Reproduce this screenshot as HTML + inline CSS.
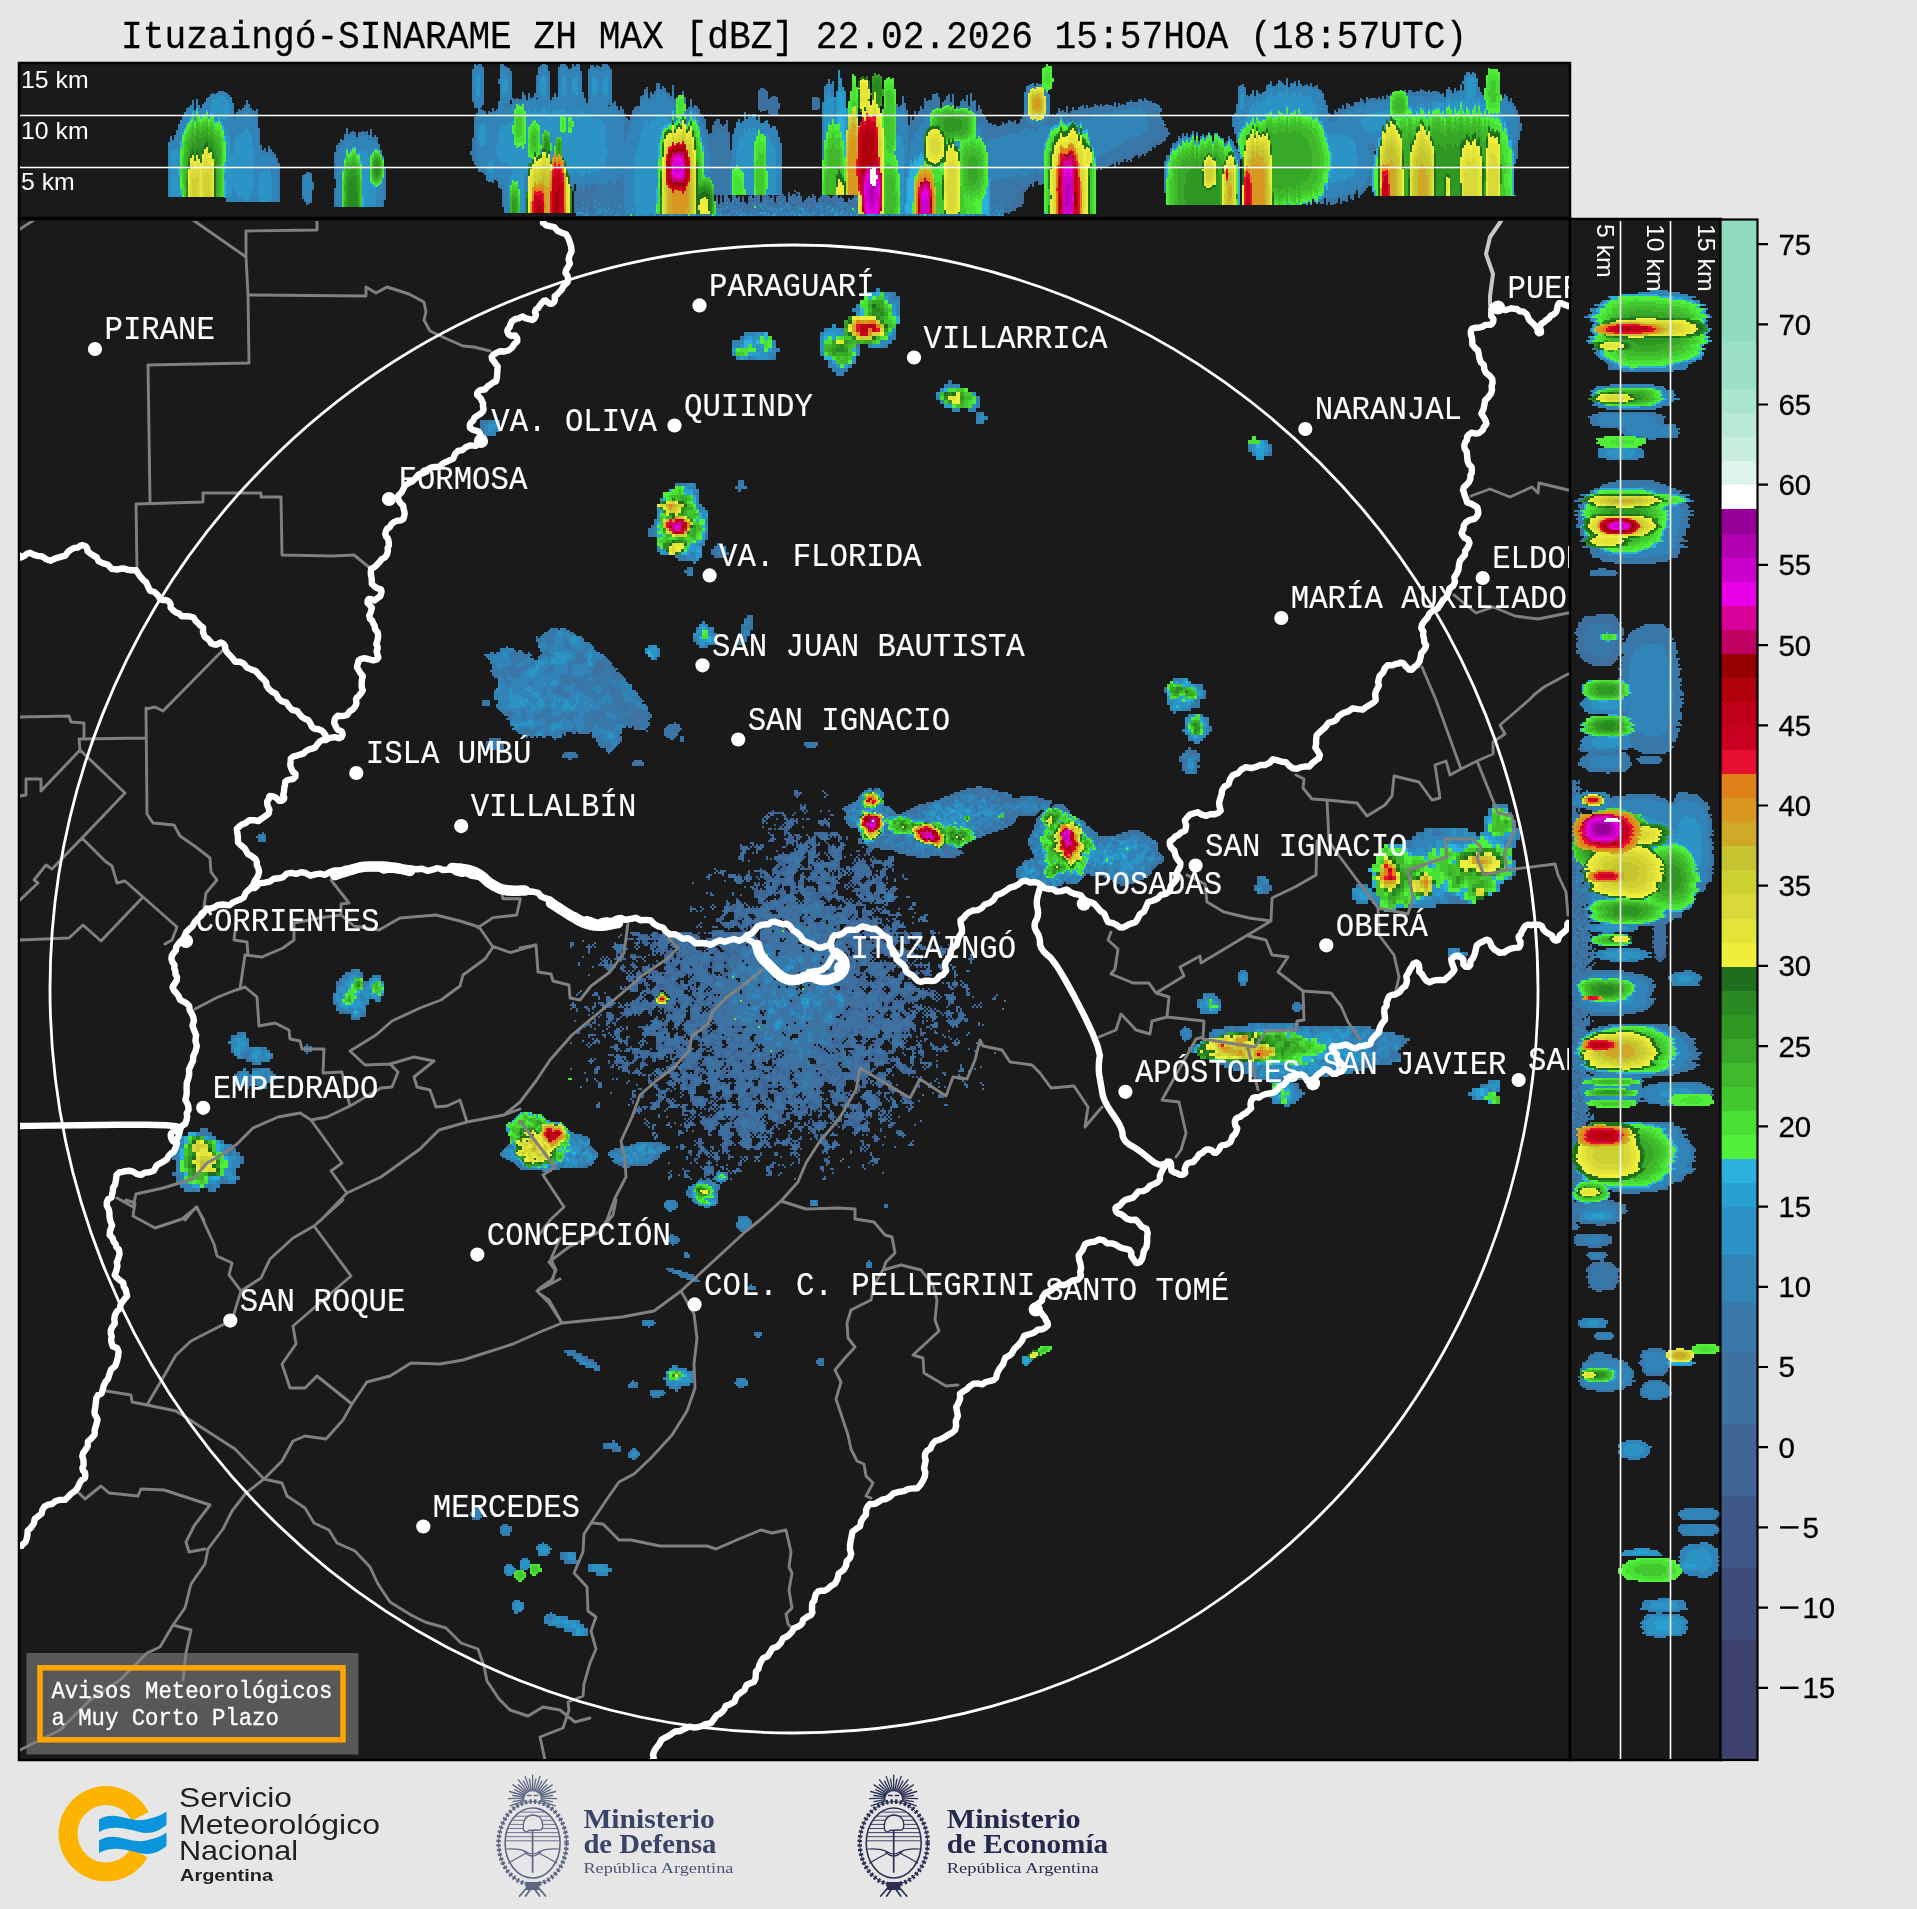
<!DOCTYPE html>
<html><head><meta charset="utf-8"><title>Ituzaingo SINARAME ZH MAX</title>
<style>
html,body{margin:0;padding:0;background:#e6e6e6;}
body{width:1917px;height:1909px;overflow:hidden;position:relative;font-family:"Liberation Sans",sans-serif;}
svg{position:absolute;left:0;top:0;display:block}
.m{font-family:"Liberation Mono",monospace;}
.s{font-family:"Liberation Sans",sans-serif;}
.f{font-family:"Liberation Serif",serif;}
</style></head><body>
<svg width="1917" height="1909" viewBox="0 0 1917 1909">
<defs>
<filter id="idf" x="-2%" y="-20%" width="104%" height="140%"><feOffset dx="0" dy="0"/></filter>
<filter id="nf" x="-2%" y="-20%" width="104%" height="140%" color-interpolation-filters="sRGB"><feColorMatrix type="saturate" values="0"/></filter>
<clipPath id="cm"><rect x="20" y="221" width="1549" height="1538"/></clipPath>
<clipPath id="ct"><rect x="20" y="64" width="1549" height="152"/></clipPath>
<clipPath id="cr"><rect x="1572" y="221" width="148" height="1538"/></clipPath>
</defs>
<rect width="1917" height="1909" fill="#e6e6e6"/>

<text filter="url(#nf)" class="m" x="121" y="47.8" font-size="36.2" fill="#000" stroke="#000" stroke-width="0.25" transform="translate(0,47.8) scale(1,1.07) translate(0,-47.8)" xml:space="preserve">Ituzaingó-SINARAME ZH MAX [dBZ] 22.02.2026 15:57HOA (18:57UTC)</text>
<rect x="19" y="63" width="1551" height="155" fill="#1a1a1a" stroke="#000" stroke-width="2.5"/>
<rect x="19" y="219" width="1551" height="1541" fill="#1a1a1a" stroke="#000" stroke-width="2.5"/>
<rect x="1570" y="219" width="151" height="1541" fill="#1a1a1a" stroke="#000" stroke-width="2.5"/>
<g clip-path="url(#ct)"><g fill="none" stroke-width="2.15" shape-rendering="crispEdges">
<path stroke="#3e6496" d="M577 200v16M579 196v20M581 196v20M583 196v20M585 198v18M587 196v20M589 194v22M591 202v14M593 198v18M595 198v18M597 200v16M599 204v12M601 194v22M603 194v22M605 190v26M607 198v18M609 196v20M611 190v26M613 202v14M615 204v12M617 198v2M617 202v14M619 204v12M621 192v2M621 196v20M623 190v26M625 200v16M627 196v20M629 198v18M631 196v20M633 186v30M635 194v22M637 196v20M639 196v2M639 200v16M641 198v18M643 200v16M645 200v16M647 198v18M649 194v22M651 190v2M651 194v22M653 196v20M655 194v2M655 198v18M657 194v22M659 194v22M661 198v18M663 196v20M665 202v14M667 192v2M667 196v20M669 192v24M671 192v24M673 204v12M675 198v18M677 192v24M679 198v18M681 190v2M681 194v22M683 194v22M685 196v20M687 198v18M689 192v24M691 198v2M691 202v14M693 196v20M695 194v22M697 196v2M697 200v16M699 200v16M701 204v12M703 188v2M703 194v22M705 198v18M707 196v20M709 198v2M709 202v14M711 200v16M713 198v18M715 204v12M717 194v22M719 204v12M721 194v22M723 202v14M725 186v30M727 192v24M729 198v18M731 202v14M733 192v24M735 194v22M737 198v18M739 196v20M741 202v14M743 196v20M745 202v14M747 204v12M749 196v20M751 192v24M753 198v18M755 194v22M757 190v2M757 194v22M759 188v28M761 202v14M763 192v24M765 194v22M767 194v22M769 196v20M771 198v18M773 188v28M775 202v14M777 196v20M779 194v22M781 190v26M783 194v22M785 196v20M787 202v14M789 192v24M791 196v20M793 194v22M795 190v2M795 194v22M797 192v2M797 196v20M799 192v24M801 196v20M803 202v14M805 200v16M807 198v18M809 196v20M811 198v18M813 194v22M815 196v20M817 202v14M819 198v18M821 196v20M823 188v2M823 192v24M825 184v32M827 194v22M829 196v20M831 198v18M833 196v20M835 194v22M837 184v32M839 198v18M841 196v20M843 198v18M845 202v14M847 202v14M849 198v18M851 200v16M853 198v18M855 194v22M857 194v22M859 192v24M861 194v22M863 196v20M865 196v20M867 196v20M869 190v26M871 188v2M871 192v24M873 194v22M875 200v16M877 202v14M879 192v24M881 192v24M883 198v18M885 196v20M887 196v20M889 200v16M891 190v26M893 194v22M895 196v20M897 196v2M897 200v16M899 198v18M901 200v16M903 198v18M905 200v16M907 196v2M907 200v16M909 204v12M911 202v14M913 200v16M915 194v2M915 198v18M917 188v2M917 192v24M919 206v10M921 196v20M923 192v24M925 200v16M927 204v12M929 196v2M929 200v16M931 198v18M933 198v18M935 202v14M937 200v16M939 202v14M941 192v24M943 204v12M945 196v20M947 200v16M949 200v16M951 204v12M953 200v16M955 196v20M957 204v12M959 202v14M961 202v14M963 200v16M965 202v14M967 204v12M969 204v12M971 202v14M973 198v18M975 202v14M977 198v18M979 196v20M981 200v2M981 204v12M983 200v16M985 200v16M987 196v20M989 200v16M991 198v18M993 206v10M995 194v22M997 208v8M999 200v16M1001 202v14M1003 200v16"/>
<path stroke="#3e70a0" d="M577 200v2M577 204v12M579 198v18M581 196v4M581 202v14M583 196v20M585 200v16M587 196v20M589 198v18M591 202v2M591 206v10M593 198v2M593 204v12M595 198v18M597 200v16M599 204v12M601 198v2M601 202v14M603 196v20M605 192v8M605 202v2M605 206v10M607 198v18M609 198v18M611 190v10M611 202v14M613 202v2M613 206v10M615 204v4M615 210v6M617 202v14M619 204v12M621 196v20M623 192v6M623 200v16M625 200v16M627 196v6M627 206v10M629 198v2M629 202v14M631 196v20M633 192v6M633 202v14M635 194v22M637 196v20M639 196v2M639 200v16M641 198v2M641 202v4M641 208v8M643 200v16M645 200v16M647 202v14M649 194v4M649 200v16M651 194v4M651 200v16M653 196v4M653 202v14M655 198v2M655 202v14M657 194v22M659 194v4M659 200v16M661 198v2M661 202v14M663 198v4M663 204v12M665 202v14M667 196v20M669 194v14M669 210v6M671 196v20M673 204v12M675 198v18M677 192v2M677 196v20M679 200v16M681 194v4M681 200v16M683 196v2M683 200v16M685 196v2M685 200v16M687 198v8M687 208v8M689 194v2M689 198v18M691 202v14M693 198v18M695 194v22M697 202v14M699 202v14M701 204v12M703 194v22M705 198v18M707 196v2M707 200v16M709 202v14M711 200v8M711 210v6M713 198v12M713 212v4M715 204v12M717 198v18M719 204v2M719 208v8M721 198v18M723 204v12M725 188v2M725 194v22M727 192v2M727 196v4M727 202v8M727 212v4M729 198v4M729 204v6M729 212v4M731 202v14M733 192v6M733 200v16M735 196v6M735 204v12M737 198v18M739 198v18M741 202v14M743 198v18M745 202v14M747 204v12M749 198v2M749 202v14M751 196v20M753 198v2M753 202v14M755 194v22M757 194v2M757 198v18M759 190v2M759 196v20M761 202v14M763 194v2M763 198v18M765 194v2M765 198v18M767 194v22M769 196v2M769 200v16M771 198v18M773 188v6M773 198v18M775 204v12M777 198v4M777 204v12M779 196v20M781 192v2M781 196v2M781 200v16M783 198v18M785 196v20M787 202v14M789 194v22M791 196v6M791 204v12M793 194v10M793 206v10M795 194v10M795 206v10M797 196v20M799 192v24M801 198v18M803 202v14M805 200v2M805 204v12M807 198v18M809 196v20M811 198v4M811 204v12M813 198v18M815 196v2M815 200v16M817 202v14M819 198v18M821 200v16M823 192v8M823 202v14M825 188v2M825 192v24M827 196v6M827 204v12M829 196v20M831 198v2M831 202v14M833 198v6M833 206v10M835 194v22M837 190v2M837 194v22M839 198v18M841 198v18M843 198v18M845 202v6M845 210v6M847 202v14M849 198v4M849 204v12M851 200v16M853 198v18M855 194v22M857 196v20M859 192v2M859 196v2M859 200v16M861 194v22M863 196v20M865 196v20M867 196v2M867 200v16M869 192v16M869 210v6M871 192v4M871 198v18M873 196v2M873 200v16M875 200v8M875 210v6M877 202v14M879 194v8M879 204v12M881 192v4M881 200v16M883 198v18M885 196v10M885 208v8M887 196v4M887 202v6M887 210v6M889 200v16M891 192v6M891 200v16M893 194v22M895 196v6M895 204v12M897 200v16M899 198v18M901 200v16M903 198v18M905 200v16M907 200v16M909 204v12M911 204v6M911 212v4M913 200v16M915 198v18M917 194v6M917 202v14M919 206v10M921 196v20M923 196v20M925 200v16M927 204v12M929 200v16M931 198v18M933 200v16M935 202v14M937 200v2M937 204v12M939 204v12M941 196v20M943 204v12M945 196v20M947 200v16M949 200v16M951 204v12M953 200v2M953 206v10M955 196v20M957 204v12M959 204v12M961 204v12M963 200v16M965 202v14M967 204v12M969 204v12M971 202v14M973 200v2M973 204v12M975 202v14M977 198v18M979 196v20M981 204v12M983 200v16M985 200v16M987 196v10M987 208v8M989 202v14M991 200v2M991 204v12M993 206v10M995 196v16M995 214v2M997 208v8M999 200v16M1001 202v2M1001 206v10M1003 200v16M471 151v4M473 69v33M473 138v23M475 64v44M475 117v48M477 65v43M477 113v54M479 64v108M481 64v44M481 109v63M483 67v38M483 110v63M485 111v64M487 114v67M489 111v71M491 112v70M493 108v75M495 111v69M497 109v72M499 79v5M499 101v87M501 64v125M503 64v143M505 66v147M507 67v146M509 68v145M511 71v29M511 104v109M513 98v115M515 99v114M517 98v115M519 99v114M521 99v114M523 92v121M525 95v118M527 100v113M529 93v120M531 98v115M533 97v116M535 93v120M537 75v23M537 99v114M539 67v146M541 65v148M543 64v149M545 64v149M547 65v148M549 71v142M551 100v113M553 97v116M555 93v120M557 97v116M559 67v146M561 64v149M563 64v149M565 64v149M567 66v147M569 69v144M571 68v119M571 188v25M573 64v127M575 66v118M575 191v22M577 64v149M579 64v149M581 71v142M583 92v121M585 98v115M587 103v110M589 69v144M591 65v148M593 65v148M595 67v146M597 65v148M599 66v147M601 67v146M603 64v149M605 64v149M607 64v149M609 66v39M609 106v107M611 69v144M613 103v110M615 101v112M617 106v107M619 110v103M621 106v107M623 109v104M625 114v99M627 118v95M629 137v76M631 149v5M631 171v42M633 171v42M635 172v41M637 178v35M639 182v31M709 147v39M711 133v62M713 125v70M715 121v74M717 119v76M719 119v76M721 124v71M723 126v69M725 124v71M727 120v75M729 132v63M731 150v45M733 134v61M735 128v67M737 122v73M739 119v76M741 123v72M743 121v74M745 112v83M747 119v76M749 114v81M751 117v78M753 114v81M755 114v81M757 120v75M759 90v20M759 115v80M761 88v24M761 123v72M763 88v23M763 123v72M765 89v22M765 121v74M767 91v19M767 120v75M769 99v15M769 124v71M771 97v18M771 128v67M773 96v19M773 126v69M775 96v20M775 126v69M777 97v18M777 130v65M779 103v6M779 137v58M781 143v52M813 97v13M815 97v13M817 97v13M819 98v11M823 102v93M825 86v109M827 84v111M829 79v116M831 84v111M833 81v114M835 97v98M837 91v104M839 70v125M841 78v117M843 87v108M845 91v104M847 108v87M849 101v94M851 91v104M853 74v121M855 76v119M857 87v108M859 126v69M917 177v7M919 173v14M921 170v20M923 158v35M925 153v42M927 150v46M929 150v45M931 147v50M933 144v55M935 144v55M937 147v48M939 147v48M941 142v56M943 140v59M945 142v55M947 139v60M949 140v58M951 139v59M953 138v60M955 137v60M957 138v58M959 133v76M961 134v76M963 136v74M965 135v76M967 136v75M969 132v82M971 135v77M973 133v81M975 130v84M977 130v84M979 129v85M981 132v81M983 127v87M985 129v85M987 125v89M989 128v85M991 123v91M993 125v89M995 124v90M997 126v87M999 126v87M1001 125v88M1003 122v92M1005 124v89M1007 123v90M1009 120v94M1011 121v91M1013 122v89M1015 120v91M1017 124v84M1019 123v84M1021 119v88M1023 116v88M1025 115v77M1027 115v75M1029 117v70M1031 119v65M1033 115v72M1035 120v62M1037 120v61M1039 115v70M1041 114v71M1043 114v70M1045 112v74M1047 113v71M1049 114v68M1051 116v63M1053 114v66M1055 115v63M1057 113v66M1059 108v75M1061 111v68M1063 110v69M1065 112v64M1067 106v75M1069 113v60M1071 111v64M1073 107v71M1075 110v64M1077 110v64M1079 107v69M1081 106v70M1083 105v70M1085 108v64M1087 105v69M1089 108v62M1091 107v63M1093 107v63M1095 104v68M1097 105v65M1099 106v62M1101 104v66M1103 106v61M1105 105v63M1107 104v63M1109 105v61M1111 105v60M1113 106v58M1115 102v66M1117 107v55M1119 103v62M1121 105v57M1123 104v58M1125 105v54M1127 102v60M1129 102v58M1131 100v62M1133 102v56M1135 102v54M1137 102v53M1139 99v59M1141 99v57M1143 101v53M1145 98v58M1147 100v53M1149 101v50M1151 101v50M1153 103v44M1155 103v45M1157 104v41M1159 105v40M1161 108v4M1161 117v27M1163 120v22M1165 124v2M1165 127v14M1167 128v9M1169 132v3"/>
<path stroke="#3878a8" d="M577 204v2M577 208v2M577 212v4M579 198v4M579 208v8M581 202v2M581 206v10M583 202v8M583 212v4M585 204v2M585 210v2M585 214v2M587 196v2M587 200v4M587 208v8M589 204v2M589 208v4M589 214v2M591 210v2M593 204v2M593 208v8M595 200v2M595 204v4M595 210v6M597 204v12M599 204v6M599 212v2M601 208v8M603 200v16M605 198v2M605 206v6M605 214v2M607 210v2M607 214v2M609 202v2M609 208v8M611 194v4M611 204v12M613 208v6M615 204v2M615 210v6M617 202v14M619 206v2M619 210v6M621 206v4M621 212v4M623 210v6M625 202v4M625 208v8M627 200v2M627 206v10M629 198v2M629 206v4M629 212v4M631 200v2M631 204v8M631 214v2M633 192v2M633 196v2M633 204v10M635 196v6M635 204v4M635 212v4M637 200v2M637 206v4M637 212v4M639 202v4M639 208v4M639 214v2M641 210v2M641 214v2M643 204v6M643 214v2M645 200v2M645 206v2M645 210v6M647 206v2M647 210v2M647 214v2M649 200v6M649 208v2M649 214v2M651 208v2M651 212v4M653 196v2M653 204v2M653 208v8M655 202v2M655 208v8M657 196v4M657 202v2M657 206v2M657 210v2M659 206v2M659 210v6M661 202v2M661 206v2M661 210v6M663 206v10M665 202v14M667 196v2M667 200v6M667 208v8M669 198v4M669 206v2M669 210v6M671 202v10M671 214v2M673 204v2M673 208v8M675 200v8M675 212v4M677 198v2M677 202v2M677 206v6M677 214v2M679 202v2M679 206v2M679 210v6M681 196v2M681 202v6M681 210v6M683 204v2M683 210v4M685 200v2M685 204v12M687 202v4M687 208v2M687 212v4M689 194v2M689 202v2M689 210v6M691 204v12M693 202v14M695 204v6M695 212v4M697 204v6M697 212v4M699 206v2M699 210v6M701 208v2M701 212v4M703 206v4M703 214v2M705 198v18M707 200v4M707 208v8M709 202v14M711 210v6M713 200v2M713 204v6M713 212v4M715 204v2M715 210v6M717 200v4M717 208v8M719 208v8M721 208v2M721 212v4M723 204v2M723 208v4M723 214v2M725 198v2M725 202v2M725 208v4M725 214v2M727 196v2M727 202v2M727 206v4M727 212v4M729 200v2M729 206v4M729 212v4M731 202v2M731 206v8M733 200v8M733 210v2M733 214v2M735 196v4M735 206v2M735 210v6M737 200v4M737 206v2M737 210v4M739 202v2M739 210v6M741 208v8M743 202v6M743 210v6M745 208v8M747 208v4M747 214v2M749 202v2M749 208v2M749 212v4M751 196v4M751 204v2M751 208v2M751 212v4M753 202v4M753 208v4M753 214v2M755 198v2M755 202v10M755 214v2M757 204v12M759 196v2M759 200v2M759 204v2M759 208v8M761 204v4M761 210v4M763 202v8M763 212v4M765 198v4M765 204v2M765 210v6M767 198v6M767 206v10M769 200v2M769 204v12M771 198v6M771 206v6M771 214v2M773 206v10M775 206v10M777 208v8M779 198v2M779 202v6M779 210v6M781 196v2M781 200v4M781 206v10M783 198v2M783 204v12M785 202v2M785 206v2M785 210v4M787 204v6M787 212v4M789 194v2M789 198v2M789 204v8M789 214v2M791 198v2M791 206v2M791 210v6M793 206v10M795 202v2M795 210v6M797 200v2M797 206v10M799 194v4M799 202v8M799 212v4M801 202v2M801 206v4M801 212v4M803 202v2M803 206v10M805 200v2M805 204v2M805 208v2M805 212v4M807 208v8M809 200v8M809 210v6M811 198v2M811 208v4M811 214v2M813 204v2M813 208v8M815 200v2M815 204v2M815 208v2M815 212v4M817 206v6M817 214v2M819 200v4M819 206v2M819 210v2M819 214v2M821 200v2M821 204v12M823 202v14M825 192v2M825 200v6M825 210v6M827 200v2M827 204v10M829 206v10M831 204v4M831 210v6M833 198v4M833 206v6M833 214v2M835 194v2M835 198v4M835 204v2M835 208v8M837 206v4M837 212v4M839 202v6M839 212v4M841 198v2M841 202v2M841 206v10M843 200v2M843 204v12M845 202v6M845 210v6M847 202v4M847 208v8M849 200v2M849 208v4M851 204v2M851 208v2M851 212v4M853 198v2M853 206v6M855 198v2M855 202v2M855 206v10M857 196v6M857 208v8M859 200v2M859 204v4M859 212v4M861 198v2M861 202v8M863 202v12M865 200v2M865 206v10M867 202v14M869 196v4M869 202v2M869 206v2M869 210v6M871 194v2M871 198v2M871 202v10M871 214v2M873 200v2M873 210v6M875 204v2M875 210v2M875 214v2M877 204v4M877 210v2M877 214v2M879 200v2M879 204v12M881 202v6M881 212v4M883 200v2M883 206v2M883 210v6M885 200v2M885 204v2M885 208v8M887 206v2M887 210v6M889 202v8M891 194v4M891 200v16M893 200v8M893 212v4M895 200v2M895 208v6M897 200v2M897 204v2M897 208v2M897 212v4M899 200v2M899 206v2M899 210v6M901 202v2M901 206v10M903 200v6M903 210v4M905 200v6M905 210v6M907 200v4M907 206v10M909 206v4M909 212v4M911 214v2M913 200v6M913 208v8M915 202v2M915 206v4M915 212v4M917 206v6M917 214v2M919 206v10M921 196v2M921 202v2M921 206v2M921 210v2M921 214v2M923 200v4M923 206v10M925 206v10M927 206v2M927 210v6M929 206v6M929 214v2M931 202v14M933 200v2M933 204v12M935 202v2M935 206v10M937 204v8M937 214v2M939 204v12M941 200v4M941 206v2M941 210v2M941 214v2M943 206v2M943 210v2M943 214v2M945 200v2M945 208v8M947 202v10M947 214v2M949 206v6M949 214v2M951 206v10M953 206v6M953 214v2M955 204v2M955 208v8M957 204v12M959 204v2M959 208v8M961 206v10M963 202v14M965 206v10M967 206v10M969 206v4M969 214v2M971 204v2M971 208v8M973 204v4M973 210v6M975 204v12M977 204v4M977 210v2M977 214v2M979 196v6M979 204v12M981 206v2M981 212v4M983 200v4M983 206v6M983 214v2M985 200v2M985 206v6M987 200v4M987 212v4M989 208v8M991 200v2M991 208v8M993 206v2M993 210v4M995 198v4M995 204v4M995 210v2M995 214v2M997 208v8M999 204v4M999 210v6M1001 206v10M1003 202v2M1003 208v8M225 174v24M227 129v73M229 120v82M231 115v87M233 111v91M235 114v88M237 112v90M239 109v93M241 110v92M243 108v94M245 105v97M247 100v102M249 104v98M251 108v94M253 110v92M255 111v91M257 109v93M259 128v74M261 145v57M263 150v52M265 148v54M267 152v50M269 146v56M271 149v53M273 152v50M275 154v48M277 158v44M279 163v39M303 175v24M305 174v28M307 172v33M309 172v32M311 173v30M313 182v8M335 152v27M335 188v19M337 145v62M339 143v64M341 139v68M343 140v67M345 134v73M347 128v79M349 134v73M351 132v75M353 131v76M355 132v75M357 137v70M359 132v75M361 132v75M363 131v76M365 132v75M367 131v76M369 135v72M371 129v78M373 137v70M375 135v72M377 137v70M379 144v63M381 150v57M383 156v51M385 167v33M471 151v4M473 69v33M473 138v23M475 64v44M475 117v48M477 65v43M477 113v54M479 64v108M481 64v44M481 109v63M483 67v38M483 110v63M485 111v64M487 114v67M489 111v71M491 112v70M493 108v75M495 111v69M497 109v72M499 79v5M499 101v87M501 64v125M503 64v143M505 66v147M507 67v146M509 68v145M511 71v29M511 104v109M513 98v115M515 99v114M517 98v115M519 99v114M521 99v114M523 92v121M525 95v118M527 100v113M529 93v120M531 98v115M533 97v116M535 93v120M537 75v23M537 99v114M539 67v146M541 65v148M543 64v149M545 64v149M547 65v148M549 71v142M551 100v113M553 97v116M555 93v120M557 97v116M559 67v146M561 64v149M563 64v149M565 64v149M567 66v147M569 69v144M571 68v119M571 188v25M573 64v127M575 66v118M577 64v122M579 64v128M581 71v118M583 92v101M585 98v90M587 103v80M589 69v121M591 65v123M593 65v122M593 197v11M595 67v117M595 191v22M597 65v122M597 188v25M599 66v147M601 67v146M603 64v149M605 64v149M607 64v149M609 66v39M609 106v77M609 184v29M611 69v144M613 103v110M615 101v112M617 106v77M617 186v27M619 110v70M619 189v24M621 106v78M621 191v22M623 109v72M625 114v63M627 118v55M629 137v37M631 149v5M621 146v43M621 192v22M623 136v78M625 128v86M627 122v92M629 120v94M631 116v98M633 110v104M635 107v107M637 106v108M639 106v108M641 96v118M643 95v119M645 89v125M647 87v127M649 98v116M651 92v122M653 94v120M655 91v123M657 83v131M659 83v131M661 89v125M663 86v128M665 88v126M667 92v122M669 93v121M671 96v118M673 85v129M675 99v115M677 97v117M679 95v119M681 95v119M683 91v123M685 97v117M687 109v105M689 107v107M691 99v115M693 107v107M695 105v109M697 106v108M699 109v105M701 114v100M703 115v99M705 119v95M707 129v85M709 134v80M711 146v68M713 184v30M715 201v13M711 145v49M713 135v60M715 130v65M717 127v68M719 126v69M721 131v64M723 132v63M725 132v63M727 131v64M729 145v48M731 161v34M733 134v61M735 128v67M737 122v73M739 119v76M741 123v72M743 121v74M745 112v83M747 119v76M749 114v81M751 117v78M753 114v81M755 114v81M757 120v75M759 115v80M761 123v72M763 123v72M765 121v74M767 120v75M769 124v71M771 128v67M773 126v69M775 126v69M777 130v65M779 137v58M781 143v52M823 102v93M825 86v109M827 84v111M829 79v116M831 84v111M833 81v114M835 97v98M837 91v104M839 70v125M841 78v117M843 87v108M845 91v104M847 108v87M849 101v94M851 91v104M853 74v121M855 76v119M857 87v108M859 126v69M857 159v17M859 81v27M859 127v87M861 77v35M861 122v92M863 76v138M865 78v32M865 111v103M867 76v138M869 81v133M871 93v2M871 105v109M873 76v138M875 73v141M877 75v139M879 74v140M881 76v30M881 113v101M883 89v7M883 109v105M885 80v134M887 78v136M889 77v137M891 79v135M893 78v136M895 89v125M897 104v110M899 107v107M901 105v109M903 96v118M905 103v111M907 110v104M909 134v80M899 161v33M901 150v54M903 134v80M905 123v91M907 127v87M909 125v89M911 115v99M913 120v94M915 111v103M917 115v99M919 111v103M921 106v108M923 109v105M925 98v116M927 101v113M929 100v114M931 100v114M933 94v120M935 94v120M937 93v121M939 97v117M941 108v106M943 102v112M945 100v114M947 96v118M949 94v120M951 102v112M953 94v120M955 109v105M957 106v108M959 106v108M961 101v113M963 99v115M965 101v113M967 95v119M969 106v108M971 93v121M973 101v113M975 100v114M977 111v103M979 105v109M981 109v105M983 114v100M985 115v99M987 120v94M989 123v91M991 127v87M993 133v39M993 193v21M927 173v11M929 170v16M931 165v24M933 152v40M935 150v43M937 152v39M939 151v40M941 147v47M943 144v51M945 145v49M947 143v52M949 143v51M951 142v52M953 141v53M955 141v53M957 141v52M959 136v60M961 137v58M963 139v53M965 138v64M967 139v65M969 135v72M971 138v68M973 135v73M975 133v77M977 133v77M979 132v78M981 135v73M983 130v80M985 131v78M987 128v82M989 131v78M991 126v84M993 128v81M995 127v82M997 129v79M999 128v80M1001 128v80M1003 124v85M1005 127v81M1007 126v81M1009 123v85M1011 123v83M1013 125v79M1015 123v79M1017 126v57M1017 188v5M1019 126v56M1021 122v64M1023 119v69M1025 118v69M1027 118v69M1029 120v64M1031 121v61M1033 118v67M1035 122v58M1037 123v55M1039 118v64M1041 117v66M1043 117v65M1045 115v68M1047 116v65M1049 116v64M1051 118v59M1053 116v62M1055 118v57M1057 116v61M1059 111v69M1061 114v63M1063 113v64M1065 114v60M1067 109v69M1069 116v55M1071 114v58M1073 110v65M1075 112v60M1077 112v59M1079 109v64M1081 108v65M1083 108v65M1085 111v58M1087 107v65M1089 111v57M1091 110v58M1093 110v57M1095 107v62M1097 108v59M1099 109v57M1101 107v60M1103 109v56M1105 108v57M1107 107v58M1109 107v57M1111 107v55M1113 107v54M1115 104v61M1117 107v52M1119 104v58M1121 105v54M1123 104v55M1125 105v51M1127 102v56M1129 102v54M1131 100v58M1133 102v52M1135 102v51M1137 102v49M1139 99v55M1141 99v53M1143 101v48M1145 98v53M1147 100v48M1149 101v45M1151 101v44M1153 103v39M1155 103v38M1157 104v34M1159 105v32M1161 108v4M1161 117v16M1163 120v10M1165 124v2M1165 161v32M1167 155v50M1169 155v50M1171 148v57M1173 143v62M1175 143v62M1177 141v64M1179 136v69M1181 138v67M1183 133v72M1185 136v69M1187 133v72M1189 137v68M1191 135v70M1193 131v74M1195 140v65M1197 132v73M1199 141v64M1201 136v69M1203 134v71M1205 137v68M1207 135v70M1209 132v73M1211 135v70M1213 141v64M1215 133v72M1217 133v72M1219 136v69M1221 138v67M1223 138v67M1225 143v62M1227 141v64M1229 136v69M1231 139v66M1233 116v11M1233 141v64M1235 113v21M1235 146v59M1237 104v39M1237 149v56M1239 86v66M1239 153v52M1241 85v74M1243 84v121M1245 87v118M1247 95v110M1249 96v109M1251 94v111M1253 90v115M1255 96v109M1257 90v115M1259 93v112M1261 94v111M1263 92v113M1265 91v114M1267 85v120M1269 84v121M1271 81v124M1273 86v119M1275 86v119M1277 84v121M1279 80v125M1281 81v124M1283 83v122M1285 85v120M1287 78v127M1289 87v118M1291 83v122M1293 83v122M1295 81v124M1297 86v119M1299 80v125M1301 84v121M1303 86v118M1305 85v119M1307 84v121M1309 86v116M1311 83v122M1313 87v112M1315 86v116M1317 85v119M1319 89v113M1321 90v114M1323 93v111M1325 100v98M1327 105v100M1329 113v89M1331 116v89M1333 115v90M1335 116v88M1337 117v86M1339 120v78M1341 114v90M1343 116v85M1345 114v87M1347 113v89M1349 118v77M1351 114v85M1353 113v87M1355 118v76M1357 121v69M1359 115v83M1361 119v76M1363 120v73M1365 123v68M1367 125v63M1369 128v58M1371 131v55M1373 144v38M1375 154v22M1325 120v9M1327 116v19M1329 118v20M1331 114v27M1333 115v27M1335 110v34M1337 112v33M1339 108v40M1341 109v39M1343 105v46M1345 109v39M1347 103v49M1349 104v47M1351 106v43M1353 106v42M1355 102v49M1357 102v48M1359 102v47M1361 98v54M1363 100v50M1365 103v44M1367 97v54M1369 99v50M1371 98v51M1373 98v50M1373 166v26M1375 98v53M1375 155v41M1377 99v97M1379 97v99M1381 99v97M1383 96v100M1385 99v97M1387 95v101M1389 96v100M1391 94v102M1393 92v104M1395 91v105M1397 91v105M1399 91v105M1401 90v106M1403 91v105M1405 90v106M1407 93v103M1409 90v106M1411 90v106M1413 92v104M1415 92v104M1417 91v105M1419 91v105M1421 89v107M1423 90v106M1425 91v105M1427 92v104M1429 90v106M1431 92v104M1433 91v105M1435 91v105M1437 91v105M1439 92v104M1441 94v102M1443 93v103M1445 97v99M1447 89v107M1449 87v109M1451 90v106M1453 93v103M1455 88v108M1457 91v105M1459 90v106M1461 84v112M1463 81v3M1463 90v106M1465 75v121M1467 72v124M1469 72v124M1471 74v122M1473 72v124M1475 73v123M1477 78v118M1479 87v109M1481 92v104M1483 95v101M1485 88v108M1487 75v121M1489 68v128M1491 69v127M1493 69v127M1495 69v127M1497 69v127M1499 72v124M1501 94v102M1503 98v98M1505 94v102M1507 96v100M1509 101v95M1511 98v98M1513 103v93M1515 106v58M1515 195v1M1517 110v49M1519 115v25M1521 123v8"/>
<path stroke="#3084b8" d="M577 208v2M577 212v4M579 212v2M581 210v4M583 202v2M583 206v4M583 212v2M585 214v2M587 202v2M587 208v2M587 212v4M589 214v2M595 200v2M595 206v2M595 214v2M597 210v4M599 204v2M599 208v2M599 212v2M601 208v6M603 208v2M603 212v2M605 208v4M605 214v2M607 210v2M607 214v2M609 202v2M609 208v2M609 212v2M611 194v2M611 210v6M613 210v2M615 204v2M615 210v2M615 214v2M617 210v6M619 206v2M619 212v4M621 208v2M621 212v2M625 202v4M625 214v2M627 210v6M629 212v2M631 210v2M631 214v2M633 208v4M635 212v4M637 212v4M639 208v4M639 214v2M641 210v2M641 214v2M643 204v2M643 214v2M645 210v2M645 214v2M647 206v2M647 210v2M647 214v2M649 202v2M649 208v2M649 214v2M651 208v2M653 204v2M653 212v4M655 214v2M657 206v2M657 210v2M659 206v2M659 212v2M661 202v2M661 214v2M663 214v2M665 206v4M665 214v2M667 202v2M667 208v2M667 212v4M669 206v2M669 212v2M671 202v2M671 206v2M671 210v2M671 214v2M673 208v2M673 214v2M675 206v2M675 214v2M677 206v6M679 206v2M679 210v6M681 202v2M681 206v2M681 210v2M681 214v2M683 204v2M683 210v4M685 204v6M685 212v2M687 208v2M689 214v2M691 210v6M693 202v4M693 208v8M695 204v2M695 212v4M697 212v2M699 210v2M703 206v2M705 204v2M705 208v6M709 212v2M711 212v4M713 208v2M713 214v2M715 214v2M717 208v2M717 212v4M719 210v2M719 214v2M721 208v2M721 212v4M723 208v2M725 198v2M725 208v2M725 214v2M727 202v2M727 206v2M727 214v2M729 214v2M731 210v2M733 200v2M733 206v2M733 210v2M735 198v2M735 206v2M735 210v2M735 214v2M737 202v2M737 210v4M739 214v2M741 208v4M741 214v2M743 206v2M743 212v4M745 212v4M749 202v2M749 214v2M751 212v4M753 214v2M755 202v6M755 210v2M755 214v2M759 204v2M759 212v4M761 204v4M761 212v2M763 208v2M763 212v2M765 200v2M765 204v2M765 212v4M767 206v2M767 214v2M769 208v2M769 212v4M771 200v2M771 208v2M773 208v4M773 214v2M775 208v2M775 212v4M777 208v4M777 214v2M779 202v2M779 210v2M781 202v2M781 208v2M781 212v2M783 208v2M783 214v2M785 206v2M785 212v2M787 204v2M787 212v4M789 198v2M789 206v6M789 214v2M791 206v2M791 212v4M793 210v4M795 202v2M795 210v6M797 206v2M797 212v2M799 208v2M799 212v4M801 208v2M801 214v2M803 208v8M805 204v2M805 212v2M807 208v2M807 212v4M809 212v4M811 214v2M813 208v2M813 212v4M815 200v2M815 212v2M817 206v2M817 210v2M819 206v2M821 204v6M821 214v2M823 208v2M823 214v2M827 204v10M829 206v2M831 210v4M833 206v6M835 210v6M837 208v2M837 212v4M839 202v2M839 214v2M841 206v2M841 212v4M843 204v2M843 210v2M843 214v2M845 212v4M847 204v2M847 208v2M847 212v4M849 200v2M849 210v2M851 212v4M853 208v4M855 210v4M857 198v2M857 214v2M861 204v4M863 210v2M865 206v4M865 212v2M867 202v6M867 210v6M869 206v2M869 210v6M871 210v2M871 214v2M873 200v2M873 210v2M873 214v2M875 214v2M877 206v2M877 210v2M879 206v6M879 214v2M881 202v4M881 214v2M883 206v2M883 210v2M885 204v2M885 212v4M887 210v6M889 204v2M889 208v2M891 200v2M891 204v2M891 210v2M893 202v2M893 212v4M895 208v2M895 212v2M897 212v4M899 200v2M899 212v4M901 202v2M901 206v4M901 212v2M903 212v2M905 204v2M905 210v4M907 202v2M907 210v6M909 206v4M913 202v2M913 212v4M915 208v2M915 212v4M917 210v2M919 208v2M921 202v2M921 206v2M921 210v2M921 214v2M923 200v2M923 210v2M923 214v2M925 208v8M927 206v2M929 206v2M929 214v2M931 206v2M931 210v6M933 204v6M933 212v4M935 210v6M937 214v2M939 208v8M941 202v2M943 214v2M945 210v4M947 206v4M947 214v2M949 208v4M949 214v2M951 208v8M953 208v2M953 214v2M955 210v6M957 206v2M957 210v6M959 208v6M961 206v2M961 212v4M963 204v2M963 210v2M963 214v2M965 210v6M967 206v2M967 210v4M969 206v4M969 214v2M971 212v2M973 204v2M973 212v4M975 208v6M977 204v2M977 210v2M979 200v2M979 204v8M979 214v2M981 212v4M983 206v4M985 206v6M987 202v2M987 214v2M989 208v8M991 208v2M991 214v2M993 212v2M995 204v4M995 210v2M995 214v2M997 208v4M997 214v2M999 206v2M999 210v6M1001 206v2M1001 210v2M1001 214v2M1003 202v2M1003 208v8M169 142v55M171 136v61M173 140v57M175 135v62M177 130v67M179 124v73M181 120v77M183 115v82M185 112v85M187 108v89M189 107v90M191 105v92M193 100v97M195 110v87M197 99v98M199 105v92M201 108v89M203 104v93M205 102v95M207 98v99M209 97v100M211 94v103M213 93v104M215 94v103M217 93v104M219 91v106M221 91v106M223 91v106M225 92v105M227 93v104M229 95v102M231 97v100M233 103v12M233 121v76M235 123v74M237 128v69M239 151v46M227 146v52M229 130v72M231 122v80M233 117v85M235 119v83M237 117v85M239 114v88M241 115v87M243 113v89M245 111v91M247 106v96M249 110v92M251 113v89M253 116v86M255 118v84M257 119v83M259 145v57M261 154v48M263 154v48M265 152v50M267 156v46M269 150v52M271 153v49M273 157v45M275 158v44M277 164v38M303 180v15M305 176v24M307 174v28M309 175v27M311 175v25M337 154v53M339 149v58M341 145v62M343 145v62M345 139v68M347 133v74M349 138v69M351 136v71M353 135v72M355 136v71M357 140v67M359 136v71M361 136v71M363 135v72M365 136v71M367 135v72M369 140v67M371 134v73M373 142v65M375 140v67M377 143v64M379 149v58M381 154v53M383 158v41M473 73v25M475 67v38M475 123v11M477 67v39M477 116v42M479 65v43M479 111v53M481 66v39M481 112v54M483 70v31M483 113v54M485 113v56M487 116v63M489 116v65M491 117v63M493 113v68M495 115v64M497 113v64M499 106v78M501 68v117M503 65v120M505 68v36M505 109v104M507 69v34M507 108v105M509 70v32M509 107v106M511 76v20M511 107v106M513 101v112M515 103v110M517 101v112M519 102v111M521 102v111M523 95v118M525 98v115M527 102v111M529 96v117M531 101v112M533 100v113M535 96v117M537 84v6M537 101v112M539 70v143M541 67v146M543 64v149M545 64v149M547 68v145M549 95v118M551 103v110M553 100v113M555 96v117M557 100v113M559 71v142M561 66v147M563 65v148M565 66v147M567 69v144M569 73v140M571 71v114M571 188v25M573 66v122M575 68v35M575 104v78M577 67v117M579 67v122M581 75v22M581 99v88M583 96v94M585 101v84M587 106v75M589 73v22M589 99v88M591 68v117M593 67v117M595 69v36M595 106v75M597 67v117M599 69v117M601 71v31M601 103v82M603 67v117M605 66v119M607 66v117M609 69v34M609 109v71M611 76v24M611 107v75M613 107v75M615 106v78M617 111v68M619 114v61M621 113v65M623 118v56M625 141v26M623 154v19M625 141v73M627 134v80M629 130v84M631 124v90M633 118v96M635 114v100M637 112v102M639 112v102M641 102v112M643 100v114M645 95v119M647 93v121M649 103v111M651 97v117M653 99v115M655 97v117M657 89v125M659 89v125M661 94v120M663 91v123M665 93v121M667 97v117M669 98v116M671 101v113M673 91v123M675 104v110M677 98v116M679 95v119M681 95v119M683 95v119M685 103v111M687 114v100M689 112v102M691 105v109M693 112v102M695 111v103M697 112v102M699 115v99M701 122v92M703 124v90M705 130v84M707 142v72M709 152v62M711 180v34M713 184v30M715 201v13M731 161v34M733 134v61M735 128v67M737 122v73M739 119v76M741 123v72M743 121v74M745 112v83M747 119v76M749 114v81M751 117v78M753 114v81M755 114v81M757 120v75M759 115v80M761 123v72M763 123v72M765 121v74M767 120v75M769 124v71M771 128v67M773 126v69M775 126v69M777 130v65M779 137v58M781 143v52M823 102v93M825 86v109M827 84v111M829 79v116M831 84v111M833 81v114M835 97v98M837 91v104M839 70v125M841 78v117M843 87v108M845 91v104M847 108v87M849 101v94M851 91v104M853 74v121M855 76v119M857 87v108M859 126v69M857 159v17M859 81v27M859 127v87M861 77v35M861 122v92M863 76v138M865 78v32M865 111v103M867 76v138M869 81v133M871 93v2M871 105v109M873 76v138M875 73v141M877 75v139M879 74v140M881 76v30M881 113v101M883 89v7M883 109v105M885 80v134M887 78v136M889 77v137M891 79v135M893 78v136M895 89v125M897 110v104M899 113v101M901 111v103M903 104v110M905 112v102M907 123v91M905 204v8M907 166v48M909 156v58M911 141v73M913 139v75M915 130v84M917 131v83M919 126v88M921 122v92M923 124v90M925 115v99M927 117v97M929 116v98M931 113v101M933 110v104M935 109v105M937 108v106M939 108v106M941 109v105M943 107v107M945 106v108M947 105v109M949 105v109M951 107v107M953 105v109M955 109v105M957 108v106M959 109v105M961 108v106M963 108v106M965 108v106M967 108v106M969 111v103M971 110v104M973 112v102M975 114v100M977 127v87M979 125v89M981 130v84M983 136v78M985 142v72M987 152v62M989 178v36M961 165v11M963 161v16M965 152v27M967 151v28M969 148v33M971 149v30M973 147v34M975 145v37M977 144v38M979 143v39M981 145v35M983 142v40M985 142v38M987 139v43M989 141v39M991 138v44M993 139v41M995 138v42M997 138v41M999 138v40M1001 137v41M1003 135v44M1005 136v41M1007 135v42M1009 133v46M1011 133v45M1013 134v42M1015 133v44M1017 134v40M1019 134v40M1021 131v45M1023 129v48M1025 128v49M1027 128v49M1029 129v46M1031 130v43M1033 128v47M1035 130v41M1037 131v39M1039 127v46M1041 126v47M1043 126v46M1045 125v48M1047 125v46M1049 125v45M1051 127v41M1053 125v44M1055 126v41M1057 125v43M1059 121v49M1061 123v44M1063 122v45M1065 123v42M1067 120v48M1069 124v39M1071 122v42M1073 120v46M1075 122v41M1077 121v42M1079 119v45M1081 119v45M1083 119v44M1085 120v40M1087 117v45M1089 119v40M1091 118v41M1093 117v41M1095 115v44M1097 115v42M1099 115v41M1101 114v42M1103 115v39M1105 114v40M1107 113v40M1109 113v38M1111 113v37M1113 113v35M1115 110v39M1117 113v33M1119 110v36M1121 111v33M1123 110v32M1125 111v28M1127 109v31M1129 109v30M1131 107v33M1133 109v29M1135 109v28M1137 110v26M1139 108v29M1141 109v27M1143 111v22M1145 112v21M1147 122v8M1025 92v24M1027 86v34M1029 85v37M1031 84v41M1033 83v42M1035 86v37M1037 83v43M1039 84v41M1041 84v41M1043 68v56M1045 67v52M1047 64v57M1049 66v24M1049 94v21M1051 66v23M1053 78v4M1167 160v45M1169 158v47M1171 152v53M1173 147v58M1175 147v58M1177 144v61M1179 139v66M1181 141v64M1183 135v70M1185 138v67M1187 136v69M1189 139v66M1191 137v68M1193 134v71M1195 142v63M1197 134v71M1199 143v62M1201 138v67M1203 136v69M1205 139v66M1207 136v69M1209 133v72M1211 136v69M1213 142v63M1215 133v72M1217 133v72M1219 136v69M1221 138v67M1223 139v66M1225 145v60M1227 143v62M1229 139v66M1231 142v63M1233 144v61M1235 119v7M1235 149v56M1237 113v20M1237 154v51M1239 88v64M1239 168v37M1241 87v72M1243 86v119M1245 89v116M1247 98v107M1249 99v106M1251 96v109M1253 92v113M1255 98v107M1257 92v113M1259 94v111M1261 95v110M1263 93v112M1265 93v112M1267 87v118M1269 86v119M1271 84v121M1273 88v117M1275 87v118M1277 86v119M1279 82v123M1281 83v122M1283 85v120M1285 87v118M1287 80v125M1289 88v117M1291 85v120M1293 85v120M1295 83v122M1297 88v117M1299 82v123M1301 86v119M1303 88v116M1305 87v117M1307 86v119M1309 88v114M1311 86v119M1313 89v110M1315 88v114M1317 88v116M1319 92v107M1321 94v105M1323 99v99M1325 106v87M1327 114v85M1329 123v74M1331 121v78M1333 121v78M1335 122v76M1337 122v75M1339 124v69M1341 120v78M1343 121v74M1345 120v75M1347 119v76M1349 123v66M1351 120v73M1353 120v73M1355 124v65M1357 127v58M1359 123v69M1361 126v62M1363 128v59M1365 132v52M1367 137v43M1369 151v25M1371 159v11M1335 121v3M1337 120v10M1339 116v19M1341 116v21M1343 112v27M1345 115v24M1347 110v33M1349 110v33M1351 111v32M1353 111v32M1355 107v38M1357 107v38M1359 107v37M1361 103v44M1363 105v40M1365 107v35M1367 102v44M1369 103v41M1371 103v41M1373 102v42M1373 166v26M1375 102v43M1375 155v41M1377 103v93M1379 101v95M1381 103v93M1383 101v95M1385 102v94M1387 100v96M1389 100v96M1391 96v100M1393 92v104M1395 91v105M1397 91v105M1399 91v105M1401 90v106M1403 91v105M1405 92v104M1407 96v100M1409 95v101M1411 95v101M1413 97v99M1415 97v99M1417 96v100M1419 96v100M1421 95v101M1423 96v100M1425 97v99M1427 98v98M1429 97v99M1431 100v96M1433 96v100M1435 95v101M1437 94v102M1439 94v102M1441 96v100M1443 95v101M1445 99v97M1447 91v105M1449 89v107M1451 92v104M1453 95v101M1455 90v106M1457 93v103M1459 92v104M1461 86v110M1463 81v3M1463 92v104M1465 75v121M1467 72v124M1469 72v124M1471 74v122M1473 72v124M1475 73v123M1477 78v118M1479 89v107M1481 94v102M1483 97v99M1485 88v108M1487 75v121M1489 68v128M1491 69v127M1493 69v127M1495 69v127M1497 69v127M1499 72v124M1501 95v101M1503 100v96M1505 97v99M1507 99v97M1509 105v91M1511 104v92M1513 109v87M1515 113v32M1515 195v1M1517 118v19"/>
<path stroke="#2c94c4" d="M579 212v2M581 212v2M585 214v2M587 212v4M595 200v2M597 212v2M599 208v2M599 212v2M601 210v2M605 210v2M607 210v2M609 208v2M619 206v2M625 204v2M627 210v2M631 214v2M633 208v4M637 214v2M639 214v2M645 210v2M647 214v2M655 214v2M659 206v2M659 212v2M669 206v2M671 202v2M671 214v2M679 212v4M681 202v2M681 210v2M689 214v2M691 212v2M693 214v2M695 214v2M705 208v2M705 212v2M713 214v2M715 214v2M717 208v2M719 214v2M721 214v2M727 202v2M727 206v2M729 214v2M733 200v2M737 212v2M741 214v2M745 214v2M751 214v2M755 206v2M761 206v2M761 212v2M763 212v2M765 204v2M765 212v2M769 214v2M773 214v2M775 212v4M781 208v2M787 204v2M791 212v2M793 212v2M795 214v2M799 208v2M799 214v2M801 208v2M801 214v2M803 208v4M803 214v2M805 212v2M807 212v2M809 214v2M813 212v2M817 206v2M821 214v2M823 214v2M827 212v2M829 206v2M831 210v2M833 208v4M835 214v2M837 208v2M837 212v4M841 212v2M843 210v2M851 212v4M853 208v2M855 210v2M857 214v2M861 206v2M865 212v2M867 202v2M867 210v4M869 214v2M871 214v2M873 214v2M879 210v2M881 214v2M885 212v2M887 212v4M891 200v2M891 210v2M895 212v2M897 212v2M899 212v4M901 208v2M901 212v2M903 212v2M905 210v2M907 214v2M909 206v2M913 212v2M921 214v2M923 210v2M925 212v4M929 214v2M931 210v6M933 208v2M933 214v2M937 214v2M939 210v6M941 202v2M945 212v2M947 208v2M957 206v2M957 212v2M959 210v2M961 214v2M963 214v2M965 212v2M967 210v2M969 206v2M969 214v2M971 212v2M973 214v2M975 208v2M975 212v2M981 212v2M983 206v2M985 210v2M987 202v2M987 214v2M989 214v2M995 214v2M997 210v2M999 214v2M1001 210v2M171 150v47M173 150v47M175 150v47M177 150v47M179 151v46M181 141v54M183 132v65M185 128v69M187 123v74M189 121v76M191 117v80M193 111v86M195 120v77M197 108v89M199 114v83M201 117v80M203 114v83M205 114v83M207 110v87M209 118v79M211 107v3M211 113v84M213 99v98M215 99v19M215 121v76M217 98v21M217 121v76M219 96v101M221 96v24M221 122v75M223 96v25M223 124v73M225 97v23M225 127v70M227 100v18M227 130v67M229 104v10M229 136v61M231 154v42M233 154v32M235 141v50M237 136v59M239 134v64M241 134v63M243 133v65M245 131v69M247 128v74M249 132v68M251 136v59M253 148v41M259 178v18M261 172v30M263 171v31M265 170v32M267 172v30M269 170v32M271 175v25M343 169v38M345 158v49M347 148v59M349 153v54M351 150v57M353 147v60M355 147v60M357 153v54M359 151v56M361 151v56M363 150v57M365 151v56M367 152v55M369 156v51M371 154v53M373 152v55M375 149v56M377 149v38M379 151v35M381 154v30M383 158v21M475 86v2M477 76v20M479 75v22M479 127v14M481 124v23M483 124v22M485 125v20M489 161v11M491 160v13M493 159v15M497 143v11M499 131v28M501 127v35M503 78v16M503 125v39M505 77v18M505 126v36M507 78v16M507 125v39M509 123v43M509 183v23M511 122v45M511 176v37M513 118v95M515 109v104M517 104v109M519 105v108M521 106v107M523 104v109M525 111v64M527 114v59M527 192v21M529 109v104M531 113v100M533 112v101M535 108v105M537 113v100M539 111v102M541 78v16M541 112v101M543 75v22M543 108v105M545 76v20M545 107v106M547 111v102M549 107v106M551 114v99M553 111v102M555 108v105M557 111v102M559 110v103M561 110v103M563 75v21M563 109v104M565 76v19M565 110v103M567 87v2M567 114v99M569 112v101M571 113v60M571 188v25M573 79v15M573 110v66M575 77v18M575 115v56M577 77v18M577 114v59M579 110v66M581 112v63M583 110v67M585 114v60M587 117v53M589 113v62M591 115v58M593 77v18M593 117v55M595 77v18M595 119v51M597 79v13M597 118v53M599 118v53M601 120v49M603 81v11M603 122v45M605 76v20M605 126v39M607 76v19M607 147v7M635 156v49M637 148v66M639 142v72M641 132v82M643 127v87M645 121v93M647 119v95M649 125v89M651 120v94M653 121v93M655 119v95M657 113v101M659 113v101M661 116v98M663 114v100M665 115v99M667 118v96M669 119v95M671 121v93M673 111v103M675 122v92M677 98v20M677 119v95M679 95v119M681 95v24M681 121v93M683 95v119M685 104v7M685 114v100M687 124v90M689 120v94M691 111v103M693 118v96M695 117v97M697 120v94M699 126v88M701 137v77M703 146v68M705 175v39M707 178v36M709 177v37M711 180v34M713 184v30M715 201v13M733 169v26M735 167v28M737 150v45M739 138v57M741 137v58M743 135v60M745 128v67M747 132v63M749 128v67M751 130v65M753 127v68M755 127v68M757 132v63M759 128v67M761 134v61M763 134v61M765 133v62M767 133v62M769 137v58M771 142v53M773 143v52M775 148v47M777 193v2M823 160v35M825 102v93M827 97v98M829 92v103M831 97v98M833 96v99M835 124v71M837 91v104M839 70v125M841 78v117M843 87v108M845 91v104M847 108v87M849 101v94M851 91v104M853 74v121M855 76v119M857 87v108M859 126v69M857 159v17M859 81v27M859 127v87M861 77v35M861 122v92M863 76v138M865 78v32M865 111v103M867 76v138M869 81v133M871 93v2M871 105v109M873 76v138M875 73v141M877 75v139M879 74v140M881 76v30M881 113v101M883 89v7M883 109v105M885 80v134M887 78v136M889 77v137M891 79v135M893 78v136M895 89v125M897 134v80M899 136v78M901 136v75M903 146v60M905 204v8M907 177v37M909 170v44M911 160v54M913 163v51M915 156v58M917 159v55M919 155v59M921 152v62M923 154v60M925 134v80M927 129v85M929 127v87M931 113v101M933 110v104M935 109v105M937 108v106M939 108v106M941 109v105M943 107v107M945 106v108M947 105v109M949 105v109M951 107v107M953 105v109M955 109v32M955 143v71M957 108v106M959 109v105M961 108v106M963 108v106M965 108v106M967 108v106M969 111v103M971 110v104M973 112v102M975 114v100M977 139v75M979 136v78M981 138v76M983 142v72M985 145v69M987 152v62M989 178v36M1029 93v23M1031 89v30M1033 88v32M1035 89v30M1037 87v34M1039 87v33M1041 87v33M1043 68v51M1045 67v22M1045 96v18M1047 64v28M1049 66v24M1051 66v23M1053 78v4M1167 162v43M1169 159v46M1171 152v53M1173 148v57M1175 149v56M1177 147v58M1179 143v62M1181 145v60M1183 139v66M1185 142v63M1187 138v67M1189 142v63M1191 138v67M1193 134v71M1195 143v62M1197 134v71M1199 144v61M1201 139v66M1203 136v69M1205 140v65M1207 136v69M1209 133v72M1211 136v69M1213 142v63M1215 133v72M1217 133v72M1219 136v69M1221 138v67M1223 139v66M1225 146v59M1227 144v61M1229 140v65M1231 145v60M1233 150v55M1235 156v49M1237 160v45M1239 132v20M1239 168v37M1241 95v15M1241 129v30M1243 95v15M1243 126v79M1245 120v85M1247 114v91M1249 112v93M1251 108v97M1253 104v101M1255 107v98M1257 101v104M1259 103v102M1261 103v102M1263 101v104M1265 100v105M1267 96v109M1269 95v110M1271 93v112M1273 96v109M1275 96v109M1277 95v110M1279 91v114M1281 92v113M1283 93v112M1285 94v111M1287 89v116M1289 96v109M1291 93v112M1293 93v112M1295 92v113M1297 96v109M1299 91v114M1301 94v111M1303 96v108M1305 96v108M1307 96v109M1309 97v105M1311 97v108M1313 102v97M1315 105v97M1317 111v93M1319 120v79M1321 121v78M1323 125v71M1325 132v54M1327 134v56M1329 136v46M1331 135v49M1333 135v49M1335 135v48M1337 135v48M1339 137v43M1341 134v48M1343 135v45M1345 135v45M1347 135v44M1349 138v38M1351 137v41M1353 139v38M1355 144v28M1357 156v10M1361 119v6M1363 118v10M1365 117v13M1367 114v18M1369 114v18M1371 113v20M1373 113v20M1373 166v26M1375 112v20M1375 155v41M1377 112v20M1377 148v48M1379 111v21M1379 138v58M1381 112v18M1381 137v59M1383 111v85M1385 111v85M1387 110v86M1389 110v86M1391 96v100M1393 92v104M1395 91v105M1397 91v105M1399 91v105M1401 90v106M1403 91v105M1405 92v104M1407 96v100M1409 105v91M1411 106v90M1413 109v87M1415 109v87M1417 106v90M1419 107v89M1421 104v92M1423 104v92M1425 106v90M1427 109v87M1429 104v92M1431 107v89M1433 103v93M1435 102v94M1437 102v94M1439 101v95M1441 103v93M1443 102v94M1445 105v91M1447 99v97M1449 97v99M1451 99v97M1453 102v94M1455 98v98M1457 100v96M1459 99v97M1461 95v101M1463 99v97M1465 101v95M1467 78v118M1469 77v119M1471 78v21M1471 102v94M1473 77v119M1475 80v16M1475 98v98M1477 101v95M1479 98v98M1481 102v94M1483 104v92M1485 88v12M1485 101v95M1487 75v121M1489 68v128M1491 69v127M1493 69v127M1495 69v127M1497 69v127M1499 72v124M1501 95v6M1501 111v85M1503 116v80M1505 119v77M1507 127v69M1509 140v56M1511 140v56M1513 151v45M1515 195v1"/>
<path stroke="#28a0d4" d="M631 214v2M669 206v2M681 210v2M689 214v2M691 212v2M693 214v2M713 214v2M715 214v2M721 214v2M741 214v2M755 206v2M761 212v2M765 212v2M773 214v2M781 208v2M799 214v2M803 208v2M835 214v2M851 214v2M853 208v2M865 212v2M869 214v2M901 208v2M913 212v2M925 214v2M931 214v2M939 214v2M957 206v2M963 214v2M989 214v2M999 214v2M179 168v7M181 141v54M183 132v65M185 128v69M187 123v74M189 121v76M191 117v80M193 111v86M195 120v77M197 108v89M199 114v83M201 117v80M203 114v83M205 114v83M207 110v87M209 118v79M211 113v84M213 114v83M215 121v76M217 121v76M219 118v79M221 122v75M223 126v71M225 136v37M225 180v17M343 169v38M345 158v49M347 148v59M349 153v54M351 150v57M353 147v60M355 147v60M357 153v54M359 153v54M361 161v46M363 196v11M371 154v30M373 152v33M375 149v38M377 149v38M379 151v35M381 154v30M383 158v21M511 185v28M513 125v9M513 180v33M515 109v36M515 182v31M517 104v44M517 181v32M519 105v42M519 189v24M521 106v40M523 104v45M525 111v33M527 192v21M529 127v30M529 163v50M531 124v34M531 163v50M533 121v92M535 120v93M537 123v90M539 125v88M541 145v4M541 154v59M543 134v79M545 130v83M547 131v82M549 132v81M551 143v8M551 161v52M553 157v56M555 146v67M557 138v75M559 137v76M561 116v16M561 137v76M563 115v18M563 157v56M565 117v15M565 161v52M567 170v43M569 117v16M569 174v39M571 117v16M571 188v25M573 121v6M657 188v26M659 143v71M661 135v79M663 127v87M665 125v89M667 125v89M669 123v91M671 123v91M673 111v103M675 122v92M677 98v20M677 119v95M679 95v119M681 95v24M681 121v93M683 95v119M685 104v7M685 114v100M687 124v90M689 120v94M691 111v103M693 118v96M695 117v97M697 120v94M699 126v88M701 137v77M703 146v68M705 175v39M707 178v36M709 177v37M711 180v34M713 184v30M715 201v13M733 169v26M735 167v28M737 165v30M739 167v28M741 170v25M743 172v23M745 189v6M755 141v54M757 136v59M759 130v65M761 134v61M763 134v61M765 136v59M767 171v18M823 160v35M825 140v55M827 132v63M829 124v71M831 125v70M833 119v76M835 124v71M837 112v83M839 87v108M841 92v103M843 99v96M845 106v89M847 130v65M849 101v94M851 91v104M853 74v121M855 76v119M857 87v108M859 126v69M857 159v17M859 81v27M859 127v87M861 77v35M861 122v92M863 76v138M865 78v32M865 111v103M867 76v138M869 81v133M871 93v2M871 105v109M873 76v138M875 73v141M877 75v139M879 74v140M881 76v30M881 113v101M883 89v7M883 109v105M885 80v134M887 78v136M889 77v137M891 79v135M893 78v136M895 89v62M895 155v59M897 160v54M899 174v40M905 204v8M907 177v37M909 170v44M911 160v54M913 163v51M915 156v58M917 159v55M919 155v59M921 152v62M923 154v60M925 134v80M927 129v85M929 127v87M931 113v101M933 110v104M935 109v105M937 108v106M939 108v106M941 109v105M943 107v107M945 106v108M947 105v109M949 105v109M951 107v107M953 105v109M955 109v32M955 146v68M957 108v33M957 146v68M959 109v32M959 149v65M961 108v106M963 108v106M965 108v106M967 108v106M969 111v103M971 110v104M973 112v102M975 114v100M977 139v75M979 136v78M981 138v76M983 142v72M985 145v69M987 152v62M989 178v36M1029 93v23M1031 89v30M1033 88v32M1035 89v30M1037 87v34M1039 87v33M1041 87v33M1043 68v51M1045 67v22M1045 96v18M1047 64v28M1049 66v24M1051 66v23M1053 78v4M1167 162v43M1169 159v46M1171 152v53M1173 148v57M1175 149v56M1177 147v58M1179 143v62M1181 145v60M1183 139v66M1185 142v63M1187 138v67M1189 142v63M1191 138v67M1193 134v71M1195 143v62M1197 134v71M1199 144v61M1201 139v66M1203 136v69M1205 140v65M1207 136v69M1209 133v72M1211 136v69M1213 142v63M1215 133v72M1217 133v72M1219 136v69M1221 138v67M1223 139v66M1225 146v59M1227 144v61M1229 140v65M1231 145v60M1233 150v55M1235 156v49M1237 160v45M1239 132v20M1239 168v37M1241 129v30M1243 126v79M1245 126v79M1247 121v84M1249 123v82M1251 120v85M1253 116v89M1255 122v83M1257 115v90M1259 119v86M1261 121v84M1263 119v86M1265 119v86M1267 113v92M1269 113v92M1271 110v95M1273 116v89M1275 116v89M1277 115v90M1279 110v95M1281 112v93M1283 113v92M1285 115v90M1287 106v99M1289 116v89M1291 112v93M1293 111v94M1295 109v96M1297 115v90M1299 108v97M1301 112v93M1303 115v89M1305 115v89M1307 114v91M1309 116v86M1311 113v92M1313 118v81M1315 117v85M1317 116v88M1319 120v79M1321 121v78M1323 125v71M1325 132v54M1327 137v53M1329 145v33M1331 152v19M1373 166v26M1375 155v41M1377 148v48M1379 138v58M1381 137v59M1383 125v71M1385 129v67M1387 119v77M1389 122v74M1391 96v19M1391 116v80M1393 92v26M1393 119v77M1395 91v105M1397 91v105M1399 91v105M1401 90v106M1403 91v105M1405 92v104M1407 96v19M1407 116v80M1409 107v89M1411 108v88M1413 114v82M1415 115v81M1417 111v85M1419 113v83M1421 107v89M1423 108v88M1425 112v84M1427 117v79M1429 109v87M1431 115v81M1433 109v87M1435 108v88M1437 107v89M1439 107v89M1441 112v84M1443 110v86M1445 116v80M1447 106v90M1449 104v92M1451 108v88M1453 113v83M1455 106v90M1457 111v85M1459 109v87M1461 101v95M1463 108v88M1465 112v84M1467 106v90M1469 109v87M1471 114v82M1473 108v88M1475 104v92M1477 111v85M1479 103v93M1481 111v85M1483 116v80M1485 88v12M1485 109v87M1487 75v35M1487 115v81M1489 68v128M1491 69v44M1491 115v81M1493 69v127M1495 69v44M1495 116v80M1497 69v45M1497 115v81M1499 72v41M1499 115v81M1501 95v6M1501 119v77M1503 127v69M1505 122v74M1507 128v68M1509 140v56M1511 140v56M1513 151v45M1515 195v1"/>
<path stroke="#2cb0e0" d="M179 168v7M181 141v54M183 132v65M185 128v69M187 123v74M189 121v76M191 117v80M193 111v86M195 120v77M197 108v89M199 114v83M201 117v80M203 114v83M205 114v83M207 110v87M209 118v79M211 113v84M213 114v83M215 121v76M217 121v76M219 118v79M221 122v75M223 126v71M225 136v37M225 180v17M343 169v38M345 158v49M347 148v59M349 153v54M351 150v57M353 147v60M355 147v60M357 153v54M359 153v54M361 161v46M363 196v11M371 154v30M373 152v33M375 149v38M377 149v38M379 151v35M381 154v30M383 158v21M511 185v28M513 125v9M513 180v33M515 109v36M515 182v31M517 104v44M517 181v32M519 105v42M519 189v24M521 106v40M523 104v45M525 111v33M527 192v21M529 127v30M529 163v50M531 124v34M531 163v50M533 121v92M535 120v93M537 123v90M539 125v88M541 145v4M541 154v59M543 134v79M545 130v83M547 131v82M549 132v81M551 143v8M551 161v52M553 157v56M555 146v67M557 138v75M559 137v76M561 116v16M561 137v76M563 115v18M563 157v56M565 117v15M565 161v52M567 170v43M569 117v16M569 174v39M571 117v16M571 188v25M573 121v6M657 188v26M659 143v71M661 135v79M663 127v87M665 125v89M667 125v89M669 123v91M671 123v91M673 111v103M675 122v92M677 98v20M677 119v95M679 95v119M681 95v24M681 121v93M683 95v119M685 104v7M685 114v100M687 124v90M689 120v94M691 111v103M693 118v96M695 117v97M697 120v94M699 126v88M701 137v77M703 146v68M705 175v39M707 178v36M709 177v37M711 180v34M713 184v30M715 201v13M733 169v26M735 167v28M737 165v30M739 167v28M741 170v25M743 172v23M745 189v6M755 141v54M757 136v59M759 130v65M761 134v61M763 134v61M765 136v59M767 171v18M823 160v35M825 140v55M827 132v63M829 124v71M831 125v70M833 119v76M835 124v71M837 124v71M839 117v78M841 113v82M843 119v76M845 135v60M847 130v65M849 101v94M851 91v104M853 74v121M855 76v119M857 87v108M859 126v69M857 159v17M859 81v27M859 127v87M861 77v35M861 122v92M863 76v138M865 78v32M865 111v103M867 76v138M869 81v133M871 93v2M871 105v109M873 76v138M875 73v141M877 75v139M879 74v140M881 76v30M881 113v101M883 89v7M883 109v105M885 80v134M887 78v136M889 77v137M891 79v135M893 78v136M895 89v62M895 155v59M897 160v54M899 174v40M907 202v11M909 177v37M911 165v49M913 167v47M915 160v54M917 162v52M919 158v56M921 155v59M923 157v57M925 134v80M927 129v85M929 127v87M931 113v101M933 110v104M935 109v105M937 108v106M939 108v106M941 109v105M943 107v107M945 106v108M947 105v109M949 105v109M951 107v107M953 105v109M955 109v32M955 146v68M957 108v33M957 146v68M959 109v32M959 149v65M961 108v106M963 108v106M965 108v106M967 108v106M969 111v103M971 110v104M973 112v102M975 114v100M977 139v75M979 136v78M981 138v76M983 142v72M985 145v69M987 152v62M1029 93v23M1031 89v30M1033 88v32M1035 89v30M1037 87v34M1039 87v33M1041 87v33M1043 68v51M1045 67v22M1045 96v18M1047 64v28M1049 66v24M1051 66v23M1053 78v4M1045 143v71M1047 138v76M1049 134v80M1051 128v86M1053 127v87M1055 125v89M1057 125v89M1059 123v91M1061 117v97M1063 121v93M1065 123v91M1067 124v90M1069 122v92M1071 122v92M1073 121v93M1075 123v91M1077 125v89M1079 131v83M1081 122v92M1083 131v83M1085 130v84M1087 129v85M1089 137v77M1091 146v68M1093 147v67M1095 157v57M1167 162v43M1169 159v46M1171 152v53M1173 148v57M1175 149v56M1177 147v58M1179 143v62M1181 145v60M1183 139v66M1185 142v63M1187 138v67M1189 142v63M1191 138v67M1193 134v71M1195 143v62M1197 134v71M1199 144v61M1201 139v66M1203 136v69M1205 140v65M1207 136v69M1209 133v72M1211 136v69M1213 142v63M1215 133v72M1217 133v72M1219 136v69M1221 138v67M1223 139v66M1225 146v59M1227 144v61M1229 140v65M1231 145v60M1233 150v55M1235 156v49M1237 160v45M1239 132v20M1239 168v37M1241 129v30M1243 126v79M1245 126v79M1247 121v84M1249 123v82M1251 120v85M1253 116v89M1255 122v83M1257 115v90M1259 119v86M1261 121v84M1263 119v86M1265 119v86M1267 113v92M1269 113v92M1271 110v95M1273 116v89M1275 116v89M1277 115v90M1279 110v95M1281 112v93M1283 113v92M1285 115v90M1287 106v99M1289 116v89M1291 112v93M1293 111v94M1295 109v96M1297 115v90M1299 108v97M1301 112v93M1303 115v89M1305 115v89M1307 114v91M1309 116v86M1311 113v92M1313 118v81M1315 117v85M1317 116v88M1319 120v79M1321 121v78M1323 125v71M1325 132v54M1327 137v53M1329 145v33M1331 152v19M1373 166v26M1375 155v41M1377 148v48M1379 138v58M1381 137v59M1383 125v71M1385 129v67M1387 119v77M1389 122v74M1391 96v19M1391 116v80M1393 92v26M1393 119v77M1395 91v105M1397 91v105M1399 91v105M1401 90v106M1403 91v105M1405 92v104M1407 96v19M1407 116v80M1409 107v89M1411 108v88M1413 114v82M1415 115v81M1417 111v85M1419 113v83M1421 107v89M1423 108v88M1425 112v84M1427 117v79M1429 109v87M1431 115v81M1433 109v87M1435 108v88M1437 107v89M1439 107v89M1441 112v84M1443 110v86M1445 116v80M1447 106v90M1449 104v92M1451 108v88M1453 113v83M1455 106v90M1457 111v85M1459 109v87M1461 101v95M1463 108v88M1465 112v84M1467 106v90M1469 109v87M1471 114v82M1473 108v88M1475 104v92M1477 111v85M1479 103v93M1481 111v85M1483 116v80M1485 88v12M1485 109v87M1487 75v35M1487 115v81M1489 68v128M1491 69v44M1491 115v81M1493 69v127M1495 69v44M1495 116v80M1497 69v45M1497 115v81M1499 72v41M1499 115v81M1501 95v6M1501 119v77M1503 127v69M1505 122v74M1507 128v68M1509 140v56M1511 140v56M1513 151v45M1515 195v1"/>
<path stroke="#50f038" d="M631 214v2M669 206v2M689 214v2M713 214v2M755 206v2M853 208v2M913 212v2M925 214v2M957 206v2M181 148v41M183 135v62M185 130v67M187 126v71M189 123v74M191 120v77M193 114v83M195 122v75M197 111v86M199 115v82M201 119v78M203 116v81M205 115v82M207 112v85M209 119v78M211 115v82M213 116v81M215 123v74M217 123v74M219 121v76M221 125v72M223 130v67M225 141v21M343 172v35M345 160v47M347 150v57M349 154v53M351 152v55M353 149v58M355 148v59M357 155v52M359 155v52M361 164v43M371 156v26M373 153v31M375 150v36M377 150v37M379 151v34M381 155v28M383 160v17M511 185v28M513 125v9M513 180v33M515 109v36M515 182v31M517 104v44M517 181v32M519 105v42M519 189v24M521 106v40M523 104v45M525 111v33M527 192v21M529 127v30M529 163v50M531 124v34M531 163v50M533 121v92M535 120v93M537 123v90M539 125v88M541 145v4M541 154v59M543 134v79M545 130v83M547 131v82M549 132v81M551 143v8M551 161v52M553 157v56M555 146v67M557 138v75M559 137v76M561 116v16M561 137v76M563 115v18M563 157v56M565 117v15M565 161v52M567 170v43M569 117v16M569 174v39M571 117v16M571 188v25M573 121v6M657 204v9M659 159v55M661 140v74M663 131v83M665 128v86M667 128v86M669 125v89M671 125v89M673 114v100M675 124v90M677 98v20M677 121v93M679 95v119M681 95v24M681 123v91M683 95v119M685 104v7M685 116v98M687 126v88M689 122v92M691 114v100M693 121v93M695 120v94M697 124v90M699 130v84M701 142v72M703 152v62M705 177v37M707 178v36M709 177v37M711 180v34M713 184v30M715 201v13M733 169v26M735 167v28M737 165v30M739 167v28M741 170v25M743 172v23M745 189v6M755 141v54M757 136v59M759 130v65M761 134v61M763 134v61M765 136v59M767 171v18M823 160v35M825 140v55M827 132v63M829 124v71M831 125v70M833 119v76M835 124v71M837 124v71M839 123v72M841 132v63M843 141v54M845 157v38M847 130v65M849 101v94M851 91v104M853 74v121M855 76v119M857 87v108M859 126v69M857 159v17M859 81v27M859 127v87M861 77v35M861 122v92M863 76v138M865 78v32M865 111v103M867 76v138M869 81v133M871 93v2M871 105v109M873 76v138M875 73v141M877 75v139M879 74v140M881 76v30M881 113v101M883 89v7M883 109v105M885 80v134M887 78v136M889 77v137M891 79v135M893 78v136M895 89v62M895 155v59M897 160v54M899 174v40M913 202v10M915 176v38M917 173v41M919 169v45M921 165v49M923 166v48M925 134v80M927 129v85M929 127v87M931 113v101M933 110v104M935 109v105M937 108v106M939 108v106M941 109v54M941 165v49M943 107v107M945 106v108M947 105v109M949 105v109M951 107v107M953 105v109M955 109v32M955 146v68M957 108v33M957 146v68M959 109v32M959 149v65M961 108v106M963 108v106M965 108v106M967 108v106M969 111v103M971 110v104M973 112v102M975 114v100M977 139v75M979 136v78M981 138v76M983 142v57M985 145v50M987 152v35M1029 93v23M1031 89v30M1033 88v32M1035 89v30M1037 87v34M1039 87v33M1041 87v33M1043 68v51M1045 67v22M1045 96v18M1047 64v28M1049 66v24M1051 66v23M1053 78v4M1045 150v62M1047 142v72M1049 138v76M1051 131v83M1053 130v84M1055 128v86M1057 128v86M1059 126v88M1061 120v94M1063 124v90M1065 125v89M1067 126v88M1069 125v89M1071 124v90M1073 122v92M1075 124v90M1077 127v87M1079 133v81M1081 125v89M1083 134v80M1085 134v80M1087 133v81M1089 141v73M1091 147v67M1093 151v63M1095 163v51M1167 178v27M1169 162v43M1171 155v50M1173 150v55M1175 151v54M1177 149v56M1179 145v60M1181 147v58M1183 141v64M1185 143v62M1187 140v65M1189 143v62M1191 140v65M1193 136v69M1195 145v60M1197 136v69M1199 146v59M1201 140v65M1203 138v67M1205 141v64M1207 138v67M1209 134v71M1211 137v68M1213 144v61M1215 135v70M1217 135v70M1219 138v67M1221 140v65M1223 141v64M1225 147v58M1227 146v59M1229 143v62M1231 148v57M1233 152v53M1235 159v46M1237 164v41M1239 138v7M1241 133v21M1243 129v76M1245 128v77M1247 123v82M1249 125v80M1251 122v83M1253 118v87M1255 124v81M1257 117v88M1259 121v84M1261 122v83M1263 120v85M1265 120v85M1267 114v91M1269 114v91M1271 112v93M1273 118v87M1275 117v88M1277 117v88M1279 111v94M1281 113v92M1283 114v91M1285 116v89M1287 108v97M1289 117v86M1291 113v92M1293 113v92M1295 111v94M1297 116v87M1299 109v96M1301 114v91M1303 116v86M1305 116v86M1307 115v88M1309 117v83M1311 115v88M1313 120v77M1315 119v81M1317 118v84M1319 123v73M1321 125v71M1323 129v64M1325 137v46M1327 143v40M1329 151v20M1375 167v23M1377 157v39M1379 147v49M1381 139v57M1383 125v71M1385 129v67M1387 119v77M1389 122v74M1391 96v19M1391 116v80M1393 92v26M1393 119v77M1395 91v105M1397 91v29M1397 121v75M1399 91v105M1401 90v106M1403 91v105M1405 92v104M1407 96v19M1407 118v78M1409 109v87M1411 111v85M1413 116v80M1415 117v79M1417 113v83M1419 115v81M1421 109v87M1423 111v85M1425 114v82M1427 119v77M1429 111v85M1431 117v79M1433 111v85M1435 110v86M1437 109v87M1439 109v87M1441 114v82M1443 112v84M1445 118v78M1447 108v88M1449 106v90M1451 110v86M1453 115v81M1455 109v87M1457 113v83M1459 111v85M1461 103v93M1463 111v85M1465 114v82M1467 108v88M1469 111v85M1471 116v80M1473 110v86M1475 106v90M1477 113v83M1479 106v90M1481 113v83M1483 118v78M1485 88v12M1485 111v85M1487 75v35M1487 117v79M1489 68v128M1491 69v44M1491 118v78M1493 69v45M1493 116v80M1495 69v44M1495 119v77M1497 69v45M1497 118v78M1499 72v41M1499 119v77M1501 95v6M1501 123v73M1503 131v65M1505 128v68M1507 135v61M1509 147v49M1511 149v47M1513 195v1"/>
<path stroke="#48e034" d="M181 168v8M183 142v53M185 135v62M187 129v68M189 127v70M191 123v74M193 117v80M195 125v72M197 114v83M199 119v78M201 122v75M203 119v78M205 119v78M207 115v82M209 122v75M211 118v79M213 119v78M215 126v71M217 127v70M219 125v72M221 130v67M223 137v60M343 179v28M345 164v43M347 153v54M349 157v50M351 155v52M353 152v55M355 151v56M357 157v50M359 159v48M361 169v38M371 170v6M373 155v28M375 152v33M377 152v33M379 153v31M381 156v25M383 163v11M511 188v25M513 183v30M515 116v22M515 184v29M517 110v33M517 184v29M519 110v33M519 195v18M521 110v32M523 110v33M527 192v21M529 139v4M529 163v50M531 128v27M531 163v50M533 125v32M533 159v54M535 123v90M537 126v30M537 157v56M539 130v23M539 155v58M541 154v59M543 134v79M545 130v83M547 131v82M549 132v81M551 143v8M551 161v52M553 157v56M555 146v67M557 138v75M559 137v76M561 137v76M563 120v9M563 157v56M565 161v52M567 170v43M569 121v7M569 174v39M571 121v7M571 188v25M659 189v25M661 149v65M663 137v77M665 132v82M667 130v84M669 129v85M671 130v84M673 119v95M675 128v86M677 125v89M679 99v17M679 123v91M681 99v17M681 125v89M683 100v114M685 119v95M687 129v85M689 126v88M691 118v96M693 125v89M695 125v89M697 130v84M699 137v77M701 150v64M703 172v42M705 177v37M707 178v36M709 177v37M711 180v34M713 184v30M715 201v13M735 177v18M737 175v20M739 176v19M741 179v16M743 194v1M755 163v24M757 144v51M759 139v56M761 141v54M763 142v53M765 147v48M823 181v14M825 150v45M827 139v56M829 130v65M831 131v64M833 125v70M835 130v65M837 130v65M839 130v65M841 138v57M843 149v46M845 181v14M847 130v65M849 114v81M851 100v95M853 84v111M855 86v109M857 98v97M859 126v69M857 159v17M859 81v27M859 127v87M861 77v35M861 122v92M863 76v138M865 78v32M865 111v103M867 76v138M869 81v133M871 93v2M871 105v109M873 76v138M875 73v141M877 75v139M879 74v140M881 76v30M881 113v101M883 89v7M883 128v86M885 87v66M885 155v59M887 83v131M889 82v132M891 84v130M893 84v130M895 104v37M895 162v52M897 170v44M899 197v9M915 181v33M917 176v38M919 171v43M921 167v47M923 169v45M925 134v27M925 164v50M927 129v35M927 167v47M929 127v38M929 167v47M931 121v44M931 169v45M933 113v54M933 168v46M935 111v103M937 109v105M939 109v57M939 168v46M941 111v52M941 173v41M943 109v54M943 171v43M945 108v106M947 107v36M947 144v70M949 106v108M951 108v106M953 107v107M955 110v30M955 146v68M957 110v30M957 146v68M959 110v30M959 151v63M961 109v32M961 148v66M963 109v32M963 142v72M965 110v104M967 110v104M969 113v25M969 141v73M971 112v102M973 115v20M973 138v76M975 138v64M975 207v7M977 143v55M979 140v60M981 143v55M983 147v46M985 152v36M1029 93v23M1031 89v30M1033 88v32M1035 89v30M1037 87v34M1039 87v33M1041 87v33M1043 88v31M1045 74v8M1045 96v18M1047 71v14M1049 72v12M1047 151v63M1049 144v70M1051 136v78M1053 135v79M1055 133v81M1057 133v81M1059 131v83M1061 125v89M1063 128v86M1065 130v84M1067 130v84M1069 126v88M1071 124v90M1073 122v92M1075 124v90M1077 127v87M1079 134v80M1081 128v86M1083 137v77M1085 139v75M1087 139v75M1089 145v69M1091 147v67M1093 160v54M1169 173v32M1171 160v45M1173 154v51M1175 155v50M1177 152v53M1179 148v57M1181 150v55M1183 144v61M1185 146v59M1187 143v62M1189 146v59M1191 143v62M1193 139v66M1195 147v58M1197 139v66M1199 148v57M1201 143v62M1203 140v65M1205 144v61M1207 141v64M1209 137v68M1211 140v65M1213 146v59M1215 138v67M1217 138v67M1219 141v64M1221 143v62M1223 144v61M1225 151v54M1227 150v55M1229 148v57M1231 151v54M1233 152v53M1235 159v46M1237 194v5M1243 136v17M1243 157v48M1245 133v72M1247 128v77M1249 129v76M1251 126v79M1253 121v84M1255 127v78M1257 120v85M1259 123v82M1261 125v80M1263 123v82M1265 122v83M1267 117v88M1269 117v88M1271 115v90M1273 120v85M1275 120v84M1277 119v85M1279 114v91M1281 116v89M1283 117v88M1285 119v84M1287 111v94M1289 120v81M1291 116v88M1293 116v88M1295 114v91M1297 119v81M1299 113v92M1301 117v85M1303 119v80M1305 119v80M1307 119v81M1309 121v76M1311 119v81M1313 124v70M1315 123v73M1317 123v75M1319 128v64M1321 131v60M1323 138v49M1325 147v26M1327 154v16M1379 147v49M1381 139v57M1383 125v71M1385 129v67M1387 119v77M1389 122v74M1391 116v80M1393 95v21M1393 119v77M1395 93v25M1395 120v76M1397 93v25M1397 125v71M1399 93v25M1399 121v75M1401 92v104M1403 93v103M1405 94v102M1407 105v4M1407 121v75M1409 113v83M1411 114v82M1413 120v76M1415 120v76M1417 117v79M1419 118v78M1421 113v83M1423 114v82M1425 117v79M1427 122v74M1429 115v81M1431 120v76M1433 114v82M1435 113v83M1437 113v83M1439 113v83M1441 117v79M1443 116v80M1445 121v75M1447 111v85M1449 110v86M1451 113v83M1453 118v78M1455 112v84M1457 116v80M1459 114v82M1461 107v89M1463 114v82M1465 117v79M1467 112v84M1469 114v82M1471 119v77M1473 114v82M1475 110v86M1477 117v79M1479 110v86M1481 116v80M1483 121v75M1485 115v81M1487 84v16M1487 121v75M1489 75v34M1489 115v81M1491 74v34M1491 122v74M1493 73v36M1493 121v75M1495 74v34M1495 124v72M1497 75v34M1497 124v72M1499 81v22M1499 126v70M1501 131v65M1503 140v56M1505 140v56M1507 149v47M1509 163v12M1509 186v10"/>
<path stroke="#44c830" d="M183 157v27M185 141v56M187 134v63M189 131v66M191 127v70M193 122v75M195 128v69M197 118v79M199 122v75M201 125v72M203 122v75M205 122v75M207 119v78M209 126v71M211 122v75M213 123v74M215 130v67M217 131v66M219 131v66M221 137v60M345 168v39M347 157v50M349 159v48M351 157v50M353 155v52M355 154v53M357 160v47M359 163v44M361 180v27M373 157v24M375 153v30M377 153v31M379 154v28M381 158v22M511 191v22M513 186v27M515 187v26M517 118v18M517 187v26M519 116v21M519 203v10M521 117v19M527 192v21M529 163v50M531 133v17M531 163v50M533 129v24M533 159v54M535 128v85M537 131v21M537 157v56M539 155v58M541 154v59M543 136v77M545 131v82M547 132v81M549 134v79M551 161v52M553 157v56M555 151v62M557 139v74M559 138v75M561 138v75M563 157v56M565 161v52M567 170v43M569 174v39M571 188v25M661 171v43M663 142v72M665 132v82M667 130v84M669 129v85M671 130v84M673 120v94M675 129v85M677 125v89M679 123v91M681 125v89M683 115v99M685 119v95M687 129v85M689 126v88M691 121v93M693 130v84M695 131v83M697 137v77M699 146v68M701 162v52M703 179v35M705 178v36M707 179v35M709 178v36M711 182v32M713 186v28M757 160v35M759 151v44M761 153v42M763 154v41M825 171v24M827 148v47M829 138v57M831 138v57M833 133v62M835 137v58M837 138v57M839 137v58M841 147v48M843 168v27M845 181v14M847 130v65M849 114v81M851 114v81M853 101v94M855 102v93M857 118v77M859 126v69M857 159v17M859 81v27M859 127v87M861 77v35M861 122v92M863 76v138M865 78v32M865 111v103M867 76v138M869 81v133M871 93v2M871 105v109M873 76v138M875 73v141M877 75v139M879 74v140M881 76v30M881 113v101M883 89v7M883 128v86M885 109v28M885 166v48M887 91v59M887 163v51M889 90v64M889 163v51M891 91v62M891 164v50M893 94v52M893 166v48M895 172v42M897 191v22M915 181v33M917 176v38M919 171v43M921 167v47M923 169v45M925 134v27M925 164v50M927 129v35M927 167v47M929 127v38M929 167v47M931 126v39M931 169v45M933 119v48M933 173v41M935 113v54M935 183v31M937 111v56M937 182v32M939 111v55M939 182v32M941 112v51M941 185v29M943 110v53M943 175v39M945 109v105M947 108v34M947 144v70M949 108v106M951 110v30M951 142v72M953 108v106M955 111v28M955 146v68M957 111v28M957 146v68M959 111v28M959 151v63M961 110v30M961 186v28M963 110v30M963 150v64M965 111v28M965 146v48M965 207v6M967 112v27M967 143v55M969 114v22M969 145v50M971 114v21M971 140v60M973 119v2M973 143v54M975 143v54M977 147v47M979 145v50M981 149v43M983 154v31M1029 93v23M1031 89v30M1033 88v32M1035 89v30M1037 87v34M1039 87v33M1041 87v33M1043 88v31M1045 96v18M1049 152v62M1051 143v71M1053 141v73M1055 136v78M1057 134v80M1059 132v82M1061 127v87M1063 131v83M1065 131v83M1067 130v84M1069 126v88M1071 124v90M1073 122v92M1075 124v90M1077 127v87M1079 134v80M1081 128v86M1083 137v77M1085 139v75M1087 143v71M1089 145v69M1091 147v67M1171 179v26M1173 160v45M1175 159v46M1177 156v49M1179 152v53M1181 153v52M1183 148v57M1185 150v55M1187 147v58M1189 149v56M1191 146v59M1193 142v63M1195 150v55M1197 142v63M1199 151v54M1201 146v59M1203 144v61M1205 147v58M1207 144v61M1209 141v64M1211 143v62M1213 149v56M1215 142v63M1217 141v64M1219 145v60M1221 147v58M1223 148v57M1225 155v50M1227 155v50M1229 152v53M1231 151v54M1233 152v53M1235 159v46M1237 194v5M1243 157v48M1245 145v60M1247 135v70M1249 134v71M1251 130v75M1253 125v80M1255 131v74M1257 124v81M1259 127v78M1261 128v77M1263 126v79M1265 126v79M1267 120v85M1269 120v85M1271 118v87M1273 123v82M1275 123v77M1277 122v79M1279 118v87M1281 120v83M1283 120v81M1285 122v77M1287 115v90M1289 123v74M1291 119v82M1293 119v82M1295 117v86M1297 122v75M1299 117v86M1301 120v79M1303 123v73M1305 123v72M1307 123v73M1309 125v68M1311 123v73M1313 128v62M1315 128v64M1317 130v63M1319 136v50M1321 143v39M1323 151v21M1379 147v49M1381 139v57M1383 125v71M1385 129v67M1387 119v77M1389 122v74M1391 116v80M1393 100v11M1393 119v77M1395 96v19M1395 120v76M1397 95v20M1397 125v71M1399 95v21M1399 127v69M1401 94v22M1401 120v76M1403 96v19M1403 121v75M1405 99v13M1405 119v77M1407 126v70M1409 118v78M1411 119v77M1413 124v72M1415 124v72M1417 121v75M1419 122v74M1421 117v79M1423 119v77M1425 122v74M1427 126v70M1429 119v77M1431 124v72M1433 118v78M1435 118v78M1437 117v79M1439 117v79M1441 121v75M1443 120v76M1445 125v71M1447 116v80M1449 114v82M1451 118v78M1453 122v74M1455 116v80M1457 120v76M1459 118v78M1461 111v85M1463 118v78M1465 121v75M1467 116v80M1469 119v77M1471 123v73M1473 118v78M1475 115v81M1477 121v75M1479 114v82M1481 121v75M1483 126v70M1485 120v76M1487 126v70M1489 90v6M1489 121v75M1491 81v21M1491 128v68M1493 80v23M1493 128v68M1495 81v21M1495 132v64M1497 93v3M1497 130v66M1499 132v64M1501 144v52M1503 154v42M1505 162v12M1505 188v8"/>
<path stroke="#40b82c" d="M185 152v35M187 140v57M189 136v61M191 132v65M193 127v70M195 132v65M197 123v74M199 126v71M201 129v68M203 126v71M205 126v71M207 123v74M209 129v68M211 126v71M213 127v70M215 134v63M217 136v61M219 137v60M221 147v17M345 173v34M347 162v45M349 163v44M351 161v46M353 158v49M355 158v49M357 164v43M359 168v39M373 159v20M375 155v27M377 155v27M379 156v24M381 160v17M511 197v16M513 190v23M515 191v22M517 191v22M527 192v21M529 163v50M531 163v50M533 136v10M533 159v54M535 135v12M535 152v61M537 157v56M539 155v58M541 154v59M543 139v74M545 133v80M547 134v79M549 136v77M551 161v52M553 157v56M555 151v62M557 140v16M557 157v56M559 139v74M561 140v73M563 157v56M565 161v52M567 170v43M569 174v39M571 188v25M661 171v43M663 142v72M665 132v82M667 130v84M669 129v85M671 130v84M673 120v94M675 129v85M677 125v89M679 123v91M681 125v89M683 115v99M685 119v95M687 129v85M689 126v88M691 121v93M693 130v84M695 137v77M697 146v68M699 158v56M701 183v31M703 181v33M705 180v34M707 181v33M709 181v33M711 184v30M713 189v25M827 172v23M829 151v44M831 149v46M833 144v51M835 148v47M837 149v46M839 150v45M841 168v27M843 177v18M845 181v14M847 130v65M849 114v81M851 114v81M853 107v88M855 106v89M857 118v77M859 126v69M857 159v17M859 81v27M859 127v87M861 77v35M861 122v92M863 76v138M865 78v32M865 111v103M867 76v138M869 81v133M871 93v2M871 105v109M873 76v138M875 73v141M877 75v139M879 74v140M881 76v30M881 113v101M883 89v7M883 128v86M885 208v5M887 175v39M889 174v40M891 175v39M893 178v36M895 194v14M915 181v33M917 176v38M919 171v43M921 167v47M923 169v45M925 134v27M925 164v50M927 129v35M927 167v47M929 127v38M929 167v47M931 126v39M931 169v45M933 125v42M933 173v41M935 121v46M935 187v27M937 114v53M939 113v53M941 114v49M943 112v51M943 175v25M945 111v103M947 110v30M947 144v70M949 110v104M951 111v28M951 142v72M953 110v104M955 113v24M955 146v68M957 113v24M957 146v68M959 113v24M959 151v63M961 112v26M963 112v26M965 114v23M965 155v31M967 114v22M967 150v41M969 117v15M969 151v38M971 147v46M973 148v43M975 149v42M977 152v37M979 152v36M981 157v25M1029 93v23M1031 89v30M1033 88v32M1035 89v30M1037 87v34M1039 87v33M1041 87v33M1043 88v31M1045 96v18M1049 170v19M1049 205v9M1051 151v63M1053 142v72M1055 136v78M1057 134v80M1059 132v82M1061 127v87M1063 131v83M1065 131v83M1067 130v84M1069 126v88M1071 124v90M1073 122v92M1075 124v90M1077 127v87M1079 134v80M1081 128v86M1083 137v77M1085 139v75M1087 143v71M1089 145v69M1091 147v20M1175 167v38M1177 162v43M1179 157v48M1181 158v47M1183 153v52M1185 154v51M1187 152v53M1189 154v51M1191 151v54M1193 147v58M1195 154v51M1197 146v59M1199 154v51M1201 150v55M1203 148v57M1205 150v55M1207 148v57M1209 145v60M1211 147v58M1213 153v52M1215 146v59M1217 146v59M1219 150v55M1221 152v53M1223 154v51M1225 160v45M1227 156v49M1229 152v53M1231 151v54M1233 152v53M1235 159v46M1237 194v5M1243 157v48M1245 145v60M1247 135v70M1249 134v71M1251 130v75M1253 125v80M1255 135v70M1257 127v78M1259 132v73M1261 133v72M1263 131v74M1265 130v75M1267 125v80M1269 125v80M1271 123v82M1273 127v78M1275 127v69M1277 127v69M1279 123v77M1281 124v74M1283 125v72M1285 126v69M1287 120v81M1289 127v66M1291 124v72M1293 124v72M1295 122v76M1297 126v67M1299 122v76M1301 125v69M1303 128v63M1305 128v62M1307 128v62M1309 130v58M1311 130v60M1313 135v49M1315 138v46M1317 145v36M1319 153v16M1379 147v49M1381 139v57M1383 125v71M1385 129v67M1387 119v77M1389 122v74M1391 116v80M1393 119v77M1395 101v9M1395 120v76M1397 98v14M1397 125v71M1399 98v15M1399 128v68M1401 98v15M1401 128v68M1403 100v11M1403 128v68M1405 125v71M1407 131v65M1409 124v72M1411 125v71M1413 129v67M1415 129v67M1417 126v70M1419 126v70M1421 120v76M1423 122v74M1425 126v70M1427 131v65M1429 124v72M1431 129v67M1433 124v72M1435 123v73M1437 122v74M1439 122v74M1441 126v70M1443 125v71M1445 130v66M1447 121v75M1449 120v76M1451 123v73M1453 127v69M1455 122v74M1457 125v71M1459 123v73M1461 117v79M1463 123v73M1465 126v70M1467 121v75M1469 124v72M1471 127v69M1473 123v73M1475 120v76M1477 126v70M1479 121v75M1481 127v69M1483 131v65M1485 127v69M1487 133v63M1489 126v70M1491 131v65M1493 129v67M1495 132v64M1497 130v66M1499 132v64M1501 164v20"/>
<path stroke="#38a828" d="M187 152v45M189 143v54M191 138v59M193 133v64M195 137v60M197 128v69M199 131v66M201 134v63M203 131v66M205 131v66M207 128v69M209 134v63M211 131v66M213 133v64M215 140v57M217 143v54M219 148v20M345 185v6M345 201v6M347 167v40M349 167v40M351 165v42M353 162v45M355 162v45M357 169v38M359 175v32M373 162v13M375 157v23M377 157v23M379 158v21M381 164v9M513 194v19M515 195v18M517 198v15M527 192v21M529 163v50M531 163v50M533 159v54M535 152v61M537 157v56M539 155v58M541 154v59M543 148v65M545 136v77M547 136v77M549 138v75M551 161v52M553 157v56M555 151v62M557 143v11M557 157v56M559 141v72M561 142v13M561 156v57M563 157v56M565 161v52M567 170v43M569 174v39M571 188v25M661 171v43M663 142v72M665 132v82M667 130v84M669 129v85M671 130v84M673 120v94M675 129v85M677 125v89M679 123v91M681 125v89M683 115v99M685 119v95M687 129v85M689 126v88M691 121v93M693 130v84M695 137v77M697 160v54M699 184v30M701 185v29M703 183v31M705 182v32M707 183v31M709 183v31M711 187v27M713 194v20M837 174v21M839 169v26M841 173v22M843 177v18M845 181v14M847 130v65M849 114v81M851 114v81M853 107v88M855 106v89M857 118v77M859 126v69M857 159v17M859 81v27M859 127v87M861 77v35M861 122v92M863 76v138M865 78v32M865 111v103M867 76v138M869 81v133M871 93v2M871 105v109M873 76v138M875 73v141M877 75v139M879 74v140M881 76v30M881 113v101M883 89v7M883 128v86M915 181v33M917 176v38M919 171v43M921 167v47M923 169v45M925 134v27M925 164v50M927 129v35M927 167v47M929 127v38M929 167v47M931 126v39M931 169v45M933 125v42M933 173v41M935 126v41M935 187v27M937 125v42M939 117v49M941 117v46M943 115v48M943 175v25M945 114v100M947 113v24M947 144v70M949 112v102M951 114v22M951 142v72M953 113v24M953 138v76M955 115v20M955 146v68M957 115v20M957 146v68M959 115v20M959 151v63M961 115v21M963 115v20M965 117v16M967 118v12M969 159v22M971 156v29M973 156v27M975 157v27M977 160v20M1029 93v23M1031 89v30M1033 88v32M1035 89v30M1037 87v34M1039 87v33M1041 87v33M1043 88v31M1045 96v18M1049 170v19M1049 205v9M1051 151v63M1053 142v72M1055 136v78M1057 134v80M1059 132v82M1061 127v87M1063 131v83M1065 131v83M1067 130v84M1069 126v88M1071 124v90M1073 122v92M1075 124v90M1077 127v87M1079 134v80M1081 128v86M1083 137v77M1085 139v75M1087 143v71M1089 145v69M1091 147v20M1179 167v38M1181 165v40M1183 160v45M1185 161v44M1187 158v47M1189 160v45M1191 157v48M1193 153v52M1195 159v46M1197 152v53M1199 159v46M1201 155v50M1203 153v52M1205 156v49M1207 153v52M1209 151v54M1211 153v52M1213 158v47M1215 153v52M1217 153v52M1219 157v48M1221 160v45M1223 163v42M1225 161v44M1227 156v49M1229 152v53M1231 151v54M1233 152v53M1235 159v46M1237 194v5M1243 157v48M1245 145v60M1247 135v70M1249 134v71M1251 130v75M1253 125v80M1255 135v70M1257 127v78M1259 132v73M1261 133v72M1263 131v74M1265 132v73M1267 128v77M1269 132v73M1271 131v74M1273 134v54M1273 192v13M1275 134v54M1277 134v55M1279 131v61M1281 132v58M1283 132v57M1285 133v55M1287 128v64M1289 134v52M1291 131v58M1293 131v57M1295 130v59M1297 134v51M1299 131v58M1301 134v51M1303 136v46M1305 137v45M1307 139v42M1309 143v34M1311 150v23M1379 147v49M1381 139v57M1383 125v71M1385 129v67M1387 119v77M1389 122v74M1391 116v80M1393 119v77M1395 120v76M1397 125v71M1399 105v1M1399 128v68M1401 130v66M1403 141v55M1405 137v59M1407 140v56M1409 133v63M1411 133v63M1413 136v60M1415 135v61M1417 127v69M1419 126v70M1421 120v76M1423 122v74M1425 126v70M1427 131v65M1429 126v70M1431 136v60M1433 131v65M1435 130v66M1437 130v66M1439 130v66M1441 133v63M1443 132v64M1445 136v60M1447 129v67M1449 127v69M1451 130v66M1453 133v63M1455 129v67M1457 132v64M1459 131v65M1461 125v71M1463 130v66M1465 133v63M1467 129v67M1469 131v65M1471 134v62M1473 131v65M1475 129v67M1477 134v62M1479 130v66M1481 136v60M1483 141v55M1485 140v56M1487 136v60M1489 126v70M1491 131v65M1493 129v67M1495 132v64M1497 130v66M1499 132v64M1501 164v20"/>
<path stroke="#2e9822" d="M187 179v18M189 156v41M191 147v50M193 141v56M195 144v53M197 136v61M199 138v59M201 139v58M203 137v60M205 137v60M207 135v62M209 140v57M211 138v59M213 141v56M215 149v48M217 157v8M347 176v31M349 172v35M351 170v37M353 167v40M355 168v39M357 175v32M375 160v17M377 159v19M379 161v15M513 200v13M515 200v13M527 192v21M529 163v50M531 163v50M533 159v54M535 152v61M537 157v56M539 155v58M541 154v59M543 148v65M545 138v75M547 139v74M549 144v69M551 161v52M553 157v56M555 151v62M557 157v56M559 143v70M561 156v57M563 157v56M565 161v52M567 170v43M569 174v39M571 188v25M661 171v43M663 142v72M665 132v82M667 130v84M669 129v85M671 130v84M673 120v94M675 129v85M677 125v89M679 123v91M681 125v89M683 115v99M685 119v95M687 129v85M689 126v88M691 121v93M693 130v84M695 137v77M697 162v52M699 187v27M701 187v27M703 186v28M705 184v30M707 186v28M709 186v28M711 190v24M837 174v21M839 169v26M841 173v22M843 177v18M845 181v14M847 130v65M849 114v81M851 114v81M853 107v88M855 106v89M857 118v77M859 126v69M857 159v17M859 81v27M859 127v87M861 77v35M861 122v92M863 76v138M865 78v32M865 111v103M867 76v138M869 81v133M871 105v109M873 78v136M875 75v139M877 77v137M879 76v30M879 108v106M881 78v25M881 113v101M883 128v86M915 181v33M917 176v38M919 171v43M921 167v47M923 169v45M925 134v27M925 164v50M927 129v35M927 167v47M929 127v38M929 167v47M931 126v39M931 169v45M933 125v42M933 173v41M935 126v41M935 187v27M937 125v42M939 126v40M941 130v33M943 131v32M943 175v25M945 119v12M945 136v78M947 118v14M947 144v70M949 117v16M949 138v76M951 118v14M951 142v72M953 117v16M953 138v76M955 119v12M955 146v68M957 119v12M957 146v68M959 119v12M959 151v63M961 120v9M1029 93v23M1031 89v30M1033 88v32M1035 89v30M1037 87v34M1039 87v33M1041 87v33M1043 88v31M1045 96v18M1049 170v19M1049 205v9M1051 151v63M1053 142v72M1055 136v78M1057 134v80M1059 132v82M1061 127v87M1063 131v83M1065 131v83M1067 130v84M1069 126v88M1071 124v90M1073 122v92M1075 124v90M1077 127v87M1079 134v80M1081 128v86M1083 137v77M1085 139v75M1087 143v71M1089 145v69M1091 147v20M1185 185v14M1187 173v32M1189 172v33M1191 169v36M1193 166v39M1195 169v36M1197 164v41M1199 169v36M1201 166v39M1203 161v44M1205 157v48M1207 154v51M1209 153v52M1211 155v50M1213 158v47M1215 157v48M1217 167v38M1219 175v30M1223 165v40M1225 161v44M1227 156v49M1229 152v53M1231 151v54M1233 152v53M1235 159v46M1237 194v5M1243 157v48M1245 145v60M1247 135v70M1249 134v71M1251 130v75M1253 125v80M1255 135v70M1257 127v78M1259 132v73M1261 133v72M1263 131v74M1265 132v73M1267 128v77M1269 134v71M1271 143v62M1273 192v13M1379 147v49M1381 139v57M1383 125v71M1385 129v67M1387 119v77M1389 122v74M1391 116v80M1393 119v77M1395 120v76M1397 125v71M1399 128v68M1401 130v66M1403 150v46M1409 170v26M1411 142v54M1413 139v57M1415 135v61M1417 127v69M1419 126v70M1421 120v76M1423 122v74M1425 126v70M1427 131v65M1429 126v70M1431 136v60M1433 139v57M1435 145v51M1437 145v51M1439 144v52M1441 146v50M1443 146v50M1445 149v47M1447 143v53M1449 143v53M1451 144v52M1453 147v49M1455 144v52M1457 146v50M1459 145v51M1461 141v55M1463 139v57M1465 138v58M1467 134v62M1469 136v60M1471 139v57M1473 134v62M1475 132v64M1477 139v57M1479 137v59M1481 146v50M1483 159v37M1485 167v15M1487 136v60M1489 126v70M1491 131v65M1493 129v67M1495 132v64M1497 130v66M1499 132v64M1501 164v20"/>
<path stroke="#2a8a22" d="M187 179v18M189 156v41M191 151v46M193 148v49M195 155v42M197 148v49M199 148v49M201 149v48M203 146v51M205 142v55M207 139v58M209 147v50M211 145v52M213 150v47M215 162v35M349 182v25M351 178v29M353 176v31M355 177v30M357 192v15M375 165v7M377 163v11M379 166v5M527 192v21M529 163v50M531 163v50M533 159v54M535 152v61M537 157v56M539 155v58M541 154v59M543 148v65M545 144v69M547 142v11M547 154v59M549 150v63M551 161v52M553 157v56M555 151v62M557 157v56M559 148v1M559 154v59M561 156v57M563 157v56M565 161v52M567 170v43M569 174v39M571 188v25M661 171v43M663 142v72M665 132v82M667 130v84M669 129v85M671 130v84M673 120v94M675 129v85M677 125v89M679 123v91M681 125v89M683 115v99M685 119v95M687 129v85M689 126v88M691 121v93M693 130v84M695 137v77M697 162v52M699 190v24M701 190v24M703 188v26M705 187v27M707 189v25M709 190v24M711 195v19M837 174v21M839 169v26M841 173v22M843 177v18M845 181v14M847 130v65M849 114v81M851 114v81M853 107v88M855 106v89M857 118v77M859 126v69M857 159v17M859 81v27M859 127v87M861 77v35M861 122v92M863 76v138M865 78v32M865 111v103M867 76v138M869 81v133M871 105v109M873 83v14M873 100v114M875 78v136M877 80v134M879 79v23M879 108v106M881 84v12M881 113v101M883 128v86M915 181v33M917 176v38M919 171v43M921 167v47M923 169v45M925 134v27M925 164v50M927 129v35M927 167v47M929 127v38M929 167v47M931 126v39M931 169v45M933 125v42M933 173v41M935 126v41M935 187v27M937 125v42M939 126v40M941 130v33M943 131v32M943 175v25M945 136v78M947 144v70M949 138v76M951 142v72M953 138v76M955 146v68M957 146v68M959 151v63M1029 93v23M1031 89v30M1033 88v32M1035 89v30M1037 87v34M1039 87v33M1041 87v33M1043 88v31M1045 96v18M1049 170v19M1049 205v9M1051 151v63M1053 142v72M1055 136v78M1057 134v80M1059 132v82M1061 127v87M1063 131v83M1065 131v83M1067 130v84M1069 126v88M1071 124v90M1073 122v92M1075 124v90M1077 127v87M1079 134v80M1081 128v86M1083 137v77M1085 139v75M1087 143v71M1089 145v69M1091 147v20M1203 161v25M1205 157v32M1207 154v37M1209 153v38M1211 155v35M1213 158v29M1215 157v31M1217 167v7M1223 165v40M1225 161v44M1227 156v49M1229 152v53M1231 151v54M1233 152v53M1235 159v46M1237 194v5M1243 157v48M1245 145v60M1247 135v70M1249 134v71M1251 130v75M1253 125v80M1255 135v70M1257 127v78M1259 132v73M1261 133v72M1263 131v74M1265 132v73M1267 128v77M1269 134v71M1271 143v62M1273 192v13M1379 147v49M1381 139v57M1383 125v71M1385 129v67M1387 119v77M1389 122v74M1391 116v80M1393 119v77M1395 120v76M1397 125v71M1399 128v68M1401 130v66M1403 150v46M1409 170v26M1411 142v54M1413 139v57M1415 135v61M1417 127v69M1419 126v70M1421 120v76M1423 122v74M1425 126v70M1427 131v65M1429 126v70M1431 136v60M1433 139v57M1435 151v45M1445 177v19M1447 173v23M1449 174v22M1451 181v8M1459 164v8M1461 141v55M1463 139v57M1465 138v58M1467 134v62M1469 136v60M1471 139v57M1473 134v62M1475 132v64M1477 139v57M1479 137v59M1481 146v50M1483 159v37M1485 167v15M1487 136v60M1489 126v70M1491 131v65M1493 129v67M1495 132v64M1497 130v66M1499 132v64M1501 164v20"/>
<path stroke="#1e6e1e" d="M189 161v36M191 154v43M193 151v46M195 158v39M197 151v46M199 155v42M201 159v38M203 150v47M205 145v52M207 143v54M209 150v47M211 148v49M213 154v43M215 167v30M527 198v15M529 166v47M531 164v49M533 160v53M535 153v60M537 158v55M539 156v57M541 155v58M543 149v64M545 149v64M547 155v58M549 151v62M551 161v52M553 157v56M555 151v62M557 157v56M559 154v59M561 156v57M563 158v55M565 163v50M567 172v41M569 176v37M661 178v17M663 145v69M665 134v80M667 132v82M669 130v84M671 131v83M673 121v93M675 130v84M677 126v88M679 124v90M681 126v88M683 116v98M685 120v94M687 130v84M689 127v87M691 122v92M693 132v82M695 140v74M697 166v48M699 195v19M701 193v21M703 192v22M705 191v23M707 193v21M709 194v20M837 176v19M839 171v24M841 175v20M843 179v16M845 183v12M847 130v65M849 114v81M851 114v81M853 107v88M855 106v89M857 118v77M859 126v69M857 159v17M859 82v25M859 127v87M861 77v34M861 122v92M863 76v138M865 78v31M865 111v103M867 77v137M869 82v132M871 105v109M873 100v114M875 92v122M877 104v110M879 108v106M881 113v101M883 128v86M915 181v33M917 176v38M919 171v43M921 167v47M923 169v45M925 142v17M925 164v50M927 131v32M927 167v47M929 128v36M929 167v47M931 127v38M931 169v45M933 126v40M933 173v41M935 127v40M935 187v27M937 126v40M939 127v38M941 131v31M943 132v30M943 180v16M945 140v74M947 146v68M949 140v74M951 143v71M953 140v74M955 147v67M957 147v67M959 153v61M1029 93v23M1031 89v30M1033 88v32M1035 89v30M1037 87v34M1039 87v33M1041 87v33M1043 88v31M1045 96v18M1051 154v60M1053 145v69M1055 138v76M1057 136v78M1059 134v80M1061 128v86M1063 132v82M1065 132v82M1067 131v83M1069 128v86M1071 125v89M1073 123v91M1075 125v89M1077 129v85M1079 136v78M1081 129v85M1083 139v75M1085 141v73M1087 145v69M1089 146v23M1089 176v38M1091 148v18M1203 163v22M1205 157v31M1207 155v35M1209 153v37M1211 155v34M1213 159v28M1215 158v29M1223 167v38M1225 162v43M1227 157v48M1229 153v52M1231 152v53M1233 153v52M1235 161v44M1243 161v44M1245 146v59M1247 136v69M1249 135v70M1251 131v74M1253 126v79M1255 136v69M1257 128v77M1259 133v72M1261 134v71M1263 132v73M1265 133v72M1267 129v76M1269 136v69M1271 145v60M1273 196v9M1379 150v46M1381 141v55M1383 126v70M1385 130v66M1387 121v75M1389 123v73M1391 117v79M1393 120v76M1395 121v75M1397 126v70M1399 129v67M1401 131v65M1403 154v42M1409 178v18M1411 144v52M1413 141v55M1415 136v60M1417 129v67M1419 127v69M1421 121v75M1423 123v73M1425 127v69M1427 132v64M1429 127v69M1431 137v59M1433 141v55M1435 153v43M1445 178v18M1447 174v22M1449 175v21M1461 144v52M1463 141v55M1465 140v56M1467 135v61M1469 137v59M1471 140v56M1473 135v61M1475 133v63M1477 141v55M1479 139v57M1481 148v48M1483 163v33M1487 139v57M1489 127v69M1491 132v64M1493 131v65M1495 133v63M1497 132v64M1499 135v61"/>
<path stroke="#f0ee3c" d="M189 169v28M191 158v39M193 155v42M195 161v36M197 155v42M199 159v38M201 163v34M203 154v43M205 149v48M207 147v50M209 153v44M211 152v45M213 159v38M529 176v37M531 169v44M533 164v49M535 157v56M537 161v52M539 159v54M541 158v55M543 152v61M545 152v61M547 158v55M549 154v59M551 164v49M553 157v56M555 151v62M557 157v56M559 154v59M561 156v57M563 160v53M565 167v46M567 177v36M569 184v29M663 157v57M665 139v75M667 135v79M669 133v81M671 133v81M673 125v89M675 133v81M677 129v85M679 127v87M681 129v85M683 120v94M685 124v90M687 133v81M689 131v83M691 126v88M693 137v77M695 150v64M699 205v5M701 199v15M703 198v16M705 197v17M707 199v15M709 211v3M837 187v8M839 179v16M841 182v13M843 185v10M847 130v65M849 114v81M851 114v81M853 107v88M855 106v89M857 118v77M859 126v69M857 159v17M859 88v1M859 127v87M861 80v29M861 122v92M863 79v135M865 80v27M865 111v103M867 80v134M869 89v10M869 101v113M871 105v109M873 100v114M875 92v122M877 104v110M879 108v106M881 113v101M883 128v86M915 181v33M917 176v38M919 171v43M921 167v47M923 169v45M925 164v50M927 136v22M927 167v47M929 132v29M929 167v47M931 130v32M931 169v45M933 129v34M933 173v41M935 129v35M935 187v27M937 129v34M939 130v32M941 134v25M943 137v20M945 162v48M947 151v63M949 145v69M951 148v66M953 144v70M955 151v63M957 152v62M959 161v51M1029 93v23M1031 89v30M1033 88v32M1035 89v30M1037 87v34M1039 87v33M1041 87v33M1043 88v31M1045 96v18M1051 169v26M1051 199v15M1053 154v60M1055 145v69M1057 142v72M1059 139v75M1061 133v81M1063 137v77M1065 137v77M1067 136v78M1069 133v81M1071 130v84M1073 128v86M1075 131v83M1077 134v80M1079 141v73M1081 135v79M1083 145v69M1085 149v65M1087 147v20M1087 168v46M1089 148v19M1091 152v11M1203 169v2M1205 160v26M1207 157v31M1209 155v33M1211 157v30M1213 160v25M1215 161v24M1223 174v31M1225 165v40M1227 160v45M1229 156v49M1231 155v50M1233 157v48M1235 165v40M1243 185v20M1245 151v54M1247 140v65M1249 138v67M1251 134v71M1253 129v76M1255 138v67M1257 131v74M1259 135v70M1261 137v68M1263 134v71M1265 136v69M1267 133v72M1269 140v65M1271 155v50M1381 146v50M1383 131v65M1385 133v63M1387 124v72M1389 127v69M1391 121v75M1393 124v72M1395 125v71M1397 130v66M1399 134v62M1401 138v58M1403 169v27M1411 152v44M1413 145v51M1415 140v56M1417 133v63M1419 131v65M1421 124v72M1423 126v70M1425 130v66M1427 135v61M1429 131v65M1431 141v55M1433 146v50M1447 177v19M1449 178v18M1461 157v26M1463 148v48M1465 145v51M1467 140v56M1469 142v54M1471 145v51M1473 141v55M1475 139v57M1477 146v50M1479 146v50M1481 156v40M1487 148v48M1489 133v63M1491 137v59M1493 136v60M1495 138v58M1497 137v59M1499 144v52"/>
<path stroke="#e4e438" d="M189 184v11M191 163v34M193 159v38M195 165v32M197 159v38M199 163v34M201 169v28M203 160v37M205 154v43M207 152v45M209 158v39M211 158v39M213 166v31M531 176v37M533 169v44M535 161v52M537 165v48M539 162v51M541 162v51M543 155v58M545 156v57M547 161v52M549 158v55M551 167v46M553 157v56M555 151v62M557 157v56M559 154v59M561 156v57M563 160v53M565 173v40M567 184v29M663 173v41M665 147v67M667 140v74M669 136v78M671 137v77M673 128v86M675 136v78M677 133v81M679 131v83M681 132v82M683 123v91M685 127v87M687 136v78M689 134v80M691 131v83M693 143v71M695 164v50M839 192v3M841 191v4M847 130v65M849 114v81M851 114v81M853 107v88M855 106v89M857 118v77M859 126v69M857 159v17M859 127v87M861 86v16M861 122v92M863 83v22M863 115v99M865 84v19M865 117v97M867 86v128M869 107v107M871 111v103M873 106v108M875 99v115M877 110v104M879 114v100M881 122v92M915 181v33M917 176v38M919 171v43M921 167v47M923 169v45M925 164v50M927 167v47M929 137v20M929 167v47M931 134v24M931 169v45M933 133v27M933 173v41M935 133v27M935 187v27M937 133v27M939 134v25M941 139v16M945 184v8M947 159v55M949 152v62M951 153v61M953 150v64M955 156v58M957 159v55M1029 102v11M1031 90v27M1033 89v30M1035 90v28M1037 88v32M1039 89v30M1041 89v30M1043 90v27M1045 99v13M1053 168v46M1055 155v59M1057 149v65M1059 145v69M1061 140v74M1063 142v72M1065 142v72M1067 141v73M1069 138v76M1071 136v78M1073 134v80M1075 137v77M1077 140v74M1079 147v67M1081 143v71M1083 153v61M1085 166v48M1087 151v13M1089 151v13M1205 163v20M1207 159v27M1209 158v28M1211 159v26M1213 162v21M1215 167v13M1225 169v36M1227 163v42M1229 160v45M1231 159v46M1233 161v44M1235 172v33M1245 157v48M1247 145v60M1249 142v63M1251 137v68M1253 132v73M1255 141v64M1257 134v71M1259 138v67M1261 139v66M1263 137v68M1265 139v66M1267 138v67M1269 146v59M1271 186v19M1381 153v43M1383 137v59M1385 137v59M1387 129v67M1389 131v65M1391 125v71M1393 128v68M1395 129v67M1397 135v61M1399 139v57M1401 148v48M1411 167v29M1413 150v46M1415 144v52M1417 137v59M1419 135v61M1421 129v67M1423 131v65M1425 134v62M1427 139v57M1429 136v60M1431 147v49M1433 153v43M1447 182v10M1463 160v36M1465 153v43M1467 147v49M1469 149v47M1471 151v45M1473 147v49M1475 147v49M1477 154v42M1479 155v41M1481 176v18M1487 174v7M1489 142v54M1491 144v52M1493 143v53M1495 145v51M1497 145v51M1499 170v12"/>
<path stroke="#d8d838" d="M191 173v24M193 165v32M195 170v27M197 166v31M199 169v28M203 169v28M205 161v36M207 159v38M209 164v33M211 166v31M213 182v1M531 201v12M533 175v38M535 167v46M537 169v44M539 166v47M541 166v47M543 160v53M545 160v53M547 165v48M549 162v51M551 170v43M553 157v56M555 151v62M557 157v56M559 154v59M561 156v57M563 160v53M565 173v40M665 159v55M667 146v68M669 141v73M671 140v74M673 132v82M675 139v75M677 136v78M679 134v80M681 136v78M683 128v86M685 131v83M687 140v74M689 138v76M691 136v78M693 153v61M847 130v65M849 114v81M851 114v81M853 107v88M855 106v89M857 118v77M859 126v69M857 159v17M859 127v64M861 122v92M863 117v97M865 121v93M867 109v105M869 115v99M871 117v97M873 114v100M875 108v106M877 118v96M879 123v91M881 137v77M915 181v33M917 176v38M919 171v43M921 167v47M923 169v45M925 164v50M927 167v47M929 167v47M931 141v11M931 169v45M933 138v17M933 173v41M935 138v17M935 187v27M937 138v17M939 142v10M947 180v14M949 163v47M951 162v48M953 160v52M955 165v42M1031 93v22M1033 91v26M1035 91v26M1037 90v28M1039 90v28M1041 90v27M1043 93v22M1055 172v42M1057 161v53M1059 154v60M1061 145v69M1063 147v67M1065 148v66M1067 148v66M1069 144v70M1071 143v71M1073 142v72M1075 145v69M1077 148v66M1079 154v60M1081 153v61M1083 171v43M1205 169v5M1207 162v21M1209 160v24M1211 162v21M1213 165v15M1225 171v34M1227 167v38M1229 164v41M1231 163v42M1233 166v39M1245 170v35M1247 150v55M1249 146v59M1251 141v64M1253 136v69M1255 144v61M1257 137v68M1259 141v64M1261 142v63M1263 141v64M1265 143v62M1267 143v62M1269 154v51M1381 164v17M1381 188v8M1383 144v52M1385 142v54M1387 133v63M1389 135v61M1391 130v66M1393 133v63M1395 135v61M1397 140v56M1399 145v51M1401 166v30M1413 157v39M1415 150v46M1417 143v53M1419 140v56M1421 134v62M1423 135v61M1425 139v57M1427 144v52M1429 142v54M1431 153v43M1433 166v12M1433 195v1M1465 170v26M1467 159v37M1469 159v37M1471 161v35M1473 158v38M1475 159v37M1477 166v30M1489 162v34M1491 154v42M1493 153v43M1495 155v41M1497 162v34"/>
<path stroke="#ccd030" d="M193 178v19M195 179v18M197 177v20M205 175v22M207 171v26M209 175v22M531 202v11M533 187v26M535 175v38M537 175v38M539 172v41M541 171v42M543 165v48M545 165v48M547 169v44M549 167v46M551 171v42M553 157v56M555 151v62M557 157v56M559 154v59M561 156v57M563 160v53M565 173v40M665 182v9M667 154v60M669 146v68M671 145v69M673 137v77M675 144v70M677 141v73M679 139v75M681 140v74M683 132v82M685 136v78M687 144v70M689 143v71M691 145v69M693 170v44M847 137v58M849 119v76M851 118v77M853 111v84M855 111v84M857 123v72M859 133v62M857 159v17M859 127v64M861 122v73M863 117v97M865 121v93M867 113v101M869 116v98M871 117v97M873 116v98M875 116v98M877 127v87M879 140v74M881 173v38M915 181v33M917 176v38M919 171v43M921 167v47M923 169v45M925 164v50M927 167v47M929 167v47M931 169v45M933 173v41M935 187v27M1031 96v17M1033 92v23M1035 93v22M1037 91v26M1039 92v24M1041 92v23M1043 97v16M1057 165v49M1059 154v60M1061 145v69M1063 147v67M1065 148v66M1067 148v66M1069 144v70M1071 143v71M1073 144v70M1075 148v66M1077 153v61M1079 163v51M1081 181v33M1207 166v13M1209 164v17M1211 165v15M1225 171v3M1225 193v6M1227 167v38M1229 168v37M1231 167v38M1233 172v33M1245 170v35M1247 157v48M1249 151v54M1251 145v60M1253 140v65M1255 147v58M1257 141v64M1259 145v60M1261 146v59M1263 145v60M1265 148v57M1267 150v55M1269 184v21M1381 188v8M1383 155v41M1385 149v47M1387 140v56M1389 141v55M1391 137v59M1393 139v57M1395 141v55M1397 147v49M1399 156v40M1413 176v20M1415 156v40M1417 149v47M1419 146v50M1421 140v56M1423 141v55M1425 144v52M1427 149v47M1429 149v47M1431 162v34"/>
<path stroke="#c4c430" d="M531 202v11M533 187v26M535 182v31M537 184v29M539 180v33M541 178v35M543 173v40M545 172v41M547 176v37M549 174v39M551 171v42M553 157v56M555 151v62M557 157v56M559 154v59M561 156v57M563 160v53M565 173v40M667 154v60M669 147v67M671 146v68M673 142v72M675 145v69M677 143v71M679 142v72M681 144v70M683 138v76M685 141v73M687 149v65M689 150v64M691 160v54M847 147v24M849 125v70M851 122v73M853 116v79M855 116v79M857 128v67M859 146v48M857 159v17M859 127v64M861 122v73M863 117v95M865 121v93M867 113v101M869 116v98M871 117v97M873 116v98M875 116v98M877 127v87M879 157v57M881 173v38M915 181v33M917 176v38M919 171v43M921 167v47M923 169v45M925 164v50M927 167v47M929 167v47M931 169v45M933 173v41M935 187v27M1033 95v18M1035 95v18M1037 93v22M1039 94v20M1041 95v18M1057 165v49M1059 154v60M1061 145v69M1063 147v67M1065 148v66M1067 148v66M1069 144v70M1071 143v71M1073 144v70M1075 148v66M1077 153v61M1079 163v51M1081 181v33M1225 171v3M1227 167v38M1229 173v32M1231 174v31M1245 170v35M1247 165v40M1249 158v47M1251 151v54M1253 145v60M1255 152v53M1257 146v59M1259 149v56M1261 150v55M1263 150v55M1265 154v51M1267 159v46M1381 188v8M1383 164v32M1385 159v37M1387 148v48M1389 149v47M1391 145v51M1393 147v49M1395 150v46M1397 157v39M1415 170v26M1417 158v38M1419 154v42M1421 148v48M1423 149v47M1425 152v44M1427 157v39M1429 161v35"/>
<path stroke="#d0a828" d="M531 202v11M533 187v26M535 182v31M537 184v29M539 183v30M541 183v30M543 180v33M545 185v28M547 187v26M549 186v27M551 171v42M553 157v56M555 151v62M557 157v56M559 154v59M561 156v57M563 160v53M565 173v40M667 154v31M669 147v67M671 146v68M673 142v72M675 145v69M677 143v71M679 142v72M681 144v70M683 141v73M685 144v70M687 150v64M689 157v57M849 134v61M851 129v66M853 123v72M855 124v71M857 136v59M857 159v17M859 127v64M861 122v73M863 117v95M865 121v93M867 113v101M869 116v98M871 117v97M873 116v98M875 116v98M877 127v87M879 157v57M881 173v38M915 213v1M917 179v35M919 174v40M921 170v44M923 172v42M925 167v47M927 170v44M929 171v43M931 173v41M933 179v35M935 195v19M1033 98v12M1035 97v14M1037 95v17M1039 96v16M1041 99v11M1057 165v49M1059 154v60M1061 145v69M1063 147v67M1065 148v66M1067 148v66M1069 144v70M1071 143v71M1073 144v70M1075 148v66M1077 153v61M1079 163v51M1081 181v33M1225 171v3M1227 167v15M1229 173v2M1229 183v18M1231 186v12M1245 170v35M1247 165v40M1249 168v37M1251 159v46M1253 152v53M1255 157v48M1257 152v53M1259 155v50M1261 156v49M1263 157v48M1265 163v42M1381 188v8M1383 164v32M1385 165v31M1387 164v32M1389 163v33M1391 160v36M1393 162v34M1395 169v27M1419 170v26M1421 163v33M1423 164v32M1425 166v30M1427 175v21"/>
<path stroke="#d89820" d="M533 189v24M535 184v29M537 186v27M539 185v28M541 185v28M543 183v30M545 193v20M551 175v38M553 160v53M555 153v60M557 159v54M559 156v57M561 159v54M563 162v51M565 180v33M667 154v31M669 147v41M671 146v43M673 142v72M675 145v69M677 143v71M679 142v72M681 144v70M683 141v73M685 144v70M687 150v57M689 157v25M849 151v44M851 140v55M853 135v60M855 137v58M857 152v43M857 159v17M859 127v64M861 122v73M863 117v95M865 121v93M867 113v101M869 116v98M871 117v97M873 116v98M875 116v98M877 127v87M879 157v57M881 173v38M917 184v30M919 178v36M921 174v40M923 175v39M925 171v43M927 174v40M929 174v40M931 177v37M933 185v29M1035 100v8M1037 99v10M1039 99v9M1057 165v49M1059 154v60M1061 145v69M1063 147v67M1065 148v66M1067 148v66M1069 144v70M1071 143v71M1073 144v70M1075 148v66M1077 153v61M1079 163v51M1081 181v33M1225 171v3M1227 167v15M1229 173v2M1245 170v35M1247 165v40M1249 168v37M1251 174v31M1253 165v40M1255 165v40M1257 162v43M1259 164v41M1261 165v40M1263 170v35M1381 188v8M1383 164v32M1385 165v31M1387 164v32M1389 170v26"/>
<path stroke="#e08018" d="M533 193v20M535 187v26M537 189v24M539 188v25M541 187v26M543 187v26M545 204v4M551 182v31M553 164v49M555 157v56M557 162v51M559 160v53M561 163v50M563 167v46M565 206v7M667 154v31M669 147v41M671 146v43M673 142v51M675 145v45M677 143v47M679 142v49M681 144v47M683 141v53M685 144v47M687 150v36M689 157v25M857 159v17M859 127v64M861 122v73M863 117v95M865 121v93M867 113v101M869 116v98M871 117v97M873 116v98M875 116v98M877 127v87M879 157v57M881 173v38M917 192v22M919 182v32M921 178v36M923 179v35M925 175v39M927 177v37M929 178v36M931 182v32M933 193v21M1057 169v45M1059 156v58M1061 147v67M1063 149v65M1065 150v64M1067 149v65M1069 146v68M1071 145v69M1073 146v68M1075 150v64M1077 155v59M1079 166v48M1081 190v17M1227 168v13M1245 172v33M1247 166v39M1249 169v36M1251 176v29M1383 166v30M1385 167v29M1387 165v31M1389 172v24"/>
<path stroke="#e81030" d="M533 201v12M535 191v22M537 192v21M539 191v22M541 191v22M543 193v20M551 191v22M553 170v43M555 162v51M557 166v47M559 164v49M561 167v46M563 173v40M667 154v31M669 147v41M671 146v43M673 142v51M675 145v45M677 143v47M679 142v49M681 144v47M683 141v53M685 144v47M687 150v36M689 157v25M857 159v17M859 127v64M861 122v73M863 117v95M865 121v93M867 113v101M869 116v98M871 117v97M873 116v98M875 116v98M877 127v87M879 157v57M881 173v38M919 187v27M921 182v32M923 182v32M925 178v36M927 181v33M929 182v32M931 189v25M1057 188v3M1059 165v49M1061 153v61M1063 154v60M1065 154v60M1067 154v60M1069 151v63M1071 150v64M1073 151v63M1075 155v59M1077 161v53M1079 177v37M1227 169v11M1245 177v28M1247 171v34M1249 173v32M1251 183v22M1383 171v25M1385 171v25M1387 170v26M1389 184v12"/>
<path stroke="#c80020" d="M535 195v18M537 196v17M539 195v18M541 195v18M543 202v11M553 177v36M555 167v46M557 171v42M559 169v44M561 173v40M563 183v30M667 161v21M669 149v37M671 148v39M673 144v47M675 146v43M677 144v45M679 144v46M681 145v44M683 142v51M685 145v45M687 152v32M689 161v18M859 133v51M861 127v64M863 122v90M865 125v89M867 118v96M869 119v95M871 121v93M873 121v93M875 122v92M877 135v79M879 168v46M881 173v38M919 194v20M921 182v32M923 182v32M925 178v36M927 181v33M929 182v32M931 197v17M1059 177v37M1061 162v52M1063 158v56M1065 154v60M1067 155v59M1069 153v61M1071 152v62M1073 156v58M1075 162v52M1077 170v44M1227 172v5M1247 177v28M1249 179v26M1383 182v14M1385 176v20M1387 175v21"/>
<path stroke="#c00018" d="M535 205v8M537 200v13M539 199v14M541 201v12M553 191v22M555 175v38M557 178v35M559 177v36M561 181v32M669 152v32M671 149v37M673 145v45M675 148v39M677 146v42M679 146v42M681 147v41M683 144v47M685 148v39M687 156v25M861 133v52M863 127v85M865 129v85M867 123v91M869 124v90M871 126v88M873 127v87M875 130v84M877 165v49M879 168v46M881 173v38M919 199v13M921 182v32M923 182v32M925 178v36M927 181v33M929 182v32M931 197v11M1061 175v39M1063 158v56M1065 154v60M1067 155v59M1069 153v61M1071 152v62M1073 156v58M1075 172v42M1077 192v18M1247 185v20M1249 188v17M1385 182v14M1387 184v12"/>
<path stroke="#b0000c" d="M537 208v5M539 206v7M555 193v20M557 190v23M559 190v23M669 157v24M671 151v33M673 147v41M675 149v37M677 148v38M679 147v40M681 148v38M683 146v43M685 150v35M687 160v19M861 160v8M863 136v76M865 135v79M867 130v84M869 131v83M871 133v81M873 136v78M875 159v55M877 165v49M879 168v46M881 173v38M919 199v13M921 182v32M923 182v32M925 178v36M927 181v33M929 182v32M931 197v11M1061 198v10M1063 158v56M1065 154v60M1067 155v59M1069 153v61M1071 152v62M1073 156v58M1075 192v16"/>
<path stroke="#960000" d="M671 154v28M673 149v36M675 151v33M677 150v34M679 149v36M681 150v35M683 149v37M685 154v28M863 172v40M865 171v43M867 163v51M869 164v50M871 166v48M873 164v50M875 161v53M877 165v49M879 168v46M881 173v38M919 199v13M921 182v32M923 182v32M925 178v36M927 181v33M929 182v32M931 197v11M1061 198v10M1063 158v56M1065 154v60M1067 155v59M1069 153v61M1071 152v62M1073 156v58M1075 192v14"/>
<path stroke="#c00060" d="M671 158v21M673 152v31M675 153v29M677 152v30M679 151v32M681 152v31M683 152v31M685 159v20M863 174v32M865 172v42M867 165v49M869 165v49M871 167v47M873 165v49M875 162v52M877 166v48M879 170v44M881 175v32M921 184v30M923 183v31M925 179v35M927 182v32M929 183v31M1063 160v54M1065 156v58M1067 157v57M1069 155v59M1071 153v61M1073 158v56"/>
<path stroke="#d80098" d="M673 155v25M675 155v25M677 154v26M679 154v27M681 155v25M683 155v25M865 176v36M867 169v45M869 169v45M871 169v45M873 167v47M875 166v48M877 170v44M879 175v38M921 190v24M923 187v27M925 184v30M927 186v28M929 189v25M1063 167v47M1065 161v53M1067 161v53M1069 160v54M1071 159v55M1073 166v48"/>
<path stroke="#e800e8" d="M673 163v12M675 158v19M677 157v21M679 157v21M681 158v19M683 163v11M865 183v14M867 174v40M869 174v40M871 169v45M873 167v47M875 167v47M877 175v39M879 182v13M923 192v22M925 189v25M927 191v23M1065 168v46M1067 167v47M1069 165v49M1071 166v48M1073 196v5"/>
<path stroke="#cc00cc" d="M675 164v8M677 161v13M679 161v13M681 164v8M867 182v19M869 179v31M871 169v41M873 167v44M875 167v45M877 175v4M877 184v17M923 201v13M925 197v17M927 199v15M1065 177v35M1067 173v41M1069 172v42M1071 176v36"/>
<path stroke="#b000b0" d="M871 169v15M871 187v15M873 167v36M875 167v19M877 175v4M1067 184v21M1069 184v22"/>
<path stroke="#960096" d="M871 169v15M873 167v19M875 167v19M877 175v4"/>
<path stroke="#ffffff" d="M871 169v15M873 167v19M875 167v19M877 175v4"/>
</g></g>
<g clip-path="url(#cr)"><g fill="none" stroke-width="2.15" shape-rendering="crispEdges">
<path stroke="#3e6496" d="M1572 781h4M1578 781h2M1572 783h8M1572 785h4M1572 787h8M1572 789h10M1572 791h4M1578 791h2M1586 791h2M1572 793h8M1572 795h6M1580 795h4M1572 797h8M1572 799h8M1572 801h6M1572 803h8M1572 805h6M1580 805h4M1572 807h10M1572 809h4M1578 809h2M1572 811h4M1578 811h2M1572 813h6M1580 813h2M1572 815h10M1572 817h8M1572 819h10M1584 819h2M1572 821h10M1572 823h10M1572 825h12M1572 827h8M1582 827h2M1572 829h6M1572 831h8M1572 833h10M1584 833h2M1572 835h8M1572 837h6M1580 837h4M1572 839h10M1572 841h12M1572 843h8M1582 843h2M1572 845h10M1584 845h2M1572 847h10M1586 847h2M1572 849h8M1572 851h12M1572 853h8M1582 853h2M1572 855h10M1586 855h2M1572 857h8M1582 857h2M1588 857h2M1572 859h14M1572 861h12M1588 861h2M1572 863h14M1572 865h14M1572 867h12M1572 869h14M1572 871h8M1582 871h6M1572 873h10M1584 873h2M1572 875h10M1572 877h14M1572 879h12M1590 879h2M1572 881h14M1572 883h10M1584 883h4M1572 885h12M1586 885h2M1572 887h14M1572 889h14M1572 891h16M1572 893h12M1586 893h4M1572 895h14M1588 895h2M1572 897h16M1590 897h2M1572 899h14M1592 899h2M1572 901h14M1572 903h14M1588 903h2M1572 905h14M1588 905h2M1572 907h10M1584 907h6M1572 909h14M1572 911h16M1590 911h2M1572 913h16M1572 915h20M1572 917h16M1592 917h2M1572 919h16M1590 919h2M1572 921h24M1572 923h18M1572 925h16M1594 925h2M1572 927h18M1572 929h18M1592 929h2M1572 931h16M1590 931h2M1572 933h18M1572 935h20M1572 937h18M1572 939h22M1596 939h2M1572 941h20M1594 941h2M1572 943h16M1572 945h16M1590 945h2M1572 947h20M1572 949h20M1594 949h2M1572 951h16M1592 951h2M1572 953h20M1572 955h22M1596 955h2M1572 957h16M1590 957h2M1572 959h22M1572 961h20M1572 963h18M1594 963h2M1572 965h16M1592 965h2M1572 967h14M1588 967h4M1572 969h20M1572 971h22M1572 973h16M1590 973h4M1572 975h18M1592 975h2M1596 975h2M1572 977h22M1572 979h20M1572 981h22M1572 983h20M1572 985h20M1572 987h20M1594 987h2M1572 989h20M1572 991h18M1572 993h18M1572 995h18M1592 995h2M1572 997h18M1572 999h18M1592 999h2M1572 1001h18M1572 1003h18M1592 1003h4M1572 1005h22M1572 1007h18M1592 1007h2M1572 1009h16M1572 1011h12M1586 1011h4M1572 1013h16M1590 1013h4M1572 1015h16M1590 1015h2M1572 1017h14M1588 1017h2M1572 1019h10M1584 1019h6M1572 1021h18M1592 1021h2M1572 1023h18M1572 1025h18M1572 1027h14M1572 1029h14M1592 1029h2M1572 1031h16M1594 1031h2M1572 1033h14M1572 1035h10M1584 1035h4M1592 1035h2M1572 1037h12M1586 1037h2M1572 1039h16M1572 1041h16M1572 1043h16M1590 1043h2M1572 1045h18M1572 1047h16M1572 1049h16M1572 1051h12M1586 1051h2M1572 1053h14M1572 1055h20M1572 1057h20M1572 1059h12M1588 1059h2M1572 1061h14M1572 1063h16M1590 1063h2M1572 1065h14M1572 1067h12M1588 1067h2M1572 1069h12M1572 1071h12M1586 1071h2M1572 1073h14M1572 1075h18M1572 1077h14M1572 1079h16M1572 1081h12M1590 1081h2M1572 1083h16M1572 1085h18M1572 1087h10M1584 1087h4M1572 1089h12M1588 1089h2M1594 1089h2M1572 1091h14M1588 1091h2M1572 1093h14M1588 1093h4M1572 1095h12M1586 1095h2M1572 1097h14M1588 1097h2M1572 1099h18M1572 1101h18M1592 1101h2M1572 1103h14M1572 1105h18M1572 1107h16M1572 1109h18M1572 1111h16M1572 1113h14M1588 1113h2M1572 1115h18M1592 1115h2M1572 1117h16M1590 1117h4M1572 1119h22M1572 1121h16M1572 1123h14M1590 1123h2M1572 1125h14M1588 1125h2M1572 1127h14M1588 1127h4M1572 1129h16M1572 1131h12M1586 1131h4M1572 1133h10M1584 1133h6M1572 1135h14M1572 1137h18M1572 1139h14M1572 1141h14M1572 1143h12M1586 1143h4M1572 1145h12M1588 1145h2M1572 1147h8M1582 1147h2M1572 1149h10M1584 1149h2M1588 1149h2M1572 1151h12M1586 1151h2M1572 1153h10M1572 1155h8M1582 1155h6M1572 1157h12M1586 1157h2M1572 1159h12M1572 1161h12M1572 1163h14M1572 1165h12M1572 1167h10M1572 1169h12M1586 1169h2M1572 1171h8M1582 1171h2M1572 1173h4M1578 1173h4M1572 1175h10M1572 1177h8M1582 1177h2M1586 1177h2M1572 1179h8M1572 1181h12M1572 1183h6M1572 1185h8M1572 1187h10M1572 1189h6M1572 1191h8M1572 1193h8M1572 1195h8M1582 1195h2M1572 1197h6M1580 1197h2M1572 1199h8M1572 1201h2M1576 1201h4M1572 1203h8M1572 1205h10M1572 1207h6M1580 1207h2M1572 1209h8M1582 1209h2M1572 1211h4M1578 1211h4M1572 1213h4M1572 1215h6M1572 1217h6M1572 1219h8M1572 1221h6M1580 1221h2M1572 1223h4M1572 1225h6M1572 1227h8M1572 1229h6M1656 919h8M1656 921h10M1600 923h10M1654 923h12M1588 925h48M1654 925h12M1588 927h50M1654 927h12M1586 929h52M1652 929h14M1592 931h42M1654 931h12M1602 933h12M1654 933h12M1598 935h30M1654 935h12M1592 937h40M1652 937h16M1592 939h40M1654 939h12M1590 941h42M1652 941h14M1592 943h40M1652 943h16M1598 945h30M1654 945h12M1652 947h14M1606 949h34M1654 949h12M1598 951h48M1654 951h12M1592 953h60M1654 953h12M1596 955h52M1656 955h10M1592 957h60M1654 957h12M1600 959h44M1656 959h8M1610 961h28M1658 961h4"/>
<path stroke="#3e70a0" d="M1572 781h4M1578 781h2M1572 783h8M1572 785h4M1572 787h8M1572 789h10M1572 791h4M1578 791h2M1586 791h2M1574 793h6M1572 795h2M1576 795h2M1580 795h4M1574 797h6M1572 799h8M1572 801h6M1572 803h8M1572 805h6M1580 805h4M1572 807h10M1572 809h4M1578 809h2M1572 811h4M1578 811h2M1572 813h4M1580 813h2M1572 815h2M1576 815h6M1572 817h8M1572 819h10M1584 819h2M1572 821h10M1572 823h10M1572 825h12M1574 827h6M1582 827h2M1572 829h6M1572 831h8M1572 833h10M1584 833h2M1574 835h6M1572 837h4M1580 837h4M1572 839h10M1574 841h10M1572 843h4M1578 843h2M1582 843h2M1572 845h10M1584 845h2M1572 847h10M1586 847h2M1572 849h8M1572 851h12M1572 853h8M1582 853h2M1572 855h10M1586 855h2M1572 857h8M1582 857h2M1588 857h2M1572 859h14M1572 861h12M1588 861h2M1572 863h6M1580 863h6M1572 865h14M1572 867h12M1572 869h2M1576 869h10M1574 871h6M1582 871h6M1572 873h10M1584 873h2M1572 875h2M1576 875h6M1572 877h6M1580 877h6M1572 879h6M1580 879h4M1590 879h2M1572 881h14M1572 883h10M1584 883h4M1572 885h8M1582 885h2M1586 885h2M1572 887h14M1572 889h6M1580 889h6M1574 891h4M1580 891h8M1572 893h12M1586 893h4M1572 895h10M1584 895h2M1588 895h2M1572 897h16M1590 897h2M1572 899h6M1580 899h6M1592 899h2M1572 901h14M1572 903h14M1588 903h2M1572 905h6M1580 905h6M1588 905h2M1572 907h4M1578 907h4M1584 907h6M1572 909h14M1572 911h16M1590 911h2M1572 913h10M1584 913h4M1572 915h20M1572 917h16M1592 917h2M1572 919h2M1576 919h4M1582 919h6M1590 919h2M1572 921h24M1572 923h18M1572 925h16M1594 925h2M1572 927h10M1584 927h6M1572 929h4M1578 929h12M1592 929h2M1572 931h4M1580 931h8M1590 931h2M1574 933h16M1572 935h4M1578 935h8M1588 935h4M1572 937h6M1580 937h10M1572 939h22M1596 939h2M1572 941h20M1594 941h2M1572 943h6M1580 943h4M1586 943h2M1572 945h6M1580 945h8M1590 945h2M1572 947h20M1572 949h20M1594 949h2M1572 951h16M1592 951h2M1572 953h4M1578 953h14M1574 955h20M1596 955h2M1572 957h16M1590 957h2M1572 959h10M1586 959h8M1572 961h20M1572 963h10M1584 963h6M1594 963h2M1572 965h2M1576 965h6M1584 965h4M1592 965h2M1574 967h12M1588 967h4M1572 969h8M1582 969h2M1586 969h6M1572 971h12M1586 971h8M1572 973h16M1590 973h4M1572 975h18M1592 975h2M1596 975h2M1572 977h22M1572 979h4M1578 979h4M1586 979h6M1574 981h10M1586 981h8M1572 983h4M1578 983h14M1572 985h20M1572 987h20M1594 987h2M1572 989h20M1572 991h10M1584 991h6M1572 993h4M1578 993h2M1582 993h8M1572 995h8M1582 995h4M1588 995h2M1592 995h2M1572 997h4M1578 997h12M1572 999h18M1592 999h2M1574 1001h16M1572 1003h10M1584 1003h6M1592 1003h4M1574 1005h20M1574 1007h16M1592 1007h2M1572 1009h6M1580 1009h8M1572 1011h6M1580 1011h4M1586 1011h4M1572 1013h8M1582 1013h6M1590 1013h4M1572 1015h6M1580 1015h8M1590 1015h2M1574 1017h12M1588 1017h2M1572 1019h10M1584 1019h6M1572 1021h10M1584 1021h6M1592 1021h2M1572 1023h18M1574 1025h16M1572 1027h14M1572 1029h14M1592 1029h2M1574 1031h14M1594 1031h2M1572 1033h14M1572 1035h10M1584 1035h4M1592 1035h2M1572 1037h12M1586 1037h2M1572 1039h8M1582 1039h6M1574 1041h14M1574 1043h14M1590 1043h2M1572 1045h8M1582 1045h8M1572 1047h16M1572 1049h2M1576 1049h12M1572 1051h12M1586 1051h2M1572 1053h14M1572 1055h20M1574 1057h18M1572 1059h12M1588 1059h2M1572 1061h14M1572 1063h4M1578 1063h10M1590 1063h2M1572 1065h14M1574 1067h6M1582 1067h2M1588 1067h2M1572 1069h4M1578 1069h6M1572 1071h2M1576 1071h8M1586 1071h2M1572 1073h4M1578 1073h8M1572 1075h18M1572 1077h14M1572 1079h8M1582 1079h6M1574 1081h4M1580 1081h4M1590 1081h2M1572 1083h16M1574 1085h16M1572 1087h4M1578 1087h4M1584 1087h4M1574 1089h10M1588 1089h2M1594 1089h2M1572 1091h14M1588 1091h2M1572 1093h14M1588 1093h4M1572 1095h6M1580 1095h2M1586 1095h2M1572 1097h6M1580 1097h6M1588 1097h2M1572 1099h18M1572 1101h6M1582 1101h8M1592 1101h2M1574 1103h12M1572 1105h18M1572 1107h16M1572 1109h18M1572 1111h8M1582 1111h6M1572 1113h4M1578 1113h8M1588 1113h2M1572 1115h6M1580 1115h10M1592 1115h2M1572 1117h10M1584 1117h4M1590 1117h4M1572 1119h4M1580 1119h14M1572 1121h10M1584 1121h4M1572 1123h14M1590 1123h2M1572 1125h2M1576 1125h6M1584 1125h2M1588 1125h2M1572 1127h10M1584 1127h2M1588 1127h4M1574 1129h2M1578 1129h10M1572 1131h12M1586 1131h4M1572 1133h10M1584 1133h6M1572 1135h2M1576 1135h10M1572 1137h4M1578 1137h12M1572 1139h14M1572 1141h14M1572 1143h12M1586 1143h4M1572 1145h12M1588 1145h2M1572 1147h8M1582 1147h2M1572 1149h10M1584 1149h2M1588 1149h2M1572 1151h12M1586 1151h2M1572 1153h2M1576 1153h6M1572 1155h8M1582 1155h6M1576 1157h8M1586 1157h2M1572 1159h12M1572 1161h6M1580 1161h4M1574 1163h12M1572 1165h12M1572 1167h10M1572 1169h12M1586 1169h2M1572 1171h4M1578 1171h2M1582 1171h2M1572 1173h4M1578 1173h4M1572 1175h4M1578 1175h4M1572 1177h8M1582 1177h2M1586 1177h2M1572 1179h2M1576 1179h4M1572 1181h12M1572 1183h6M1572 1185h8M1572 1187h10M1574 1189h4M1572 1191h8M1572 1193h8M1572 1195h8M1582 1195h2M1572 1197h6M1580 1197h2M1572 1199h8M1572 1201h2M1576 1201h4M1572 1203h2M1576 1203h4M1572 1205h10M1572 1207h6M1580 1207h2M1574 1209h6M1582 1209h2M1572 1211h4M1578 1211h4M1572 1213h4M1572 1215h6M1572 1217h6M1572 1219h8M1572 1221h6M1580 1221h2M1572 1223h4M1572 1225h6M1572 1227h8M1572 1229h6M1596 615h18M1584 617h32M1582 619h36M1582 621h36M1578 623h44M1578 625h42M1644 625h20M1578 627h44M1640 627h26M1576 629h48M1636 629h34M1576 631h48M1632 631h40M1574 633h50M1630 633h42M1576 635h48M1628 635h44M1578 637h44M1628 637h44M1576 639h48M1626 639h48M1578 641h44M1626 641h46M1576 643h100M1576 645h100M1576 647h100M1578 649h98M1576 651h102M1576 653h102M1580 655h40M1624 655h52M1580 657h38M1622 657h54M1582 659h36M1620 659h60M1584 661h32M1620 661h58M1588 663h26M1622 663h56M1592 665h20M1620 665h60M1622 667h56M1618 669h64M1620 671h60M1620 673h60M1620 675h60M1622 677h56M1618 679h64M1588 681h94M1586 683h94M1582 685h100M1582 687h98M1582 689h98M1582 691h100M1582 693h102M1584 695h100M1586 697h94M1584 699h100M1582 701h100M1580 703h104M1580 705h102M1582 707h100M1584 709h96M1584 711h96M1588 713h94M1608 715h74M1590 717h92M1586 719h96M1586 721h92M1582 723h98M1580 725h102M1584 727h92M1580 729h100M1580 731h100M1584 733h94M1588 735h90M1584 737h94M1582 739h94M1580 741h96M1582 743h90M1580 745h92M1580 747h94M1578 749h50M1634 749h38M1580 751h40M1638 751h32M1588 753h38M1642 753h24M1586 755h42M1582 757h48M1640 757h20M1580 759h50M1636 759h26M1580 761h50M1638 761h24M1578 763h54M1640 763h20M1578 765h54M1582 767h48M1586 769h42M1588 771h38M1606 773h4M1600 923h10M1656 923h8M1588 925h48M1656 925h8M1588 927h50M1656 927h10M1586 929h52M1654 929h12M1592 931h42M1654 931h12M1602 933h12M1654 933h10M1598 935h30M1654 935h12M1592 937h40M1654 937h12M1592 939h40M1654 939h12M1590 941h42M1654 941h12M1592 943h40M1654 943h12M1598 945h30M1654 945h12M1654 947h12M1606 949h34M1654 949h12M1598 951h48M1656 951h8M1592 953h60M1656 953h8M1596 955h52M1658 955h4M1592 957h60M1660 957h2M1600 959h44M1610 961h28M1602 1199h2M1582 1201h32M1576 1203h44M1572 1205h54M1572 1207h54M1572 1209h54M1572 1211h56M1574 1213h52M1576 1215h46M1576 1217h46M1576 1219h46M1576 1221h44M1580 1223h36M1596 1225h10M1576 1235h32M1574 1237h38M1574 1239h38M1574 1241h38M1574 1243h38M1576 1245h32M1588 1247h14M1600 1261h4M1592 1263h20M1590 1265h24M1588 1267h28M1586 1269h34M1586 1271h34M1588 1273h30M1588 1275h30M1586 1277h34M1588 1279h30M1588 1281h32M1588 1283h30M1590 1285h26M1588 1287h28M1592 1289h22M1596 1291h6"/>
<path stroke="#3878a8" d="M1572 783h2M1574 785h2M1572 789h2M1578 789h4M1574 791h2M1578 791h2M1586 791h2M1572 795h2M1580 795h4M1574 797h2M1578 797h2M1572 799h4M1576 801h2M1574 803h2M1582 805h2M1578 807h4M1574 809h2M1572 811h2M1578 811h2M1572 813h4M1580 813h2M1572 815h2M1580 815h2M1572 817h2M1576 817h4M1572 819h10M1584 819h2M1572 821h8M1576 823h4M1578 825h6M1574 827h2M1578 827h2M1582 827h2M1576 829h2M1572 831h8M1572 833h4M1578 833h2M1584 833h2M1574 835h6M1574 837h2M1582 837h2M1572 839h6M1574 841h4M1582 841h2M1572 843h2M1578 843h2M1582 843h2M1572 845h6M1580 845h2M1584 845h2M1572 847h4M1586 847h2M1572 849h8M1574 851h2M1580 851h4M1576 853h2M1576 855h6M1586 855h2M1572 857h8M1588 857h2M1572 859h2M1580 859h2M1584 859h2M1576 861h2M1580 861h2M1588 861h2M1576 863h2M1580 863h6M1574 865h2M1580 865h4M1576 867h6M1580 869h2M1586 871h2M1576 875h4M1574 877h4M1580 877h2M1584 877h2M1580 879h4M1590 879h2M1572 881h2M1576 881h2M1582 881h4M1572 883h8M1584 883h4M1572 885h2M1582 885h2M1576 887h2M1576 889h2M1576 891h2M1580 891h4M1586 891h2M1572 893h2M1588 893h2M1580 895h2M1584 895h2M1588 895h2M1574 897h4M1584 897h4M1590 897h2M1576 899h2M1592 899h2M1576 901h6M1584 901h2M1572 903h4M1578 903h4M1588 903h2M1580 905h2M1584 905h2M1588 905h2M1572 907h2M1588 907h2M1578 909h4M1584 909h2M1576 911h2M1590 911h2M1574 913h2M1584 913h4M1572 915h2M1584 915h8M1574 917h2M1586 917h2M1592 917h2M1578 919h2M1582 919h2M1590 919h2M1576 921h2M1584 921h12M1574 923h2M1578 923h2M1582 923h4M1574 925h6M1582 925h2M1586 925h2M1594 925h2M1572 927h2M1576 927h6M1586 927h4M1572 929h2M1580 929h4M1586 929h4M1592 929h2M1574 931h2M1584 931h4M1590 931h2M1576 933h2M1582 933h2M1586 933h2M1582 935h2M1588 935h4M1572 937h4M1584 937h6M1574 939h4M1582 939h2M1588 939h2M1592 939h2M1596 939h2M1578 941h2M1582 941h2M1586 941h2M1594 941h2M1572 943h2M1576 943h2M1572 945h2M1576 945h2M1582 945h6M1572 947h2M1576 947h4M1584 947h2M1574 949h4M1590 949h2M1594 949h2M1574 951h2M1578 951h2M1582 951h4M1592 951h2M1572 953h4M1578 953h2M1588 953h4M1582 955h2M1588 955h2M1592 955h2M1596 955h2M1580 957h2M1586 957h2M1590 957h2M1572 959h2M1592 959h2M1572 961h2M1576 961h2M1586 961h6M1580 963h2M1584 963h2M1588 963h2M1594 963h2M1592 965h2M1576 967h2M1580 967h6M1576 969h2M1582 969h2M1586 969h2M1572 971h6M1590 971h4M1580 973h2M1584 973h2M1590 973h4M1572 975h2M1578 975h6M1592 975h2M1596 975h2M1572 977h2M1578 977h6M1592 977h2M1590 979h2M1574 981h6M1586 981h8M1574 983h2M1580 983h4M1586 983h6M1574 985h2M1582 985h6M1590 985h2M1572 987h8M1582 987h2M1594 987h2M1572 989h2M1576 989h4M1582 989h2M1588 989h2M1572 991h2M1578 991h4M1588 991h2M1572 993h2M1578 993h2M1588 993h2M1572 995h4M1584 995h2M1592 995h2M1584 997h2M1580 999h2M1592 999h2M1580 1001h2M1586 1001h2M1572 1003h2M1586 1003h2M1592 1003h4M1576 1005h4M1582 1005h4M1592 1005h2M1574 1007h4M1580 1007h2M1592 1007h2M1574 1009h2M1584 1009h4M1572 1011h2M1572 1013h2M1578 1013h2M1586 1013h2M1590 1013h4M1572 1015h2M1586 1015h2M1590 1015h2M1576 1017h2M1580 1017h4M1588 1017h2M1586 1019h4M1572 1021h2M1584 1021h6M1592 1021h2M1572 1023h4M1580 1023h2M1584 1023h6M1574 1025h2M1580 1025h2M1584 1025h2M1588 1025h2M1576 1027h2M1574 1029h6M1592 1029h2M1576 1031h8M1594 1031h2M1574 1033h2M1580 1033h2M1574 1035h2M1578 1035h2M1592 1035h2M1576 1037h2M1572 1039h2M1578 1041h4M1584 1041h2M1574 1043h2M1582 1043h4M1590 1043h2M1576 1045h4M1588 1045h2M1572 1047h6M1584 1047h2M1584 1049h4M1574 1051h4M1586 1051h2M1576 1053h4M1574 1055h2M1578 1055h2M1582 1055h2M1588 1055h4M1576 1057h6M1586 1057h6M1572 1059h6M1582 1059h2M1588 1059h2M1574 1061h6M1584 1061h2M1572 1063h4M1578 1063h2M1584 1063h2M1590 1063h2M1580 1065h2M1584 1065h2M1574 1067h4M1588 1067h2M1572 1069h4M1578 1069h2M1582 1069h2M1572 1071h2M1580 1071h2M1586 1071h2M1580 1073h2M1584 1073h2M1572 1075h2M1576 1075h2M1580 1075h2M1584 1075h6M1574 1077h4M1580 1077h4M1572 1079h4M1578 1079h2M1582 1079h2M1582 1081h2M1590 1081h2M1574 1083h4M1586 1083h2M1580 1085h6M1588 1085h2M1588 1089h2M1594 1089h2M1574 1091h4M1582 1091h2M1588 1091h2M1574 1093h2M1580 1093h2M1588 1093h4M1572 1095h2M1576 1095h2M1574 1097h2M1580 1097h2M1588 1097h2M1584 1099h2M1588 1099h2M1572 1101h2M1576 1101h2M1586 1101h4M1592 1101h2M1576 1103h10M1576 1105h2M1584 1105h2M1588 1105h2M1586 1107h2M1572 1109h4M1578 1109h4M1588 1109h2M1578 1111h2M1584 1111h2M1572 1113h4M1588 1113h2M1572 1115h6M1582 1115h2M1588 1115h2M1592 1115h2M1572 1117h2M1580 1117h2M1590 1117h4M1582 1119h2M1586 1119h8M1572 1121h2M1576 1121h6M1584 1121h2M1572 1123h4M1580 1123h2M1590 1123h2M1572 1125h2M1588 1125h2M1574 1127h4M1584 1127h2M1588 1127h4M1578 1129h2M1584 1129h4M1574 1131h2M1578 1131h2M1582 1131h2M1586 1131h4M1572 1133h2M1584 1133h6M1578 1135h2M1584 1135h2M1572 1137h4M1582 1137h4M1588 1137h2M1584 1139h2M1584 1141h2M1574 1143h2M1580 1143h4M1586 1143h4M1576 1145h2M1588 1145h2M1572 1147h2M1576 1147h2M1576 1149h4M1584 1149h2M1588 1149h2M1572 1151h2M1578 1151h6M1586 1151h2M1576 1153h4M1574 1155h2M1584 1155h4M1582 1157h2M1586 1157h2M1578 1159h2M1582 1161h2M1576 1163h10M1576 1165h2M1582 1165h2M1576 1169h2M1580 1169h4M1586 1169h2M1582 1171h2M1574 1173h2M1578 1173h2M1574 1175h2M1578 1175h2M1572 1177h4M1578 1177h2M1582 1177h2M1586 1177h2M1572 1179h2M1576 1181h2M1580 1181h4M1574 1183h2M1574 1185h2M1574 1187h2M1580 1187h2M1576 1189h2M1576 1191h4M1572 1195h2M1578 1195h2M1582 1195h2M1572 1197h4M1580 1197h2M1572 1199h2M1576 1199h4M1572 1201h2M1576 1201h2M1572 1203h2M1576 1203h2M1574 1205h4M1580 1205h2M1580 1207h2M1576 1209h4M1582 1209h2M1574 1211h2M1580 1211h2M1572 1213h2M1578 1219h2M1572 1221h4M1580 1221h2M1574 1225h4M1572 1227h4M1578 1227h2M1576 1229h2M1650 291h18M1638 293h42M1620 295h68M1608 297h88M1610 299h82M1602 301h98M1600 303h100M1594 305h112M1598 307h102M1590 309h118M1590 311h116M1592 313h114M1588 315h122M1584 317h128M1590 319h116M1590 321h118M1594 323h112M1592 325h116M1592 327h116M1590 329h122M1590 331h120M1592 333h116M1594 335h112M1588 337h122M1590 339h118M1586 341h126M1588 343h120M1594 345h110M1594 347h108M1592 349h114M1596 351h106M1594 353h110M1596 355h108M1598 357h104M1600 359h102M1604 361h92M1606 363h86M1608 365h80M1608 367h80M1608 369h78M1622 371h52M1598 413h58M1592 415h70M1588 417h78M1590 419h74M1590 421h74M1590 423h74M1592 425h84M1600 427h76M1618 429h62M1620 431h58M1620 433h60M1624 435h54M1626 437h52M1648 439h8M1616 481h38M1608 483h52M1602 485h64M1600 487h70M1594 489h82M1590 491h92M1590 493h90M1580 495h110M1584 497h102M1578 499h112M1574 501h120M1582 503h104M1578 505h110M1578 507h112M1580 509h108M1574 511h120M1578 513h112M1574 515h120M1578 517h110M1576 519h114M1578 521h110M1578 523h110M1576 525h114M1576 527h114M1580 529h106M1580 531h106M1580 533h106M1580 535h106M1584 537h98M1582 539h102M1580 541h108M1586 543h94M1586 545h98M1582 547h106M1590 549h90M1590 551h90M1590 553h90M1592 555h86M1592 557h86M1600 559h70M1602 561h66M1614 563h42M1598 569h8M1590 571h26M1590 573h28M1590 575h26M1592 625h18M1644 625h20M1588 627h24M1640 627h26M1586 629h28M1636 629h34M1586 631h28M1632 631h40M1584 633h30M1630 633h42M1584 635h34M1628 635h44M1586 637h32M1628 637h44M1584 639h34M1626 639h48M1586 641h28M1626 641h46M1584 643h32M1624 643h52M1584 645h32M1622 645h54M1586 647h28M1622 647h54M1586 649h28M1622 649h54M1586 651h28M1620 651h58M1590 653h22M1620 653h58M1594 655h14M1624 655h52M1602 657h2M1622 657h54M1620 659h60M1620 661h58M1622 663h56M1620 665h60M1622 667h56M1618 669h64M1620 671h60M1620 673h60M1620 675h60M1622 677h56M1618 679h64M1588 681h94M1586 683h94M1582 685h100M1582 687h98M1582 689h98M1582 691h100M1582 693h102M1584 695h100M1586 697h94M1584 699h100M1582 701h100M1580 703h104M1580 705h102M1582 707h100M1584 709h96M1584 711h96M1588 713h94M1608 715h74M1590 717h92M1586 719h96M1586 721h92M1582 723h98M1580 725h102M1584 727h92M1580 729h100M1580 731h100M1584 733h94M1588 735h90M1584 737h94M1582 739h94M1580 741h96M1582 743h90M1580 745h92M1580 747h94M1582 749h46M1634 749h38M1584 751h32M1638 751h32M1588 753h38M1642 753h24M1586 755h42M1582 757h48M1644 757h12M1580 759h50M1638 759h22M1580 761h50M1640 761h20M1578 763h54M1642 763h16M1578 765h54M1582 767h48M1586 769h42M1588 771h38M1606 773h4M1582 793h24M1678 793h10M1576 795h34M1626 795h30M1676 795h22M1574 797h36M1612 797h48M1676 797h24M1572 799h94M1674 799h28M1574 801h94M1674 801h30M1572 803h136M1574 805h134M1580 807h130M1586 809h124M1592 811h116M1592 813h116M1580 815h132M1580 817h130M1576 819h136M1576 821h136M1574 823h138M1574 825h138M1572 827h140M1574 829h138M1572 831h142M1574 833h138M1572 835h142M1574 837h136M1574 839h138M1574 841h138M1572 843h142M1574 845h138M1572 847h142M1572 849h142M1574 851h138M1574 853h138M1574 855h140M1574 857h140M1576 859h138M1576 861h138M1580 863h134M1578 865h136M1584 867h128M1576 869h138M1584 871h128M1576 873h138M1578 875h134M1576 877h136M1576 879h136M1576 881h136M1584 883h124M1584 885h122M1584 887h122M1578 889h128M1576 891h128M1584 893h114M1586 895h110M1586 897h108M1584 899h112M1584 901h110M1586 903h108M1588 905h104M1586 907h106M1586 909h104M1590 911h94M1592 913h90M1590 915h92M1588 917h94M1592 919h82M1594 921h78M1602 923h66M1610 925h50M1600 923h10M1588 925h48M1588 927h50M1586 929h52M1592 931h42M1602 933h12M1598 935h30M1592 937h40M1592 939h40M1590 941h42M1592 943h40M1598 945h30M1606 949h34M1598 951h48M1592 953h60M1596 955h52M1592 957h60M1600 959h44M1610 961h28M1684 971h8M1674 973h22M1670 975h30M1668 977h34M1668 979h34M1670 981h30M1672 983h26M1672 985h28M1592 971h32M1586 973h48M1582 975h62M1580 977h68M1576 979h76M1574 981h80M1574 983h78M1572 985h84M1572 987h84M1572 989h82M1574 991h80M1576 993h76M1576 995h76M1576 997h74M1572 999h84M1574 1001h80M1574 1003h80M1574 1005h78M1578 1007h72M1580 1009h68M1582 1011h62M1584 1013h52M1590 1015h34M1608 1025h60M1598 1027h78M1592 1029h86M1590 1031h90M1584 1033h102M1582 1035h106M1580 1037h110M1576 1039h120M1578 1041h116M1574 1043h122M1576 1045h118M1572 1047h124M1572 1049h126M1572 1051h124M1572 1053h130M1572 1055h128M1572 1057h126M1572 1059h128M1578 1061h114M1576 1063h120M1572 1065h128M1574 1067h122M1574 1069h120M1582 1071h106M1590 1073h90M1600 1075h74M1614 1077h38M1602 1073h14M1594 1075h38M1586 1077h54M1582 1079h60M1582 1081h62M1582 1083h60M1658 1083h44M1582 1085h60M1648 1085h58M1580 1087h62M1644 1087h66M1578 1089h136M1580 1091h132M1580 1093h132M1580 1095h134M1584 1097h128M1584 1099h56M1644 1099h68M1582 1101h132M1586 1103h52M1648 1103h66M1588 1105h48M1660 1105h50M1596 1107h34M1592 1123h82M1590 1125h84M1582 1127h98M1576 1129h110M1578 1131h104M1578 1133h104M1576 1135h112M1578 1137h106M1578 1139h110M1576 1141h114M1576 1143h114M1574 1145h118M1574 1147h120M1572 1149h124M1572 1151h124M1572 1153h122M1572 1155h122M1572 1157h124M1572 1159h122M1572 1161h124M1574 1163h118M1574 1165h118M1576 1167h116M1572 1169h124M1572 1171h122M1574 1173h118M1578 1175h108M1580 1177h104M1578 1179h106M1582 1181h100M1578 1183h96M1576 1185h94M1576 1187h92M1574 1189h94M1574 1191h34M1612 1191h46M1572 1193h38M1620 1193h20M1572 1195h38M1572 1197h38M1574 1199h34M1578 1201h24M1584 1203h6M1586 1201h22M1580 1203h36M1574 1205h48M1574 1207h48M1574 1209h50M1574 1211h50M1576 1213h48M1578 1215h42M1578 1217h42M1578 1219h42M1580 1221h38M1584 1223h28M1580 1235h26M1576 1237h34M1576 1239h34M1576 1241h34M1576 1243h34M1580 1245h26M1588 1253h18M1586 1255h22M1588 1257h18M1590 1259h14M1598 1265h8M1594 1267h18M1590 1269h24M1590 1271h26M1592 1273h24M1592 1275h24M1590 1277h26M1592 1279h22M1590 1281h26M1592 1283h22M1594 1285h18M1596 1287h14M1582 1319h22M1578 1321h30M1578 1323h30M1578 1325h28M1580 1327h26M1596 1333h16M1594 1335h20M1594 1337h20M1596 1339h16M1696 1345h20M1692 1347h28M1648 1349h14M1676 1349h8M1692 1349h28M1642 1351h24M1668 1351h52M1642 1353h74M1640 1355h54M1640 1357h54M1642 1359h50M1640 1361h52M1638 1363h58M1640 1365h52M1642 1367h28M1642 1369h26M1642 1371h26M1644 1373h22M1646 1375h18M1594 1353h10M1590 1355h22M1588 1357h24M1588 1359h30M1586 1361h38M1582 1363h46M1582 1365h46M1582 1367h48M1580 1369h52M1580 1371h54M1580 1373h54M1580 1375h54M1578 1377h56M1580 1379h52M1578 1381h58M1580 1383h52M1580 1385h52M1582 1387h44M1586 1389h38M1596 1391h18M1648 1381h14M1644 1383h22M1642 1385h26M1642 1387h28M1640 1389h30M1640 1391h30M1640 1393h32M1640 1395h30M1642 1397h26M1648 1399h14M1684 1509h30M1680 1511h38M1678 1513h42M1678 1515h42M1680 1517h38M1682 1519h34M1680 1525h36M1678 1527h40M1678 1529h42M1678 1531h42M1680 1533h38M1682 1535h32"/>
<path stroke="#3084b8" d="M1572 789h2M1574 791h2M1586 791h2M1580 795h4M1572 799h4M1572 819h4M1584 819h2M1574 821h4M1576 823h2M1580 825h4M1576 829h2M1578 831h2M1584 833h2M1576 835h4M1574 837h2M1574 841h2M1582 843h2M1572 845h2M1576 845h2M1586 847h2M1574 849h2M1578 849h2M1578 855h2M1586 855h2M1588 857h2M1572 859h2M1588 861h2M1584 863h2M1582 865h2M1576 867h4M1574 877h4M1590 879h2M1576 881h2M1584 881h2M1576 883h2M1572 885h2M1582 885h2M1576 889h2M1580 891h4M1574 897h2M1592 899h2M1584 905h2M1584 909h2M1576 911h2M1590 911h2M1572 915h2M1586 915h2M1574 917h2M1578 919h2M1588 921h2M1594 921h2M1594 925h2M1578 927h2M1580 929h2M1592 929h2M1576 933h2M1582 933h2M1574 937h2M1586 937h2M1574 939h2M1582 939h2M1588 939h2M1596 939h2M1594 941h2M1572 943h2M1576 943h2M1582 945h2M1576 947h2M1592 951h2M1582 955h2M1596 955h2M1572 959h2M1576 961h2M1588 961h4M1584 963h2M1580 967h2M1576 969h2M1578 975h2M1596 975h2M1572 977h2M1588 981h2M1592 981h2M1582 983h2M1588 983h2M1574 985h2M1576 987h2M1582 987h2M1594 987h2M1572 989h2M1578 989h2M1578 991h2M1572 993h2M1572 995h4M1572 1003h2M1586 1003h2M1592 1003h4M1578 1005h2M1584 1005h2M1580 1007h2M1590 1013h2M1572 1015h2M1586 1015h2M1584 1021h2M1574 1029h2M1578 1029h2M1592 1029h2M1582 1031h2M1594 1031h2M1578 1035h2M1592 1035h2M1582 1043h4M1578 1045h2M1572 1047h2M1576 1051h2M1590 1055h2M1590 1057h2M1574 1061h4M1584 1061h2M1590 1063h2M1576 1067h2M1572 1069h4M1582 1069h2M1580 1071h2M1584 1073h2M1576 1077h2M1582 1077h2M1586 1083h2M1594 1089h2M1574 1093h2M1584 1099h2M1588 1099h2M1572 1101h2M1576 1101h2M1586 1101h4M1592 1101h2M1586 1107h2M1574 1109h2M1584 1111h2M1572 1113h2M1576 1115h2M1588 1115h2M1592 1115h2M1572 1117h2M1592 1117h2M1592 1119h2M1590 1123h2M1588 1125h2M1574 1127h2M1590 1127h2M1586 1129h2M1578 1131h2M1582 1131h2M1584 1137h2M1588 1137h2M1574 1143h2M1588 1145h2M1572 1147h2M1588 1149h2M1586 1151h2M1578 1153h2M1586 1157h2M1582 1161h2M1580 1163h2M1576 1165h2M1580 1169h2M1586 1169h2M1572 1177h2M1586 1177h2M1582 1181h2M1574 1183h2M1572 1195h2M1582 1195h2M1572 1197h2M1572 1199h2M1574 1205h2M1578 1209h2M1582 1209h2M1574 1211h2M1580 1221h2M1576 1225h2M1574 1227h2M1650 291h18M1638 293h42M1620 295h68M1608 297h88M1610 299h82M1602 301h98M1600 303h100M1594 305h112M1598 307h102M1590 309h118M1590 311h116M1592 313h114M1588 315h122M1584 317h128M1590 319h116M1590 321h118M1594 323h112M1592 325h116M1592 327h116M1590 329h122M1590 331h120M1592 333h116M1594 335h112M1588 337h122M1590 339h118M1586 341h126M1588 343h120M1594 345h110M1594 347h108M1592 349h114M1596 351h106M1594 353h110M1596 355h108M1598 357h104M1600 359h102M1606 361h90M1610 363h82M1612 365h76M1612 367h76M1614 369h72M1630 371h16M1650 371h24M1610 385h44M1596 387h68M1594 389h72M1590 391h84M1592 393h82M1590 395h86M1592 397h82M1588 399h92M1592 401h82M1594 403h76M1592 405h78M1598 407h64M1606 409h50M1602 415h48M1598 417h58M1598 419h58M1598 421h58M1600 423h54M1602 425h58M1622 427h48M1626 429h48M1626 431h46M1626 433h46M1632 435h38M1642 437h18M1604 437h32M1596 439h50M1598 441h48M1596 443h50M1600 445h42M1604 447h34M1598 449h44M1598 451h46M1598 453h46M1598 455h46M1598 457h46M1606 459h32M1638 487h10M1600 489h58M1594 491h70M1594 493h72M1586 495h92M1586 497h98M1584 499h104M1580 501h110M1588 503h94M1584 505h96M1584 507h96M1584 509h96M1580 511h104M1582 513h98M1580 515h104M1584 517h96M1582 519h100M1584 521h96M1584 523h96M1582 525h98M1580 527h102M1584 529h94M1584 531h94M1584 533h94M1584 535h94M1588 537h86M1586 539h90M1584 541h94M1586 543h86M1586 545h88M1592 547h86M1598 549h74M1602 551h66M1602 553h66M1608 555h54M1620 557h30M1602 573h2M1606 633h2M1600 635h18M1600 637h18M1600 639h18M1606 641h4M1642 645h20M1640 647h24M1638 649h26M1634 651h32M1634 653h32M1634 655h32M1632 657h34M1630 659h38M1630 661h38M1630 663h38M1630 665h40M1630 667h40M1628 669h44M1628 671h44M1628 673h44M1630 675h40M1630 677h40M1628 679h44M1588 681h36M1628 681h44M1586 683h40M1630 683h40M1582 685h90M1582 687h90M1582 689h90M1582 691h90M1582 693h92M1584 695h90M1586 697h38M1628 697h44M1584 699h90M1582 701h92M1580 703h94M1580 705h94M1582 707h90M1584 709h44M1630 709h40M1584 711h42M1628 711h44M1588 713h34M1628 713h44M1608 715h10M1628 715h44M1590 717h80M1586 719h84M1586 721h44M1632 721h36M1582 723h86M1580 725h88M1584 727h48M1634 727h32M1580 729h86M1580 731h56M1638 731h28M1584 733h48M1642 733h22M1588 735h40M1646 735h14M1584 737h46M1582 739h48M1580 741h52M1582 743h46M1580 745h50M1580 747h52M1586 749h42M1606 751h8M1608 755h2M1594 757h26M1590 759h32M1590 761h32M1588 763h34M1590 765h32M1594 767h26M1582 793h24M1576 795h34M1574 797h36M1572 799h40M1634 799h18M1574 801h38M1618 801h38M1680 801h8M1572 803h92M1678 803h20M1574 805h94M1676 805h24M1580 807h122M1594 809h110M1598 811h106M1592 813h112M1580 815h128M1580 817h126M1576 819h132M1576 821h132M1574 823h134M1574 825h134M1572 827h136M1574 829h134M1572 831h138M1574 833h134M1572 835h138M1574 837h134M1574 839h134M1574 841h134M1572 843h138M1574 845h134M1572 847h138M1572 849h138M1574 851h134M1574 853h136M1574 855h136M1574 857h136M1576 859h134M1576 861h134M1580 863h130M1582 865h128M1586 867h122M1582 869h128M1586 871h120M1582 873h126M1584 875h124M1582 877h126M1582 879h124M1580 881h126M1588 883h114M1588 885h110M1588 887h108M1582 889h118M1582 891h118M1588 893h108M1590 895h106M1592 897h102M1590 899h106M1590 901h104M1592 903h102M1590 905h102M1588 907h102M1586 909h100M1590 911h92M1592 913h82M1590 915h82M1588 917h82M1592 919h70M1594 921h62M1604 923h46M1600 923h10M1588 925h48M1588 927h50M1586 929h52M1592 931h42M1602 933h12M1598 935h30M1592 937h40M1592 939h40M1590 941h42M1592 943h40M1598 945h30M1606 949h34M1598 951h48M1592 953h60M1596 955h52M1592 957h60M1600 959h44M1610 961h28M1678 973h16M1672 975h26M1670 977h30M1670 979h30M1672 981h26M1672 983h26M1674 985h22M1592 975h34M1588 977h48M1584 979h58M1580 981h66M1580 983h66M1576 985h72M1578 987h70M1578 989h70M1578 991h70M1580 993h66M1580 995h66M1582 997h62M1578 999h70M1580 1001h66M1580 1003h66M1582 1005h64M1586 1007h56M1588 1009h48M1592 1011h34M1612 1027h42M1604 1029h58M1598 1031h70M1590 1033h84M1586 1035h90M1584 1037h96M1580 1039h104M1582 1041h102M1578 1043h108M1580 1045h104M1578 1047h110M1576 1049h112M1578 1051h110M1574 1053h118M1578 1055h112M1580 1057h108M1580 1059h110M1586 1061h98M1584 1063h100M1580 1065h108M1584 1067h98M1586 1069h92M1596 1071h74M1616 1073h40M1602 1073h14M1594 1075h38M1586 1077h54M1582 1079h60M1582 1081h62M1582 1083h60M1582 1085h60M1656 1085h46M1580 1087h62M1650 1087h56M1578 1089h132M1580 1091h62M1646 1091h62M1580 1093h128M1580 1095h130M1584 1097h58M1646 1097h66M1584 1099h56M1648 1099h64M1582 1101h60M1648 1101h66M1586 1103h52M1656 1103h58M1588 1105h48M1674 1105h36M1596 1107h34M1592 1123h50M1590 1125h76M1582 1127h90M1576 1129h102M1578 1131h100M1578 1133h98M1576 1135h106M1578 1137h102M1578 1139h106M1576 1141h110M1576 1143h110M1574 1145h114M1574 1147h116M1572 1149h118M1572 1151h118M1572 1153h118M1572 1155h118M1572 1157h120M1572 1159h118M1572 1161h118M1574 1163h114M1574 1165h112M1576 1167h110M1574 1169h118M1576 1171h112M1578 1173h108M1582 1175h98M1582 1177h96M1582 1179h96M1584 1181h90M1578 1183h90M1576 1185h88M1576 1187h86M1574 1189h36M1614 1189h42M1574 1191h34M1572 1193h38M1572 1195h38M1572 1197h38M1574 1199h34M1578 1201h24M1584 1203h6M1590 1205h16M1586 1207h26M1584 1209h30M1584 1211h32M1580 1213h38M1580 1215h36M1580 1217h38M1580 1219h36M1590 1221h8M1590 1237h8M1584 1239h18M1584 1241h18M1590 1243h8M1592 1255h10M1592 1257h10M1584 1319h18M1580 1321h26M1580 1323h26M1580 1325h26M1584 1327h20M1596 1335h16M1598 1337h14M1696 1345h20M1692 1347h28M1676 1349h8M1692 1349h28M1668 1351h52M1646 1353h16M1666 1353h50M1644 1355h50M1644 1357h50M1644 1359h22M1668 1359h24M1644 1361h22M1668 1361h24M1642 1363h54M1644 1365h22M1668 1365h24M1644 1367h22M1646 1369h18M1646 1371h16M1652 1373h2M1598 1355h4M1594 1357h12M1594 1361h24M1586 1363h38M1584 1365h40M1584 1367h42M1584 1369h46M1582 1371h50M1580 1373h52M1580 1375h50M1580 1377h52M1584 1379h46M1580 1381h52M1584 1383h44M1582 1385h44M1588 1387h34M1596 1389h20M1650 1383h10M1646 1385h18M1644 1387h22M1644 1389h22M1642 1391h26M1642 1393h26M1644 1395h22M1650 1397h10M1626 1441h16M1620 1443h26M1618 1445h30M1618 1447h34M1620 1449h30M1618 1451h32M1618 1453h32M1620 1455h28M1620 1457h26M1628 1459h12M1690 1509h20M1682 1511h34M1680 1513h38M1680 1515h36M1682 1517h34M1688 1519h24M1688 1525h24M1682 1527h34M1680 1529h38M1682 1531h34M1682 1533h32M1690 1535h20M1700 1543h8M1688 1545h24M1684 1547h30M1682 1549h36M1680 1551h38M1680 1553h38M1680 1555h38M1678 1557h42M1680 1559h38M1678 1561h42M1680 1563h38M1676 1565h44M1678 1567h40M1680 1569h38M1680 1571h38M1684 1573h30M1688 1575h24M1698 1577h10M1658 1599h12M1644 1601h40M1642 1603h44M1642 1605h44M1642 1607h44M1640 1609h48M1648 1611h32M1656 1613h6M1646 1615h34M1644 1617h40M1644 1619h42M1642 1621h46M1640 1623h48M1642 1625h44M1640 1627h48M1642 1629h46M1644 1631h42M1642 1633h44M1646 1635h36M1654 1637h12"/>
<path stroke="#2c94c4" d="M1586 791h2M1572 859h2M1576 881h2M1592 899h2M1590 911h2M1576 933h2M1596 939h2M1594 941h2M1592 951h2M1596 975h2M1588 983h2M1578 1029h2M1594 1031h2M1584 1073h2M1594 1089h2M1572 1101h2M1592 1101h2M1574 1109h2M1572 1117h2M1582 1131h2M1586 1169h2M1586 1177h2M1622 295h36M1610 297h78M1612 299h76M1606 301h88M1604 303h92M1600 305h104M1604 307h96M1596 309h110M1596 311h110M1598 313h106M1592 315h116M1590 317h120M1596 319h110M1594 321h112M1598 323h106M1594 325h112M1594 327h112M1592 329h118M1592 331h118M1594 333h114M1596 335h110M1590 337h120M1594 339h114M1588 341h124M1592 343h116M1594 345h110M1594 347h108M1594 349h112M1600 351h102M1600 353h104M1600 355h102M1602 357h98M1606 359h90M1610 361h78M1614 363h66M1618 365h56M1620 367h46M1630 369h4M1602 389h54M1596 391h66M1594 393h70M1592 395h74M1592 397h72M1588 399h80M1592 401h72M1598 403h62M1604 405h52M1618 407h22M1604 437h32M1596 439h50M1598 441h48M1596 443h50M1600 445h42M1604 447h34M1614 449h16M1606 451h30M1606 453h28M1606 455h28M1614 457h18M1600 489h44M1594 491h60M1594 493h62M1586 495h92M1586 497h98M1584 499h104M1580 501h110M1588 503h94M1584 505h94M1584 507h82M1584 509h80M1580 511h90M1582 513h86M1580 515h90M1584 517h84M1582 519h88M1584 521h84M1584 523h84M1582 525h86M1580 527h90M1584 529h82M1584 531h80M1584 533h80M1584 535h80M1588 537h74M1586 539h76M1584 541h80M1586 543h72M1586 545h70M1592 547h64M1600 549h48M1604 551h38M1612 553h26M1606 633h2M1600 635h18M1600 637h18M1600 639h18M1606 641h4M1588 681h36M1586 683h40M1582 685h48M1582 687h48M1582 689h48M1582 691h48M1582 693h50M1584 695h44M1586 697h38M1588 699h36M1592 701h26M1590 703h32M1590 705h32M1592 707h30M1594 709h24M1608 715h10M1590 717h38M1586 719h46M1586 721h44M1582 723h50M1580 725h56M1584 727h48M1580 729h54M1580 731h56M1584 733h48M1590 735h38M1596 737h22M1592 739h28M1590 741h32M1592 743h28M1592 745h28M1596 747h20M1588 795h12M1582 797h22M1580 799h26M1582 801h22M1580 803h26M1586 805h16M1606 809h16M1598 811h28M1592 813h40M1580 815h62M1580 817h68M1684 817h4M1576 819h78M1682 819h14M1576 821h82M1680 821h16M1574 823h90M1680 823h18M1574 825h94M1678 825h22M1572 827h100M1678 827h22M1574 829h98M1678 829h22M1572 831h130M1574 833h100M1678 833h22M1572 835h130M1574 837h102M1678 837h22M1574 839h128M1574 841h126M1572 843h130M1574 845h128M1572 847h130M1572 849h130M1574 851h128M1574 853h128M1574 855h128M1574 857h128M1576 859h126M1576 861h126M1580 863h120M1582 865h118M1586 867h112M1582 869h116M1586 871h110M1582 873h118M1584 875h116M1584 877h116M1584 879h116M1584 881h118M1590 883h106M1590 885h106M1590 887h106M1588 889h112M1588 891h112M1596 893h100M1602 895h94M1608 897h86M1606 899h90M1594 901h100M1592 903h102M1590 905h102M1588 907h102M1586 909h100M1590 911h76M1670 911h12M1592 913h72M1590 915h76M1588 917h78M1592 919h68M1594 921h62M1604 923h46M1602 925h16M1596 927h32M1596 929h32M1604 931h12M1598 935h30M1592 937h40M1592 939h40M1590 941h42M1592 943h40M1598 945h30M1616 951h4M1628 951h2M1604 953h36M1606 955h32M1604 957h36M1616 959h12M1678 977h14M1678 979h14M1678 981h14M1588 979h34M1580 981h50M1580 983h52M1576 985h60M1578 987h58M1578 989h56M1578 991h58M1580 993h54M1580 995h54M1584 997h48M1582 999h52M1590 1001h42M1596 1003h34M1600 1005h16M1612 1027h42M1604 1029h54M1598 1031h62M1590 1033h76M1586 1035h82M1584 1037h88M1580 1039h96M1582 1041h92M1578 1043h98M1580 1045h94M1578 1047h98M1576 1049h102M1578 1051h98M1574 1053h106M1578 1055h100M1580 1057h96M1580 1059h96M1586 1061h84M1584 1063h86M1580 1065h94M1584 1067h86M1586 1069h84M1596 1071h68M1616 1073h40M1592 1079h40M1584 1081h56M1582 1083h58M1594 1085h36M1592 1087h40M1590 1089h42M1668 1089h20M1586 1091h52M1662 1091h30M1584 1093h54M1660 1093h32M1586 1095h50M1660 1095h50M1596 1097h32M1664 1097h48M1600 1099h26M1670 1099h42M1590 1101h46M1668 1101h46M1586 1103h50M1670 1103h44M1588 1105h48M1674 1105h36M1596 1107h34M1592 1123h50M1590 1125h64M1582 1127h78M1576 1129h90M1578 1131h86M1578 1133h86M1576 1135h94M1578 1137h90M1578 1139h94M1576 1141h98M1576 1143h98M1574 1145h102M1574 1147h104M1572 1149h106M1572 1151h106M1572 1153h104M1572 1155h104M1572 1157h106M1572 1159h102M1572 1161h104M1574 1163h100M1574 1165h98M1576 1167h96M1574 1169h102M1576 1171h96M1578 1173h92M1582 1175h84M1582 1177h82M1582 1179h82M1584 1181h78M1578 1183h78M1576 1185h76M1576 1187h74M1574 1189h36M1574 1191h34M1572 1193h38M1572 1195h38M1572 1197h38M1574 1199h34M1578 1201h24M1584 1203h6M1586 1213h24M1584 1215h28M1584 1217h28M1586 1219h24M1588 1321h10M1586 1323h14M1588 1325h10M1696 1345h20M1692 1347h28M1676 1349h8M1692 1349h28M1668 1351h52M1666 1353h50M1666 1355h28M1666 1357h28M1668 1359h24M1668 1361h24M1666 1363h30M1668 1365h24M1586 1369h28M1582 1371h36M1580 1373h38M1580 1375h38M1580 1377h38M1584 1379h32M1586 1381h28M1626 1445h14M1624 1447h20M1624 1449h20M1624 1451h20M1624 1453h20M1626 1455h14M1700 1549h4M1690 1551h18M1688 1553h22M1686 1555h24M1686 1557h26M1686 1559h26M1686 1561h26M1686 1563h26M1684 1565h28M1688 1567h22M1690 1569h18M1700 1571h4M1634 1549h16M1624 1551h34M1622 1553h38M1620 1555h42M1636 1559h34M1628 1561h48M1686 1561h8M1626 1563h50M1680 1563h20M1622 1565h80M1622 1567h80M1618 1569h84M1618 1571h64M1618 1573h64M1622 1575h58M1624 1577h54M1626 1579h50M1638 1581h32M1652 1603h24M1650 1605h28M1650 1607h28M1654 1609h20M1650 1617h26M1648 1619h32M1646 1621h36M1644 1623h40M1646 1625h36M1644 1627h40M1646 1629h38M1648 1631h32M1648 1633h32M1658 1635h6"/>
<path stroke="#28a0d4" d="M1622 295h36M1610 297h64M1612 299h72M1606 301h88M1604 303h92M1600 305h104M1604 307h96M1596 309h110M1596 311h110M1598 313h106M1592 315h116M1590 317h120M1596 319h110M1594 321h112M1598 323h106M1594 325h112M1594 327h112M1592 329h118M1592 331h118M1594 333h114M1596 335h110M1590 337h120M1594 339h114M1588 341h124M1592 343h116M1594 345h110M1594 347h108M1594 349h112M1600 351h102M1600 353h104M1600 355h102M1602 357h98M1606 359h90M1610 361h78M1614 363h66M1618 365h56M1620 367h46M1630 369h4M1602 389h54M1596 391h66M1594 393h68M1592 395h70M1592 397h70M1588 399h78M1592 401h70M1598 403h62M1604 405h52M1618 407h22M1604 437h32M1596 439h50M1598 441h48M1596 443h50M1600 445h42M1604 447h34M1600 489h44M1594 491h60M1594 493h62M1586 495h92M1586 497h98M1584 499h104M1580 501h110M1588 503h94M1584 505h94M1584 507h82M1584 509h80M1580 511h90M1582 513h86M1580 515h90M1584 517h84M1582 519h88M1584 521h84M1584 523h84M1582 525h86M1580 527h90M1584 529h82M1584 531h80M1584 533h80M1584 535h80M1588 537h74M1586 539h76M1584 541h80M1586 543h72M1586 545h70M1592 547h64M1600 549h48M1604 551h38M1612 553h26M1606 633h2M1600 635h18M1600 637h18M1600 639h18M1606 641h4M1588 681h36M1586 683h40M1582 685h48M1582 687h48M1582 689h48M1582 691h48M1582 693h50M1584 695h44M1586 697h38M1588 699h36M1598 701h10M1608 715h10M1590 717h38M1586 719h46M1586 721h44M1582 723h50M1580 725h56M1584 727h48M1580 729h54M1580 731h56M1584 733h48M1590 735h38M1608 737h10M1588 795h12M1582 797h22M1580 799h24M1582 801h22M1582 803h22M1586 805h16M1606 809h16M1598 811h28M1592 813h40M1580 815h62M1580 817h60M1576 819h68M1576 821h70M1574 823h74M1574 825h88M1572 827h96M1574 829h94M1572 831h100M1574 833h96M1572 835h100M1574 837h92M1574 839h94M1574 841h92M1572 843h94M1672 843h6M1574 845h108M1572 847h80M1654 847h32M1572 849h116M1574 851h116M1574 853h118M1574 855h118M1574 857h120M1576 859h118M1576 861h120M1580 863h116M1582 865h116M1586 867h110M1582 869h116M1586 871h110M1582 873h118M1584 875h116M1584 877h116M1584 879h116M1584 881h118M1590 883h106M1590 885h106M1590 887h106M1588 889h112M1588 891h112M1596 893h100M1602 895h94M1608 897h86M1606 899h90M1594 901h100M1592 903h102M1590 905h102M1588 907h102M1586 909h100M1590 911h76M1670 911h12M1592 913h72M1590 915h76M1588 917h78M1592 919h68M1594 921h62M1604 923h46M1598 935h30M1592 937h40M1592 939h40M1590 941h42M1592 943h40M1598 945h30M1588 979h34M1580 981h50M1580 983h52M1576 985h60M1578 987h58M1578 989h56M1578 991h58M1580 993h52M1580 995h52M1584 997h44M1582 999h46M1590 1001h30M1612 1027h42M1604 1029h54M1598 1031h62M1590 1033h76M1586 1035h82M1584 1037h88M1580 1039h96M1582 1041h92M1578 1043h98M1580 1045h94M1578 1047h98M1576 1049h102M1578 1051h98M1574 1053h106M1578 1055h100M1580 1057h96M1580 1059h96M1586 1061h84M1584 1063h86M1580 1065h94M1584 1067h86M1586 1069h84M1596 1071h68M1616 1073h40M1592 1079h40M1584 1081h56M1582 1083h58M1594 1085h36M1594 1089h32M1586 1091h52M1584 1093h54M1586 1095h50M1674 1095h36M1672 1097h40M1670 1099h42M1590 1101h46M1668 1101h46M1586 1103h50M1670 1103h44M1588 1105h48M1674 1105h36M1596 1107h34M1592 1123h50M1590 1125h64M1582 1127h78M1576 1129h90M1578 1131h86M1578 1133h86M1576 1135h94M1578 1137h90M1578 1139h94M1576 1141h98M1576 1143h98M1574 1145h102M1574 1147h104M1572 1149h106M1572 1151h106M1572 1153h104M1572 1155h104M1572 1157h106M1572 1159h102M1572 1161h104M1574 1163h100M1574 1165h98M1576 1167h96M1574 1169h102M1576 1171h96M1578 1173h92M1582 1175h84M1582 1177h82M1582 1179h82M1584 1181h78M1578 1183h78M1576 1185h76M1576 1187h74M1574 1189h36M1574 1191h34M1572 1193h38M1572 1195h38M1572 1197h38M1574 1199h34M1578 1201h24M1584 1203h6M1592 1215h12M1592 1217h12M1696 1345h20M1692 1347h28M1676 1349h8M1692 1349h28M1668 1351h52M1666 1353h50M1666 1355h28M1666 1357h28M1668 1359h24M1668 1361h24M1666 1363h30M1668 1365h24M1586 1369h24M1582 1371h34M1580 1373h36M1580 1375h34M1580 1377h36M1584 1379h30M1586 1381h24M1638 1551h8M1632 1553h18M1636 1559h34M1628 1561h48M1626 1563h50M1622 1565h58M1684 1565h12M1622 1567h58M1684 1567h12M1618 1569h64M1618 1571h64M1618 1573h64M1622 1575h58M1624 1577h54M1626 1579h50M1638 1581h32M1658 1621h12M1654 1623h20M1656 1625h16M1656 1627h18M1656 1629h16"/>
<path stroke="#2cb0e0" d="M1622 295h36M1610 297h64M1612 299h70M1606 301h88M1604 303h92M1600 305h104M1604 307h96M1596 309h110M1596 311h110M1598 313h106M1592 315h116M1590 317h120M1596 319h110M1594 321h112M1598 323h106M1594 325h112M1594 327h112M1592 329h118M1592 331h118M1594 333h114M1596 335h110M1590 337h120M1594 339h114M1588 341h124M1592 343h116M1594 345h110M1594 347h108M1594 349h112M1600 351h102M1600 353h104M1600 355h102M1602 357h98M1606 359h90M1610 361h78M1614 363h66M1618 365h56M1620 367h46M1630 369h4M1602 389h54M1596 391h66M1594 393h68M1592 395h70M1592 397h70M1588 399h78M1592 401h70M1598 403h62M1604 405h52M1618 407h22M1604 437h32M1596 439h50M1598 441h48M1596 443h50M1600 445h42M1604 447h34M1600 489h44M1594 491h60M1594 493h62M1586 495h92M1586 497h98M1584 499h104M1580 501h110M1588 503h94M1584 505h94M1584 507h82M1584 509h80M1580 511h90M1582 513h86M1580 515h90M1584 517h84M1582 519h88M1584 521h84M1584 523h84M1582 525h86M1580 527h90M1584 529h82M1584 531h80M1584 533h80M1584 535h80M1588 537h74M1586 539h76M1584 541h80M1586 543h72M1586 545h70M1592 547h64M1600 549h48M1604 551h38M1612 553h26M1606 633h2M1600 635h18M1600 637h18M1600 639h18M1606 641h4M1588 681h36M1586 683h40M1582 685h48M1582 687h48M1582 689h48M1582 691h48M1582 693h50M1584 695h44M1586 697h38M1588 699h36M1598 701h10M1608 715h10M1590 717h38M1586 719h46M1586 721h44M1582 723h50M1580 725h56M1584 727h48M1580 729h54M1580 731h56M1584 733h48M1590 735h38M1608 737h10M1588 795h12M1582 797h22M1580 799h24M1582 801h22M1582 803h22M1586 805h16M1606 809h16M1598 811h28M1592 813h40M1580 815h62M1580 817h60M1576 819h68M1576 821h70M1574 823h74M1574 825h88M1572 827h96M1574 829h94M1572 831h100M1574 833h96M1572 835h100M1574 837h92M1574 839h94M1574 841h92M1572 843h94M1672 843h6M1574 845h108M1572 847h80M1654 847h32M1572 849h116M1574 851h116M1574 853h118M1574 855h118M1574 857h120M1576 859h118M1576 861h120M1580 863h116M1582 865h116M1586 867h110M1582 869h116M1586 871h110M1582 873h118M1584 875h116M1584 877h116M1584 879h116M1584 881h118M1590 883h106M1590 885h106M1590 887h106M1588 889h112M1588 891h112M1596 893h100M1602 895h94M1608 897h86M1606 899h90M1594 901h100M1592 903h102M1590 905h102M1588 907h102M1586 909h100M1590 911h76M1670 911h12M1592 913h72M1590 915h76M1588 917h78M1592 919h68M1594 921h62M1604 923h46M1598 935h30M1592 937h40M1592 939h40M1590 941h42M1592 943h40M1598 945h30M1588 979h34M1580 981h50M1580 983h52M1576 985h60M1578 987h58M1578 989h56M1578 991h58M1580 993h52M1580 995h52M1584 997h44M1582 999h46M1590 1001h30M1612 1027h42M1604 1029h54M1598 1031h62M1590 1033h76M1586 1035h82M1584 1037h88M1580 1039h96M1582 1041h92M1578 1043h98M1580 1045h94M1578 1047h98M1576 1049h102M1578 1051h98M1574 1053h106M1578 1055h100M1580 1057h96M1580 1059h96M1586 1061h84M1584 1063h86M1580 1065h94M1584 1067h86M1586 1069h84M1596 1071h68M1616 1073h40M1592 1079h40M1584 1081h56M1582 1083h58M1594 1085h36M1594 1089h32M1586 1091h52M1584 1093h54M1586 1095h50M1674 1095h36M1672 1097h40M1670 1099h42M1590 1101h46M1668 1101h46M1586 1103h50M1670 1103h44M1588 1105h48M1674 1105h36M1596 1107h34M1592 1123h50M1590 1125h64M1582 1127h78M1576 1129h90M1578 1131h86M1578 1133h86M1576 1135h94M1578 1137h90M1578 1139h94M1576 1141h98M1576 1143h98M1574 1145h102M1574 1147h104M1572 1149h106M1572 1151h106M1572 1153h104M1572 1155h104M1572 1157h106M1572 1159h102M1572 1161h104M1574 1163h100M1574 1165h98M1576 1167h96M1574 1169h102M1576 1171h96M1578 1173h92M1582 1175h84M1582 1177h82M1582 1179h82M1584 1181h78M1578 1183h78M1576 1185h76M1576 1187h74M1574 1189h36M1574 1191h34M1572 1193h38M1572 1195h38M1572 1197h38M1574 1199h34M1578 1201h24M1584 1203h6M1696 1345h20M1692 1347h28M1676 1349h8M1692 1349h28M1668 1351h52M1666 1353h50M1666 1355h28M1666 1357h28M1668 1359h24M1670 1361h20M1672 1363h16M1586 1369h24M1582 1371h34M1580 1373h36M1580 1375h34M1580 1377h36M1584 1379h30M1586 1381h24M1636 1559h34M1628 1561h48M1626 1563h50M1622 1565h58M1622 1567h58M1618 1569h64M1618 1571h64M1618 1573h64M1622 1575h58M1624 1577h54M1626 1579h50M1638 1581h32"/>
<path stroke="#50f038" d="M1618 297h42M1618 299h52M1610 301h76M1608 303h84M1604 305h96M1606 307h90M1600 309h104M1600 311h102M1600 313h100M1596 315h110M1592 317h116M1598 319h104M1596 321h108M1600 323h102M1596 325h110M1596 327h110M1594 329h114M1594 331h114M1598 333h106M1598 335h106M1594 337h114M1596 339h108M1592 341h116M1592 343h114M1594 345h106M1594 347h106M1594 349h110M1604 351h94M1604 353h96M1604 355h94M1606 357h88M1610 359h80M1614 361h68M1618 363h56M1622 365h44M1630 367h8M1606 389h48M1598 391h62M1596 393h64M1594 395h68M1592 397h68M1588 399h76M1592 401h68M1600 403h56M1606 405h46M1604 437h32M1596 439h50M1598 441h48M1596 443h50M1600 445h42M1604 447h34M1598 491h48M1598 493h54M1590 495h80M1586 497h94M1584 499h100M1580 501h106M1588 503h90M1586 505h82M1586 507h78M1586 509h76M1582 511h86M1584 513h82M1582 515h86M1586 517h80M1584 519h84M1584 521h82M1584 523h82M1584 525h82M1582 527h84M1584 529h80M1586 531h76M1586 533h76M1588 535h74M1588 537h72M1586 539h74M1584 541h78M1586 543h68M1586 545h66M1592 547h58M1604 549h40M1610 551h28M1602 635h14M1602 637h14M1602 639h14M1592 681h28M1586 683h38M1584 685h44M1584 687h44M1584 689h44M1584 691h44M1582 693h48M1584 695h44M1588 697h36M1590 699h32M1592 717h34M1586 719h44M1586 721h42M1584 723h48M1582 725h52M1586 727h44M1582 729h52M1582 731h52M1586 733h44M1592 735h32M1588 795h12M1582 797h22M1580 799h24M1582 801h22M1582 803h22M1586 805h16M1606 809h16M1598 811h28M1592 813h40M1580 815h62M1580 817h60M1576 819h68M1576 821h70M1574 823h74M1574 825h88M1572 827h96M1574 829h94M1572 831h100M1574 833h96M1572 835h100M1574 837h92M1574 839h94M1574 841h92M1572 843h94M1574 845h88M1670 845h8M1572 847h80M1658 847h26M1572 849h80M1654 849h32M1574 851h114M1574 853h116M1574 855h118M1574 857h118M1576 859h118M1576 861h118M1580 863h114M1582 865h114M1586 867h108M1582 869h116M1586 871h108M1582 873h116M1584 875h114M1584 877h116M1584 879h116M1584 881h116M1590 883h106M1590 885h106M1590 887h106M1588 889h110M1588 891h110M1596 893h98M1602 895h92M1608 897h86M1616 899h28M1646 899h48M1598 901h96M1594 903h98M1592 905h96M1590 907h96M1590 909h76M1668 909h14M1592 911h72M1594 913h68M1592 915h72M1590 917h74M1594 919h64M1598 921h56M1610 923h34M1602 935h22M1594 937h38M1592 939h40M1592 941h40M1594 943h36M1602 945h22M1590 979h12M1608 979h10M1582 981h46M1580 983h52M1578 985h56M1578 987h56M1580 989h54M1580 991h54M1582 993h50M1582 995h48M1584 997h42M1582 999h44M1594 1001h22M1620 1027h26M1610 1029h44M1602 1031h54M1594 1033h68M1590 1035h74M1586 1037h82M1582 1039h92M1584 1041h88M1582 1043h92M1582 1045h90M1580 1047h94M1578 1049h98M1580 1051h94M1578 1053h98M1580 1055h96M1582 1057h90M1580 1059h94M1586 1061h82M1586 1063h82M1584 1065h86M1588 1067h80M1592 1069h74M1608 1071h52M1592 1079h40M1584 1081h56M1582 1083h58M1594 1085h36M1594 1089h32M1586 1091h52M1584 1093h54M1586 1095h50M1674 1095h36M1672 1097h40M1670 1099h42M1590 1101h46M1668 1101h46M1586 1103h50M1670 1103h44M1588 1105h48M1674 1105h36M1596 1107h34M1592 1123h32M1590 1125h54M1582 1127h72M1576 1129h86M1578 1131h84M1578 1133h84M1576 1135h90M1578 1137h88M1578 1139h90M1576 1141h94M1576 1143h96M1574 1145h98M1574 1147h100M1572 1149h104M1572 1151h104M1572 1153h102M1572 1155h102M1572 1157h102M1572 1159h100M1572 1161h102M1574 1163h98M1574 1165h96M1576 1167h92M1574 1169h98M1578 1171h92M1580 1173h88M1584 1175h80M1586 1177h76M1586 1179h76M1590 1181h68M1580 1183h72M1578 1185h26M1606 1185h42M1576 1187h30M1574 1189h34M1576 1191h30M1572 1193h38M1574 1195h34M1574 1197h34M1576 1199h30M1580 1201h20M1696 1345h20M1692 1347h28M1676 1349h8M1692 1349h28M1668 1351h52M1666 1353h50M1666 1355h28M1666 1357h28M1668 1359h24M1670 1361h20M1588 1369h20M1582 1371h32M1580 1373h34M1580 1375h34M1580 1377h34M1584 1379h28M1588 1381h20M1636 1559h34M1628 1561h48M1626 1563h50M1622 1565h58M1622 1567h58M1618 1569h64M1618 1571h64M1618 1573h64M1622 1575h58M1624 1577h54M1626 1579h50M1638 1581h32"/>
<path stroke="#48e034" d="M1634 299h4M1618 301h48M1616 303h64M1610 305h80M1612 307h78M1606 309h90M1606 311h90M1606 313h90M1602 315h98M1598 317h104M1602 319h96M1602 321h98M1602 323h100M1596 325h110M1596 327h110M1594 329h114M1594 331h114M1598 333h106M1602 335h98M1598 337h104M1600 339h100M1598 341h104M1592 343h108M1594 345h102M1594 347h102M1594 349h104M1608 351h86M1610 353h84M1610 355h80M1614 357h72M1616 359h62M1622 361h48M1628 363h30M1612 389h36M1602 391h54M1600 393h56M1594 395h64M1592 397h66M1588 399h72M1592 401h66M1600 403h54M1612 405h34M1616 439h4M1610 441h24M1610 443h24M1616 445h6M1604 493h36M1594 495h60M1586 497h84M1584 499h92M1580 501h98M1588 503h84M1590 505h70M1590 507h70M1590 509h70M1586 511h78M1588 513h74M1586 515h78M1590 517h72M1584 519h80M1584 521h78M1584 523h78M1584 525h78M1582 527h80M1584 529h76M1586 531h74M1588 533h70M1590 535h68M1588 537h68M1586 539h70M1584 541h72M1586 543h62M1586 545h60M1592 547h50M1618 549h16M1604 635h10M1604 637h10M1604 639h8M1598 681h18M1590 683h32M1586 685h40M1586 687h40M1586 689h40M1586 691h40M1584 693h44M1586 695h40M1590 697h32M1596 699h22M1596 717h26M1590 719h38M1588 721h38M1586 723h44M1584 725h48M1586 727h42M1584 729h46M1584 731h48M1590 733h38M1598 735h22M1588 795h12M1582 797h22M1580 799h24M1582 801h22M1582 803h22M1586 805h16M1606 809h16M1598 811h28M1592 813h40M1580 815h62M1580 817h60M1576 819h68M1576 821h70M1574 823h74M1574 825h88M1572 827h96M1574 829h94M1572 831h100M1574 833h96M1572 835h100M1574 837h92M1574 839h94M1574 841h92M1572 843h94M1574 845h88M1572 847h80M1572 849h80M1666 849h14M1574 851h80M1658 851h24M1574 853h112M1574 855h114M1574 857h116M1576 859h114M1576 861h116M1580 863h112M1582 865h112M1586 867h106M1582 869h112M1586 871h106M1582 873h114M1584 875h112M1584 877h112M1584 879h112M1584 881h112M1590 883h104M1590 885h102M1590 887h104M1588 889h108M1588 891h108M1596 893h96M1602 895h90M1608 897h40M1650 897h40M1630 899h14M1650 899h40M1604 901h44M1650 901h40M1598 903h88M1596 905h88M1592 907h70M1670 907h10M1592 909h72M1596 911h64M1596 913h64M1594 915h66M1594 917h66M1598 919h54M1604 921h44M1596 937h36M1596 939h36M1594 941h38M1598 943h30M1586 981h38M1584 983h44M1580 985h52M1580 987h52M1582 989h50M1582 991h50M1584 993h46M1584 995h44M1584 997h40M1582 999h40M1604 1001h4M1620 1029h24M1612 1031h40M1596 1033h60M1592 1035h68M1590 1037h74M1584 1039h84M1584 1041h84M1582 1043h88M1582 1045h86M1582 1047h88M1582 1049h88M1582 1051h88M1580 1053h92M1580 1055h90M1582 1057h86M1580 1059h88M1586 1061h76M1586 1063h78M1584 1065h82M1588 1067h74M1594 1069h64M1624 1071h4M1602 1079h20M1588 1081h48M1586 1083h50M1606 1085h6M1598 1089h24M1588 1091h46M1588 1093h48M1588 1095h44M1688 1097h10M1682 1099h20M1596 1101h32M1680 1101h24M1592 1103h40M1686 1103h14M1594 1105h38M1592 1123h32M1590 1125h40M1582 1127h52M1576 1129h76M1578 1131h78M1578 1133h78M1576 1135h84M1578 1137h82M1578 1139h86M1576 1141h90M1576 1143h90M1574 1145h94M1574 1147h96M1572 1149h100M1572 1151h98M1572 1153h98M1572 1155h98M1572 1157h98M1572 1159h96M1572 1161h96M1574 1163h92M1574 1165h92M1576 1167h88M1574 1169h94M1578 1171h86M1580 1173h82M1584 1175h74M1586 1177h70M1588 1179h68M1598 1181h54M1584 1183h10M1610 1183h36M1580 1185h22M1578 1187h26M1576 1189h30M1578 1191h28M1574 1193h34M1576 1195h32M1576 1197h30M1578 1199h24M1584 1201h10M1700 1347h10M1676 1349h8M1698 1349h16M1668 1351h24M1700 1351h12M1666 1353h28M1666 1355h28M1666 1357h28M1668 1359h24M1670 1361h20M1592 1369h2M1584 1371h28M1580 1373h34M1580 1375h32M1580 1377h34M1586 1379h24M1592 1381h12M1640 1561h24M1634 1563h36M1628 1565h46M1628 1567h46M1626 1569h50M1626 1571h50M1626 1573h50M1630 1575h42M1634 1577h36M1642 1579h22"/>
<path stroke="#44c830" d="M1628 303h28M1618 305h52M1620 307h60M1612 309h76M1612 311h78M1612 313h78M1608 315h86M1606 317h90M1608 319h84M1604 321h96M1602 323h100M1596 325h110M1596 327h110M1594 329h114M1594 331h114M1598 333h106M1604 335h96M1604 337h92M1606 339h88M1604 341h94M1592 343h104M1594 345h96M1594 347h96M1594 349h98M1608 351h6M1616 351h70M1616 353h68M1618 355h60M1622 357h50M1626 359h36M1606 391h46M1600 393h54M1594 395h60M1592 397h62M1588 399h70M1592 401h62M1600 403h48M1594 495h60M1586 497h74M1584 499h80M1580 501h88M1588 503h72M1590 505h68M1594 507h62M1594 509h62M1590 511h70M1592 513h66M1590 515h70M1590 517h68M1584 519h76M1584 521h74M1584 523h74M1584 525h76M1582 527h80M1584 529h74M1586 531h70M1588 533h66M1590 535h64M1588 537h64M1586 539h64M1584 541h64M1586 543h54M1586 545h50M1592 547h28M1608 637h2M1594 683h24M1588 685h36M1588 687h36M1588 689h36M1588 691h36M1588 693h38M1590 695h32M1594 697h24M1612 717h2M1592 719h32M1592 721h32M1588 723h40M1586 725h44M1588 727h38M1586 729h42M1586 731h42M1594 733h30M1610 735h4M1588 795h12M1582 797h22M1580 799h24M1582 801h22M1582 803h22M1586 805h16M1604 811h18M1594 813h34M1580 815h58M1580 817h58M1576 819h66M1576 821h68M1574 823h72M1574 825h88M1572 827h96M1574 829h94M1572 831h100M1574 833h96M1572 835h100M1576 837h90M1574 839h94M1576 841h90M1574 843h92M1576 845h86M1572 847h80M1574 849h78M1576 851h78M1670 851h6M1576 853h80M1660 853h20M1576 855h108M1576 857h110M1578 859h110M1578 861h110M1582 863h108M1584 865h106M1586 867h104M1582 869h110M1586 871h104M1582 873h110M1584 875h108M1584 877h110M1584 879h110M1584 881h110M1590 883h100M1590 885h100M1590 887h100M1588 889h104M1588 891h104M1596 893h94M1602 895h86M1608 897h40M1652 897h36M1630 899h14M1654 899h32M1620 901h10M1656 901h28M1602 903h46M1666 903h14M1600 905h54M1596 907h62M1596 909h64M1598 911h58M1600 913h56M1598 915h58M1598 917h56M1604 919h44M1614 921h14M1632 921h6M1602 937h30M1598 939h34M1598 941h34M1602 943h22M1592 981h26M1586 983h38M1582 985h48M1584 987h46M1584 989h46M1584 991h46M1586 993h40M1586 995h40M1584 997h38M1582 999h34M1618 1031h20M1596 1033h54M1592 1035h62M1590 1037h68M1584 1039h78M1584 1041h78M1582 1043h84M1582 1045h82M1582 1047h84M1582 1049h84M1582 1051h84M1580 1053h88M1580 1055h86M1582 1057h82M1580 1059h84M1586 1061h72M1586 1063h72M1584 1065h76M1588 1067h66M1594 1069h50M1624 1071h4M1592 1081h38M1592 1083h38M1590 1091h42M1590 1093h44M1592 1095h36M1600 1103h24M1602 1105h20M1592 1123h32M1590 1125h40M1582 1127h52M1576 1129h64M1578 1131h68M1578 1133h72M1576 1135h78M1578 1137h76M1578 1139h80M1576 1141h84M1576 1143h86M1574 1145h90M1574 1147h92M1572 1149h94M1572 1151h94M1572 1153h94M1572 1155h94M1572 1157h94M1572 1159h92M1572 1161h92M1574 1163h88M1574 1165h86M1576 1167h84M1574 1169h88M1578 1171h82M1580 1173h76M1584 1175h68M1586 1177h64M1588 1179h60M1598 1181h24M1634 1181h4M1582 1185h18M1580 1187h22M1578 1189h26M1578 1191h26M1576 1193h30M1578 1195h28M1578 1197h26M1582 1199h18M1676 1349h8M1668 1351h24M1666 1353h28M1666 1355h28M1666 1357h28M1668 1359h24M1670 1361h20M1586 1371h24M1580 1373h32M1580 1375h32M1580 1377h32M1588 1379h22M1640 1565h22M1636 1567h30M1634 1569h32M1634 1571h32M1636 1573h30M1642 1575h20"/>
<path stroke="#40b82c" d="M1630 307h26M1622 309h50M1620 311h60M1620 313h62M1616 315h70M1612 317h78M1610 319h80M1604 321h96M1602 323h100M1596 325h110M1596 327h110M1594 329h114M1594 331h114M1598 333h106M1604 335h96M1606 337h86M1612 339h76M1604 341h4M1610 341h80M1592 343h96M1594 345h90M1594 347h88M1594 349h88M1608 351h6M1624 351h52M1624 353h46M1628 355h34M1612 391h34M1600 393h50M1594 395h58M1592 397h58M1588 399h66M1592 401h58M1600 403h42M1594 495h60M1586 497h74M1584 499h80M1580 501h88M1588 503h72M1590 505h68M1598 507h54M1598 509h54M1596 511h58M1596 513h56M1592 515h64M1590 517h64M1584 519h74M1584 521h74M1584 523h74M1584 525h76M1582 527h80M1584 529h74M1586 531h70M1588 533h66M1590 535h60M1588 537h56M1586 539h56M1584 541h54M1586 543h44M1586 545h42M1592 547h28M1600 683h12M1592 685h28M1590 687h32M1590 689h32M1590 691h32M1590 693h32M1592 695h28M1598 697h16M1596 719h24M1594 721h28M1590 723h34M1588 725h40M1592 727h32M1588 729h38M1590 731h36M1598 733h22M1588 795h12M1582 797h22M1580 799h24M1582 801h22M1582 803h22M1586 805h16M1604 811h16M1594 813h34M1580 815h54M1580 817h54M1576 819h62M1576 821h64M1574 823h72M1574 825h88M1572 827h96M1574 829h94M1572 831h100M1574 833h96M1572 835h100M1576 837h90M1574 839h94M1576 841h90M1574 843h92M1576 845h86M1576 847h76M1576 849h76M1578 851h76M1578 853h78M1578 855h80M1668 855h10M1580 857h100M1582 859h100M1584 861h100M1586 863h100M1584 865h104M1586 867h100M1582 869h106M1586 871h100M1582 873h108M1584 875h106M1584 877h106M1584 879h106M1584 881h106M1590 883h98M1590 885h98M1590 887h98M1588 889h100M1588 891h100M1596 893h90M1602 895h50M1656 895h28M1608 897h40M1656 897h28M1630 899h14M1660 899h20M1612 903h28M1604 905h44M1600 907h54M1600 909h56M1602 911h50M1604 913h48M1602 915h50M1602 917h48M1612 919h30M1610 937h22M1602 939h30M1602 941h30M1590 983h30M1586 985h40M1586 987h40M1586 989h40M1586 991h40M1588 993h36M1590 995h32M1584 997h34M1582 999h22M1618 1031h16M1596 1033h46M1592 1035h54M1590 1037h60M1584 1039h72M1584 1041h72M1582 1043h78M1582 1045h78M1582 1047h78M1582 1049h80M1582 1051h78M1580 1053h82M1580 1055h82M1582 1057h76M1580 1059h78M1586 1061h66M1586 1063h68M1584 1065h72M1588 1067h62M1594 1069h50M1624 1071h4M1598 1081h26M1598 1083h26M1594 1091h34M1592 1093h38M1596 1095h28M1592 1123h32M1590 1125h40M1582 1127h52M1576 1129h64M1578 1131h60M1578 1133h60M1576 1135h70M1578 1137h70M1578 1139h74M1576 1141h78M1576 1143h80M1574 1145h84M1574 1147h86M1572 1149h88M1572 1151h88M1572 1153h88M1572 1155h88M1572 1157h88M1572 1159h86M1572 1161h86M1574 1163h84M1574 1165h82M1576 1167h78M1574 1169h82M1578 1171h74M1580 1173h70M1584 1175h60M1586 1177h54M1588 1179h42M1598 1181h24M1588 1185h2M1582 1187h18M1578 1189h24M1578 1191h24M1576 1193h28M1578 1195h24M1582 1197h18M1676 1349h8M1668 1351h24M1666 1353h28M1666 1355h28M1666 1357h28M1668 1359h24M1670 1361h20M1588 1371h20M1580 1373h30M1580 1375h30M1580 1377h30M1590 1379h16"/>
<path stroke="#38a828" d="M1634 311h18M1628 313h38M1624 315h52M1622 317h58M1610 319h80M1604 321h96M1602 323h100M1596 325h110M1596 327h110M1594 329h114M1594 331h114M1598 333h106M1604 335h96M1606 337h86M1620 339h60M1604 341h4M1618 341h64M1592 343h88M1594 345h82M1594 347h78M1594 349h72M1608 351h6M1634 351h24M1600 393h44M1594 395h52M1592 397h54M1588 399h60M1592 401h52M1600 403h26M1594 495h60M1586 497h74M1584 499h80M1580 501h88M1588 503h72M1590 505h68M1598 507h52M1604 509h42M1602 511h46M1602 513h46M1592 515h58M1590 517h62M1584 519h74M1584 521h74M1584 523h74M1584 525h76M1582 527h80M1584 529h74M1586 531h70M1588 533h66M1590 535h60M1588 537h52M1586 539h44M1584 541h48M1586 543h42M1586 545h42M1592 547h28M1596 685h20M1594 687h24M1594 689h24M1594 691h24M1594 693h24M1596 695h20M1596 721h24M1594 723h28M1592 725h32M1594 727h28M1592 729h32M1596 731h26M1588 795h12M1582 797h22M1580 799h24M1582 801h22M1582 803h22M1586 805h16M1604 811h16M1594 813h34M1580 815h54M1580 817h54M1576 819h60M1576 821h62M1574 823h72M1574 825h88M1572 827h96M1574 829h94M1572 831h100M1574 833h96M1572 835h100M1576 837h90M1574 839h94M1576 841h90M1574 843h92M1576 845h86M1578 847h74M1580 849h72M1582 851h72M1582 853h74M1582 855h76M1584 857h76M1586 859h76M1670 859h6M1586 861h92M1586 863h94M1584 865h100M1586 867h96M1582 869h102M1586 871h98M1582 873h104M1584 875h102M1584 877h102M1584 879h102M1584 881h102M1590 883h94M1590 885h94M1590 887h94M1588 889h96M1588 891h96M1596 893h58M1658 893h24M1602 895h50M1662 895h16M1608 897h40M1630 899h14M1612 905h28M1606 907h42M1606 909h44M1608 911h40M1608 913h40M1606 915h40M1610 917h32M1610 937h22M1608 939h24M1610 941h22M1596 983h8M1608 983h4M1590 985h32M1588 987h36M1590 989h34M1590 991h34M1590 993h32M1592 995h26M1584 997h28M1582 999h22M1618 1031h16M1596 1033h46M1592 1035h54M1590 1037h60M1584 1039h70M1584 1041h70M1582 1043h74M1582 1045h74M1582 1047h76M1582 1049h78M1582 1051h78M1580 1053h82M1580 1055h80M1582 1057h76M1580 1059h78M1586 1061h66M1586 1063h68M1584 1065h72M1588 1067h62M1594 1069h50M1624 1071h4M1598 1091h26M1596 1093h30M1592 1123h32M1590 1125h40M1582 1127h52M1576 1129h64M1578 1131h60M1578 1133h60M1576 1135h64M1578 1137h62M1578 1139h64M1576 1141h70M1576 1143h72M1574 1145h76M1574 1147h78M1572 1149h82M1572 1151h82M1572 1153h82M1572 1155h82M1572 1157h82M1572 1159h80M1572 1161h80M1574 1163h76M1574 1165h74M1576 1167h70M1574 1169h72M1578 1171h66M1580 1173h62M1584 1175h54M1586 1177h50M1588 1179h42M1598 1181h24M1584 1187h8M1578 1189h22M1578 1191h22M1576 1193h26M1578 1195h22M1584 1197h8M1676 1349h8M1668 1351h24M1666 1353h28M1666 1355h28M1666 1357h28M1668 1359h24M1670 1361h20M1592 1371h10M1580 1373h28M1580 1375h28M1580 1377h28M1594 1379h8"/>
<path stroke="#2e9822" d="M1630 317h28M1610 319h80M1604 321h96M1602 323h100M1596 325h110M1596 327h110M1594 329h114M1594 331h114M1598 333h106M1604 335h96M1606 337h86M1622 339h48M1604 341h4M1630 341h40M1592 343h38M1634 343h30M1594 345h38M1638 345h18M1594 347h38M1594 349h36M1608 351h6M1600 393h26M1594 395h46M1592 397h50M1588 399h54M1592 401h44M1600 403h26M1594 495h60M1586 497h74M1584 499h80M1580 501h88M1588 503h72M1590 505h68M1598 507h52M1614 509h22M1610 511h30M1610 513h30M1592 515h54M1590 517h62M1584 519h74M1584 521h74M1584 523h74M1584 525h76M1582 527h80M1584 529h74M1586 531h70M1588 533h66M1590 535h60M1588 537h52M1586 539h44M1584 541h48M1586 543h42M1586 545h42M1592 547h28M1598 687h16M1596 689h20M1598 691h16M1598 693h16M1604 721h10M1596 723h22M1594 725h26M1596 727h24M1596 729h24M1604 731h10M1588 795h12M1582 797h22M1580 799h24M1582 801h22M1582 803h22M1586 805h16M1604 811h16M1594 813h34M1580 815h54M1580 817h54M1576 819h60M1576 821h62M1574 823h72M1574 825h88M1572 827h96M1574 829h94M1572 831h100M1574 833h96M1572 835h100M1576 837h90M1574 839h94M1576 841h90M1574 843h92M1576 845h86M1578 847h74M1582 849h70M1584 851h70M1586 853h70M1586 855h72M1588 857h72M1588 859h74M1586 861h78M1586 863h78M1584 865h82M1668 865h6M1586 867h92M1582 869h98M1586 871h94M1582 873h98M1584 875h96M1584 877h98M1584 879h98M1584 881h98M1590 883h90M1590 885h68M1660 885h20M1590 887h68M1660 887h20M1588 889h72M1662 889h16M1588 891h72M1670 891h4M1596 893h58M1602 895h50M1608 897h40M1630 899h14M1614 907h24M1612 909h30M1612 911h30M1614 913h26M1614 915h24M1610 937h22M1608 939h24M1610 941h22M1596 985h20M1592 987h28M1592 989h28M1592 991h28M1594 993h24M1598 995h16M1584 997h18M1582 999h22M1618 1031h16M1596 1033h46M1592 1035h54M1590 1037h60M1584 1039h70M1584 1041h70M1582 1043h74M1582 1045h74M1582 1047h76M1582 1049h78M1582 1051h78M1580 1053h82M1580 1055h80M1582 1057h76M1580 1059h78M1586 1061h66M1586 1063h68M1584 1065h72M1588 1067h62M1594 1069h50M1624 1071h4M1604 1091h12M1600 1093h22M1592 1123h32M1590 1125h40M1582 1127h52M1576 1129h64M1578 1131h60M1578 1133h60M1576 1135h64M1578 1137h62M1578 1139h62M1576 1141h64M1576 1143h64M1574 1145h68M1574 1147h68M1572 1149h72M1572 1151h74M1572 1153h74M1572 1155h74M1572 1157h74M1572 1159h72M1572 1161h72M1574 1163h70M1574 1165h68M1576 1167h66M1574 1169h72M1578 1171h66M1580 1173h62M1584 1175h54M1586 1177h50M1588 1179h42M1598 1181h24M1584 1187h2M1578 1189h22M1578 1191h22M1576 1193h26M1578 1195h22M1584 1197h8M1676 1349h8M1668 1351h24M1666 1353h28M1666 1355h28M1666 1357h28M1668 1359h24M1670 1361h20M1580 1373h26M1580 1375h26M1580 1377h26"/>
<path stroke="#2a8a22" d="M1630 317h28M1610 319h80M1604 321h96M1602 323h100M1596 325h110M1596 327h110M1594 329h114M1594 331h114M1598 333h106M1604 335h96M1606 337h86M1622 339h20M1594 343h34M1596 345h34M1594 347h36M1596 349h32M1600 393h26M1594 395h40M1592 397h44M1588 399h52M1592 401h44M1600 403h26M1594 495h60M1586 497h74M1584 499h80M1580 501h88M1588 503h72M1590 505h68M1598 507h52M1592 515h54M1590 517h62M1584 519h74M1584 521h74M1584 523h74M1584 525h76M1582 527h80M1584 529h74M1586 531h70M1588 533h66M1590 535h60M1588 537h52M1586 539h44M1584 541h48M1586 543h42M1586 545h42M1592 547h28M1604 723h10M1600 725h16M1600 727h14M1604 729h8M1588 795h12M1582 797h22M1580 799h24M1582 801h22M1582 803h22M1586 805h16M1604 811h16M1594 813h34M1580 815h54M1580 817h54M1576 819h60M1576 821h62M1574 823h66M1574 825h84M1572 827h94M1574 829h92M1572 831h98M1574 833h94M1572 835h98M1576 837h88M1574 839h92M1576 841h88M1574 843h90M1576 845h82M1578 847h72M1582 849h70M1588 851h66M1590 853h66M1590 855h68M1590 857h70M1588 859h74M1586 861h78M1586 863h78M1584 865h82M1586 867h76M1582 869h84M1586 871h76M1582 873h84M1584 875h80M1584 877h82M1584 879h82M1584 881h82M1590 883h70M1590 885h68M1590 887h68M1588 889h72M1588 891h72M1596 893h58M1602 895h50M1608 897h40M1630 899h14M1626 911h2M1610 937h22M1608 939h24M1610 941h22M1600 987h12M1598 989h16M1598 991h16M1600 993h12M1584 997h18M1582 999h22M1618 1031h16M1596 1033h46M1592 1035h54M1590 1037h60M1584 1039h70M1584 1041h70M1582 1043h74M1582 1045h74M1582 1047h76M1582 1049h78M1582 1051h78M1580 1053h82M1580 1055h80M1582 1057h76M1580 1059h78M1586 1061h66M1586 1063h68M1584 1065h72M1588 1067h62M1594 1069h50M1624 1071h4M1592 1123h32M1590 1125h40M1582 1127h52M1576 1129h64M1578 1131h60M1578 1133h60M1576 1135h64M1578 1137h62M1578 1139h62M1576 1141h64M1576 1143h64M1574 1145h68M1574 1147h68M1572 1149h72M1572 1151h72M1572 1153h72M1572 1155h72M1572 1157h74M1572 1159h72M1572 1161h72M1574 1163h70M1574 1165h68M1576 1167h66M1574 1169h72M1578 1171h66M1580 1173h62M1584 1175h54M1586 1177h50M1588 1179h42M1598 1181h24M1584 1187h2M1578 1189h22M1578 1191h22M1576 1193h26M1578 1195h22M1584 1197h8M1676 1349h8M1668 1351h24M1666 1353h28M1666 1355h28M1666 1357h28M1668 1359h24M1670 1361h20M1580 1373h20M1580 1375h24M1580 1377h20"/>
<path stroke="#1e6e1e" d="M1618 319h56M1610 321h84M1608 323h88M1600 325h102M1596 327h106M1594 329h110M1594 331h108M1598 333h102M1606 335h88M1614 337h66M1598 343h26M1598 345h30M1596 347h32M1598 349h26M1608 393h6M1596 395h36M1594 397h40M1592 399h44M1596 401h36M1600 495h48M1590 497h68M1586 499h76M1584 501h80M1590 503h68M1592 505h62M1606 507h36M1598 515h42M1592 517h56M1588 519h66M1586 521h68M1586 523h70M1586 525h72M1584 527h74M1586 529h70M1588 531h66M1590 533h60M1594 535h54M1592 537h44M1588 539h38M1586 541h42M1588 543h38M1590 545h34M1588 795h12M1582 797h22M1582 799h22M1582 801h22M1582 803h22M1586 805h14M1604 811h16M1594 813h34M1580 815h54M1580 817h54M1576 819h60M1576 821h62M1574 823h66M1574 825h70M1572 827h88M1574 829h88M1572 831h94M1574 833h90M1572 835h94M1576 837h86M1574 839h88M1576 841h86M1574 843h86M1576 845h62M1642 845h6M1578 847h72M1582 849h70M1592 851h62M1592 853h64M1590 855h68M1590 857h70M1588 859h74M1586 861h78M1586 863h78M1584 865h82M1586 867h76M1582 869h84M1586 871h76M1582 873h84M1584 875h80M1584 877h82M1584 879h82M1584 881h82M1590 883h70M1590 885h68M1590 887h68M1588 889h72M1588 891h72M1596 893h58M1602 895h50M1608 897h40M1630 899h14M1610 937h22M1610 939h22M1612 941h20M1584 997h18M1582 999h22M1622 1031h8M1598 1033h42M1594 1035h52M1590 1037h60M1586 1039h68M1584 1041h70M1582 1043h74M1582 1045h72M1582 1047h76M1582 1049h78M1584 1051h74M1580 1053h82M1580 1055h80M1582 1057h76M1582 1059h76M1586 1061h66M1586 1063h66M1586 1065h68M1590 1067h58M1598 1069h42M1604 1123h16M1592 1125h34M1582 1127h50M1576 1129h62M1578 1131h60M1578 1133h58M1576 1135h64M1578 1137h60M1578 1139h62M1578 1141h62M1576 1143h64M1576 1145h64M1574 1147h68M1574 1149h68M1574 1151h70M1574 1153h68M1572 1155h72M1572 1157h72M1574 1159h70M1572 1161h72M1574 1163h68M1576 1165h66M1578 1167h64M1576 1169h68M1578 1171h64M1582 1173h58M1586 1175h50M1588 1177h44M1590 1179h36M1578 1189h22M1578 1191h22M1576 1193h26M1580 1195h20M1676 1349h8M1668 1351h24M1666 1353h28M1666 1355h28M1666 1357h28M1668 1359h24M1670 1361h20M1582 1373h14M1582 1375h16M1582 1377h14"/>
<path stroke="#f0ee3c" d="M1636 319h20M1616 321h70M1610 323h80M1600 325h96M1596 327h100M1594 329h104M1594 331h102M1598 333h96M1606 335h80M1628 337h16M1604 343h16M1600 345h24M1600 347h24M1604 349h14M1600 395h28M1598 397h32M1596 399h38M1600 401h28M1594 497h60M1590 499h68M1588 501h74M1594 503h60M1596 505h54M1616 507h18M1596 517h48M1590 519h62M1590 521h62M1590 523h64M1588 525h68M1588 527h68M1590 529h64M1592 531h58M1594 533h54M1598 535h46M1596 537h32M1592 539h30M1590 541h34M1592 543h30M1596 545h20M1588 795h10M1584 797h18M1582 799h22M1582 801h22M1582 803h22M1588 805h12M1604 811h16M1594 813h34M1580 815h54M1580 817h54M1576 819h60M1576 821h62M1574 823h66M1574 825h66M1572 827h78M1574 829h84M1572 831h90M1574 833h86M1572 835h90M1576 837h82M1574 839h86M1576 841h82M1574 843h78M1576 845h60M1578 847h64M1582 849h66M1592 851h58M1596 853h56M1594 855h62M1592 857h64M1590 859h70M1588 861h74M1588 863h74M1586 865h78M1588 867h72M1584 869h80M1590 871h70M1586 873h78M1586 875h76M1586 877h76M1588 879h74M1588 881h74M1592 883h64M1594 885h62M1594 887h62M1592 889h66M1594 891h62M1600 893h52M1608 895h40M1626 897h18M1614 937h14M1612 939h18M1614 941h14M1584 997h18M1582 999h22M1616 1033h18M1598 1035h42M1594 1037h52M1590 1039h60M1584 1041h66M1582 1043h70M1582 1045h70M1582 1047h72M1582 1049h74M1586 1051h70M1582 1053h76M1584 1055h72M1584 1057h70M1584 1059h70M1590 1061h60M1590 1063h60M1590 1065h60M1596 1067h46M1622 1069h8M1594 1125h12M1582 1127h40M1576 1129h54M1578 1131h54M1578 1133h54M1576 1135h60M1578 1137h56M1578 1139h58M1578 1141h58M1578 1143h58M1580 1145h56M1578 1147h60M1578 1149h60M1578 1151h62M1578 1153h62M1576 1155h64M1576 1157h64M1578 1159h62M1576 1161h64M1578 1163h60M1580 1165h58M1582 1167h56M1582 1169h58M1584 1171h54M1586 1173h48M1592 1175h36M1598 1177h22M1582 1189h14M1580 1191h18M1580 1193h20M1582 1195h14M1676 1349h8M1668 1351h24M1666 1353h28M1666 1355h28M1666 1357h28M1668 1359h24M1670 1361h20M1584 1373h10M1582 1375h14M1584 1377h10"/>
<path stroke="#e4e438" d="M1626 321h42M1610 323h74M1600 325h90M1596 327h94M1594 329h98M1594 331h96M1598 333h88M1606 335h66M1604 345h16M1604 347h16M1606 395h16M1602 397h26M1600 399h30M1606 401h16M1598 497h50M1592 499h64M1590 501h68M1596 503h56M1600 505h46M1600 517h40M1594 519h54M1592 521h58M1592 523h58M1590 525h62M1590 527h64M1592 529h58M1594 531h54M1596 533h48M1602 535h36M1596 539h20M1596 541h24M1596 543h20M1584 797h18M1582 799h22M1582 801h20M1582 803h22M1590 805h2M1604 811h16M1594 813h34M1580 815h54M1580 817h54M1576 819h60M1576 821h62M1574 823h66M1574 825h66M1572 827h70M1574 829h76M1572 831h84M1574 833h82M1572 835h86M1576 837h78M1574 839h80M1576 841h74M1574 843h64M1576 845h60M1578 847h58M1582 849h50M1592 851h52M1606 853h42M1600 855h50M1598 857h54M1594 859h60M1594 861h62M1592 863h64M1590 865h68M1594 867h62M1590 869h70M1594 871h62M1590 873h68M1588 875h70M1588 877h70M1588 879h70M1592 881h66M1596 883h56M1598 885h54M1598 887h54M1598 889h54M1602 891h48M1612 893h32M1614 939h14M1584 997h18M1582 999h22M1606 1035h28M1598 1037h42M1594 1039h52M1584 1041h62M1582 1043h68M1582 1045h66M1582 1047h70M1582 1049h72M1590 1051h62M1586 1053h70M1586 1055h68M1588 1057h64M1588 1059h62M1594 1061h52M1594 1063h52M1596 1065h48M1616 1067h16M1594 1125h12M1582 1127h40M1576 1129h52M1578 1131h52M1578 1133h52M1576 1135h56M1578 1137h52M1578 1139h54M1578 1141h54M1578 1143h54M1582 1145h52M1582 1147h52M1582 1149h52M1582 1151h54M1582 1153h54M1580 1155h56M1580 1157h56M1582 1159h54M1582 1161h54M1584 1163h50M1586 1165h48M1588 1167h44M1588 1169h46M1590 1171h40M1596 1173h26M1584 1191h10M1582 1193h14M1670 1351h20M1668 1353h24M1668 1355h24M1666 1357h26M1670 1359h22M1674 1361h12M1586 1373h4M1584 1375h10M1586 1377h6"/>
<path stroke="#d8d838" d="M1610 323h64M1600 325h82M1596 327h88M1594 329h90M1594 331h88M1598 333h78M1606 335h42M1606 397h16M1606 399h18M1604 497h38M1596 499h56M1594 501h60M1600 503h48M1606 505h36M1608 517h6M1598 519h46M1596 521h50M1594 523h54M1594 525h56M1592 527h58M1594 529h54M1598 531h46M1600 533h42M1612 535h18M1606 541h2M1584 797h18M1582 799h20M1584 801h18M1584 803h18M1604 811h16M1594 813h34M1580 815h54M1580 817h54M1576 819h60M1576 821h62M1574 823h66M1574 825h66M1572 827h70M1574 829h66M1572 831h72M1574 833h76M1572 835h78M1576 837h74M1574 839h72M1576 841h62M1574 843h64M1576 845h60M1578 847h58M1582 849h50M1592 851h36M1610 853h26M1612 855h32M1604 857h42M1600 859h48M1598 861h52M1598 863h54M1596 865h58M1598 867h54M1594 869h60M1596 871h54M1590 873h64M1588 875h64M1588 877h66M1588 879h66M1592 881h60M1602 883h46M1602 885h44M1604 887h42M1610 889h36M1628 891h12M1620 939h2M1584 997h18M1582 999h22M1606 1037h28M1594 1039h46M1584 1041h60M1582 1043h64M1582 1045h64M1582 1047h66M1582 1049h68M1592 1051h58M1590 1053h62M1590 1055h60M1592 1057h56M1592 1059h56M1598 1061h44M1600 1063h40M1610 1065h24M1594 1125h12M1582 1127h40M1576 1129h52M1578 1131h52M1578 1133h52M1576 1135h56M1578 1137h50M1578 1139h52M1578 1141h52M1578 1143h50M1582 1145h46M1588 1147h42M1586 1149h44M1586 1151h44M1586 1153h44M1586 1155h44M1586 1157h46M1586 1159h44M1588 1161h42M1590 1163h40M1592 1165h36M1594 1167h32M1596 1169h24M1672 1351h16M1670 1353h20M1668 1355h22M1668 1357h24M1672 1359h18M1588 1375h2"/>
<path stroke="#ccd030" d="M1610 323h34M1600 325h70M1596 327h78M1594 329h80M1594 331h78M1598 333h66M1606 335h42M1602 499h44M1600 501h48M1606 503h36M1620 505h10M1602 519h36M1598 521h46M1598 523h46M1596 525h50M1596 527h52M1598 529h46M1600 531h42M1604 533h32M1586 797h14M1584 799h18M1584 801h18M1584 803h18M1604 811h16M1594 813h34M1580 815h54M1580 817h54M1576 819h60M1576 821h62M1574 823h66M1574 825h66M1572 827h70M1574 829h66M1572 831h70M1574 833h66M1572 835h70M1576 837h62M1574 839h66M1576 841h62M1574 843h64M1576 845h60M1578 847h58M1582 849h50M1592 851h36M1610 853h14M1622 857h12M1612 859h28M1606 861h36M1604 863h40M1602 865h44M1604 867h42M1602 869h46M1596 871h50M1590 873h58M1588 875h58M1588 877h60M1588 879h58M1592 881h54M1608 883h34M1612 885h28M1626 887h10M1584 997h18M1582 999h22M1594 1039h4M1606 1039h28M1584 1041h54M1582 1043h60M1582 1045h60M1582 1047h62M1582 1049h64M1594 1051h52M1594 1053h54M1594 1055h52M1596 1057h48M1598 1059h44M1602 1061h36M1608 1063h22M1594 1125h12M1582 1127h40M1576 1129h52M1578 1131h52M1578 1133h52M1576 1135h56M1578 1137h50M1578 1139h52M1578 1141h52M1578 1143h50M1582 1145h40M1590 1147h34M1594 1149h30M1594 1151h30M1594 1153h30M1592 1155h32M1592 1157h32M1594 1159h30M1596 1161h28M1598 1163h22M1676 1351h8M1672 1353h18M1670 1355h20M1670 1357h20M1674 1359h14"/>
<path stroke="#c4c430" d="M1610 323h34M1600 325h62M1596 327h68M1594 329h74M1594 331h72M1598 333h66M1606 335h42M1608 499h32M1606 501h36M1610 503h26M1604 519h28M1600 521h38M1598 523h44M1598 525h44M1598 527h46M1600 529h40M1600 531h38M1604 533h30M1586 797h14M1584 799h18M1584 801h18M1586 803h16M1604 811h16M1594 813h34M1580 815h54M1580 817h54M1576 819h60M1576 821h62M1574 823h66M1574 825h66M1572 827h70M1574 829h66M1572 831h70M1574 833h66M1572 835h70M1576 837h62M1574 839h66M1576 841h62M1574 843h64M1576 845h60M1578 847h58M1582 849h50M1592 851h36M1610 853h14M1620 863h12M1614 865h22M1612 867h26M1610 869h30M1596 871h42M1590 873h50M1588 875h50M1588 877h50M1588 879h48M1592 881h42M1584 997h18M1582 999h22M1594 1039h4M1584 1041h46M1582 1043h54M1582 1045h56M1582 1047h56M1582 1049h58M1594 1051h46M1598 1053h44M1598 1055h42M1602 1057h36M1604 1059h32M1616 1061h12M1594 1125h12M1582 1127h40M1576 1129h52M1578 1131h52M1578 1133h52M1576 1135h56M1578 1137h50M1578 1139h52M1578 1141h52M1578 1143h50M1582 1145h40M1590 1147h10M1674 1353h14M1672 1355h16M1672 1357h16M1676 1359h8"/>
<path stroke="#d0a828" d="M1618 323h20M1604 325h54M1598 327h64M1596 329h70M1596 331h68M1600 333h60M1614 501h20M1604 519h28M1600 521h36M1598 523h40M1598 525h42M1598 527h44M1600 529h38M1600 531h38M1604 533h30M1588 797h10M1584 799h18M1586 801h14M1586 803h14M1604 811h16M1594 813h34M1580 815h54M1580 817h54M1576 819h60M1576 821h62M1574 823h66M1574 825h66M1572 827h70M1574 829h66M1572 831h70M1574 833h66M1572 835h70M1576 837h62M1574 839h66M1576 841h62M1574 843h64M1576 845h60M1578 847h58M1582 849h50M1592 851h36M1610 853h14M1596 871h20M1590 873h34M1588 875h36M1588 877h36M1588 879h36M1592 881h28M1584 997h18M1582 999h22M1594 1039h4M1584 1041h30M1582 1043h36M1582 1045h48M1582 1047h50M1582 1049h52M1594 1051h8M1606 1051h28M1604 1053h32M1606 1055h28M1610 1057h20M1596 1125h6M1584 1127h36M1578 1129h50M1578 1131h50M1578 1133h50M1576 1135h54M1578 1137h50M1578 1139h52M1578 1141h50M1580 1143h46M1584 1145h38M1676 1353h6M1674 1355h12M1674 1357h12"/>
<path stroke="#d89820" d="M1606 325h48M1600 327h60M1598 329h64M1598 331h62M1604 333h52M1604 519h28M1600 521h36M1598 523h40M1598 525h42M1598 527h44M1600 529h38M1600 531h38M1604 533h30M1590 797h8M1586 799h14M1586 801h14M1588 803h10M1600 813h24M1584 815h48M1582 817h50M1578 819h56M1578 821h58M1576 823h62M1576 825h62M1574 827h66M1574 829h64M1572 831h68M1576 833h62M1574 835h66M1578 837h58M1576 839h62M1578 841h58M1576 843h60M1580 845h54M1580 847h52M1588 849h42M1596 851h28M1598 871h16M1590 873h32M1590 875h32M1588 877h34M1590 879h32M1596 881h22M1586 997h14M1584 999h18M1586 1041h28M1584 1043h34M1584 1045h34M1584 1047h34M1584 1049h30M1588 1127h26M1580 1129h44M1580 1131h46M1580 1133h46M1578 1135h50M1580 1137h46M1580 1139h48M1580 1141h46M1582 1143h42M1588 1145h28"/>
<path stroke="#e08018" d="M1610 325h40M1604 327h52M1602 329h58M1602 331h56M1608 333h44M1604 519h28M1602 521h34M1600 523h38M1598 525h42M1598 527h42M1600 529h38M1600 531h36M1604 533h30M1592 797h2M1586 799h14M1588 801h10M1590 803h4M1592 815h34M1588 817h40M1582 819h50M1580 821h52M1578 823h56M1578 825h56M1576 827h60M1578 829h58M1576 831h62M1578 833h56M1576 835h60M1580 837h54M1578 839h56M1580 841h54M1580 843h54M1582 845h48M1586 847h42M1596 849h30M1594 873h24M1592 875h28M1592 877h28M1592 879h28M1586 997h14M1586 999h14M1588 1041h24M1586 1043h30M1586 1045h30M1584 1047h32M1588 1049h24M1596 1127h8M1584 1129h36M1584 1131h40M1582 1133h42M1580 1135h46M1582 1137h42M1582 1139h42M1582 1141h42M1586 1143h34M1594 1145h6"/>
<path stroke="#e81030" d="M1616 325h24M1608 327h44M1606 329h50M1606 331h48M1614 333h28M1606 519h24M1602 521h34M1600 523h38M1600 525h40M1600 527h40M1600 529h38M1602 531h34M1606 533h26M1588 799h10M1588 801h10M1592 815h22M1590 817h34M1586 819h42M1584 821h44M1582 823h48M1582 825h50M1580 827h54M1580 829h52M1578 831h56M1582 833h50M1580 835h54M1582 837h48M1582 839h50M1584 841h46M1584 843h46M1588 845h38M1596 847h28M1598 873h16M1594 875h24M1594 877h24M1596 879h20M1588 997h10M1588 999h10M1590 1041h18M1588 1043h26M1588 1045h26M1586 1047h28M1592 1049h16M1590 1129h24M1586 1131h34M1586 1133h36M1584 1135h40M1586 1137h36M1584 1139h38M1586 1141h34M1590 1143h24"/>
<path stroke="#c80020" d="M1612 327h36M1610 329h42M1610 331h40M1610 519h18M1604 521h30M1602 523h34M1600 525h38M1600 527h38M1602 529h34M1604 531h30M1608 533h20M1588 799h10M1590 801h6M1592 815h22M1590 817h26M1586 819h36M1584 821h40M1582 823h44M1584 825h44M1582 827h48M1584 829h46M1582 831h48M1584 833h44M1582 835h48M1584 837h44M1586 839h42M1588 841h38M1590 843h34M1598 845h22M1598 875h16M1598 877h16M1590 997h2M1592 999h2M1590 1043h20M1590 1045h22M1590 1047h20M1590 1131h26M1588 1133h30M1586 1135h34M1588 1137h30M1588 1139h30M1590 1141h26"/>
<path stroke="#c00018" d="M1618 327h24M1614 329h32M1616 331h28M1616 519h8M1606 521h26M1602 523h32M1602 525h34M1602 527h36M1602 529h32M1604 531h28M1590 799h6M1592 801h4M1592 815h22M1590 817h26M1586 819h34M1584 821h38M1582 823h40M1584 825h38M1582 827h44M1584 829h42M1582 831h44M1584 833h40M1582 835h44M1584 837h40M1586 839h36M1588 841h32M1596 843h22M1592 1043h14M1592 1045h16M1592 1047h14M1600 1131h4M1592 1133h22M1590 1135h26M1592 1137h22M1592 1139h22M1598 1141h2"/>
<path stroke="#b0000c" d="M1622 329h16M1608 521h22M1604 523h30M1604 525h32M1604 527h32M1604 529h30M1606 531h26M1592 815h22M1590 817h26M1586 819h34M1584 821h38M1582 823h40M1584 825h38M1582 827h42M1584 829h40M1582 831h42M1584 833h38M1582 835h42M1584 837h36M1586 839h34M1588 841h30M1596 843h20M1596 1045h8M1598 1135h12M1598 1137h10"/>
<path stroke="#960000" d="M1610 521h18M1606 523h26M1604 525h30M1604 527h30M1606 529h26M1608 531h20M1592 815h22M1590 817h26M1586 819h34M1584 821h38M1582 823h40M1584 825h38M1582 827h42M1584 829h40M1582 831h42M1584 833h38M1582 835h42M1584 837h36M1586 839h34M1588 841h30M1596 843h20"/>
<path stroke="#c00060" d="M1614 521h10M1608 523h22M1606 525h26M1606 527h26M1608 529h22M1620 531h2M1594 815h20M1590 817h26M1586 819h34M1584 821h36M1584 823h38M1584 825h38M1584 827h40M1584 829h38M1582 831h42M1584 833h38M1582 835h42M1586 837h34M1586 839h34M1588 841h30M1600 843h12"/>
<path stroke="#d80098" d="M1610 523h18M1608 525h22M1608 527h22M1610 529h18M1594 817h18M1590 819h28M1588 821h32M1586 823h34M1586 825h34M1584 827h38M1586 829h34M1584 831h38M1586 833h34M1584 835h36M1588 837h30M1588 839h30M1592 841h22"/>
<path stroke="#e800e8" d="M1614 523h10M1610 525h18M1610 527h18M1612 529h12M1604 817h4M1594 819h24M1590 821h30M1588 823h30M1588 825h30M1586 827h34M1588 829h30M1586 831h34M1588 833h30M1586 835h32M1590 837h26M1592 839h22"/>
<path stroke="#cc00cc" d="M1614 525h10M1614 527h10M1600 819h18M1594 821h26M1590 823h24M1590 825h26M1590 827h26M1590 829h26M1588 831h30M1590 833h26M1590 835h26M1592 837h22"/>
<path stroke="#b000b0" d="M1606 819h12M1602 821h18M1594 823h18M1592 825h20M1592 827h22M1592 829h22M1592 831h22M1594 833h18M1594 835h18"/>
<path stroke="#960096" d="M1606 819h12M1604 821h16M1598 825h10M1596 827h14M1596 829h14M1596 831h14M1598 833h10"/>
<path stroke="#ffffff" d="M1606 819h12M1604 821h16"/>
<path stroke="#def4ea" d="M1606 821h12"/>
</g></g>
<g clip-path="url(#ct)">
<path d="M20,115.5H1569M20,167.5H1569" stroke="#fff" stroke-width="1.6" fill="none"/>
</g>
<text filter="url(#nf)" class="s" x="21" y="88" font-size="23" fill="#fff" transform="translate(21,0) scale(1.08,1) translate(-21,0)">15 km</text>
<text filter="url(#nf)" class="s" x="21" y="139" font-size="23" fill="#fff" transform="translate(21,0) scale(1.08,1) translate(-21,0)">10 km</text>
<text filter="url(#nf)" class="s" x="21" y="190" font-size="23" fill="#fff" transform="translate(21,0) scale(1.08,1) translate(-21,0)">5 km</text>
<path d="M1620.5,221V1759M1670.5,221V1759" stroke="#fff" stroke-width="1.6" fill="none"/>
<text filter="url(#nf)" class="s" font-size="23" fill="#fff" transform="translate(1597,224) rotate(90) scale(1.08,1)">5 km</text>
<text filter="url(#nf)" class="s" font-size="23" fill="#fff" transform="translate(1647,224) rotate(90) scale(1.08,1)">10 km</text>
<text filter="url(#nf)" class="s" font-size="23" fill="#fff" transform="translate(1698,224) rotate(90) scale(1.08,1)">15 km</text>
<g clip-path="url(#cm)">
<g fill="none" stroke-width="2.15" shape-rendering="crispEdges">
<path stroke="#3e6496" d="M794 791h4M822 791h2M794 793h8M824 793h2M794 795h6M826 795h2M796 797h2M824 797h2M800 805h2M804 805h2M800 807h6M800 809h6M772 811h2M802 811h2M806 811h2M820 811h2M828 811h2M768 813h16M794 813h2M804 813h2M766 815h2M770 815h4M782 815h4M792 815h2M830 815h4M764 817h6M784 817h2M762 819h2M766 819h2M776 819h2M784 819h4M790 819h4M796 819h2M802 819h2M806 819h4M824 819h2M828 819h2M882 819h2M762 821h4M786 821h12M818 821h10M762 823h2M766 823h2M784 823h10M796 823h2M818 823h12M774 825h2M782 825h2M786 825h8M820 825h4M826 825h4M762 827h2M780 827h2M784 827h8M802 827h2M828 827h2M768 829h4M774 829h2M778 829h12M866 829h2M784 831h4M768 833h2M784 833h6M814 833h14M830 833h8M770 835h4M784 835h2M788 835h4M794 835h6M806 835h2M814 835h26M872 835h4M772 837h2M788 837h6M796 837h6M808 837h2M812 837h4M818 837h10M830 837h2M834 837h2M838 837h4M846 837h2M872 837h2M880 837h4M770 839h6M784 839h10M796 839h4M808 839h8M820 839h10M838 839h4M846 839h2M858 839h4M872 839h2M878 839h4M768 841h6M786 841h12M806 841h10M824 841h2M838 841h2M858 841h4M882 841h2M750 843h4M786 843h8M796 843h2M800 843h2M804 843h12M818 843h2M826 843h2M840 843h4M858 843h10M740 845h2M752 845h2M756 845h2M760 845h4M786 845h2M792 845h2M796 845h12M810 845h10M828 845h2M832 845h2M840 845h6M868 845h4M882 845h2M740 847h8M750 847h2M754 847h10M782 847h4M796 847h14M812 847h4M828 847h8M838 847h6M862 847h2M870 847h4M884 847h2M740 849h10M756 849h6M794 849h2M798 849h10M810 849h6M828 849h16M866 849h8M742 851h4M756 851h2M776 851h2M794 851h22M828 851h14M856 851h4M866 851h6M740 853h6M752 853h2M756 853h2M782 853h2M790 853h16M808 853h8M818 853h2M824 853h2M828 853h14M866 853h4M740 855h4M778 855h26M808 855h12M826 855h2M830 855h12M850 855h2M858 855h2M864 855h2M868 855h2M738 857h6M766 857h2M774 857h32M808 857h10M828 857h2M832 857h10M844 857h2M856 857h2M872 857h2M888 857h6M738 859h6M766 859h2M770 859h2M774 859h30M808 859h6M818 859h2M828 859h2M834 859h8M854 859h2M858 859h2M862 859h2M870 859h2M874 859h2M888 859h6M742 861h2M748 861h2M776 861h26M808 861h6M816 861h2M820 861h4M830 861h10M854 861h2M858 861h8M870 861h12M884 861h10M778 863h22M808 863h32M852 863h2M856 863h10M872 863h20M776 865h10M788 865h14M808 865h2M812 865h28M854 865h14M870 865h4M882 865h12M774 867h6M782 867h18M802 867h2M808 867h4M814 867h26M846 867h4M852 867h18M872 867h2M884 867h2M888 867h4M714 869h2M760 869h2M772 869h6M780 869h18M800 869h12M814 869h10M828 869h16M846 869h24M882 869h6M892 869h2M716 871h2M720 871h6M748 871h2M754 871h12M772 871h26M812 871h14M828 871h4M834 871h2M838 871h2M842 871h4M848 871h2M852 871h20M876 871h2M880 871h6M892 871h2M714 873h2M718 873h6M748 873h2M760 873h8M772 873h24M802 873h2M810 873h20M832 873h2M838 873h4M844 873h4M850 873h2M854 873h18M880 873h6M708 875h4M722 875h2M728 875h8M738 875h2M746 875h4M760 875h2M764 875h6M772 875h2M776 875h18M800 875h4M810 875h8M820 875h10M832 875h2M838 875h8M848 875h2M854 875h18M874 875h4M880 875h6M902 875h2M706 877h4M728 877h14M744 877h8M756 877h2M760 877h12M774 877h6M784 877h10M800 877h6M808 877h34M852 877h12M866 877h4M872 877h2M876 877h8M886 877h2M902 877h2M708 879h2M734 879h8M744 879h8M758 879h2M764 879h30M800 879h4M806 879h30M838 879h2M852 879h10M868 879h2M872 879h10M886 879h2M894 879h2M904 879h4M724 881h2M734 881h10M746 881h4M766 881h28M798 881h6M808 881h2M812 881h26M850 881h10M866 881h16M894 881h2M692 883h2M736 883h6M754 883h2M758 883h2M764 883h6M772 883h24M798 883h6M816 883h10M830 883h10M848 883h2M852 883h10M864 883h20M886 883h2M754 885h6M762 885h2M766 885h4M772 885h8M782 885h14M798 885h6M818 885h18M844 885h4M850 885h2M854 885h2M858 885h14M876 885h10M744 887h2M750 887h4M756 887h2M764 887h14M782 887h2M790 887h14M806 887h8M818 887h18M844 887h2M848 887h2M852 887h2M860 887h10M876 887h10M892 887h4M752 889h6M760 889h2M766 889h12M780 889h4M790 889h6M798 889h18M818 889h18M846 889h2M854 889h16M876 889h12M890 889h8M754 891h22M778 891h8M790 891h26M818 891h16M836 891h2M852 891h18M876 891h10M888 891h8M706 893h2M710 893h2M732 893h2M754 893h32M790 893h8M800 893h32M834 893h4M856 893h2M860 893h12M874 893h20M710 895h4M732 895h2M740 895h2M754 895h18M774 895h2M780 895h14M802 895h36M856 895h24M884 895h10M754 897h14M780 897h16M804 897h18M824 897h20M858 897h6M866 897h14M882 897h16M906 897h4M736 899h2M758 899h8M774 899h2M778 899h20M804 899h16M826 899h6M836 899h8M846 899h2M850 899h2M860 899h22M884 899h12M726 901h2M736 901h4M758 901h6M766 901h2M770 901h26M798 901h2M802 901h22M828 901h2M838 901h2M842 901h4M848 901h2M852 901h2M858 901h2M862 901h12M876 901h18M726 903h4M736 903h6M744 903h2M758 903h40M800 903h2M804 903h22M844 903h8M856 903h6M870 903h2M874 903h10M886 903h2M912 903h4M712 905h2M726 905h4M732 905h12M746 905h2M762 905h22M786 905h38M830 905h2M840 905h2M846 905h20M884 905h4M912 905h4M690 907h2M700 907h2M710 907h2M714 907h2M724 907h20M748 907h2M752 907h2M756 907h2M760 907h76M838 907h4M844 907h12M864 907h2M876 907h2M882 907h2M910 907h2M690 909h6M702 909h2M712 909h2M724 909h132M862 909h4M872 909h2M876 909h6M884 909h2M898 909h2M908 909h6M690 911h2M696 911h2M700 911h2M722 911h48M776 911h60M842 911h16M862 911h10M874 911h2M878 911h2M882 911h8M724 913h4M734 913h38M778 913h56M836 913h22M862 913h12M880 913h10M896 913h4M914 913h2M722 915h4M734 915h14M754 915h48M804 915h4M810 915h42M854 915h4M862 915h10M888 915h14M924 915h4M704 917h2M720 917h4M734 917h16M756 917h44M802 917h48M852 917h6M862 917h6M872 917h2M876 917h2M896 917h2M912 917h2M920 917h6M716 919h8M734 919h8M744 919h8M754 919h26M782 919h18M802 919h14M822 919h26M850 919h6M858 919h12M872 919h10M886 919h2M892 919h4M918 919h8M716 921h6M730 921h8M742 921h38M784 921h16M804 921h10M820 921h6M828 921h50M880 921h2M888 921h2M894 921h6M918 921h2M922 921h6M700 923h2M720 923h20M742 923h38M782 923h44M828 923h54M892 923h8M902 923h2M912 923h2M698 925h2M722 925h30M754 925h52M808 925h32M846 925h32M882 925h2M886 925h2M892 925h12M696 927h2M700 927h2M712 927h6M724 927h10M738 927h10M750 927h14M766 927h14M782 927h52M836 927h4M844 927h14M860 927h8M870 927h6M884 927h6M892 927h14M728 929h2M740 929h4M746 929h2M750 929h6M760 929h26M788 929h52M846 929h2M850 929h6M862 929h6M872 929h2M882 929h16M712 931h12M742 931h4M750 931h6M760 931h12M774 931h14M790 931h50M842 931h2M846 931h8M856 931h2M864 931h4M874 931h2M884 931h6M892 931h4M904 931h2M930 931h4M630 933h10M652 933h6M662 933h2M666 933h4M672 933h20M698 933h2M704 933h2M708 933h46M760 933h74M836 933h24M862 933h46M910 933h12M930 933h6M938 933h2M620 935h2M632 935h16M650 935h16M668 935h2M672 935h26M712 935h44M760 935h102M864 935h30M896 935h2M904 935h6M912 935h10M932 935h2M618 937h2M638 937h12M652 937h48M712 937h44M760 937h74M836 937h48M890 937h10M902 937h6M910 937h12M934 937h2M626 939h8M636 939h64M706 939h52M760 939h20M782 939h2M786 939h48M838 939h28M870 939h2M874 939h8M888 939h10M900 939h10M912 939h4M918 939h4M582 941h2M638 941h2M642 941h6M654 941h2M658 941h42M706 941h74M784 941h50M836 941h22M860 941h24M888 941h12M902 941h8M916 941h6M570 943h4M594 943h2M614 943h2M634 943h6M642 943h8M652 943h18M672 943h20M694 943h6M702 943h46M750 943h48M802 943h70M874 943h12M892 943h6M900 943h10M916 943h4M570 945h4M588 945h2M592 945h2M614 945h10M636 945h2M644 945h4M650 945h18M670 945h76M748 945h98M848 945h48M914 945h8M934 945h2M948 945h4M570 947h2M586 947h6M594 947h2M612 947h14M634 947h2M638 947h2M650 947h6M658 947h10M672 947h24M704 947h2M708 947h8M720 947h82M804 947h90M900 947h4M918 947h8M930 947h2M940 947h2M588 949h2M614 949h10M626 949h2M636 949h2M650 949h4M656 949h12M670 949h2M676 949h20M706 949h12M722 949h88M814 949h34M852 949h22M876 949h20M900 949h6M916 949h2M920 949h10M932 949h2M938 949h10M588 951h2M616 951h6M652 951h22M678 951h24M704 951h2M708 951h12M724 951h52M780 951h22M804 951h8M814 951h36M852 951h20M878 951h18M898 951h14M930 951h2M936 951h10M952 951h2M588 953h2M616 953h6M652 953h2M656 953h2M660 953h4M666 953h8M676 953h100M778 953h64M846 953h4M854 953h16M872 953h4M878 953h32M912 953h2M940 953h6M952 953h2M616 955h2M620 955h2M630 955h6M648 955h2M652 955h4M660 955h2M664 955h10M676 955h34M714 955h62M778 955h64M848 955h2M852 955h20M884 955h10M898 955h10M910 955h8M940 955h4M970 955h2M582 957h2M602 957h2M606 957h2M616 957h8M630 957h12M644 957h2M664 957h10M676 957h146M824 957h50M888 957h4M900 957h6M912 957h6M920 957h4M970 957h2M600 959h2M604 959h2M608 959h2M614 959h12M632 959h4M642 959h2M664 959h16M682 959h190M874 959h2M896 959h2M900 959h8M916 959h2M920 959h2M968 959h6M602 961h6M610 961h2M620 961h2M636 961h2M644 961h2M656 961h2M662 961h8M672 961h70M744 961h112M858 961h12M872 961h2M880 961h2M884 961h2M894 961h2M898 961h10M914 961h2M942 961h2M946 961h2M970 961h2M578 963h2M600 963h2M604 963h4M610 963h2M632 963h2M658 963h2M664 963h46M712 963h12M726 963h44M772 963h48M822 963h72M896 963h10M908 963h2M912 963h2M920 963h2M928 963h2M942 963h6M970 963h2M578 965h2M598 965h16M622 965h2M630 965h6M648 965h2M652 965h2M656 965h2M666 965h12M680 965h30M712 965h34M748 965h160M910 965h2M914 965h16M938 965h8M950 965h2M592 967h2M604 967h12M620 967h6M632 967h6M642 967h8M654 967h2M664 967h12M680 967h10M692 967h82M778 967h48M828 967h32M868 967h16M886 967h10M898 967h6M908 967h2M916 967h2M920 967h2M924 967h2M928 967h2M938 967h6M952 967h4M606 969h6M620 969h4M634 969h2M642 969h8M664 969h14M680 969h28M712 969h12M726 969h50M778 969h46M826 969h34M866 969h28M906 969h4M926 969h4M940 969h2M952 969h2M608 971h2M622 971h4M628 971h2M632 971h2M638 971h2M642 971h16M666 971h42M712 971h12M728 971h98M828 971h32M864 971h26M892 971h2M902 971h8M916 971h2M920 971h12M954 971h2M966 971h4M626 973h2M630 973h2M636 973h6M648 973h62M712 973h2M720 973h78M800 973h66M868 973h20M900 973h20M922 973h8M938 973h2M942 973h2M954 973h2M588 975h2M628 975h2M632 975h2M636 975h6M648 975h2M652 975h10M664 975h22M688 975h4M694 975h22M718 975h2M722 975h132M856 975h4M862 975h4M870 975h16M888 975h2M898 975h8M908 975h2M916 975h2M924 975h8M940 975h6M954 975h4M626 977h16M646 977h38M688 977h2M692 977h34M728 977h128M860 977h8M870 977h2M874 977h20M898 977h6M910 977h6M938 977h2M942 977h4M954 977h2M626 979h8M636 979h10M648 979h30M690 979h46M740 979h34M776 979h90M876 979h28M908 979h2M628 981h18M652 981h24M680 981h4M688 981h50M740 981h128M870 981h2M874 981h28M954 981h2M960 981h2M632 983h10M644 983h4M656 983h22M680 983h4M688 983h8M700 983h202M904 983h8M942 983h2M946 983h4M952 983h6M962 983h2M630 985h8M644 985h6M656 985h36M694 985h2M700 985h58M760 985h36M798 985h2M802 985h6M810 985h90M904 985h10M948 985h2M952 985h6M960 985h2M964 985h4M620 987h2M624 987h2M628 987h10M646 987h2M654 987h34M690 987h6M698 987h10M710 987h68M780 987h6M788 987h10M804 987h30M840 987h20M862 987h6M870 987h14M888 987h12M904 987h12M948 987h4M954 987h2M962 987h6M620 989h4M628 989h10M646 989h4M652 989h36M690 989h16M708 989h2M712 989h84M798 989h2M802 989h34M840 989h22M864 989h2M872 989h10M884 989h2M890 989h30M922 989h2M928 989h2M950 989h4M966 989h4M580 991h2M630 991h8M642 991h18M664 991h20M688 991h2M692 991h4M698 991h6M706 991h2M710 991h30M742 991h110M854 991h10M870 991h14M890 991h38M930 991h6M966 991h2M578 993h2M594 993h4M604 993h2M640 993h4M646 993h14M666 993h18M692 993h48M742 993h58M802 993h64M868 993h18M888 993h26M918 993h16M936 993h2M952 993h2M966 993h4M576 995h2M592 995h6M640 995h2M644 995h2M652 995h14M668 995h20M692 995h22M716 995h2M720 995h78M800 995h98M900 995h12M916 995h20M938 995h2M944 995h10M966 995h4M996 995h2M598 997h2M606 997h4M638 997h6M654 997h12M670 997h22M694 997h12M708 997h188M902 997h24M930 997h4M936 997h2M940 997h2M946 997h10M972 997h2M994 997h2M598 999h2M606 999h6M636 999h6M644 999h2M654 999h12M670 999h6M678 999h16M696 999h8M706 999h188M896 999h2M900 999h2M904 999h16M922 999h2M932 999h4M938 999h2M946 999h10M992 999h4M606 1001h8M632 1001h8M642 1001h6M652 1001h14M668 1001h122M792 1001h126M936 1001h2M948 1001h6M1004 1001h2M572 1003h2M594 1003h2M598 1003h6M606 1003h10M618 1003h2M626 1003h2M630 1003h36M668 1003h8M678 1003h14M694 1003h18M714 1003h168M884 1003h6M892 1003h14M908 1003h2M912 1003h2M948 1003h6M980 1003h2M570 1005h6M594 1005h2M600 1005h14M620 1005h2M624 1005h52M680 1005h68M750 1005h132M884 1005h4M892 1005h12M914 1005h4M920 1005h2M948 1005h2M974 1005h2M978 1005h2M572 1007h4M584 1007h4M592 1007h4M602 1007h10M618 1007h6M626 1007h2M630 1007h26M658 1007h16M676 1007h2M680 1007h8M690 1007h12M704 1007h2M708 1007h140M850 1007h54M912 1007h10M924 1007h2M928 1007h2M946 1007h2M956 1007h4M972 1007h2M976 1007h2M980 1007h2M570 1009h2M576 1009h2M586 1009h4M592 1009h2M604 1009h2M624 1009h30M660 1009h2M664 1009h22M690 1009h12M706 1009h2M710 1009h136M848 1009h18M868 1009h36M908 1009h2M916 1009h8M926 1009h2M930 1009h2M934 1009h2M956 1009h2M960 1009h2M1002 1009h2M576 1011h2M588 1011h2M624 1011h20M648 1011h4M658 1011h2M664 1011h24M690 1011h12M704 1011h2M708 1011h52M762 1011h2M766 1011h110M878 1011h10M890 1011h6M898 1011h8M910 1011h6M918 1011h2M924 1011h2M928 1011h6M936 1011h4M946 1011h4M956 1011h2M960 1011h2M592 1013h2M606 1013h6M620 1013h22M648 1013h4M660 1013h2M664 1013h2M668 1013h2M672 1013h14M690 1013h10M702 1013h58M764 1013h114M880 1013h6M892 1013h8M902 1013h8M912 1013h6M922 1013h2M926 1013h2M930 1013h6M940 1013h2M944 1013h10M958 1013h6M588 1015h2M600 1015h2M606 1015h8M622 1015h10M634 1015h2M638 1015h2M650 1015h2M666 1015h20M690 1015h72M764 1015h76M842 1015h42M886 1015h2M890 1015h10M904 1015h12M924 1015h12M942 1015h2M946 1015h6M958 1015h8M598 1017h2M606 1017h8M620 1017h2M626 1017h2M656 1017h2M666 1017h20M690 1017h146M840 1017h28M870 1017h2M874 1017h10M890 1017h12M906 1017h10M922 1017h2M926 1017h2M930 1017h8M946 1017h2M950 1017h2M958 1017h6M594 1019h2M608 1019h6M616 1019h4M654 1019h4M662 1019h2M666 1019h18M690 1019h154M846 1019h44M892 1019h22M932 1019h4M948 1019h2M952 1019h2M956 1019h12M574 1021h2M594 1021h2M606 1021h6M616 1021h2M650 1021h12M664 1021h6M672 1021h12M686 1021h26M714 1021h42M758 1021h4M766 1021h102M870 1021h42M922 1021h2M926 1021h2M932 1021h2M946 1021h16M964 1021h4M588 1023h2M592 1023h4M606 1023h4M612 1023h4M652 1023h16M674 1023h8M684 1023h24M712 1023h50M766 1023h28M796 1023h10M808 1023h106M922 1023h2M934 1023h4M948 1023h12M978 1023h2M582 1025h2M586 1025h6M598 1025h2M606 1025h2M614 1025h2M646 1025h2M650 1025h18M674 1025h6M682 1025h30M716 1025h70M788 1025h128M930 1025h8M950 1025h8M978 1025h2M982 1025h2M580 1027h6M590 1027h2M608 1027h2M620 1027h2M626 1027h2M638 1027h24M664 1027h2M674 1027h4M684 1027h26M718 1027h14M734 1027h8M746 1027h84M832 1027h84M926 1027h4M932 1027h6M952 1027h2M956 1027h2M580 1029h2M594 1029h2M606 1029h2M616 1029h4M622 1029h2M626 1029h2M642 1029h26M672 1029h2M676 1029h2M682 1029h16M700 1029h8M710 1029h2M716 1029h114M832 1029h78M912 1029h4M920 1029h2M930 1029h2M576 1031h4M602 1031h2M614 1031h8M644 1031h12M658 1031h10M684 1031h14M700 1031h10M712 1031h88M802 1031h78M882 1031h28M914 1031h2M920 1031h2M934 1031h2M948 1031h2M576 1033h4M608 1033h2M614 1033h6M642 1033h28M676 1033h2M686 1033h12M702 1033h6M710 1033h28M742 1033h40M784 1033h96M884 1033h8M894 1033h8M904 1033h2M908 1033h2M920 1033h6M934 1033h4M968 1033h2M588 1035h8M602 1035h4M610 1035h2M614 1035h6M642 1035h22M666 1035h4M674 1035h4M684 1035h2M688 1035h10M702 1035h20M724 1035h28M756 1035h28M786 1035h6M798 1035h60M860 1035h18M882 1035h30M920 1035h4M942 1035h2M966 1035h2M588 1037h2M604 1037h2M612 1037h2M616 1037h4M626 1037h4M644 1037h2M656 1037h14M674 1037h12M690 1037h10M702 1037h48M754 1037h36M798 1037h56M862 1037h16M882 1037h26M910 1037h2M916 1037h2M944 1037h2M948 1037h2M592 1039h2M596 1039h2M614 1039h8M626 1039h2M642 1039h2M656 1039h28M686 1039h2M690 1039h60M754 1039h36M792 1039h40M834 1039h12M848 1039h8M862 1039h4M868 1039h2M876 1039h14M892 1039h10M904 1039h2M924 1039h4M950 1039h2M956 1039h2M582 1041h2M594 1041h6M618 1041h10M640 1041h6M656 1041h34M698 1041h24M726 1041h26M754 1041h90M846 1041h12M860 1041h8M872 1041h12M888 1041h2M892 1041h12M906 1041h2M916 1041h2M920 1041h2M924 1041h2M954 1041h2M958 1041h2M570 1043h2M588 1043h2M592 1043h4M598 1043h2M620 1043h2M624 1043h4M638 1043h2M642 1043h2M646 1043h2M656 1043h6M664 1043h28M700 1043h2M704 1043h18M726 1043h116M844 1043h12M862 1043h4M874 1043h10M890 1043h16M918 1043h2M930 1043h2M952 1043h8M976 1043h6M586 1045h2M590 1045h2M614 1045h4M626 1045h2M640 1045h4M656 1045h24M682 1045h10M698 1045h26M728 1045h28M758 1045h2M762 1045h52M816 1045h2M820 1045h44M870 1045h12M892 1045h12M916 1045h6M930 1045h4M944 1045h2M954 1045h4M978 1045h4M588 1047h2M610 1047h8M630 1047h2M640 1047h2M656 1047h28M686 1047h6M700 1047h2M706 1047h4M712 1047h10M726 1047h32M764 1047h56M822 1047h44M868 1047h4M874 1047h6M892 1047h6M900 1047h6M910 1047h6M918 1047h4M932 1047h6M942 1047h6M614 1049h6M626 1049h14M650 1049h2M656 1049h38M698 1049h8M710 1049h28M742 1049h12M756 1049h4M762 1049h62M826 1049h10M838 1049h6M854 1049h12M868 1049h14M892 1049h4M902 1049h2M906 1049h10M920 1049h2M932 1049h14M968 1049h2M616 1051h2M620 1051h2M624 1051h6M632 1051h18M658 1051h16M676 1051h16M696 1051h8M706 1051h6M714 1051h38M754 1051h6M762 1051h20M784 1051h42M828 1051h10M840 1051h6M848 1051h38M888 1051h8M912 1051h2M918 1051h6M936 1051h2M940 1051h2M944 1051h4M974 1051h2M632 1053h70M712 1053h66M782 1053h46M830 1053h2M834 1053h12M850 1053h44M902 1053h2M912 1053h4M918 1053h6M976 1053h2M994 1053h2M608 1055h6M616 1055h4M634 1055h4M640 1055h26M670 1055h2M676 1055h26M708 1055h2M714 1055h56M772 1055h4M778 1055h4M784 1055h62M848 1055h2M852 1055h36M904 1055h2M912 1055h2M920 1055h4M936 1055h2M976 1055h2M614 1057h12M634 1057h14M650 1057h14M666 1057h2M670 1057h2M674 1057h102M778 1057h2M782 1057h84M868 1057h4M874 1057h14M892 1057h2M896 1057h2M910 1057h6M922 1057h2M590 1059h2M594 1059h2M616 1059h6M624 1059h2M634 1059h4M642 1059h4M652 1059h4M658 1059h6M670 1059h6M684 1059h18M704 1059h14M722 1059h2M726 1059h44M772 1059h2M776 1059h32M814 1059h50M868 1059h32M910 1059h4M920 1059h2M588 1061h6M608 1061h2M614 1061h10M626 1061h2M632 1061h4M642 1061h2M652 1061h4M666 1061h2M672 1061h2M682 1061h16M702 1061h38M742 1061h10M754 1061h14M772 1061h38M816 1061h72M890 1061h10M910 1061h4M920 1061h2M936 1061h2M590 1063h2M608 1063h2M614 1063h20M640 1063h6M672 1063h4M678 1063h2M682 1063h18M702 1063h22M726 1063h26M754 1063h8M766 1063h2M772 1063h38M816 1063h22M842 1063h28M874 1063h16M896 1063h6M910 1063h4M920 1063h12M612 1065h2M616 1065h2M622 1065h8M640 1065h8M670 1065h4M676 1065h2M680 1065h18M700 1065h24M726 1065h24M754 1065h10M772 1065h2M776 1065h62M840 1065h30M874 1065h10M894 1065h12M912 1065h2M924 1065h2M928 1065h4M936 1065h2M960 1065h2M596 1067h4M610 1067h4M618 1067h10M640 1067h4M666 1067h34M706 1067h16M724 1067h6M732 1067h20M756 1067h16M774 1067h66M842 1067h28M876 1067h2M892 1067h2M896 1067h12M910 1067h2M922 1067h2M926 1067h4M936 1067h2M960 1067h2M980 1067h2M570 1069h2M594 1069h6M618 1069h2M622 1069h6M636 1069h2M640 1069h2M656 1069h4M662 1069h2M666 1069h10M678 1069h26M706 1069h14M722 1069h4M728 1069h2M732 1069h18M756 1069h42M802 1069h40M848 1069h22M872 1069h4M886 1069h6M898 1069h14M924 1069h2M960 1069h4M974 1069h2M594 1071h4M622 1071h8M634 1071h6M654 1071h8M664 1071h2M668 1071h6M680 1071h6M694 1071h12M708 1071h6M716 1071h26M744 1071h18M764 1071h6M772 1071h18M792 1071h8M802 1071h14M818 1071h24M850 1071h24M886 1071h6M900 1071h16M958 1071h6M968 1071h2M584 1073h2M594 1073h4M628 1073h2M632 1073h10M652 1073h2M656 1073h22M680 1073h8M690 1073h2M694 1073h6M702 1073h24M728 1073h36M768 1073h24M794 1073h78M878 1073h8M888 1073h2M902 1073h14M942 1073h4M638 1075h2M642 1075h4M648 1075h4M654 1075h2M658 1075h8M670 1075h10M682 1075h16M700 1075h2M706 1075h84M792 1075h28M822 1075h48M876 1075h12M892 1075h2M908 1075h2M944 1075h2M958 1075h2M648 1077h2M656 1077h2M670 1077h8M680 1077h22M708 1077h82M794 1077h74M878 1077h8M912 1077h2M916 1077h2M920 1077h2M956 1077h6M586 1079h2M594 1079h2M612 1079h2M616 1079h2M648 1079h2M654 1079h2M672 1079h30M706 1079h12M720 1079h4M728 1079h2M734 1079h24M760 1079h30M792 1079h74M868 1079h2M878 1079h8M918 1079h2M936 1079h2M958 1079h4M586 1081h2M596 1081h2M628 1081h2M648 1081h4M668 1081h4M674 1081h14M690 1081h16M708 1081h12M736 1081h10M748 1081h4M758 1081h88M854 1081h6M862 1081h6M870 1081h4M876 1081h14M920 1081h2M934 1081h2M962 1081h2M598 1083h4M626 1083h2M648 1083h6M666 1083h10M678 1083h2M682 1083h6M690 1083h12M704 1083h22M728 1083h4M734 1083h20M758 1083h10M772 1083h6M780 1083h12M796 1083h28M828 1083h18M862 1083h6M870 1083h2M874 1083h18M930 1083h2M938 1083h2M964 1083h2M980 1083h2M598 1085h4M636 1085h2M652 1085h6M668 1085h8M680 1085h20M710 1085h20M736 1085h18M758 1085h36M798 1085h26M832 1085h14M858 1085h2M862 1085h4M872 1085h2M876 1085h8M890 1085h2M896 1085h2M918 1085h2M930 1085h2M964 1085h4M982 1085h2M580 1087h2M598 1087h4M654 1087h4M672 1087h2M680 1087h16M710 1087h20M734 1087h44M782 1087h12M796 1087h26M836 1087h8M858 1087h8M878 1087h4M888 1087h6M918 1087h2M928 1087h4M938 1087h2M944 1087h2M966 1087h2M638 1089h4M656 1089h4M666 1089h4M674 1089h2M680 1089h16M710 1089h20M734 1089h14M750 1089h18M772 1089h2M780 1089h2M784 1089h30M816 1089h4M836 1089h8M858 1089h2M888 1089h10M982 1089h2M632 1091h4M658 1091h10M670 1091h2M682 1091h2M688 1091h8M708 1091h12M722 1091h24M750 1091h28M782 1091h40M828 1091h6M836 1091h8M850 1091h2M858 1091h2M866 1091h6M878 1091h2M890 1091h6M610 1093h2M632 1093h2M658 1093h8M680 1093h2M688 1093h8M708 1093h8M722 1093h46M770 1093h30M802 1093h22M830 1093h10M842 1093h8M854 1093h4M864 1093h8M876 1093h6M884 1093h6M892 1093h2M902 1093h2M932 1093h2M946 1093h2M632 1095h4M642 1095h2M656 1095h6M664 1095h2M682 1095h2M690 1095h4M712 1095h4M722 1095h10M738 1095h20M760 1095h8M774 1095h24M802 1095h18M830 1095h16M848 1095h4M862 1095h14M878 1095h2M884 1095h2M900 1095h6M922 1095h2M938 1095h4M632 1097h4M640 1097h4M658 1097h8M680 1097h2M690 1097h14M710 1097h8M720 1097h12M738 1097h18M760 1097h8M774 1097h22M798 1097h2M802 1097h2M806 1097h16M830 1097h18M860 1097h18M884 1097h2M890 1097h2M902 1097h4M938 1097h6M630 1099h2M658 1099h6M666 1099h4M672 1099h2M690 1099h18M714 1099h2M718 1099h4M724 1099h6M736 1099h16M756 1099h2M760 1099h6M768 1099h2M774 1099h12M788 1099h14M804 1099h20M826 1099h2M832 1099h18M862 1099h18M886 1099h2M890 1099h4M902 1099h6M632 1101h2M656 1101h6M666 1101h6M674 1101h2M690 1101h18M710 1101h4M716 1101h2M726 1101h2M738 1101h22M762 1101h10M774 1101h48M824 1101h2M832 1101h16M866 1101h14M888 1101h2M892 1101h4M900 1101h2M904 1101h8M918 1101h2M598 1103h2M632 1103h2M650 1103h10M668 1103h6M692 1103h14M708 1103h4M714 1103h2M726 1103h6M738 1103h20M760 1103h62M832 1103h6M844 1103h6M858 1103h2M866 1103h16M892 1103h4M902 1103h12M596 1105h4M628 1105h2M652 1105h8M670 1105h10M682 1105h6M692 1105h14M712 1105h6M720 1105h16M738 1105h18M764 1105h22M790 1105h8M800 1105h6M808 1105h14M824 1105h6M834 1105h4M840 1105h22M868 1105h14M892 1105h6M910 1105h2M944 1105h4M596 1107h4M638 1107h2M642 1107h6M650 1107h10M668 1107h10M680 1107h6M696 1107h2M700 1107h4M710 1107h2M714 1107h2M718 1107h14M740 1107h16M766 1107h4M772 1107h14M792 1107h30M826 1107h4M842 1107h4M848 1107h14M870 1107h8M890 1107h8M906 1107h2M910 1107h4M636 1109h6M644 1109h2M650 1109h6M666 1109h2M682 1109h4M692 1109h2M700 1109h2M704 1109h2M708 1109h6M716 1109h2M720 1109h2M724 1109h12M738 1109h8M748 1109h8M760 1109h2M764 1109h2M768 1109h20M790 1109h2M794 1109h4M800 1109h8M810 1109h8M820 1109h2M828 1109h2M850 1109h12M868 1109h8M878 1109h2M882 1109h2M890 1109h2M908 1109h4M636 1111h6M664 1111h2M682 1111h14M708 1111h2M714 1111h2M718 1111h38M758 1111h26M792 1111h16M810 1111h2M814 1111h2M818 1111h8M830 1111h2M842 1111h4M852 1111h2M856 1111h6M866 1111h4M880 1111h6M888 1111h4M908 1111h2M634 1113h2M638 1113h2M682 1113h2M690 1113h6M700 1113h2M716 1113h68M786 1113h22M810 1113h2M820 1113h2M830 1113h4M842 1113h2M846 1113h2M850 1113h14M866 1113h6M878 1113h2M882 1113h4M888 1113h2M658 1115h2M682 1115h6M692 1115h2M698 1115h2M710 1115h2M714 1115h50M768 1115h14M786 1115h4M794 1115h12M808 1115h4M818 1115h4M828 1115h6M844 1115h28M878 1115h6M886 1115h2M890 1115h2M658 1117h2M666 1117h2M690 1117h2M694 1117h2M700 1117h6M708 1117h2M712 1117h12M726 1117h2M730 1117h6M738 1117h24M764 1117h2M768 1117h14M786 1117h4M798 1117h4M818 1117h2M828 1117h8M838 1117h2M844 1117h20M866 1117h2M870 1117h2M880 1117h2M884 1117h2M888 1117h2M898 1117h2M644 1119h2M684 1119h2M688 1119h2M692 1119h2M702 1119h24M728 1119h6M736 1119h24M762 1119h2M768 1119h22M798 1119h4M810 1119h2M830 1119h4M836 1119h2M840 1119h2M848 1119h18M878 1119h10M890 1119h2M646 1121h2M686 1121h2M690 1121h2M700 1121h18M730 1121h2M734 1121h32M772 1121h14M790 1121h2M808 1121h2M812 1121h2M818 1121h4M824 1121h2M832 1121h4M838 1121h4M844 1121h18M866 1121h2M880 1121h6M888 1121h2M920 1121h2M644 1123h2M648 1123h2M668 1123h2M674 1123h2M684 1123h2M688 1123h6M700 1123h20M726 1123h38M766 1123h2M776 1123h8M794 1123h6M804 1123h2M808 1123h2M812 1123h16M830 1123h2M844 1123h16M864 1123h6M880 1123h2M890 1123h6M646 1125h2M652 1125h4M666 1125h4M680 1125h2M684 1125h12M702 1125h16M720 1125h2M724 1125h8M734 1125h32M774 1125h4M784 1125h2M794 1125h4M804 1125h4M812 1125h14M836 1125h2M842 1125h26M888 1125h6M914 1125h2M648 1127h2M652 1127h2M670 1127h2M684 1127h6M704 1127h12M720 1127h46M772 1127h2M776 1127h2M794 1127h10M808 1127h4M814 1127h12M838 1127h2M842 1127h4M852 1127h16M888 1127h4M626 1129h2M652 1129h2M686 1129h2M704 1129h12M720 1129h10M736 1129h30M770 1129h4M778 1129h2M792 1129h2M798 1129h4M808 1129h16M842 1129h2M854 1129h16M880 1129h2M678 1131h4M686 1131h2M692 1131h2M708 1131h4M718 1131h12M736 1131h36M788 1131h4M800 1131h2M810 1131h6M818 1131h2M854 1131h6M862 1131h8M880 1131h2M896 1131h6M652 1133h4M678 1133h6M708 1133h2M718 1133h16M738 1133h12M752 1133h6M760 1133h4M766 1133h8M790 1133h2M808 1133h2M812 1133h4M832 1133h2M852 1133h6M896 1133h8M652 1135h2M656 1135h2M678 1135h2M708 1135h4M718 1135h16M738 1135h14M754 1135h2M758 1135h4M764 1135h2M770 1135h2M788 1135h2M814 1135h4M820 1135h4M830 1135h8M854 1135h2M862 1135h2M866 1135h2M874 1135h2M898 1135h8M654 1137h4M722 1137h10M740 1137h10M752 1137h2M756 1137h12M770 1137h2M788 1137h2M800 1137h2M814 1137h4M820 1137h2M872 1137h6M884 1137h2M902 1137h2M654 1139h2M698 1139h4M722 1139h8M742 1139h10M760 1139h2M764 1139h2M768 1139h2M776 1139h2M786 1139h6M798 1139h4M810 1139h2M816 1139h2M820 1139h6M874 1139h6M694 1141h2M698 1141h4M724 1141h8M740 1141h12M760 1141h8M776 1141h4M782 1141h8M792 1141h6M818 1141h10M834 1141h2M860 1141h4M874 1141h4M912 1141h2M696 1143h8M722 1143h12M738 1143h14M758 1143h12M774 1143h18M794 1143h2M798 1143h2M820 1143h8M832 1143h6M862 1143h2M910 1143h2M680 1145h4M694 1145h2M698 1145h4M720 1145h12M734 1145h2M740 1145h12M756 1145h8M766 1145h4M774 1145h2M782 1145h6M790 1145h10M822 1145h8M832 1145h8M862 1145h2M866 1145h4M882 1145h2M908 1145h6M676 1147h2M680 1147h6M698 1147h6M710 1147h4M722 1147h6M742 1147h20M764 1147h2M768 1147h4M792 1147h8M824 1147h12M860 1147h2M864 1147h2M868 1147h2M894 1147h2M680 1149h4M700 1149h6M712 1149h2M722 1149h6M746 1149h4M754 1149h6M790 1149h8M800 1149h2M824 1149h6M832 1149h2M860 1149h4M866 1149h2M618 1151h2M688 1151h4M698 1151h10M710 1151h2M718 1151h2M722 1151h8M794 1151h2M822 1151h6M850 1151h2M860 1151h2M864 1151h2M618 1153h2M688 1153h4M698 1153h4M704 1153h6M712 1153h6M722 1153h2M726 1153h2M760 1153h2M774 1153h4M790 1153h8M822 1153h2M826 1153h2M850 1153h2M870 1153h2M654 1155h2M690 1155h2M696 1155h4M706 1155h2M710 1155h2M714 1155h4M728 1155h2M760 1155h2M774 1155h4M790 1155h2M794 1155h2M798 1155h2M870 1155h2M654 1157h4M686 1157h2M698 1157h2M708 1157h2M712 1157h8M728 1157h6M740 1157h2M744 1157h4M754 1157h6M780 1157h2M796 1157h2M828 1157h2M872 1157h2M686 1159h2M694 1159h4M714 1159h6M728 1159h2M742 1159h2M746 1159h2M756 1159h2M798 1159h2M824 1159h4M842 1159h2M872 1159h8M694 1161h2M708 1161h2M716 1161h2M740 1161h2M744 1161h2M754 1161h2M758 1161h2M798 1161h2M824 1161h6M840 1161h2M870 1161h8M668 1163h2M690 1163h2M696 1163h2M706 1163h6M738 1163h4M772 1163h4M792 1163h2M798 1163h2M826 1163h4M868 1163h2M874 1163h4M708 1165h2M716 1165h2M726 1165h2M738 1165h4M770 1165h4M778 1165h2M782 1165h2M790 1165h2M826 1165h2M862 1165h2M872 1165h2M700 1167h2M704 1167h10M720 1167h4M766 1167h8M784 1167h2M820 1167h4M848 1167h2M862 1167h2M682 1169h2M702 1169h12M722 1169h2M726 1169h2M736 1169h4M766 1169h4M820 1169h4M830 1169h4M864 1169h2M670 1171h2M684 1171h6M704 1171h10M728 1171h2M732 1171h10M766 1171h6M822 1171h2M668 1173h2M684 1173h2M704 1173h10M718 1173h2M722 1173h6M730 1173h2M734 1173h2M768 1173h4M780 1173h2M832 1173h2M882 1173h2M670 1175h2M678 1175h2M684 1175h4M704 1175h6M712 1175h2M722 1175h6M766 1175h6M778 1175h2M668 1177h4M684 1177h6M704 1177h2M722 1177h6M824 1177h2M668 1179h2M690 1179h2M712 1179h4M724 1179h4M730 1179h2M794 1179h2M822 1179h4"/>
<path stroke="#3e70a0" d="M794 791h4M794 793h4M800 793h2M824 793h2M826 795h2M796 797h2M824 797h2M802 807h4M800 809h2M804 809h2M770 813h2M782 813h2M770 815h2M764 817h2M768 817h2M762 819h2M766 819h2M784 819h2M764 821h2M790 821h2M818 821h6M788 823h4M818 823h4M828 823h2M786 825h2M762 827h2M786 827h4M866 829h2M788 833h2M814 833h2M818 833h2M822 833h2M834 833h2M790 835h2M806 835h2M820 835h6M832 835h6M808 837h2M818 837h10M838 837h2M872 837h2M882 837h2M786 839h2M812 839h2M822 839h8M858 839h4M810 841h4M858 841h4M750 843h4M806 843h4M812 843h4M840 843h2M858 843h6M740 845h2M752 845h2M756 845h2M760 845h2M798 845h10M812 845h2M840 845h4M742 847h6M758 847h2M800 847h10M812 847h4M832 847h4M838 847h4M742 849h4M758 849h4M798 849h8M812 849h2M832 849h2M836 849h4M742 851h4M798 851h6M806 851h4M812 851h4M832 851h8M742 853h2M792 853h14M808 853h8M834 853h4M740 855h4M784 855h2M790 855h8M800 855h4M808 855h6M832 855h8M740 857h4M776 857h26M810 857h6M832 857h6M840 857h2M892 857h2M740 859h4M774 859h2M778 859h2M782 859h20M808 859h2M834 859h8M858 859h2M870 859h2M888 859h6M784 861h18M808 861h6M834 861h4M876 861h2M886 861h8M790 863h2M794 863h6M808 863h8M818 863h2M822 863h14M838 863h2M856 863h4M872 863h2M876 863h6M884 863h8M790 865h10M812 865h26M856 865h4M862 865h4M872 865h2M884 865h2M888 865h6M786 867h14M802 867h2M814 867h10M830 867h6M846 867h4M856 867h12M884 867h2M888 867h2M714 869h2M774 869h2M786 869h10M800 869h2M818 869h6M834 869h2M846 869h24M882 869h2M886 869h2M716 871h2M720 871h4M754 871h2M760 871h2M774 871h4M784 871h12M816 871h6M830 871h2M838 871h2M844 871h2M852 871h2M856 871h12M876 871h2M880 871h2M884 871h2M714 873h2M720 873h4M764 873h4M774 873h2M778 873h2M782 873h14M812 873h4M818 873h2M822 873h6M844 873h4M856 873h4M862 873h2M866 873h6M880 873h4M708 875h2M722 875h2M728 875h8M746 875h4M764 875h4M776 875h2M784 875h6M792 875h2M812 875h6M820 875h10M838 875h2M844 875h2M854 875h2M858 875h2M866 875h6M880 875h2M884 875h2M706 877h4M728 877h14M746 877h2M774 877h2M778 877h2M788 877h4M802 877h4M808 877h2M812 877h4M818 877h2M822 877h6M838 877h4M856 877h2M860 877h2M872 877h2M876 877h2M882 877h2M734 879h2M738 879h4M746 879h2M772 879h2M776 879h2M782 879h2M786 879h6M800 879h4M808 879h6M820 879h10M832 879h2M838 879h2M858 879h2M874 879h2M880 879h2M736 881h6M748 881h2M768 881h12M784 881h10M800 881h4M808 881h2M818 881h2M830 881h4M836 881h2M872 881h4M894 881h2M692 883h2M738 883h2M772 883h6M782 883h12M818 883h4M832 883h4M868 883h6M880 883h2M766 885h2M772 885h4M782 885h4M788 885h4M800 885h2M820 885h6M834 885h2M860 885h10M878 885h8M766 887h10M792 887h4M798 887h6M806 887h2M818 887h12M832 887h2M862 887h6M876 887h8M766 889h10M782 889h2M792 889h2M800 889h6M818 889h14M834 889h2M856 889h2M862 889h6M876 889h8M890 889h2M894 889h2M768 891h4M774 891h2M800 891h8M822 891h2M826 891h4M866 891h4M876 891h10M888 891h2M706 893h2M732 893h2M760 893h2M768 893h6M776 893h2M782 893h4M790 893h4M800 893h12M814 893h2M824 893h2M828 893h2M864 893h6M874 893h2M878 893h14M766 895h2M774 895h2M786 895h8M802 895h10M834 895h4M858 895h4M866 895h6M884 895h10M758 897h2M784 897h10M804 897h6M814 897h2M828 897h4M836 897h4M860 897h4M868 897h6M884 897h12M906 897h4M758 899h6M774 899h2M782 899h16M806 899h10M836 899h2M860 899h2M864 899h10M876 899h2M884 899h10M736 901h4M760 901h2M772 901h6M780 901h16M806 901h6M814 901h8M868 901h2M872 901h2M876 901h16M736 903h4M768 903h14M784 903h2M790 903h2M794 903h4M800 903h2M804 903h4M812 903h8M846 903h2M850 903h2M878 903h2M886 903h2M912 903h4M738 905h6M746 905h2M764 905h4M770 905h14M788 905h2M792 905h2M796 905h2M800 905h6M808 905h16M830 905h2M848 905h2M852 905h2M860 905h2M912 905h4M710 907h2M714 907h2M724 907h4M730 907h2M736 907h4M742 907h2M748 907h2M764 907h10M776 907h8M786 907h38M826 907h8M850 907h2M854 907h2M910 907h2M692 909h4M702 909h2M712 909h2M724 909h6M736 909h6M746 909h6M754 909h2M758 909h14M776 909h18M796 909h26M826 909h4M832 909h2M842 909h8M852 909h4M864 909h2M910 909h2M690 911h2M724 911h6M734 911h8M744 911h6M752 911h16M778 911h14M794 911h6M802 911h20M826 911h4M842 911h6M850 911h2M854 911h2M862 911h2M866 911h2M870 911h2M882 911h2M724 913h4M736 913h12M752 913h16M778 913h46M826 913h4M842 913h6M850 913h2M854 913h4M868 913h2M884 913h2M898 913h2M722 915h2M736 915h12M756 915h14M774 915h2M778 915h6M786 915h2M790 915h8M800 915h2M804 915h4M810 915h22M834 915h2M838 915h8M854 915h2M868 915h4M896 915h4M924 915h4M734 917h4M744 917h4M756 917h26M784 917h6M792 917h8M804 917h2M808 917h2M812 917h6M820 917h26M856 917h2M912 917h2M920 917h6M744 919h8M756 919h4M764 919h14M786 919h12M806 919h6M814 919h2M822 919h14M840 919h8M854 919h2M874 919h2M886 919h2M918 919h8M732 921h2M744 921h8M754 921h6M766 921h14M786 921h12M808 921h6M828 921h2M832 921h18M852 921h2M860 921h2M864 921h2M870 921h2M874 921h2M918 921h2M922 921h6M700 923h2M724 923h12M742 923h8M752 923h2M756 923h8M766 923h6M774 923h6M784 923h8M794 923h6M806 923h10M820 923h4M830 923h2M834 923h14M850 923h10M862 923h8M872 923h4M880 923h2M896 923h2M698 925h2M726 925h4M732 925h2M744 925h4M756 925h6M764 925h8M774 925h2M786 925h4M792 925h10M804 925h2M808 925h8M818 925h8M828 925h8M838 925h2M850 925h8M864 925h6M872 925h2M876 925h2M892 925h4M898 925h4M696 927h2M700 927h2M730 927h4M740 927h4M768 927h12M782 927h36M820 927h14M848 927h2M852 927h2M862 927h6M870 927h2M888 927h2M892 927h4M898 927h8M752 929h2M766 929h18M792 929h42M850 929h2M862 929h6M872 929h2M886 929h2M890 929h2M894 929h2M718 931h4M752 931h4M762 931h10M774 931h12M792 931h26M820 931h4M826 931h8M836 931h4M848 931h2M852 931h2M886 931h2M930 931h4M632 933h6M652 933h4M668 933h2M676 933h16M712 933h14M728 933h2M732 933h16M752 933h2M760 933h12M774 933h48M826 933h8M836 933h2M844 933h8M854 933h6M866 933h2M874 933h6M884 933h8M894 933h4M906 933h2M914 933h6M930 933h6M638 935h2M652 935h4M662 935h4M678 935h14M712 935h4M720 935h8M730 935h20M760 935h10M772 935h60M838 935h2M842 935h16M860 935h2M864 935h18M884 935h2M896 935h2M914 935h6M932 935h2M640 937h2M644 937h2M652 937h2M660 937h6M672 937h2M676 937h18M696 937h2M720 937h10M738 937h10M750 937h4M760 937h74M838 937h2M842 937h20M866 937h14M890 937h2M894 937h4M906 937h2M910 937h2M916 937h4M934 937h2M630 939h2M638 939h6M646 939h2M650 939h2M658 939h18M680 939h8M690 939h2M694 939h4M710 939h6M718 939h14M736 939h12M752 939h4M760 939h20M782 939h2M786 939h34M824 939h2M828 939h4M840 939h2M844 939h2M852 939h4M870 939h2M874 939h6M890 939h8M908 939h2M918 939h4M582 941h2M658 941h12M672 941h2M676 941h4M682 941h8M692 941h2M698 941h2M708 941h40M750 941h12M768 941h12M784 941h34M820 941h14M836 941h8M848 941h2M852 941h2M860 941h2M864 941h2M876 941h6M892 941h6M904 941h2M920 941h2M570 943h4M594 943h2M636 943h2M658 943h4M664 943h6M678 943h10M704 943h2M708 943h36M746 943h2M752 943h12M766 943h32M802 943h42M850 943h10M862 943h2M866 943h2M876 943h6M916 943h4M570 945h4M592 945h2M614 945h10M636 945h2M646 945h2M658 945h10M670 945h2M676 945h12M690 945h6M710 945h6M720 945h20M754 945h90M852 945h6M860 945h2M864 945h26M914 945h8M570 947h2M586 947h4M594 947h2M612 947h14M638 947h2M654 947h2M658 947h8M678 947h2M682 947h4M688 947h8M710 947h6M722 947h16M740 947h10M752 947h2M756 947h2M760 947h42M804 947h8M814 947h32M854 947h18M874 947h18M918 947h4M924 947h2M588 949h2M614 949h10M626 949h2M636 949h2M652 949h2M656 949h2M660 949h4M678 949h2M682 949h4M688 949h8M710 949h6M722 949h2M726 949h2M730 949h80M814 949h24M840 949h2M844 949h2M852 949h10M864 949h10M878 949h16M900 949h6M922 949h2M932 949h2M940 949h4M588 951h2M616 951h6M658 951h2M662 951h2M678 951h20M708 951h6M716 951h2M728 951h6M736 951h40M780 951h22M804 951h8M814 951h22M842 951h6M860 951h2M864 951h6M882 951h14M898 951h6M906 951h2M940 951h6M652 953h2M656 953h2M662 953h2M678 953h2M682 953h10M694 953h6M704 953h8M716 953h4M722 953h2M730 953h4M738 953h38M778 953h64M848 953h2M858 953h2M862 953h8M884 953h12M898 953h8M908 953h2M940 953h2M944 953h2M952 953h2M664 955h2M668 955h2M678 955h10M690 955h20M714 955h12M732 955h4M740 955h36M778 955h64M856 955h2M860 955h12M886 955h8M900 955h4M912 955h4M970 955h2M616 957h6M630 957h4M644 957h2M666 957h6M678 957h2M684 957h28M716 957h12M730 957h92M824 957h20M846 957h4M852 957h4M858 957h12M872 957h2M890 957h2M920 957h2M970 957h2M604 959h2M622 959h2M642 959h2M664 959h6M672 959h2M676 959h4M684 959h2M688 959h22M714 959h10M726 959h108M836 959h32M870 959h2M900 959h2M904 959h2M968 959h6M602 961h2M606 961h2M644 961h2M656 961h2M666 961h4M672 961h8M682 961h16M700 961h10M716 961h6M728 961h14M744 961h106M852 961h4M860 961h8M872 961h2M898 961h10M942 961h2M970 961h2M578 963h2M604 963h4M610 963h2M666 963h2M672 963h26M700 963h8M716 963h6M728 963h42M772 963h48M822 963h22M846 963h2M852 963h4M860 963h8M870 963h8M880 963h2M896 963h2M900 963h6M920 963h2M944 963h2M970 963h2M578 965h2M602 965h12M668 965h2M672 965h2M676 965h2M682 965h20M706 965h4M714 965h10M728 965h6M736 965h10M748 965h92M846 965h10M860 965h6M868 965h14M890 965h2M894 965h2M900 965h6M914 965h2M926 965h4M938 965h6M950 965h2M592 967h2M608 967h6M646 967h2M666 967h6M682 967h8M694 967h10M714 967h10M730 967h4M736 967h38M778 967h48M828 967h12M844 967h12M868 967h14M888 967h2M892 967h2M928 967h2M940 967h2M952 967h2M606 969h4M620 969h2M644 969h6M666 969h8M682 969h8M694 969h10M712 969h12M732 969h44M778 969h46M826 969h28M868 969h14M892 969h2M940 969h2M666 971h8M682 971h26M714 971h2M718 971h4M732 971h94M828 971h24M854 971h4M870 971h16M926 971h4M954 971h2M966 971h2M626 973h2M630 973h2M636 973h4M666 973h2M670 973h12M686 973h6M694 973h12M712 973h2M728 973h70M800 973h42M844 973h10M856 973h2M870 973h18M902 973h2M908 973h2M926 973h4M954 973h2M628 975h2M632 975h2M636 975h4M648 975h2M652 975h2M656 975h2M660 975h2M672 975h12M694 975h14M712 975h2M718 975h2M722 975h2M728 975h114M844 975h8M874 975h12M888 975h2M900 975h2M940 975h4M956 975h2M626 977h2M630 977h2M636 977h6M646 977h2M650 977h14M670 977h8M680 977h2M692 977h2M696 977h26M728 977h124M854 977h2M880 977h4M886 977h2M900 977h4M942 977h2M954 977h2M626 979h2M630 979h2M636 979h6M644 979h2M654 979h12M668 979h10M690 979h2M694 979h20M716 979h8M730 979h6M740 979h34M776 979h82M864 979h2M880 979h2M884 979h2M888 979h14M628 981h2M638 981h2M654 981h22M688 981h2M698 981h16M716 981h22M740 981h118M870 981h2M878 981h2M888 981h12M954 981h2M960 981h2M632 983h6M656 983h14M672 983h2M690 983h2M704 983h8M714 983h144M860 983h2M870 983h4M876 983h8M886 983h14M904 983h4M942 983h2M946 983h4M952 983h6M962 983h2M630 985h8M664 985h2M668 985h6M682 985h8M700 985h4M706 985h52M760 985h36M798 985h2M802 985h6M810 985h46M860 985h2M864 985h2M872 985h4M878 985h10M890 985h10M904 985h2M908 985h2M948 985h2M952 985h6M960 985h2M964 985h2M620 987h2M632 987h2M636 987h2M656 987h2M666 987h8M676 987h2M682 987h4M700 987h8M710 987h2M714 987h64M780 987h6M788 987h10M804 987h30M846 987h10M862 987h2M870 987h14M892 987h6M904 987h8M914 987h2M948 987h4M954 987h2M962 987h6M630 989h6M652 989h6M664 989h16M698 989h6M712 989h84M798 989h2M802 989h34M840 989h2M848 989h10M864 989h2M872 989h2M878 989h4M892 989h22M916 989h4M952 989h2M966 989h4M580 991h2M632 991h2M636 991h2M644 991h2M652 991h8M668 991h16M694 991h2M698 991h6M712 991h28M742 991h110M854 991h10M874 991h6M892 991h14M908 991h4M918 991h6M966 991h2M578 993h2M594 993h4M640 993h4M652 993h6M666 993h8M676 993h8M692 993h2M696 993h6M708 993h2M714 993h2M718 993h22M742 993h58M802 993h42M846 993h18M870 993h10M888 993h10M902 993h2M906 993h2M912 993h2M918 993h8M932 993h2M576 995h2M592 995h6M640 995h2M644 995h2M654 995h6M662 995h2M668 995h18M692 995h4M698 995h6M706 995h2M710 995h2M720 995h2M724 995h4M732 995h66M800 995h46M854 995h12M868 995h10M888 995h6M904 995h4M922 995h2M928 995h2M946 995h4M968 995h2M996 995h2M598 997h2M608 997h2M638 997h6M654 997h8M664 997h2M670 997h18M690 997h2M698 997h8M708 997h4M718 997h132M852 997h12M866 997h12M880 997h4M886 997h6M918 997h2M924 997h2M936 997h2M946 997h8M598 999h2M606 999h6M636 999h6M656 999h8M672 999h4M678 999h12M698 999h6M706 999h6M714 999h8M724 999h138M864 999h14M880 999h10M892 999h2M912 999h6M934 999h2M938 999h2M948 999h6M992 999h4M608 1001h6M632 1001h2M636 1001h2M642 1001h2M646 1001h2M652 1001h14M670 1001h4M680 1001h12M696 1001h6M708 1001h2M712 1001h10M724 1001h66M792 1001h62M856 1001h22M880 1001h2M884 1001h4M894 1001h2M950 1001h4M1004 1001h2M572 1003h2M598 1003h2M606 1003h8M632 1003h2M636 1003h2M644 1003h4M652 1003h12M668 1003h8M682 1003h10M698 1003h4M706 1003h6M714 1003h8M728 1003h136M866 1003h14M894 1003h4M900 1003h2M912 1003h2M570 1005h6M602 1005h12M620 1005h2M624 1005h2M632 1005h2M642 1005h6M650 1005h22M682 1005h6M694 1005h4M700 1005h4M706 1005h2M714 1005h34M750 1005h116M868 1005h4M874 1005h8M886 1005h2M894 1005h10M978 1005h2M572 1007h2M584 1007h2M592 1007h2M602 1007h2M618 1007h2M632 1007h12M648 1007h2M652 1007h4M668 1007h4M680 1007h6M694 1007h6M714 1007h130M852 1007h14M868 1007h12M894 1007h10M918 1007h4M956 1007h2M972 1007h2M976 1007h2M980 1007h2M624 1009h2M632 1009h16M668 1009h2M674 1009h2M682 1009h2M690 1009h10M712 1009h4M718 1009h4M724 1009h120M854 1009h2M862 1009h4M868 1009h10M880 1009h8M892 1009h4M898 1009h6M920 1009h2M926 1009h2M956 1009h2M1002 1009h2M626 1011h4M632 1011h6M640 1011h2M674 1011h6M682 1011h4M692 1011h6M710 1011h50M762 1011h2M766 1011h78M850 1011h10M862 1011h14M880 1011h4M892 1011h4M904 1011h2M910 1011h2M914 1011h2M924 1011h2M948 1011h2M956 1011h2M960 1011h2M624 1013h8M634 1013h4M674 1013h6M692 1013h8M702 1013h2M706 1013h54M764 1013h82M848 1013h18M870 1013h8M892 1013h4M902 1013h2M912 1013h2M926 1013h2M934 1013h2M948 1013h4M608 1015h4M628 1015h2M666 1015h2M670 1015h2M674 1015h12M692 1015h70M764 1015h76M846 1015h2M850 1015h16M868 1015h2M872 1015h4M878 1015h6M892 1015h8M912 1015h2M928 1015h8M948 1015h2M958 1015h4M608 1017h4M668 1017h16M692 1017h12M706 1017h130M848 1017h18M876 1017h4M890 1017h8M906 1017h4M912 1017h4M926 1017h2M930 1017h6M950 1017h2M958 1017h4M608 1019h4M618 1019h2M654 1019h2M668 1019h2M672 1019h12M692 1019h8M702 1019h138M842 1019h2M846 1019h14M862 1019h4M874 1019h2M878 1019h2M882 1019h2M888 1019h2M892 1019h8M904 1019h6M932 1019h4M958 1019h4M652 1021h6M666 1021h2M676 1021h4M696 1021h2M700 1021h8M710 1021h2M716 1021h40M758 1021h4M766 1021h78M846 1021h22M876 1021h16M894 1021h6M902 1021h10M950 1021h2M954 1021h6M606 1023h4M652 1023h10M676 1023h4M688 1023h2M694 1023h14M716 1023h46M766 1023h28M796 1023h10M808 1023h58M874 1023h22M900 1023h10M934 1023h4M948 1023h10M978 1023h2M582 1025h2M650 1025h14M674 1025h6M682 1025h26M718 1025h14M734 1025h52M788 1025h44M834 1025h2M838 1025h38M878 1025h2M882 1025h32M932 1025h6M950 1025h8M644 1027h18M664 1027h2M674 1027h2M684 1027h12M702 1027h6M718 1027h14M738 1027h2M746 1027h84M834 1027h2M838 1027h26M866 1027h14M882 1027h20M906 1027h2M910 1027h2M932 1027h4M952 1027h2M956 1027h2M580 1029h2M606 1029h2M616 1029h4M622 1029h2M626 1029h2M644 1029h14M664 1029h2M676 1029h2M686 1029h8M702 1029h4M718 1029h20M740 1029h2M744 1029h82M832 1029h12M846 1029h4M854 1029h4M862 1029h16M882 1029h20M906 1029h2M912 1029h2M578 1031h2M616 1031h4M644 1031h6M652 1031h2M664 1031h4M688 1031h8M702 1031h4M718 1031h22M742 1031h58M802 1031h26M832 1031h18M854 1031h4M860 1031h20M882 1031h18M614 1033h4M642 1033h26M688 1033h8M702 1033h6M718 1033h16M742 1033h40M784 1033h44M830 1033h2M834 1033h14M854 1033h6M862 1033h18M884 1033h8M894 1033h2M936 1033h2M968 1033h2M590 1035h4M602 1035h4M644 1035h4M652 1035h12M666 1035h4M676 1035h2M690 1035h8M704 1035h2M708 1035h10M720 1035h2M724 1035h28M756 1035h28M786 1035h6M798 1035h48M848 1035h10M862 1035h12M876 1035h2M886 1035h4M896 1035h4M908 1035h2M966 1035h2M616 1037h4M656 1037h14M674 1037h6M692 1037h6M704 1037h20M728 1037h2M734 1037h16M754 1037h36M798 1037h46M850 1037h4M866 1037h6M882 1037h18M906 1037h2M944 1037h2M592 1039h2M620 1039h2M658 1039h20M680 1039h2M696 1039h2M702 1039h10M714 1039h6M726 1039h6M734 1039h16M754 1039h36M792 1039h40M836 1039h6M848 1039h6M880 1039h2M894 1039h4M904 1039h2M582 1041h2M594 1041h6M618 1041h4M640 1041h2M644 1041h2M658 1041h4M666 1041h14M682 1041h2M688 1041h2M702 1041h6M710 1041h4M718 1041h2M726 1041h4M734 1041h6M742 1041h6M756 1041h76M834 1041h2M838 1041h2M842 1041h2M846 1041h2M850 1041h6M882 1041h2M892 1041h6M900 1041h2M594 1043h2M638 1043h2M642 1043h2M658 1043h2M664 1043h16M686 1043h2M690 1043h2M700 1043h2M704 1043h6M714 1043h8M730 1043h8M742 1043h12M758 1043h74M840 1043h2M844 1043h2M848 1043h8M892 1043h10M904 1043h2M918 1043h2M954 1043h6M976 1043h6M590 1045h2M616 1045h2M640 1045h2M666 1045h14M688 1045h2M706 1045h2M718 1045h2M728 1045h26M762 1045h52M816 1045h2M820 1045h16M838 1045h2M842 1045h2M846 1045h2M850 1045h8M876 1045h2M892 1045h12M916 1045h4M930 1045h2M954 1045h2M978 1045h4M614 1047h4M658 1047h4M666 1047h2M676 1047h4M686 1047h2M712 1047h6M720 1047h2M728 1047h10M740 1047h16M764 1047h52M822 1047h2M826 1047h8M836 1047h2M840 1047h6M852 1047h12M870 1047h2M878 1047h2M894 1047h4M900 1047h2M918 1047h2M932 1047h2M614 1049h4M626 1049h4M632 1049h6M658 1049h4M664 1049h8M674 1049h2M678 1049h14M700 1049h2M714 1049h6M722 1049h2M730 1049h8M742 1049h12M762 1049h18M782 1049h4M788 1049h30M826 1049h6M834 1049h2M842 1049h2M856 1049h8M868 1049h4M876 1049h6M906 1049h2M932 1049h8M942 1049h4M616 1051h2M628 1051h2M634 1051h6M658 1051h16M682 1051h10M696 1051h2M700 1051h2M708 1051h2M714 1051h8M724 1051h8M744 1051h8M754 1051h2M764 1051h16M784 1051h2M790 1051h30M828 1051h2M832 1051h2M836 1051h2M840 1051h4M852 1051h2M856 1051h8M866 1051h18M912 1051h2M920 1051h4M936 1051h2M946 1051h2M974 1051h2M636 1053h2M640 1053h4M646 1053h2M656 1053h12M678 1053h2M682 1053h12M696 1053h4M716 1053h4M722 1053h12M736 1053h2M740 1053h8M754 1053h8M766 1053h8M784 1053h34M820 1053h2M830 1053h2M842 1053h4M850 1053h2M856 1053h16M874 1053h10M914 1053h2M918 1053h2M922 1053h2M976 1053h2M994 1053h2M610 1055h2M616 1055h2M642 1055h4M654 1055h12M676 1055h2M680 1055h22M716 1055h4M724 1055h8M734 1055h16M752 1055h18M772 1055h2M778 1055h2M784 1055h54M840 1055h6M852 1055h20M878 1055h4M884 1055h2M912 1055h2M616 1057h4M624 1057h2M636 1057h2M642 1057h2M646 1057h2M654 1057h2M658 1057h6M670 1057h2M676 1057h4M684 1057h16M708 1057h2M724 1057h4M730 1057h32M766 1057h2M774 1057h2M778 1057h2M784 1057h54M842 1057h6M850 1057h2M854 1057h6M868 1057h2M874 1057h2M882 1057h2M910 1057h6M590 1059h2M616 1059h2M620 1059h2M624 1059h2M652 1059h4M672 1059h2M686 1059h4M692 1059h6M704 1059h10M728 1059h6M744 1059h8M754 1059h8M764 1059h6M778 1059h30M816 1059h16M834 1059h18M854 1059h6M872 1059h2M876 1059h2M880 1059h2M894 1059h6M910 1059h4M588 1061h6M608 1061h2M616 1061h4M622 1061h2M654 1061h2M686 1061h12M706 1061h12M720 1061h2M724 1061h10M744 1061h8M756 1061h6M766 1061h2M774 1061h2M778 1061h30M816 1061h10M828 1061h6M838 1061h20M860 1061h2M874 1061h12M896 1061h4M910 1061h4M590 1063h2M624 1063h4M674 1063h2M684 1063h12M704 1063h18M728 1063h2M732 1063h6M742 1063h2M746 1063h4M756 1063h2M760 1063h2M776 1063h26M804 1063h6M816 1063h22M842 1063h10M854 1063h8M864 1063h6M876 1063h8M896 1063h4M920 1063h10M642 1065h2M680 1065h12M706 1065h18M726 1065h2M732 1065h10M748 1065h2M756 1065h4M776 1065h38M818 1065h2M826 1065h10M844 1065h26M876 1065h2M898 1065h4M928 1065h2M960 1065h2M598 1067h2M624 1067h2M668 1067h2M672 1067h4M678 1067h14M708 1067h2M712 1067h8M734 1067h6M742 1067h2M750 1067h2M756 1067h6M764 1067h2M768 1067h4M782 1067h34M820 1067h10M832 1067h8M842 1067h2M846 1067h6M854 1067h16M876 1067h2M900 1067h4M960 1067h2M980 1067h2M570 1069h2M596 1069h2M622 1069h6M640 1069h2M662 1069h2M668 1069h6M678 1069h4M696 1069h4M708 1069h6M716 1069h4M724 1069h2M734 1069h14M762 1069h10M774 1069h2M780 1069h8M790 1069h8M802 1069h4M808 1069h18M828 1069h4M834 1069h4M840 1069h2M850 1069h2M854 1069h16M888 1069h2M900 1069h4M908 1069h2M960 1069h4M974 1069h2M596 1071h2M636 1071h4M654 1071h4M668 1071h4M708 1071h6M718 1071h4M730 1071h12M744 1071h12M766 1071h2M772 1071h6M780 1071h2M786 1071h4M794 1071h2M802 1071h14M820 1071h6M832 1071h2M838 1071h2M852 1071h18M886 1071h6M906 1071h4M912 1071h2M958 1071h6M968 1071h2M636 1073h2M640 1073h2M652 1073h2M656 1073h10M670 1073h4M682 1073h4M690 1073h2M708 1073h6M716 1073h6M730 1073h30M772 1073h4M778 1073h4M786 1073h2M790 1073h2M796 1073h2M800 1073h18M820 1073h6M828 1073h4M834 1073h4M840 1073h2M844 1073h2M850 1073h18M878 1073h2M888 1073h2M908 1073h2M638 1075h2M642 1075h2M648 1075h2M654 1075h2M658 1075h2M672 1075h6M682 1075h8M692 1075h2M696 1075h2M710 1075h10M726 1075h28M756 1075h2M766 1075h4M772 1075h16M794 1075h22M818 1075h2M822 1075h6M832 1075h4M838 1075h2M842 1075h24M868 1075h2M880 1075h2M884 1075h2M944 1075h2M958 1075h2M672 1077h4M682 1077h10M694 1077h2M708 1077h10M732 1077h4M738 1077h16M756 1077h2M762 1077h26M794 1077h24M826 1077h16M844 1077h16M862 1077h2M866 1077h2M878 1077h6M956 1077h6M594 1079h2M616 1079h2M674 1079h6M682 1079h4M692 1079h10M706 1079h10M722 1079h2M738 1079h6M748 1079h4M764 1079h6M772 1079h16M792 1079h2M798 1079h28M828 1079h12M844 1079h4M852 1079h6M880 1079h6M918 1079h2M958 1079h4M628 1081h2M648 1081h2M670 1081h2M676 1081h2M682 1081h2M692 1081h10M704 1081h2M708 1081h10M736 1081h8M748 1081h4M768 1081h2M772 1081h4M780 1081h8M790 1081h2M796 1081h28M830 1081h8M840 1081h4M872 1081h2M878 1081h6M962 1081h2M598 1083h4M672 1083h2M684 1083h2M694 1083h6M708 1083h10M734 1083h18M762 1083h2M766 1083h2M772 1083h4M780 1083h12M798 1083h24M832 1083h4M838 1083h4M870 1083h2M878 1083h8M890 1083h2M980 1083h2M598 1085h4M652 1085h4M670 1085h2M682 1085h4M692 1085h6M710 1085h10M722 1085h2M726 1085h4M736 1085h16M758 1085h4M768 1085h2M774 1085h2M780 1085h10M800 1085h22M836 1085h8M878 1085h4M890 1085h2M964 1085h4M982 1085h2M580 1087h2M598 1087h4M654 1087h4M682 1087h4M690 1087h6M712 1087h2M716 1087h14M736 1087h14M752 1087h2M758 1087h4M786 1087h6M798 1087h22M836 1087h2M840 1087h4M878 1087h2M888 1087h4M928 1087h2M938 1087h2M966 1087h2M640 1089h2M656 1089h2M682 1089h12M712 1089h18M736 1089h10M750 1089h12M788 1089h26M816 1089h4M838 1089h2M890 1089h4M982 1089h2M632 1091h4M662 1091h4M690 1091h6M712 1091h4M722 1091h10M736 1091h2M740 1091h6M752 1091h8M770 1091h6M786 1091h28M832 1091h2M836 1091h4M858 1091h2M866 1091h2M870 1091h2M892 1091h4M610 1093h2M632 1093h2M662 1093h2M688 1093h8M712 1093h4M724 1093h8M738 1093h8M754 1093h2M758 1093h2M762 1093h2M786 1093h8M796 1093h4M802 1093h12M816 1093h4M834 1093h6M856 1093h2M864 1093h6M892 1093h2M902 1093h2M632 1095h4M656 1095h2M690 1095h4M712 1095h4M722 1095h8M740 1095h4M746 1095h2M754 1095h2M762 1095h2M780 1095h2M790 1095h2M804 1095h2M808 1095h10M834 1095h10M862 1095h10M904 1095h2M922 1095h2M940 1095h2M658 1097h6M692 1097h4M698 1097h2M726 1097h2M738 1097h6M754 1097h2M762 1097h6M776 1097h6M788 1097h4M794 1097h2M806 1097h12M832 1097h2M836 1097h8M862 1097h12M940 1097h2M692 1099h12M736 1099h6M744 1099h8M760 1099h6M776 1099h6M788 1099h2M792 1099h2M796 1099h2M800 1099h2M804 1099h18M840 1099h4M864 1099h12M886 1099h2M904 1099h2M670 1101h2M694 1101h10M738 1101h2M742 1101h8M762 1101h2M776 1101h6M784 1101h2M790 1101h2M794 1101h14M812 1101h10M866 1101h10M888 1101h2M892 1101h4M900 1101h2M904 1101h4M918 1101h2M598 1103h2M654 1103h2M658 1103h2M672 1103h2M692 1103h14M728 1103h2M740 1103h2M744 1103h4M750 1103h8M764 1103h2M768 1103h2M774 1103h8M788 1103h14M804 1103h2M812 1103h2M816 1103h2M834 1103h2M866 1103h10M878 1103h2M892 1103h4M904 1103h2M908 1103h6M596 1105h4M628 1105h2M652 1105h6M670 1105h4M678 1105h2M682 1105h4M694 1105h12M716 1105h2M720 1105h2M724 1105h6M742 1105h6M752 1105h4M768 1105h16M790 1105h6M800 1105h4M818 1105h2M826 1105h4M842 1105h4M850 1105h4M856 1105h2M868 1105h8M878 1105h2M892 1105h4M910 1105h2M944 1105h4M596 1107h4M642 1107h4M652 1107h6M670 1107h8M682 1107h2M696 1107h2M726 1107h6M742 1107h2M746 1107h2M750 1107h6M766 1107h2M774 1107h10M794 1107h2M798 1107h2M802 1107h2M810 1107h4M816 1107h2M826 1107h2M852 1107h6M870 1107h8M894 1107h4M912 1107h2M636 1109h2M640 1109h2M652 1109h4M666 1109h2M684 1109h2M712 1109h2M726 1109h10M748 1109h6M764 1109h2M772 1109h2M776 1109h8M790 1109h2M794 1109h2M812 1109h2M868 1109h6M908 1109h2M636 1111h4M684 1111h2M690 1111h6M724 1111h12M746 1111h2M750 1111h6M758 1111h6M766 1111h10M792 1111h6M804 1111h2M830 1111h2M852 1111h2M860 1111h2M868 1111h2M884 1111h2M716 1113h28M748 1113h10M760 1113h2M768 1113h8M794 1113h2M798 1113h6M806 1113h2M846 1113h2M854 1113h8M866 1113h6M692 1115h2M718 1115h6M726 1115h6M734 1115h2M740 1115h2M750 1115h10M762 1115h2M768 1115h10M786 1115h2M798 1115h4M830 1115h2M846 1115h4M852 1115h4M858 1115h6M868 1115h2M890 1115h2M658 1117h2M716 1117h6M726 1117h2M740 1117h4M748 1117h2M752 1117h10M770 1117h8M798 1117h4M846 1117h2M850 1117h4M856 1117h2M860 1117h2M884 1117h2M888 1117h2M702 1119h2M710 1119h2M720 1119h4M738 1119h22M762 1119h2M772 1119h6M798 1119h2M854 1119h12M878 1119h2M882 1119h2M646 1121h2M702 1121h14M734 1121h2M738 1121h12M752 1121h2M756 1121h2M762 1121h2M774 1121h2M790 1121h2M832 1121h2M846 1121h4M856 1121h2M880 1121h4M920 1121h2M668 1123h2M688 1123h2M702 1123h14M728 1123h2M736 1123h28M782 1123h2M818 1123h2M822 1123h2M830 1123h2M848 1123h6M654 1125h2M666 1125h4M688 1125h4M706 1125h8M716 1125h2M724 1125h4M734 1125h4M740 1125h26M816 1125h8M846 1125h2M850 1125h2M888 1125h4M648 1127h2M652 1127h2M688 1127h2M708 1127h6M720 1127h10M742 1127h14M758 1127h6M808 1127h2M814 1127h8M824 1127h2M858 1127h2M862 1127h6M652 1129h2M708 1129h6M720 1129h8M740 1129h6M748 1129h2M752 1129h14M770 1129h2M808 1129h2M818 1129h2M856 1129h12M678 1131h2M710 1131h2M718 1131h12M738 1131h10M754 1131h12M768 1131h4M788 1131h4M812 1131h2M854 1131h2M858 1131h2M652 1133h4M680 1133h4M708 1133h2M720 1133h12M738 1133h8M748 1133h2M762 1133h2M770 1133h2M790 1133h2M832 1133h2M852 1133h2M856 1133h2M896 1133h8M652 1135h2M656 1135h2M720 1135h8M740 1135h4M746 1135h4M754 1135h2M758 1135h2M764 1135h2M830 1135h6M898 1135h2M654 1137h4M722 1137h6M742 1137h2M746 1137h4M756 1137h8M766 1137h2M654 1139h2M722 1139h6M742 1139h10M764 1139h2M786 1139h2M790 1139h2M874 1139h4M698 1141h2M724 1141h2M728 1141h2M742 1141h8M764 1141h2M778 1141h2M782 1141h8M796 1141h2M824 1141h2M834 1141h2M724 1143h4M730 1143h2M738 1143h12M758 1143h6M778 1143h10M798 1143h2M820 1143h8M834 1143h4M910 1143h2M682 1145h2M724 1145h2M740 1145h10M758 1145h4M766 1145h2M792 1145h2M796 1145h2M824 1145h2M832 1145h8M868 1145h2M908 1145h4M680 1147h4M702 1147h2M722 1147h2M744 1147h12M758 1147h4M792 1147h4M826 1147h10M864 1147h2M894 1147h2M682 1149h2M700 1149h4M712 1149h2M724 1149h2M758 1149h2M792 1149h6M824 1149h4M866 1149h2M618 1151h2M690 1151h2M706 1151h2M710 1151h2M724 1151h2M824 1151h2M618 1153h2M698 1153h2M706 1153h4M716 1153h2M792 1153h2M796 1153h2M870 1153h2M696 1155h2M706 1155h2M710 1155h2M714 1155h4M776 1155h2M794 1155h2M798 1155h2M870 1155h2M654 1157h2M686 1157h2M698 1157h2M708 1157h2M712 1157h2M716 1157h4M756 1157h2M714 1159h4M746 1159h2M756 1159h2M798 1159h2M842 1159h2M872 1159h4M708 1161h2M740 1161h2M758 1161h2M826 1161h4M840 1161h2M870 1161h8M706 1163h4M772 1163h2M792 1163h2M770 1165h2M782 1165h2M862 1165h2M700 1167h2M704 1167h4M710 1167h2M766 1167h2M822 1167h2M704 1169h8M726 1169h2M736 1169h2M766 1169h4M822 1169h2M684 1171h2M704 1171h10M732 1171h8M766 1171h4M668 1173h2M684 1173h2M708 1173h6M726 1173h2M734 1173h2M768 1173h4M780 1173h2M670 1175h2M684 1175h4M724 1175h4M668 1177h4M684 1177h6M704 1177h2M724 1177h2M668 1179h2M690 1179h2M730 1179h2M794 1179h2M822 1179h4"/>
<path stroke="#3878a8" d="M822 837h2M806 847h2M802 851h2M792 855h2M834 855h2M790 857h2M794 859h6M796 861h4M796 863h2M890 863h2M796 865h2M820 865h2M818 867h6M786 879h2M882 885h2M826 887h2M802 893h2M804 895h2M888 895h4M886 897h8M784 899h2M886 899h6M888 901h2M814 905h4M778 907h2M794 907h2M802 907h2M814 907h6M800 909h8M816 909h6M738 911h2M790 911h2M802 911h6M810 911h2M814 911h6M760 913h2M804 913h2M816 913h2M758 915h2M764 915h2M766 917h2M778 917h2M794 917h2M826 917h4M746 919h2M768 919h2M794 919h2M842 919h2M774 921h2M786 921h2M844 921h2M796 925h4M812 925h2M822 925h2M794 927h6M822 927h4M828 927h2M776 929h2M792 929h18M814 929h2M782 931h2M794 931h6M802 931h8M816 931h2M830 931h2M684 933h2M742 933h2M764 933h2M794 933h6M804 933h6M814 933h2M828 933h2M850 933h2M684 935h2M738 935h6M776 935h2M780 935h4M790 935h14M806 935h4M814 935h6M844 935h2M848 935h2M876 935h2M740 937h2M772 937h6M782 937h2M788 937h2M794 937h12M808 937h2M812 937h8M846 937h2M722 939h2M726 939h2M772 939h6M794 939h4M800 939h16M720 941h8M734 941h6M774 941h4M794 941h4M804 941h2M808 941h2M812 941h4M720 943h6M734 943h6M756 943h2M768 943h2M776 943h2M792 943h2M810 943h2M814 943h2M828 943h4M834 943h2M840 943h2M722 945h6M732 945h2M736 945h2M766 945h6M778 945h2M788 945h4M794 945h2M808 945h2M814 945h2M818 945h6M828 945h6M836 945h2M840 945h2M868 945h2M878 945h2M732 947h4M760 947h2M764 947h10M778 947h2M782 947h8M796 947h2M806 947h2M828 947h10M868 947h2M878 947h2M884 947h6M618 949h2M732 949h2M742 949h6M752 949h2M756 949h2M760 949h14M782 949h4M806 949h2M816 949h2M820 949h18M884 949h8M740 951h18M760 951h14M782 951h2M798 951h2M806 951h2M818 951h2M822 951h2M826 951h8M740 953h16M758 953h8M768 953h6M790 953h2M796 953h2M806 953h2M816 953h6M828 953h6M838 953h2M866 953h2M704 955h2M740 955h10M752 955h20M780 955h24M806 955h14M826 955h8M864 955h4M698 957h2M702 957h6M742 957h8M754 957h8M764 957h10M778 957h16M796 957h12M810 957h10M826 957h8M970 957h2M690 959h2M700 959h8M746 959h4M754 959h8M768 959h18M788 959h18M812 959h8M826 959h8M690 961h2M704 961h4M732 961h2M738 961h2M746 961h4M756 961h8M768 961h18M788 961h20M810 961h8M824 961h8M838 961h2M864 961h2M902 961h2M694 963h2M730 963h2M738 963h4M764 963h4M774 963h6M782 963h22M812 963h4M824 963h8M836 963h2M840 963h2M862 963h2M684 965h4M694 965h2M732 965h2M738 965h6M750 965h4M756 965h2M766 965h2M778 965h18M806 965h2M810 965h2M814 965h8M826 965h8M686 967h2M720 967h2M738 967h8M748 967h8M766 967h4M772 967h2M780 967h18M802 967h4M808 967h2M812 967h12M830 967h4M700 969h2M738 969h22M762 969h12M780 969h16M800 969h8M810 969h12M830 969h4M836 969h2M686 971h4M700 971h2M736 971h6M744 971h2M748 971h26M778 971h16M802 971h18M830 971h10M874 971h2M688 973h2M696 973h4M702 973h2M732 973h8M750 973h24M776 973h12M790 973h2M800 973h2M804 973h16M830 973h8M880 973h4M676 975h4M730 975h10M746 975h26M776 975h18M796 975h4M802 975h2M806 975h24M832 975h6M674 977h2M704 977h2M708 977h2M720 977h2M730 977h4M742 977h2M750 977h22M778 977h14M794 977h6M808 977h4M816 977h26M656 979h2M672 979h2M698 979h10M720 979h2M732 979h2M744 979h6M752 979h8M762 979h10M776 979h22M800 979h2M808 979h2M812 979h32M670 981h2M700 981h6M718 981h4M732 981h2M744 981h14M764 981h32M798 981h4M804 981h4M810 981h26M838 981h2M842 981h2M846 981h2M716 983h8M732 983h4M742 983h14M764 983h14M784 983h14M800 983h10M812 983h26M896 983h2M634 985h2M716 985h6M724 985h2M732 985h2M740 985h14M756 985h2M762 985h6M772 985h4M780 985h16M804 985h4M816 985h20M878 985h4M908 985h2M716 987h2M720 987h4M734 987h10M746 987h10M762 987h6M770 987h8M782 987h4M788 987h2M792 987h2M808 987h2M816 987h18M910 987h2M700 989h2M724 989h2M728 989h2M734 989h12M748 989h18M768 989h2M772 989h4M778 989h2M782 989h14M802 989h2M810 989h4M816 989h12M830 989h4M908 989h2M698 991h2M746 991h14M762 991h6M770 991h8M780 991h16M804 991h2M808 991h4M816 991h10M830 991h6M896 991h2M676 993h2M700 993h2M746 993h16M764 993h2M768 993h8M782 993h14M806 993h8M816 993h8M830 993h14M856 993h4M874 993h2M680 995h2M698 995h2M746 995h22M770 995h6M780 995h18M800 995h44M856 995h4M870 995h4M672 997h2M680 997h4M732 997h6M746 997h20M768 997h8M778 997h22M802 997h18M822 997h6M830 997h16M854 997h2M866 997h2M870 997h6M684 999h2M730 999h6M738 999h2M742 999h2M746 999h18M766 999h12M780 999h8M790 999h2M794 999h34M830 999h18M872 999h4M608 1001h2M672 1001h2M686 1001h2M716 1001h2M728 1001h10M740 1001h2M760 1001h6M768 1001h22M798 1001h28M834 1001h14M868 1001h4M874 1001h2M608 1003h4M672 1003h2M718 1003h2M730 1003h8M742 1003h2M758 1003h32M798 1003h28M836 1003h10M870 1003h2M608 1005h2M652 1005h2M684 1005h2M718 1005h2M732 1005h6M740 1005h4M754 1005h4M760 1005h4M768 1005h22M794 1005h2M800 1005h22M824 1005h4M830 1005h2M834 1005h10M858 1005h2M862 1005h2M870 1005h2M684 1007h2M728 1007h4M736 1007h10M750 1007h10M768 1007h6M776 1007h14M794 1007h6M802 1007h20M824 1007h6M832 1007h2M836 1007h8M870 1007h2M694 1009h2M726 1009h4M736 1009h22M766 1009h20M788 1009h24M818 1009h18M838 1009h6M870 1009h2M692 1011h2M726 1011h2M732 1011h2M736 1011h24M768 1011h12M788 1011h8M798 1011h30M830 1011h6M838 1011h4M694 1013h2M730 1013h28M768 1013h12M784 1013h2M788 1013h34M824 1013h12M838 1013h2M696 1015h2M708 1015h2M730 1015h12M744 1015h14M766 1015h16M786 1015h30M818 1015h2M824 1015h10M860 1015h2M894 1015h2M680 1017h2M696 1017h2M712 1017h4M722 1017h4M732 1017h24M758 1017h2M764 1017h12M778 1017h6M792 1017h2M796 1017h18M820 1017h14M860 1017h2M894 1017h2M720 1019h2M724 1019h2M728 1019h4M734 1019h22M766 1019h6M774 1019h12M788 1019h2M796 1019h18M822 1019h12M654 1021h2M722 1021h2M726 1021h6M742 1021h12M768 1021h2M772 1021h14M798 1021h8M810 1021h2M822 1021h14M860 1021h2M886 1021h2M652 1023h6M698 1023h2M702 1023h2M720 1023h2M724 1023h2M728 1023h2M740 1023h2M746 1023h4M760 1023h2M766 1023h20M796 1023h10M810 1023h4M824 1023h10M850 1023h2M856 1023h2M884 1023h2M654 1025h2M690 1025h2M696 1025h2M702 1025h4M722 1025h2M760 1025h2M768 1025h18M796 1025h12M814 1025h2M820 1025h4M826 1025h4M842 1025h6M892 1025h2M934 1025h2M644 1027h2M652 1027h2M720 1027h2M750 1027h12M764 1027h28M796 1027h2M802 1027h4M812 1027h2M816 1027h4M848 1027h2M856 1027h2M870 1027h2M646 1029h2M720 1029h2M744 1029h4M750 1029h6M758 1029h6M768 1029h2M774 1029h6M784 1029h8M800 1029h2M804 1029h4M812 1029h10M868 1029h2M872 1029h2M876 1029h2M688 1031h2M692 1031h2M720 1031h2M752 1031h2M760 1031h2M764 1031h8M774 1031h6M786 1031h6M794 1031h2M804 1031h16M822 1031h2M864 1031h2M872 1031h6M690 1033h4M752 1033h2M764 1033h10M776 1033h4M788 1033h2M792 1033h2M804 1033h12M818 1033h2M822 1033h4M840 1033h2M866 1033h2M870 1033h2M692 1035h4M744 1035h2M760 1035h2M764 1035h4M772 1035h8M804 1035h12M820 1035h6M836 1035h2M736 1037h2M746 1037h2M762 1037h18M782 1037h4M802 1037h12M820 1037h4M826 1037h2M658 1039h2M736 1039h2M762 1039h12M780 1039h8M798 1039h8M808 1039h6M818 1039h6M828 1039h2M706 1041h2M762 1041h8M778 1041h12M792 1041h10M806 1041h8M818 1041h6M826 1041h2M850 1041h2M758 1043h2M764 1043h4M770 1043h2M774 1043h10M786 1043h2M792 1043h8M806 1043h4M818 1043h10M894 1043h4M718 1045h2M744 1045h4M768 1045h2M772 1045h14M792 1045h4M798 1045h2M804 1045h6M748 1047h4M766 1047h2M770 1047h12M792 1047h2M796 1047h8M770 1049h6M792 1049h12M860 1049h2M744 1051h2M764 1051h2M770 1051h4M798 1051h14M858 1051h2M876 1051h4M660 1053h2M684 1053h2M798 1053h6M806 1053h12M860 1053h4M880 1053h4M658 1055h4M686 1055h4M744 1055h2M756 1055h4M788 1055h4M796 1055h6M808 1055h2M814 1055h2M866 1055h4M744 1057h4M758 1057h2M788 1057h4M796 1057h6M820 1057h2M708 1059h2M748 1059h2M788 1059h2M794 1059h12M818 1059h4M826 1059h2M846 1059h2M708 1061h4M780 1061h2M786 1061h2M818 1061h4M846 1061h4M712 1063h2M786 1063h4M806 1063h2M846 1063h2M850 1063h2M718 1065h2M734 1065h2M786 1065h2M806 1065h4M848 1065h2M856 1065h2M738 1067h2M782 1067h2M786 1067h2M828 1067h2M856 1067h2M860 1067h2M864 1067h2M812 1069h2M856 1069h2M736 1071h2M810 1071h2M656 1073h2M750 1073h4M806 1073h4M812 1073h2M684 1075h2M748 1075h2M804 1075h6M852 1075h4M766 1077h2M780 1077h2M804 1077h6M836 1077h2M852 1077h2M696 1079h2M804 1079h8M696 1081h4M804 1081h10M816 1081h4M804 1083h6M816 1083h2M746 1085h2M802 1085h6M880 1085h2M802 1087h4M724 1089h2M740 1089h6M802 1089h2M806 1089h2M724 1091h6M740 1091h2M790 1091h2M804 1091h2M724 1093h6M738 1093h2M808 1095h2M700 1101h2M700 1103h2M654 1105h2M778 1107h2M780 1109h2M726 1111h6M720 1113h2M726 1113h4M768 1113h4M718 1115h4M728 1115h2M770 1115h2M756 1117h2M774 1117h2M774 1119h2M742 1121h6M742 1123h6M742 1125h8M752 1125h2M746 1127h2M750 1127h2M760 1127h2M760 1129h2M706 1171h4M736 1171h2M766 1171h2"/>
<path stroke="#3084b8" d="M796 861h2M888 895h2M888 897h4M888 899h2M816 905h2M804 911h2M796 927h4M796 929h4M782 931h2M806 931h2M796 935h4M816 935h2M796 937h4M802 937h2M810 939h6M726 941h2M812 941h2M724 943h2M722 945h2M766 945h2M830 945h4M768 947h2M830 947h6M762 949h2M828 949h6M750 951h2M826 951h6M746 953h4M768 953h6M828 953h6M838 953h2M746 955h2M756 955h2M760 955h2M766 955h6M814 955h6M830 955h2M744 957h2M758 957h4M782 957h2M796 957h6M814 957h4M828 957h4M756 959h6M788 959h4M798 959h4M812 959h6M828 959h2M774 961h4M780 961h2M788 961h8M798 961h6M812 961h4M830 961h2M778 963h2M790 963h6M800 963h2M814 963h2M828 963h4M786 965h10M740 967h4M750 967h2M784 967h10M814 967h2M818 967h2M742 969h2M750 969h2M758 969h2M762 969h6M782 969h12M802 969h4M818 969h4M832 969h2M740 971h2M752 971h2M756 971h4M764 971h2M780 971h8M802 971h2M812 971h4M818 971h2M734 973h2M752 973h8M764 973h4M780 973h6M804 973h2M808 973h2M812 973h2M836 973h2M732 975h4M752 975h8M768 975h2M778 975h2M782 975h2M786 975h4M834 975h2M732 977h2M752 977h6M766 977h2M778 977h6M788 977h2M794 977h2M824 977h2M830 977h6M672 979h2M754 979h4M762 979h10M780 979h2M788 979h4M816 979h2M822 979h2M826 979h2M830 979h4M746 981h2M754 981h4M764 981h8M788 981h6M800 981h2M816 981h6M824 981h2M828 981h2M832 981h2M716 983h4M746 983h4M754 983h2M764 983h6M788 983h6M816 983h2M820 983h14M716 985h6M746 985h6M790 985h2M818 985h12M832 985h2M752 987h2M816 987h12M736 989h2M756 989h2M764 989h2M772 989h4M790 989h2M802 989h2M816 989h2M820 989h6M756 991h4M762 991h2M766 991h2M770 991h2M774 991h2M784 991h10M818 991h4M832 991h2M748 993h2M756 993h2M772 993h4M786 993h2M790 993h6M808 993h4M816 993h8M830 993h2M752 995h8M762 995h2M770 995h2M774 995h2M786 995h8M796 995h2M806 995h12M832 995h2M838 995h4M748 997h2M752 997h10M774 997h2M782 997h2M788 997h4M802 997h14M818 997h2M830 997h12M734 999h2M762 999h2M776 999h2M782 999h4M800 999h18M820 999h4M836 999h8M734 1001h2M740 1001h2M764 1001h2M768 1001h20M800 1001h10M812 1001h10M838 1001h6M732 1003h2M762 1003h2M768 1003h20M800 1003h10M814 1003h8M840 1003h4M760 1005h2M770 1005h2M776 1005h4M782 1005h6M802 1005h8M812 1005h8M838 1005h6M752 1007h6M768 1007h4M776 1007h8M798 1007h2M802 1007h8M814 1007h2M818 1007h4M838 1007h4M746 1009h2M750 1009h8M768 1009h6M790 1009h2M804 1009h2M818 1009h4M834 1009h2M738 1011h2M754 1011h2M768 1011h8M788 1011h6M804 1011h2M810 1011h2M830 1011h2M744 1013h6M754 1013h2M768 1013h8M788 1013h10M802 1013h6M828 1013h6M748 1015h6M774 1015h2M790 1015h4M796 1015h4M802 1015h4M810 1015h2M826 1015h6M736 1017h6M764 1017h2M768 1017h2M778 1017h2M796 1017h10M808 1017h4M824 1017h8M734 1019h2M742 1019h4M748 1019h4M778 1019h4M800 1019h14M826 1019h8M742 1021h8M776 1021h8M802 1021h2M824 1021h8M834 1021h2M654 1023h2M774 1023h10M800 1023h2M828 1023h2M772 1025h10M784 1025h2M802 1025h2M758 1027h2M766 1027h2M774 1027h8M788 1027h2M752 1029h2M774 1029h6M788 1029h2M766 1031h2M766 1033h2M808 1033h6M764 1035h2M808 1035h2M764 1037h2M770 1037h4M808 1037h4M764 1039h8M808 1039h4M822 1039h2M794 1041h4M808 1041h4M822 1041h2M776 1043h6M794 1043h4M822 1043h4M776 1045h4M780 1047h2M798 1049h4M770 1051h2M800 1051h2M808 1051h2M878 1051h2M800 1053h2M758 1055h2M790 1055h2M798 1055h4M800 1057h2M800 1059h2M806 1077h2M804 1083h2M806 1085h2M802 1087h2M726 1091h2"/>
<path stroke="#2c94c4" d="M782 931h2M828 951h2M838 953h2M766 955h2M798 961h2M786 967h8M786 969h4M782 971h2M732 975h2M752 975h6M732 977h2M830 979h2M766 981h2M822 983h2M802 989h2M772 993h2M790 995h4M838 995h2M752 997h2M836 997h6M802 999h8M838 999h4M740 1001h2M774 1001h2M802 1001h2M806 1001h4M840 1001h4M762 1003h2M776 1003h2M784 1003h2M802 1003h8M814 1003h6M778 1005h2M784 1005h2M804 1005h4M818 1005h2M754 1009h2M770 1009h2M768 1011h6M804 1011h2M770 1013h4M792 1013h2M830 1015h2M802 1017h2M828 1017h4M734 1019h2M808 1019h2M778 1021h2M802 1021h2M824 1021h2M774 1023h8M774 1025h6M758 1027h2M774 1027h6M776 1029h2M796 1043h2M770 1051h2"/>
<path stroke="#28a0d4" d="M782 931h2M838 953h2M766 955h2M732 977h2M802 989h2M740 1001h2M806 1001h2M802 1003h2M806 1003h2M784 1005h2M734 1019h2M776 1025h2M758 1027h2M776 1027h2M770 1051h2"/>
<path stroke="#50f038" d="M782 931h2M838 953h2M766 955h2M732 977h2M802 989h2M740 1001h2M734 1019h2M758 1027h2M770 1051h2"/>
</g>
<g fill="none" stroke-width="2.15" shape-rendering="crispEdges">
<path stroke="#3e70a0" d="M550 629h8M560 629h6M548 631h22M544 633h30M542 635h34M536 637h2M540 637h42M536 639h48M536 641h48M538 643h52M538 645h54M506 647h2M538 647h56M500 649h14M540 649h54M500 651h16M518 651h4M540 651h56M490 653h4M496 653h28M528 653h2M542 653h58M484 655h48M540 655h64M486 657h44M538 657h68M488 659h46M538 659h70M490 661h120M490 663h122M492 665h120M492 667h122M492 669h126M490 671h126M492 673h128M492 675h130M494 677h130M498 679h128M498 681h128M498 683h130M498 685h134M498 687h134M496 689h136M494 691h142M494 693h144M494 695h144M494 697h146M494 699h148M498 701h146M498 703h144M496 705h150M496 707h152M498 709h150M500 711h148M502 713h148M504 715h148M508 717h144M506 719h144M510 721h138M510 723h140M510 725h140M514 727h112M628 727h4M634 727h14M512 729h110M634 729h12M516 731h106M646 731h2M518 733h48M572 733h4M578 733h12M592 733h30M522 735h40M564 735h2M592 735h28M526 737h2M530 737h4M536 737h2M542 737h4M552 737h10M592 737h30M554 739h2M596 739h26M596 741h26M598 743h22M598 745h20M600 747h16M606 749h8M606 751h6M608 753h2"/>
<path stroke="#3878a8" d="M550 629h8M560 629h6M548 631h22M544 633h30M542 635h34M536 637h2M540 637h42M538 639h46M536 641h48M538 643h52M538 645h54M506 647h2M538 647h56M500 649h14M540 649h54M500 651h16M518 651h4M540 651h56M490 653h4M496 653h18M520 653h4M528 653h2M542 653h58M484 655h30M518 655h14M540 655h38M580 655h24M486 657h28M516 657h14M538 657h42M582 657h24M488 659h46M538 659h38M582 659h24M490 661h86M582 661h28M490 663h108M600 663h2M604 663h8M492 665h104M606 665h2M492 667h104M604 667h6M492 669h18M512 669h82M602 669h8M616 669h2M490 671h22M514 671h2M518 671h74M604 671h8M492 673h22M516 673h76M600 673h12M492 675h24M518 675h76M598 675h14M494 677h120M498 679h118M618 679h8M498 681h68M570 681h2M580 681h46M498 683h68M568 683h10M580 683h16M602 683h26M498 685h134M498 687h134M496 689h116M616 689h16M494 691h62M562 691h48M614 691h22M494 693h64M564 693h24M590 693h20M616 693h22M494 695h144M494 697h146M494 699h122M622 699h20M498 701h118M622 701h22M498 703h118M622 703h20M496 705h126M626 705h20M496 707h126M628 707h20M498 709h104M604 709h18M626 709h6M638 709h10M500 711h132M640 711h8M502 713h98M602 713h30M642 713h2M504 715h4M512 715h84M600 715h32M508 717h88M600 717h30M646 717h2M650 717h2M506 719h120M638 719h2M644 719h6M510 721h116M638 721h4M646 721h2M510 723h118M630 723h2M640 723h4M646 723h4M510 725h122M640 725h10M514 727h112M628 727h4M640 727h8M512 729h110M638 729h8M516 731h70M588 731h34M646 731h2M518 733h48M572 733h4M578 733h6M592 733h30M522 735h40M564 735h2M592 735h28M526 737h2M530 737h4M536 737h2M542 737h4M552 737h10M592 737h26M554 739h2M596 739h24M596 741h24M600 743h20M598 745h6M606 745h12M600 747h2M606 747h10M606 749h8M608 751h4M608 753h2"/>
<path stroke="#3084b8" d="M556 629h2M560 629h6M556 631h8M556 633h12M554 635h22M540 637h2M554 637h26M542 639h2M554 639h10M566 639h14M544 641h2M554 641h10M568 641h14M542 643h4M554 643h10M570 643h16M538 645h8M552 645h10M564 645h2M570 645h16M506 647h2M538 647h10M550 647h16M572 647h14M592 647h2M502 649h2M506 649h8M540 649h6M550 649h18M574 649h10M588 649h6M500 651h12M540 651h2M550 651h24M580 651h2M588 651h8M498 653h12M528 653h2M550 653h26M584 653h16M498 655h12M528 655h4M552 655h24M584 655h20M490 657h20M528 657h2M544 657h4M550 657h26M584 657h20M492 659h18M526 659h8M538 659h36M586 659h10M598 659h4M494 661h18M522 661h8M536 661h36M586 661h10M498 663h14M518 663h8M528 663h2M534 663h34M584 663h10M496 665h16M516 665h8M534 665h34M574 665h20M492 667h2M496 667h10M514 667h2M518 667h2M528 667h20M554 667h14M572 667h22M498 669h4M516 669h2M526 669h20M556 669h12M570 669h18M524 671h20M554 671h14M572 671h18M522 673h24M550 673h12M564 673h4M570 673h20M506 675h4M522 675h22M546 675h14M572 675h12M588 675h2M498 677h4M506 677h2M510 677h2M520 677h38M576 677h2M580 677h2M590 677h2M498 679h6M508 679h52M588 679h4M498 681h6M510 681h20M532 681h28M612 681h2M620 681h2M498 683h6M512 683h16M532 683h28M612 683h4M620 683h8M498 685h10M510 685h22M534 685h24M570 685h6M620 685h12M498 687h58M564 687h10M594 687h6M606 687h2M622 687h6M630 687h2M496 689h48M548 689h4M564 689h10M592 689h10M622 689h4M628 689h4M494 691h48M546 691h6M566 691h8M576 691h4M594 691h6M624 691h10M494 693h48M546 693h6M570 693h2M574 693h10M596 693h4M622 693h14M494 695h48M548 695h10M572 695h14M606 695h4M622 695h8M632 695h6M494 697h70M568 697h20M602 697h8M624 697h8M634 697h2M494 699h98M602 699h10M624 699h10M498 701h48M550 701h44M598 701h14M626 701h12M498 703h50M550 703h44M596 703h6M604 703h2M608 703h4M636 703h4M496 705h4M502 705h98M636 705h10M496 707h50M548 707h52M640 707h8M498 709h24M524 709h20M550 709h32M586 709h12M642 709h4M512 711h10M526 711h16M552 711h38M514 713h8M526 713h10M538 713h2M552 713h12M566 713h2M578 713h6M606 713h6M626 713h2M514 715h8M528 715h6M552 715h8M578 715h6M606 715h8M514 717h8M526 717h6M552 717h2M556 717h2M574 717h10M606 717h10M512 719h12M526 719h8M540 719h6M562 719h4M574 719h10M612 719h4M510 721h36M560 721h10M574 721h10M510 723h36M552 723h32M592 723h2M510 725h34M550 725h24M576 725h8M594 725h2M614 725h10M514 727h22M546 727h18M566 727h8M576 727h8M594 727h4M616 727h10M512 729h8M522 729h2M530 729h4M540 729h6M548 729h24M576 729h8M592 729h12M608 729h2M614 729h8M642 729h4M516 731h2M536 731h8M550 731h6M558 731h2M578 731h4M592 731h24M620 731h2M646 731h2M536 733h8M550 733h4M592 733h26M620 733h2M524 735h6M534 735h10M550 735h4M558 735h4M592 735h6M602 735h16M536 737h2M552 737h2M558 737h4M594 737h2M602 737h16M554 739h2M600 739h2M604 739h12M602 741h2M606 741h12M610 743h8M612 745h6M612 747h4M610 749h4M610 751h2"/>
<path stroke="#2c94c4" d="M558 633h4M572 637h4M570 639h8M570 641h8M572 643h6M538 647h2M502 653h2M554 653h12M590 653h2M504 655h2M554 655h18M588 655h4M554 657h18M588 657h4M552 659h16M588 659h2M538 661h4M544 661h2M550 661h16M588 661h4M538 663h6M546 663h2M550 663h16M588 663h4M536 665h8M588 665h4M536 667h4M530 669h8M580 669h2M528 671h10M528 673h10M526 675h10M528 677h6M552 681h6M544 683h2M550 683h8M498 685h2M542 685h2M550 685h6M498 687h2M528 687h2M496 689h2M510 689h2M524 689h8M498 691h2M508 691h4M528 691h4M510 693h2M532 693h6M508 695h8M518 695h2M532 695h8M576 695h2M508 697h14M532 697h8M554 697h2M576 697h4M508 699h20M538 699h4M554 699h6M576 699h2M510 701h18M538 701h6M554 701h2M558 701h2M562 701h6M576 701h4M510 703h20M536 703h8M552 703h2M564 703h6M576 703h2M584 703h2M508 705h18M530 705h2M538 705h6M552 705h4M564 705h6M574 705h2M590 705h2M510 707h10M532 707h2M538 707h6M552 707h2M562 707h14M532 709h4M538 709h2M562 709h12M518 713h2M528 721h4M516 723h2M520 723h14M512 725h8M522 725h12M554 725h8M514 727h4M552 727h8M512 729h4M552 729h4M538 733h4M608 733h4M538 735h4M608 735h6M608 737h6"/>
<path stroke="#28a0d4" d="M552 661h2M532 673h2M520 703h2"/>
</g>
<g fill="none" stroke-width="2.15" shape-rendering="crispEdges">
<path stroke="#3e6496" d="M976 787h6M868 789h4M874 789h6M966 789h26M864 791h18M960 791h38M862 793h22M954 793h54M860 795h24M950 795h62M858 797h26M944 797h68M1020 797h18M858 799h24M940 799h104M856 801h28M934 801h118M852 803h32M926 803h126M848 805h36M918 805h132M844 807h46M914 807h134M842 809h50M910 809h134M844 811h50M906 811h134M846 813h50M902 813h136M846 815h190M844 817h174M844 819h172M846 821h170M846 823h168M848 825h164M850 827h158M858 829h146M858 831h140M860 833h132M860 835h126M862 837h120M862 839h114M864 841h108M864 843h104M866 845h98M868 847h94M880 849h78M894 851h68M898 853h66M906 855h54M916 857h14M940 857h16"/>
<path stroke="#3e70a0" d="M482 701h8M482 703h8M482 705h8M564 753h12M562 755h16M562 757h16M568 759h4M634 761h8M632 763h12M632 765h12M674 723h2M668 725h12M666 727h14M664 729h18M664 731h16M664 733h14M664 735h14M666 737h10M670 739h4M680 737h4M680 739h4M680 741h4M804 743h14M804 745h14M806 747h10M976 787h6M868 789h4M874 789h6M966 789h26M864 791h18M960 791h38M862 793h22M954 793h54M860 795h24M950 795h62M858 797h26M944 797h68M1020 797h18M858 799h24M940 799h104M856 801h28M934 801h118M852 803h32M926 803h126M848 805h36M918 805h132M844 807h46M914 807h134M842 809h50M910 809h134M844 811h50M906 811h134M846 813h50M902 813h136M846 815h190M844 817h174M844 819h172M846 821h160M1008 821h8M846 823h168M848 825h164M850 827h158M858 829h146M858 831h140M860 833h132M860 835h126M862 837h120M862 839h114M864 841h108M864 843h104M866 845h98M868 847h94M880 849h78M894 851h68M898 853h66M906 855h54M916 857h14M940 857h12M954 857h2M1042 803h8M1040 805h10M1054 805h10M1040 807h10M1052 807h14M1042 809h26M1044 811h26M1042 813h28M1040 815h32M1038 817h38M1036 819h44M1036 821h48M1036 823h50M1034 825h52M1034 827h56M1034 829h58M1032 831h62M1128 831h12M1032 833h66M1122 833h22M1030 835h68M1116 835h30M1030 837h120M1028 839h124M1028 841h128M1028 843h130M1028 845h130M1030 847h128M1030 849h128M1032 851h126M1032 853h128M1034 855h128M1034 857h130M1030 859h134M1024 861h140M1022 863h140M1022 865h136M1018 867h138M1016 869h138M1016 871h136M1016 873h136M1016 875h70M1090 875h60M1016 877h68M1104 877h44M1018 879h64M1108 879h36M1020 881h60M1112 881h28M1034 883h30M1066 883h12M1114 883h20M1036 885h26M1120 885h6M1040 887h18M1046 889h8M520 1113h12M518 1115h24M516 1117h28M514 1119h32M512 1121h38M508 1123h54M506 1125h58M506 1127h60M506 1129h62M506 1131h64M508 1133h66M508 1135h74M510 1137h78M510 1139h80M510 1141h80M510 1143h80M508 1145h82M506 1147h86M504 1149h90M502 1151h94M500 1153h98M500 1155h98M502 1157h96M506 1159h90M510 1161h84M514 1163h80M516 1165h76M518 1167h70M520 1169h40M542 1171h10M636 1143h26M630 1145h36M620 1147h50M614 1149h56M610 1151h56M608 1153h54M608 1155h52M610 1157h50M614 1159h44M612 1161h42M614 1163h38M618 1165h30M622 1167h8M718 1171h2M716 1173h10M716 1175h10M714 1177h14M700 1179h2M706 1179h4M714 1179h14M698 1181h14M716 1181h10M696 1183h20M720 1183h2M692 1185h28M688 1187h32M688 1189h32M686 1191h32M686 1193h32M686 1195h32M688 1197h30M692 1199h26M692 1201h26M694 1203h24M698 1205h18M666 1269h8M668 1271h14M672 1273h16M678 1275h16M680 1277h16M686 1279h12M692 1281h8M818 1359h6M816 1361h8M816 1363h8M818 1365h6"/>
<path stroke="#3878a8" d="M484 701h4M482 703h8M484 705h4M568 753h6M566 755h8M568 757h4M634 763h8M636 765h2M676 725h2M666 727h8M668 729h2M668 731h2M674 731h2M666 733h4M672 733h2M676 733h2M668 735h6M670 737h4M682 737h2M680 739h4M806 743h10M806 745h10M808 747h6M976 787h6M868 789h4M874 789h6M966 789h6M980 789h12M864 791h18M966 791h4M974 791h2M982 791h6M994 791h4M862 793h22M954 793h2M958 793h4M966 793h4M972 793h6M980 793h10M994 793h4M1004 793h4M860 795h24M954 795h44M1004 795h6M858 797h26M950 797h2M954 797h24M980 797h4M990 797h6M998 797h2M1010 797h2M1020 797h4M1026 797h8M858 799h24M942 799h16M960 799h26M988 799h14M1012 799h2M1020 799h16M856 801h28M934 801h2M938 801h22M962 801h32M996 801h4M1020 801h20M1042 801h2M852 803h32M932 803h68M1004 803h8M1014 803h24M1042 803h6M848 805h36M926 805h74M1002 805h36M1042 805h6M844 807h2M850 807h38M918 807h2M926 807h112M1040 807h4M1046 807h2M842 809h4M850 809h40M912 809h2M916 809h124M844 811h50M906 811h8M918 811h102M1022 811h18M846 813h50M902 813h2M906 813h6M914 813h98M1016 813h20M848 815h46M896 815h112M1014 815h4M1020 815h4M844 817h166M1012 817h4M844 819h162M1008 819h8M848 821h156M1010 821h6M848 823h2M854 823h152M1010 823h4M848 825h2M854 825h32M888 825h112M1002 825h6M850 827h34M886 827h94M982 827h18M1004 827h4M858 829h144M858 831h118M978 831h6M988 831h2M994 831h4M860 833h28M892 833h94M988 833h2M860 835h28M890 835h10M904 835h74M980 835h6M862 837h18M888 837h12M904 837h72M862 839h14M878 839h2M882 839h14M900 839h2M904 839h72M864 841h14M882 841h12M898 841h74M864 843h6M872 843h8M882 843h86M878 845h10M890 845h74M876 847h2M882 847h2M890 847h16M908 847h34M952 847h10M880 849h2M886 849h10M900 849h4M906 849h4M912 849h18M932 849h10M948 849h6M896 851h32M930 851h12M952 851h8M900 853h18M920 853h10M932 853h12M952 853h4M912 855h4M922 855h8M934 855h2M940 855h10M922 857h8M940 857h2M944 857h6M1042 803h8M1040 805h10M1054 805h2M1058 805h6M1040 807h10M1052 807h2M1056 807h4M1062 807h2M1042 809h18M1062 809h6M1044 811h22M1068 811h2M1042 813h28M1040 815h32M1038 817h38M1036 819h44M1036 821h46M1036 823h4M1042 823h44M1034 825h2M1038 825h48M1034 827h56M1034 829h58M1032 831h58M1092 831h2M1138 831h2M1032 833h66M1122 833h6M1130 833h4M1138 833h2M1032 835h66M1116 835h12M1130 835h16M1030 837h72M1104 837h14M1124 837h22M1148 837h2M1028 839h80M1110 839h10M1122 839h30M1028 841h128M1028 843h128M1028 845h2M1032 845h124M1034 847h124M1030 849h128M1032 851h126M1032 853h126M1034 855h124M1034 857h122M1158 857h6M1032 859h132M1026 861h134M1024 863h134M1022 865h136M1018 867h134M1154 867h2M1016 869h134M1016 871h88M1106 871h44M1016 873h70M1088 873h58M1018 875h68M1090 875h14M1106 875h42M1018 877h66M1108 877h40M1020 879h62M1108 879h34M1020 881h48M1070 881h10M1112 881h4M1122 881h18M1034 883h30M1070 883h8M1122 883h4M1130 883h4M1038 885h12M1052 885h10M1042 887h16M1046 889h8M1240 971h6M1238 973h10M1238 975h10M1238 977h10M1238 979h10M1238 981h10M1240 983h6M1240 985h6M1294 1003h6M1292 1005h10M1292 1007h10M1292 1009h10M1294 1011h6M1184 1027h2M1182 1029h8M1180 1031h12M1180 1033h12M1180 1035h12M1182 1037h10M1182 1039h8M1184 1041h2M306 1045h2M304 1047h8M304 1049h8M304 1051h8M306 1053h2M262 833h2M258 835h8M256 837h10M258 839h8M258 841h8M520 1113h12M518 1115h24M516 1117h28M514 1119h32M512 1121h38M508 1123h54M506 1125h58M506 1127h60M506 1129h62M506 1131h64M508 1133h66M508 1135h74M510 1137h78M510 1139h80M510 1141h80M510 1143h80M508 1145h82M506 1147h86M504 1149h90M502 1151h94M502 1153h96M500 1155h98M502 1157h96M506 1159h90M510 1161h84M514 1163h80M516 1165h70M588 1165h4M518 1167h66M520 1169h40M542 1171h10M636 1143h18M660 1143h2M634 1145h22M660 1145h2M620 1147h44M666 1147h4M616 1149h54M610 1151h56M608 1153h54M608 1155h52M610 1157h50M614 1159h44M612 1161h42M614 1163h38M622 1165h10M640 1165h2M646 1165h2M622 1167h8M718 1171h2M716 1173h10M716 1175h10M714 1177h14M700 1179h2M706 1179h4M714 1179h14M698 1181h14M716 1181h10M696 1183h20M720 1183h2M692 1185h28M688 1187h32M688 1189h32M686 1191h2M690 1191h28M686 1193h30M686 1195h32M688 1197h30M692 1199h26M692 1201h26M694 1203h24M698 1205h18M666 1201h10M664 1203h14M664 1205h14M664 1207h14M666 1209h10M668 1211h4M698 1201h18M698 1203h20M698 1205h16M704 1207h6M738 1217h10M738 1219h12M738 1221h14M736 1223h16M736 1225h16M736 1227h16M738 1229h10M740 1231h6M670 1235h4M668 1237h10M668 1239h12M668 1241h12M670 1243h8M672 1245h2M684 1253h4M684 1255h6M684 1257h6M672 1269h2M674 1271h8M674 1273h14M678 1275h14M682 1277h14M686 1279h12M692 1281h8M750 1285h2M746 1287h10M746 1289h10M868 1261h2M866 1263h6M866 1265h6M866 1267h6M884 1205h4M884 1207h4M810 1201h8M810 1203h8M810 1205h8M642 1321h12M642 1323h14M642 1325h12M648 1327h2M754 1333h8M754 1335h8M756 1337h4M818 1359h4M818 1361h6M818 1363h6M820 1365h2M632 1381h2M630 1383h8M628 1385h10M628 1387h10M650 1391h14M650 1393h16M650 1395h14M652 1397h8M736 1379h10M736 1381h12M734 1383h14M736 1385h12M738 1387h6M632 1449h4M630 1451h8M628 1453h12M628 1455h12M628 1457h10M632 1459h4M474 1509h6M472 1511h10M470 1513h12M470 1515h12M472 1517h10M472 1519h8M502 1525h6M500 1527h12M500 1529h12M500 1531h12M500 1533h10M502 1535h8M540 1545h6M538 1547h10M536 1549h14M538 1551h10M538 1553h10M540 1555h6"/>
<path stroke="#3084b8" d="M868 789h4M878 789h2M968 789h2M984 789h2M866 791h6M874 791h8M984 791h2M996 791h2M864 793h20M1006 793h2M862 795h20M960 795h4M966 795h6M994 795h2M862 797h22M960 797h18M992 797h2M860 799h22M954 799h2M962 799h12M982 799h4M990 799h4M998 799h2M1028 799h4M856 801h28M944 801h2M954 801h4M964 801h10M978 801h8M998 801h2M1026 801h2M854 803h4M860 803h24M934 803h6M954 803h10M966 803h4M972 803h2M976 803h12M1020 803h8M1032 803h4M1044 803h2M854 805h30M932 805h10M952 805h12M970 805h4M978 805h10M990 805h8M1006 805h6M1016 805h20M852 807h4M860 807h2M864 807h18M928 807h14M944 807h8M954 807h12M968 807h6M978 807h10M990 807h6M1000 807h12M1014 807h24M852 809h4M860 809h22M886 809h2M918 809h2M930 809h12M944 809h32M978 809h16M998 809h4M1006 809h2M1012 809h6M1022 809h4M1028 809h10M848 811h24M874 811h8M886 811h8M922 811h54M978 811h22M1018 811h2M1024 811h14M846 813h4M856 813h28M886 813h2M922 813h76M1000 813h4M852 815h36M908 815h2M918 815h2M924 815h56M984 815h20M848 817h10M860 817h54M926 817h54M984 817h20M846 819h68M918 819h16M936 819h38M978 819h22M850 821h136M996 821h4M856 823h128M988 823h4M996 823h2M1002 823h2M856 825h30M888 825h88M978 825h4M986 825h6M854 827h2M858 827h26M888 827h92M984 827h4M992 827h2M998 827h2M858 829h122M858 831h26M890 831h84M980 831h2M860 833h24M892 833h84M980 833h4M860 835h24M890 835h8M906 835h68M982 835h2M862 837h18M888 837h6M904 837h72M862 839h14M888 839h2M906 839h70M864 841h10M884 841h8M906 841h6M918 841h54M864 843h6M884 843h4M900 843h6M908 843h4M916 843h52M896 845h6M910 845h2M916 845h8M926 845h18M948 845h16M892 847h2M902 847h2M914 847h18M936 847h6M952 847h10M912 849h12M934 849h8M906 851h4M914 851h6M938 851h4M902 853h2M922 853h2M934 853h2M940 853h2M922 855h2M942 855h2M922 857h2M1044 803h2M1048 803h2M1040 805h10M1040 807h10M1052 807h2M1042 809h18M1044 811h20M1042 813h26M1042 815h30M1042 817h34M1040 819h38M1040 821h40M1042 823h40M1040 825h46M1038 827h44M1088 827h2M1036 829h46M1086 829h4M1036 831h48M1086 831h2M1092 831h2M1032 833h6M1042 833h46M1092 833h4M1122 833h4M1032 835h8M1042 835h46M1124 835h2M1132 835h2M1034 837h58M1110 837h4M1132 837h6M1028 839h4M1038 839h56M1096 839h2M1104 839h4M1110 839h4M1116 839h2M1126 839h12M1028 841h4M1034 841h2M1038 841h58M1110 841h28M1140 841h4M1146 841h2M1152 841h4M1030 843h64M1098 843h4M1106 843h6M1118 843h20M1142 843h6M1150 843h6M1036 845h60M1098 845h6M1106 845h8M1116 845h34M1036 847h114M1032 849h110M1144 849h8M1156 849h2M1032 851h6M1040 851h92M1134 851h18M1034 853h4M1040 853h108M1152 853h2M1034 855h112M1152 855h4M1034 857h2M1040 857h114M1040 859h120M1030 861h4M1036 861h108M1148 861h8M1024 863h4M1030 863h4M1036 863h78M1116 863h28M1146 863h8M1022 865h6M1030 865h4M1040 865h46M1088 865h8M1098 865h6M1106 865h34M1142 865h8M1020 867h16M1042 867h44M1092 867h54M1148 867h2M1018 869h4M1024 869h12M1042 869h46M1090 869h4M1098 869h4M1108 869h6M1118 869h28M1024 871h16M1042 871h42M1086 871h8M1100 871h2M1108 871h6M1118 871h18M1142 871h2M1020 873h20M1042 873h42M1090 873h2M1094 873h4M1108 873h22M1132 873h6M1142 873h4M1020 875h20M1042 875h40M1094 875h4M1108 875h10M1122 875h10M1136 875h2M1142 875h4M1022 877h6M1030 877h8M1042 877h34M1080 877h2M1108 877h6M1122 877h10M1134 877h2M1142 877h4M1022 879h46M1070 879h12M1122 879h8M1134 879h2M1022 881h2M1028 881h4M1036 881h26M1070 881h10M1122 881h4M1136 881h2M1036 883h12M1052 883h4M1058 883h4M1072 883h4M1040 885h8M1052 885h6M1044 887h4M1240 973h6M1238 975h10M1238 977h10M1238 979h10M1240 981h8M1240 983h6M1242 985h2M1296 1005h2M1294 1007h6M1296 1009h2M1184 1029h2M1182 1031h8M1182 1033h8M1182 1035h8M1182 1037h8M1184 1039h2M306 1049h4M260 837h4M260 839h4M520 1113h12M518 1115h24M516 1117h28M514 1119h32M512 1121h38M508 1123h54M506 1125h58M506 1127h60M506 1129h62M506 1131h64M508 1133h66M508 1135h70M580 1135h2M510 1137h62M574 1137h4M510 1139h72M588 1139h2M510 1141h66M578 1141h6M586 1141h4M510 1143h80M512 1145h76M514 1147h74M504 1149h78M586 1149h4M502 1151h80M584 1151h6M502 1153h90M500 1155h98M502 1157h74M580 1157h18M506 1159h90M512 1161h80M514 1163h4M520 1163h66M588 1163h4M516 1165h2M522 1165h40M564 1165h14M580 1165h4M522 1167h26M550 1167h8M562 1167h16M520 1169h2M528 1169h6M536 1169h22M544 1171h8M642 1143h6M636 1145h18M620 1147h4M628 1147h4M634 1147h12M648 1147h6M658 1147h4M620 1149h26M648 1149h6M656 1149h10M620 1151h46M610 1153h8M620 1153h38M608 1155h4M614 1155h6M622 1155h32M610 1157h34M648 1157h6M614 1159h38M612 1161h40M628 1163h6M636 1163h6M718 1171h2M718 1173h6M718 1175h8M714 1177h14M714 1179h14M698 1181h4M710 1181h2M716 1181h10M696 1183h20M720 1183h2M692 1185h24M688 1187h2M692 1187h26M688 1189h30M686 1191h2M692 1191h22M686 1193h2M692 1193h22M690 1195h28M690 1197h28M692 1199h24M692 1201h24M696 1203h22M698 1205h16M668 1201h6M666 1203h10M664 1205h12M666 1207h10M668 1209h6M698 1201h18M698 1203h20M698 1205h16M704 1207h4M740 1219h8M738 1221h12M738 1223h12M738 1225h12M738 1227h10M742 1229h4M670 1239h6M672 1241h4M686 1255h2M674 1271h6M674 1273h6M686 1275h4M688 1277h4M690 1279h6M750 1287h2M750 1289h4M866 1265h4M812 1201h4M812 1203h4M812 1205h4M644 1321h8M644 1323h10M644 1325h8M756 1335h4M632 1383h2M630 1385h6M656 1391h2M652 1393h10M652 1395h10M738 1379h6M738 1381h8M736 1383h12M738 1385h8M634 1449h2M630 1451h8M630 1453h8M630 1455h10M630 1457h8M542 1543h2M538 1545h10M536 1547h14M536 1549h16M538 1551h12M538 1553h12M538 1555h10M474 1511h6M472 1513h8M472 1515h8M474 1517h6M502 1527h6M502 1529h8M502 1531h8M502 1533h6M542 1545h2M538 1547h10M538 1549h10M538 1551h10M538 1553h10M540 1555h6M506 1565h6M504 1567h10M504 1569h12M504 1571h12M504 1573h10M506 1575h6M522 1559h6M520 1561h10M520 1563h10M520 1565h12M520 1567h10M520 1569h8M514 1601h6M512 1603h12M512 1605h12M512 1607h12M512 1609h12M514 1611h8M514 1613h4M550 1613h2M546 1615h10M546 1617h12M544 1619h14M544 1621h14M544 1623h14M548 1625h8"/>
<path stroke="#2c94c4" d="M868 791h2M864 793h14M862 795h18M862 797h18M970 797h2M864 799h18M982 799h2M862 801h22M956 801h2M982 801h4M862 803h22M956 803h2M984 803h2M862 805h18M934 805h6M954 805h10M864 807h12M934 807h6M946 807h4M954 807h4M960 807h4M970 807h2M978 807h4M1016 807h2M1034 807h2M852 809h2M862 809h4M870 809h6M886 809h2M936 809h6M946 809h6M960 809h10M986 809h2M860 811h12M876 811h2M880 811h2M930 811h8M940 811h4M950 811h12M964 811h8M982 811h10M860 813h22M928 813h8M942 813h20M966 813h6M978 813h18M1000 813h4M860 815h22M926 815h10M938 815h2M944 815h6M956 815h8M966 815h14M984 815h8M998 815h6M852 817h2M860 817h26M888 817h18M926 817h2M932 817h2M936 817h4M944 817h2M950 817h20M998 817h6M852 819h4M858 819h26M886 819h26M930 819h2M936 819h4M944 819h4M950 819h6M958 819h4M964 819h6M856 821h70M932 821h26M960 821h4M966 821h4M978 821h2M856 823h94M952 823h14M856 825h30M888 825h70M960 825h6M858 827h26M888 827h78M972 827h2M858 829h26M888 829h86M858 831h26M890 831h82M860 833h24M892 833h82M860 835h24M908 835h66M862 837h18M906 837h2M914 837h62M862 839h14M914 839h62M864 841h10M918 841h54M864 843h6M922 843h46M916 845h2M920 845h2M928 845h16M948 845h16M936 847h6M952 847h10M938 849h2M938 851h2M1046 809h6M1054 809h6M1044 811h18M1042 813h26M1042 815h30M1042 817h34M1040 819h38M1040 821h40M1042 823h38M1044 825h38M1040 827h42M1044 829h38M1044 831h40M1092 831h2M1042 833h42M1034 835h4M1042 835h44M1036 837h2M1040 837h48M1090 837h2M1040 839h52M1112 839h2M1040 841h54M1118 841h12M1134 841h4M1040 843h54M1108 843h2M1120 843h8M1134 843h2M1152 843h2M1040 845h56M1100 845h2M1108 845h4M1120 845h10M1132 845h6M1144 845h2M1042 847h54M1106 847h4M1124 847h14M1146 847h2M1042 849h54M1104 849h4M1116 849h22M1146 849h2M1034 851h4M1042 851h70M1118 851h12M1142 851h4M1042 853h66M1110 853h2M1114 853h14M1142 853h4M1044 855h56M1102 855h8M1112 855h14M1130 855h2M1136 855h8M1044 857h50M1096 857h4M1104 857h16M1122 857h6M1136 857h8M1152 857h2M1044 859h46M1094 859h6M1104 859h16M1122 859h6M1136 859h8M1148 859h6M1038 861h50M1094 861h6M1102 861h12M1120 861h8M1132 861h10M1148 861h4M1040 863h50M1094 863h2M1100 863h14M1120 863h18M1024 865h2M1044 865h42M1092 865h4M1100 865h2M1108 865h4M1122 865h10M1024 867h4M1046 867h40M1122 867h12M1142 867h2M1024 869h4M1030 869h4M1044 869h40M1110 869h2M1120 869h14M1140 869h4M1026 871h10M1042 871h42M1090 871h2M1120 871h4M1026 873h6M1036 873h2M1042 873h24M1068 873h16M1126 873h2M1020 875h2M1026 875h2M1030 875h2M1036 875h2M1044 875h14M1066 875h6M1074 875h8M1124 875h4M1022 877h4M1032 877h2M1046 877h10M1058 877h2M1048 879h12M1064 879h2M1074 879h2M1038 881h2M1044 881h2M1052 881h2M1058 881h4M1044 883h2M1052 883h4M1054 885h2M1242 975h2M1240 977h6M1240 979h6M1242 981h2M520 1113h12M518 1115h24M516 1117h28M514 1119h32M512 1121h38M508 1123h54M506 1125h58M506 1127h60M506 1129h62M506 1131h62M508 1133h62M508 1135h62M510 1137h60M576 1137h2M510 1139h60M510 1141h64M578 1141h4M588 1141h2M510 1143h60M572 1143h4M578 1143h12M512 1145h60M584 1145h4M514 1147h68M510 1149h2M516 1149h64M504 1151h8M514 1151h66M586 1151h2M510 1153h4M516 1153h64M582 1153h8M506 1155h2M510 1155h4M516 1155h50M570 1155h6M582 1155h10M506 1157h64M572 1157h2M588 1157h8M514 1159h62M580 1159h2M586 1159h6M520 1161h58M580 1161h2M586 1161h4M520 1163h38M560 1163h2M566 1163h4M572 1163h6M522 1165h32M566 1165h2M570 1165h6M526 1167h22M552 1167h4M564 1167h2M570 1167h2M538 1169h2M544 1169h4M642 1145h4M636 1147h10M650 1147h2M622 1149h2M628 1149h4M636 1149h8M648 1149h4M660 1149h2M622 1151h4M630 1151h2M638 1151h6M648 1151h8M632 1153h4M642 1153h4M648 1153h2M652 1153h4M616 1155h2M624 1155h6M632 1155h4M642 1155h2M620 1157h10M634 1157h4M620 1159h6M628 1159h4M636 1159h2M630 1161h4M636 1161h2M644 1161h2M630 1163h2M720 1173h4M718 1175h8M716 1177h12M716 1179h12M710 1181h2M718 1181h2M698 1183h6M696 1185h14M712 1185h4M688 1187h2M692 1187h22M692 1189h22M692 1191h22M692 1193h22M692 1195h22M694 1197h22M696 1199h16M696 1201h6M708 1201h4M696 1203h4M708 1203h4M702 1205h4M710 1205h2M698 1201h18M698 1203h18M700 1205h12M676 1273h2M632 1453h4M632 1455h4M540 1547h6M540 1549h8M540 1551h8M540 1553h6M540 1549h6M540 1551h6M506 1567h6M506 1569h8M506 1571h8M508 1573h4M522 1561h6M520 1563h10M520 1565h10M520 1567h10M524 1569h2M516 1603h4M514 1605h8M514 1607h8M514 1609h8M548 1617h6M548 1619h8M546 1621h10M548 1623h8M1022 1357h6M1022 1359h10M1022 1361h10M1022 1363h8M1024 1365h4"/>
<path stroke="#28a0d4" d="M864 793h12M862 795h18M862 797h18M864 799h18M862 801h22M862 803h22M862 805h16M864 807h12M870 809h4M948 809h2M862 811h10M950 811h4M966 811h4M862 813h14M1000 813h4M862 815h20M932 815h2M960 815h2M998 815h6M860 817h24M892 817h2M896 817h10M938 817h2M960 817h2M964 817h6M998 817h6M860 819h24M886 819h24M938 819h2M952 819h2M964 819h6M858 821h64M946 821h2M954 821h2M966 821h2M856 823h86M944 823h2M954 823h4M962 823h2M856 825h28M888 825h58M948 825h4M858 827h26M888 827h68M960 827h6M858 829h26M888 829h82M858 831h26M890 831h82M862 833h22M892 833h82M862 835h20M908 835h66M862 837h16M914 837h62M862 839h14M914 839h62M864 841h10M918 841h54M866 843h2M922 843h46M932 845h12M948 845h16M936 847h6M954 847h8M1046 809h6M1054 809h6M1044 811h18M1042 813h26M1042 815h30M1042 817h34M1040 819h38M1042 821h38M1044 823h36M1044 825h38M1046 827h36M1044 829h38M1044 831h40M1042 833h42M1044 835h42M1040 837h48M1040 839h52M1040 841h54M1040 843h54M1120 843h4M1040 845h54M1042 847h54M1126 847h4M1132 847h4M1042 849h54M1124 849h6M1042 851h50M1104 851h2M1126 851h2M1044 853h46M1104 853h2M1120 853h2M1044 855h46M1104 855h2M1114 855h2M1122 855h4M1044 857h46M1106 857h8M1122 857h4M1044 859h46M1104 859h6M1112 859h2M1122 859h2M1150 859h2M1044 861h44M1104 861h6M1046 863h42M1102 863h2M1108 863h4M1048 865h38M1046 867h40M1032 869h2M1044 869h40M1130 869h2M1030 871h4M1044 871h40M1042 873h22M1070 873h4M1076 873h8M1044 875h14M1076 875h6M1046 877h8M1050 879h2M1056 879h2M520 1113h12M518 1115h24M516 1117h28M514 1119h32M512 1121h36M508 1123h54M506 1125h58M506 1127h60M506 1129h62M506 1131h62M508 1133h60M508 1135h62M510 1137h60M510 1139h60M510 1141h60M510 1143h60M514 1145h56M514 1147h54M516 1149h56M578 1149h2M514 1151h58M516 1153h52M572 1153h4M584 1153h2M516 1155h50M572 1155h4M518 1157h48M590 1157h2M518 1159h46M566 1159h4M520 1161h42M568 1161h2M522 1163h36M522 1165h28M528 1167h20M642 1145h2M642 1147h2M640 1149h2M622 1151h2M650 1151h2M634 1155h2M630 1161h2M718 1175h6M718 1177h8M718 1179h6M698 1183h6M696 1185h12M694 1187h18M694 1189h20M692 1191h22M694 1193h20M692 1195h22M694 1197h20M696 1199h10M698 1201h2M710 1203h2M700 1201h8M712 1201h2M698 1203h18M704 1205h8M1024 1357h2M1022 1359h8M1022 1361h8M1024 1363h4"/>
<path stroke="#2cb0e0" d="M866 793h10M862 795h18M864 797h16M864 799h18M862 801h22M862 803h20M862 805h16M864 807h12M870 809h4M862 811h8M952 811h2M862 813h10M874 813h2M1002 813h2M862 815h20M998 815h6M860 817h24M896 817h6M904 817h2M960 817h2M964 817h6M998 817h6M860 819h24M886 819h2M892 819h18M938 819h2M964 819h6M860 821h54M918 821h2M966 821h2M858 823h26M886 823h56M954 823h4M858 825h26M890 825h54M948 825h4M858 827h26M888 827h68M960 827h4M858 829h26M888 829h82M860 831h24M894 831h78M862 833h20M894 833h80M862 835h18M912 835h62M862 837h16M914 837h62M864 839h12M914 839h62M864 841h10M918 841h54M922 843h46M932 845h12M948 845h2M954 845h10M936 847h6M956 847h6M1048 809h4M1054 809h4M1046 811h16M1042 813h26M1042 815h30M1042 817h26M1072 817h4M1040 819h38M1042 821h34M1044 823h32M1078 823h2M1044 825h36M1046 827h34M1046 829h36M1044 831h38M1044 833h4M1050 833h34M1044 835h42M1040 837h48M1040 839h52M1040 841h54M1042 843h52M1042 845h52M1042 847h54M1126 847h2M1042 849h54M1126 849h2M1042 851h50M1046 853h44M1044 855h46M1122 855h2M1044 857h46M1124 857h2M1044 859h46M1106 859h2M1044 861h44M1104 861h4M1046 863h42M1110 863h2M1048 865h38M1046 867h40M1044 869h40M1044 871h22M1068 871h6M1076 871h8M1044 873h20M1070 873h4M1076 873h8M1044 875h12M1078 875h4M1046 877h8M520 1113h12M518 1115h18M538 1115h4M516 1117h20M538 1117h6M516 1119h30M512 1121h36M508 1123h48M558 1123h4M506 1125h58M506 1127h60M510 1129h58M510 1131h58M508 1133h60M508 1135h62M510 1137h60M510 1139h60M510 1141h60M510 1143h2M514 1143h56M516 1145h54M516 1147h50M516 1149h50M568 1149h4M514 1151h56M516 1153h50M572 1153h4M516 1155h48M518 1157h46M518 1159h46M566 1159h2M520 1161h42M522 1163h34M524 1165h24M528 1167h4M536 1167h12M718 1175h6M718 1177h8M718 1179h6M698 1183h2M696 1185h12M696 1187h16M694 1189h18M694 1191h20M694 1193h18M694 1195h20M694 1197h20M696 1199h8M698 1201h2M700 1201h8M700 1203h12M708 1205h2M1024 1361h4"/>
<path stroke="#50f038" d="M866 793h10M864 795h14M864 797h16M864 799h18M862 801h22M862 803h20M864 805h14M864 807h12M862 811h2M862 813h10M874 813h2M862 815h20M1000 815h4M860 817h24M898 817h4M964 817h6M998 817h6M860 819h22M886 819h2M894 819h16M964 819h6M860 821h22M884 821h28M966 821h2M860 823h24M888 823h42M932 823h8M954 823h2M858 825h26M890 825h52M860 827h22M888 827h56M946 827h10M960 827h2M860 829h22M888 829h70M960 829h10M862 831h20M894 831h78M862 833h20M894 833h76M972 833h2M862 835h18M914 835h58M862 837h16M914 837h62M864 839h12M914 839h60M918 841h54M922 843h44M932 845h12M954 845h10M936 847h6M956 847h2M1048 809h4M1054 809h4M1046 811h16M1046 813h16M1064 813h2M1042 815h26M1070 815h2M1042 817h26M1072 817h4M1040 819h32M1074 819h4M1042 821h16M1062 821h12M1044 823h32M1044 825h36M1048 827h32M1046 829h36M1044 831h38M1044 833h4M1050 833h34M1044 835h38M1084 835h2M1040 837h46M1040 839h52M1040 841h52M1042 843h50M1042 845h52M1042 847h52M1044 849h46M1092 849h4M1126 849h2M1046 851h44M1048 853h34M1084 853h6M1046 855h36M1046 857h40M1046 859h42M1106 859h2M1044 861h10M1056 861h28M1086 861h2M1106 861h2M1048 863h38M1048 865h38M1046 867h38M1046 869h30M1078 869h6M1044 871h22M1070 871h2M1076 871h6M1044 873h14M1062 873h2M1070 873h2M1078 873h6M1046 875h10M1080 875h2M1046 877h8M524 1113h4M530 1113h2M520 1115h8M534 1115h2M538 1115h4M518 1117h18M538 1117h4M516 1119h30M514 1121h32M508 1123h2M512 1123h36M550 1123h4M560 1123h2M506 1125h56M508 1127h58M510 1129h58M510 1131h56M508 1133h60M508 1135h62M510 1137h60M510 1139h60M510 1141h2M514 1141h54M510 1143h2M514 1143h54M516 1145h54M516 1147h46M564 1147h2M516 1149h46M564 1149h2M514 1151h44M562 1151h2M566 1151h4M516 1153h48M516 1155h48M518 1157h46M520 1159h42M522 1161h34M558 1161h4M524 1163h30M524 1165h18M528 1167h4M538 1167h2M544 1167h2M720 1175h4M718 1177h8M696 1185h12M696 1187h16M694 1189h18M694 1191h20M696 1193h16M696 1195h16M696 1197h18M696 1199h8M698 1201h2M568 1079h4M700 1201h8M700 1203h10M516 1571h8M514 1573h12M514 1575h12M514 1577h12M516 1579h8M518 1581h4M530 1565h10M530 1567h10M530 1569h12M530 1571h12M530 1573h8M532 1575h4M1040 1347h12M1038 1349h14M1038 1351h12M1036 1353h10M1038 1355h4"/>
<path stroke="#48e034" d="M866 793h10M866 795h12M864 797h16M864 799h18M862 801h22M862 803h16M880 803h2M866 805h12M866 807h4M872 807h2M864 813h8M874 813h2M862 815h20M1000 815h4M860 817h24M898 817h4M964 817h6M1000 817h4M860 819h22M886 819h2M896 819h14M964 819h6M860 821h22M886 821h4M892 821h18M860 823h24M892 823h24M918 823h2M924 823h6M932 823h6M860 825h24M892 825h50M860 827h22M890 827h52M946 827h8M864 829h18M894 829h62M960 829h4M966 829h4M862 831h20M894 831h78M862 833h20M896 833h2M902 833h2M906 833h4M912 833h58M862 835h18M914 835h56M864 837h14M914 837h58M864 839h12M914 839h32M948 839h24M918 841h54M922 843h40M932 845h12M956 845h4M936 847h6M1056 809h2M1048 811h12M1046 813h16M1042 815h20M1064 815h4M1042 817h26M1042 819h26M1076 819h2M1044 821h14M1062 821h10M1044 823h32M1044 825h34M1048 827h32M1046 829h36M1044 831h4M1050 831h32M1044 833h2M1052 833h30M1046 835h36M1042 837h2M1046 837h40M1042 839h46M1090 839h2M1050 841h32M1084 841h6M1044 843h4M1052 843h40M1042 845h52M1042 847h52M1044 849h44M1048 851h42M1048 853h34M1046 855h36M1046 857h38M1048 859h38M1048 861h6M1056 861h26M1050 863h4M1056 863h8M1066 863h10M1080 863h6M1048 865h18M1068 865h10M1080 865h4M1048 867h28M1080 867h4M1046 869h22M1070 869h4M1080 869h2M1046 871h20M1070 871h2M1078 871h4M1046 873h12M1070 873h2M1080 873h2M1046 875h10M1048 877h4M522 1115h6M522 1117h6M532 1117h4M522 1119h18M544 1119h2M516 1121h10M528 1121h18M514 1123h12M530 1123h18M550 1123h4M508 1125h4M514 1125h48M510 1127h56M510 1129h56M512 1131h54M512 1133h56M510 1135h58M510 1137h60M510 1139h60M510 1141h2M516 1141h50M510 1143h2M514 1143h54M516 1145h46M564 1145h4M516 1147h46M516 1149h44M514 1151h44M568 1151h2M516 1153h48M516 1155h48M518 1157h46M520 1159h42M522 1161h34M524 1163h30M524 1165h18M528 1167h4M718 1177h4M696 1185h10M696 1187h12M694 1189h18M696 1191h14M696 1193h14M696 1195h16M696 1197h8M696 1199h6M660 993h4M658 995h8M656 997h12M656 999h14M656 1001h12M656 1003h12M568 1079h2M702 1201h4M700 1203h6M516 1571h8M516 1573h10M514 1575h12M514 1577h12M516 1579h8M518 1581h2M530 1565h8M530 1567h10M530 1569h10M530 1571h10M532 1573h6M1042 1347h8M1040 1349h10M1038 1351h10M1038 1353h6"/>
<path stroke="#44c830" d="M866 793h10M866 795h10M864 797h16M864 799h16M862 801h22M862 803h16M880 803h2M866 805h12M866 807h4M872 807h2M864 813h6M874 813h2M862 815h20M1000 815h4M860 817h24M964 817h6M1000 817h4M860 819h22M896 819h4M904 819h6M966 819h2M860 821h22M886 821h2M892 821h18M860 823h24M892 823h16M910 823h6M924 823h6M932 823h4M860 825h24M892 825h48M860 827h22M892 827h50M948 827h6M864 829h16M894 829h62M960 829h2M968 829h2M862 831h18M896 831h12M910 831h60M864 833h18M912 833h56M864 835h16M914 835h56M864 837h14M914 837h32M948 837h22M870 839h6M914 839h32M948 839h22M918 841h28M948 841h16M966 841h6M922 843h24M948 843h14M932 845h12M956 845h4M936 847h6M1048 811h2M1052 811h6M1046 813h14M1044 815h18M1044 817h18M1064 817h2M1044 819h16M1062 819h4M1044 821h14M1062 821h2M1068 821h2M1044 823h14M1060 823h16M1048 825h6M1056 825h22M1050 827h4M1056 827h24M1048 829h34M1050 831h32M1044 833h2M1052 833h30M1046 835h36M1046 837h40M1048 839h38M1090 839h2M1050 841h32M1084 841h6M1052 843h38M1044 845h4M1050 845h42M1042 847h4M1048 847h44M1048 849h40M1048 851h40M1048 853h34M1048 855h34M1048 857h36M1048 859h6M1058 859h26M1050 861h4M1058 861h24M1050 863h4M1056 863h4M1062 863h2M1066 863h10M1080 863h4M1052 865h14M1068 865h8M1082 865h2M1048 867h18M1070 867h4M1046 869h20M1070 869h4M1046 871h18M1046 873h12M1070 873h2M1046 875h8M1050 877h2M524 1115h2M524 1117h4M524 1119h12M538 1119h2M518 1121h8M528 1121h14M544 1121h2M518 1123h8M532 1123h14M518 1125h2M528 1125h2M534 1125h28M512 1127h4M524 1127h14M540 1127h24M510 1129h26M538 1129h26M512 1131h54M514 1133h52M516 1135h52M510 1137h4M518 1137h50M510 1139h58M516 1141h50M514 1143h46M562 1143h6M516 1145h44M516 1147h40M558 1147h4M516 1149h42M514 1151h44M516 1153h42M516 1155h48M518 1157h44M520 1159h36M558 1159h4M522 1161h34M524 1163h30M524 1165h18M528 1167h4M720 1177h2M696 1187h8M706 1187h2M694 1189h14M696 1191h14M696 1193h14M696 1195h12M698 1197h6M698 1199h2M660 993h4M658 995h8M656 997h12M656 999h12M656 1001h12M656 1003h12M704 1201h2M702 1203h2M518 1573h4M516 1575h8M518 1577h6M518 1579h2M532 1567h6M532 1569h6M532 1571h6M1042 1349h6M1040 1351h6"/>
<path stroke="#40b82c" d="M866 793h10M866 795h10M864 797h14M864 799h16M864 801h18M864 803h14M866 805h12M866 807h2M864 813h4M874 813h2M862 815h20M860 817h24M964 817h4M860 819h22M898 819h2M966 819h2M860 821h22M894 821h12M860 823h24M892 823h4M900 823h6M910 823h4M924 823h6M860 825h24M894 825h40M938 825h2M860 827h22M892 827h44M950 827h2M864 829h16M896 829h48M950 829h6M864 831h16M902 831h4M912 831h34M948 831h8M958 831h8M864 833h18M912 833h56M864 835h16M914 835h32M948 835h20M864 837h14M914 837h32M948 837h18M968 837h2M870 839h6M914 839h32M950 839h14M968 839h2M918 841h28M948 841h16M968 841h2M922 843h24M948 843h2M954 843h6M932 845h12M956 845h4M936 847h6M1052 811h6M1046 813h14M1044 815h16M1044 817h16M1044 819h14M1046 821h12M1068 821h2M1044 823h14M1060 823h4M1066 823h10M1048 825h6M1058 825h20M1050 827h4M1058 827h22M1050 829h4M1056 829h26M1054 831h28M1054 833h28M1052 835h30M1046 837h36M1084 837h2M1048 839h38M1090 839h2M1052 841h30M1084 841h4M1052 843h38M1044 845h4M1052 845h34M1088 845h4M1044 847h2M1050 847h36M1050 849h38M1050 851h34M1050 853h32M1050 855h4M1056 855h26M1050 857h2M1058 857h24M1058 859h2M1062 859h20M1050 861h2M1058 861h2M1062 861h20M1056 863h4M1066 863h10M1054 865h10M1068 865h8M1050 867h16M1070 867h4M1048 869h18M1046 871h16M1046 873h2M1052 873h4M1046 875h4M524 1117h2M528 1119h6M522 1121h2M530 1121h10M518 1123h6M534 1123h10M534 1125h28M524 1127h2M528 1127h10M540 1127h24M512 1129h2M516 1129h20M538 1129h26M512 1131h4M518 1131h48M516 1133h50M516 1135h50M510 1137h2M520 1137h46M516 1139h50M516 1141h48M514 1143h46M516 1145h44M516 1147h40M558 1147h2M516 1149h40M514 1151h42M516 1153h40M516 1155h40M518 1157h38M558 1157h4M520 1159h36M522 1161h34M524 1163h30M524 1165h18M528 1167h4M698 1187h4M696 1189h10M696 1191h14M696 1193h14M696 1195h12M700 1197h2M662 993h2M658 995h8M656 997h12M656 999h12M656 1001h12M656 1003h12"/>
<path stroke="#38a828" d="M868 793h6M866 795h10M866 797h12M866 799h14M864 801h16M864 803h14M866 805h12M864 813h4M874 813h2M862 815h20M860 817h24M966 817h2M860 819h22M966 819h2M860 821h22M894 821h2M898 821h8M860 823h24M894 823h2M900 823h4M912 823h2M924 823h6M860 825h24M898 825h10M910 825h8M920 825h14M860 827h22M898 827h12M912 827h24M864 829h16M896 829h2M902 829h6M912 829h30M864 831h16M902 831h4M912 831h34M950 831h6M960 831h4M864 833h18M912 833h34M948 833h8M958 833h8M864 835h16M914 835h30M948 835h20M864 837h14M914 837h32M950 837h16M870 839h6M914 839h32M950 839h14M918 841h28M950 841h14M922 843h24M956 843h4M932 845h12M936 847h6M1054 811h2M1048 813h2M1058 813h2M1048 815h12M1044 817h16M1044 819h14M1046 821h10M1068 821h2M1046 823h10M1060 823h4M1068 823h8M1048 825h4M1058 825h20M1058 827h22M1050 829h4M1056 829h26M1054 831h28M1054 833h28M1052 835h30M1048 837h34M1050 839h32M1084 839h2M1052 841h30M1052 843h30M1084 843h4M1052 845h34M1090 845h2M1050 847h36M1050 849h38M1050 851h34M1054 853h28M1058 855h24M1058 857h24M1062 859h20M1064 861h16M1058 863h2M1066 863h10M1056 865h4M1068 865h8M1052 867h14M1070 867h4M1052 869h10M1048 871h2M1052 871h8M1052 873h4M1046 875h2M536 1121h4M518 1123h6M536 1123h6M536 1125h2M542 1125h20M528 1127h2M542 1127h22M520 1129h16M540 1129h24M520 1131h18M542 1131h24M518 1133h48M518 1135h48M520 1137h46M518 1139h48M516 1141h48M516 1143h44M516 1145h44M516 1147h40M558 1147h2M516 1149h40M514 1151h42M516 1153h40M516 1155h40M518 1157h38M560 1157h2M520 1159h36M522 1161h30M554 1161h2M524 1163h30M524 1165h18M528 1167h4M700 1187h2M696 1189h10M696 1191h14M698 1193h12M698 1195h8M658 995h8M656 997h12M656 999h12M656 1001h12M658 1003h10"/>
<path stroke="#2e9822" d="M870 793h4M866 795h10M866 797h12M866 799h12M864 801h16M864 803h14M866 805h10M864 813h4M874 813h2M862 815h20M860 817h24M966 817h2M860 819h22M966 819h2M860 821h22M902 821h2M860 823h24M894 823h2M900 823h4M924 823h4M860 825h24M900 825h8M912 825h4M920 825h12M860 827h22M900 827h8M914 827h22M864 829h16M902 829h4M912 829h30M864 831h16M912 831h28M942 831h2M952 831h2M864 833h18M912 833h32M948 833h6M958 833h8M864 835h16M914 835h30M950 835h2M954 835h4M962 835h4M864 837h14M914 837h32M950 837h14M870 839h6M914 839h32M950 839h4M956 839h8M918 841h28M952 841h2M958 841h2M922 843h24M958 843h2M932 845h12M936 847h6M1054 811h2M1048 815h6M1056 815h2M1044 817h14M1046 819h12M1046 821h10M1046 823h8M1060 823h4M1070 823h6M1048 825h4M1058 825h20M1058 827h22M1056 829h26M1054 831h28M1054 833h28M1054 835h28M1050 837h32M1050 839h2M1054 839h28M1052 841h30M1054 843h28M1052 845h32M1052 847h32M1050 849h2M1054 849h32M1054 851h30M1056 853h26M1058 855h24M1062 857h20M1062 859h20M1066 861h14M1068 863h8M1056 865h4M1068 865h8M1052 867h12M1070 867h4M1054 869h6M1052 871h4M1052 873h4M538 1123h4M542 1125h20M542 1127h22M520 1129h4M526 1129h8M542 1129h22M520 1131h16M542 1131h24M518 1133h48M520 1135h46M520 1137h46M518 1139h48M516 1141h48M516 1143h44M516 1145h44M516 1147h40M516 1149h40M516 1151h40M516 1153h40M516 1155h40M518 1157h2M522 1157h34M522 1159h30M554 1159h2M522 1161h28M524 1163h20M546 1163h6M524 1165h2M528 1165h14M700 1187h2M696 1189h10M696 1191h12M698 1193h10M700 1195h6M658 995h8M656 997h12M656 999h12M656 1001h12M658 1003h8"/>
<path stroke="#2a8a22" d="M870 793h4M866 795h10M866 797h12M866 799h12M864 801h16M864 803h14M866 805h10M864 813h4M874 813h2M862 815h20M860 817h24M860 819h22M966 819h2M860 821h22M860 823h24M900 823h2M924 823h4M860 825h24M900 825h6M912 825h2M920 825h12M860 827h22M902 827h4M914 827h22M864 829h16M902 829h4M912 829h26M864 831h16M912 831h28M864 833h18M912 833h28M950 833h4M960 833h2M864 835h16M914 835h30M950 835h2M954 835h4M864 837h14M914 837h32M950 837h2M956 837h4M962 837h2M870 839h4M914 839h30M950 839h4M956 839h8M918 841h28M922 843h24M932 845h12M936 847h6M1046 817h12M1046 819h10M1046 821h10M1046 823h8M1062 823h2M1070 823h4M1048 825h2M1058 825h20M1058 827h22M1056 829h26M1054 831h28M1054 833h28M1054 835h28M1054 837h28M1054 839h28M1052 841h30M1054 843h28M1054 845h30M1052 847h32M1054 849h32M1054 851h30M1058 853h24M1060 855h22M1062 857h20M1062 859h20M1068 861h12M1068 863h6M1056 865h4M1068 865h6M1054 867h6M1070 867h4M1054 869h6M538 1123h2M542 1125h20M542 1127h22M520 1129h2M528 1129h2M532 1129h2M542 1129h22M520 1131h2M524 1131h12M542 1131h24M520 1133h2M524 1133h14M540 1133h26M520 1135h2M524 1135h42M520 1137h46M520 1139h46M516 1141h48M516 1143h44M516 1145h44M516 1147h40M516 1149h40M516 1151h40M516 1153h38M518 1155h36M524 1157h28M522 1159h30M522 1161h22M548 1161h2M524 1163h18M548 1163h2M696 1189h8M698 1191h10M700 1193h8M702 1195h4M658 995h8M656 997h12M656 999h12M656 1001h12M658 1003h8M1032 1351h6M1030 1353h10M1028 1355h12M1028 1357h10M1032 1359h2"/>
<path stroke="#1e6e1e" d="M872 793h2M866 795h10M866 797h12M866 799h12M864 801h16M864 803h14M866 805h10M864 813h4M874 813h2M862 815h20M860 817h24M860 819h22M860 821h22M860 823h24M924 823h2M860 825h24M902 825h2M922 825h10M860 827h22M902 827h4M914 827h22M864 829h16M912 829h26M864 831h16M912 831h28M864 833h18M914 833h26M864 835h16M914 835h30M956 835h2M868 837h8M914 837h32M956 837h4M962 837h2M870 839h4M916 839h28M952 839h2M958 839h6M920 841h24M924 843h22M934 845h8M936 847h6M1048 817h6M1046 819h6M1046 821h8M1046 823h6M1070 823h4M1048 825h2M1060 825h16M1058 827h20M1056 829h26M1056 831h26M1054 833h28M1054 835h28M1054 837h26M1054 839h28M1054 841h26M1054 843h28M1054 845h30M1054 847h30M1054 849h30M1056 851h26M1062 853h20M1060 855h22M1062 857h20M1064 859h18M1068 861h12M1068 863h6M1070 865h4M1054 867h6M1070 867h4M542 1125h20M542 1127h22M542 1129h22M530 1131h6M542 1131h24M520 1133h2M524 1133h14M540 1133h26M524 1135h42M520 1137h46M522 1139h44M516 1141h4M522 1141h42M516 1143h44M516 1145h44M516 1147h40M518 1149h38M516 1151h36M516 1153h36M518 1155h36M526 1157h26M524 1159h26M522 1161h22M526 1163h8M538 1163h4M698 1189h2M698 1191h10M700 1193h8M660 995h4M656 997h10M656 999h12M656 1001h12M658 1003h8M1034 1351h4M1030 1353h8M1030 1355h8M1030 1357h8"/>
<path stroke="#f0ee3c" d="M872 793h2M866 795h10M866 797h12M866 799h12M864 801h16M864 803h14M866 805h10M864 813h4M874 813h2M864 815h18M862 817h22M860 819h22M860 821h22M860 823h24M860 825h24M922 825h10M860 827h22M902 827h2M914 827h20M864 829h16M912 829h26M864 831h14M912 831h28M864 833h16M914 833h26M866 835h12M914 835h30M868 837h8M914 837h30M956 837h2M870 839h2M916 839h28M962 839h2M920 841h24M924 843h20M934 845h8M938 847h2M1050 817h2M1048 819h4M1046 821h6M1048 823h4M1070 823h4M1048 825h2M1060 825h14M1060 827h18M1058 829h24M1058 831h24M1056 833h26M1054 835h26M1054 837h26M1056 839h24M1054 841h26M1058 843h24M1056 845h28M1056 847h28M1054 849h30M1056 851h26M1062 853h18M1060 855h20M1064 857h18M1066 859h16M1068 861h8M1068 863h6M1070 865h2M1056 867h2M542 1125h12M558 1125h4M542 1127h22M542 1129h22M532 1131h2M542 1131h24M524 1133h12M540 1133h26M526 1135h6M534 1135h32M530 1137h36M522 1139h44M516 1141h4M522 1141h4M528 1141h36M516 1143h44M518 1145h42M522 1147h34M522 1149h32M518 1151h34M516 1153h34M518 1155h34M526 1157h24M524 1159h10M536 1159h14M524 1161h20M532 1163h2M700 1191h8M702 1193h6M660 995h4M658 997h8M656 999h12M656 1001h10M658 1003h8M1032 1353h6M1030 1355h8M1030 1357h6"/>
<path stroke="#e4e438" d="M872 793h2M866 795h10M866 797h12M866 799h12M864 801h16M864 803h14M866 805h10M866 813h2M864 815h18M862 817h22M860 819h22M862 821h20M860 823h24M860 825h24M922 825h10M862 827h20M916 827h18M864 829h16M914 829h24M864 831h14M912 831h26M864 833h16M914 833h26M868 835h10M916 835h28M868 837h6M914 837h30M918 839h26M922 841h22M924 843h20M936 845h4M938 847h2M1048 819h4M1048 821h4M1048 823h4M1060 825h6M1070 825h4M1060 827h16M1060 829h20M1058 831h22M1058 833h22M1056 835h24M1056 837h24M1056 839h22M1056 841h24M1060 843h20M1056 845h26M1056 847h26M1056 849h28M1056 851h2M1062 851h20M1062 853h18M1062 855h18M1064 857h16M1066 859h14M1068 861h4M1070 863h2M1070 865h2M542 1125h12M558 1125h4M542 1127h20M542 1129h22M542 1131h24M526 1133h2M532 1133h2M542 1133h24M530 1135h2M536 1135h2M540 1135h26M530 1137h4M536 1137h4M542 1137h24M522 1139h2M528 1139h12M542 1139h24M516 1141h2M522 1141h2M528 1141h10M540 1141h22M518 1143h20M540 1143h4M546 1143h14M518 1145h22M542 1145h18M522 1147h8M532 1147h8M542 1147h12M522 1149h30M518 1151h2M522 1151h18M542 1151h6M518 1153h30M522 1155h2M528 1155h20M528 1157h6M536 1157h14M528 1159h6M536 1159h10M530 1161h4M538 1161h4M702 1191h2M702 1193h2M660 995h4M658 997h8M656 999h12M658 1001h8M662 1003h2M1032 1353h4M1032 1355h4"/>
<path stroke="#d8d838" d="M868 795h8M866 797h10M866 799h12M864 801h14M866 803h10M866 805h8M864 815h16M862 817h20M860 819h22M862 821h20M860 823h22M860 825h22M924 825h6M862 827h20M916 827h18M864 829h16M914 829h22M866 831h12M914 831h24M866 833h14M914 833h26M868 835h10M916 835h26M870 837h4M916 837h28M918 839h26M922 841h22M924 843h20M936 845h4M1048 819h2M1048 821h2M1048 823h4M1060 825h6M1070 825h4M1060 827h8M1070 827h6M1060 829h20M1060 831h16M1078 831h2M1058 833h20M1056 835h24M1056 837h22M1058 839h20M1058 841h20M1060 843h20M1060 845h22M1058 847h22M1058 849h22M1062 851h18M1062 853h16M1062 855h14M1064 857h14M1066 859h14M1068 861h4M1070 863h2M544 1125h8M542 1127h20M542 1129h20M542 1131h22M542 1133h22M540 1135h26M530 1137h2M542 1137h24M528 1139h10M542 1139h24M522 1141h2M528 1141h10M542 1141h18M520 1143h6M528 1143h10M542 1143h2M546 1143h12M524 1145h4M532 1145h6M544 1145h2M550 1145h8M532 1147h8M544 1147h4M550 1147h4M524 1149h2M528 1149h12M542 1149h6M524 1151h14M542 1151h4M518 1153h8M528 1153h4M534 1153h14M522 1155h2M528 1155h2M536 1155h12M530 1157h4M538 1157h12M530 1159h2M538 1159h4M530 1161h2M660 995h4M658 997h8M658 999h8M658 1001h8"/>
<path stroke="#ccd030" d="M868 795h8M866 797h10M866 799h12M864 801h14M866 803h10M870 805h4M864 815h16M862 817h20M862 819h20M862 821h20M860 823h22M860 825h22M924 825h6M864 827h18M916 827h16M866 829h14M914 829h22M866 831h12M914 831h24M868 833h10M916 833h22M868 835h4M916 835h26M870 837h4M916 837h28M918 839h26M922 841h22M926 843h2M932 843h8M936 845h4M1060 825h6M1060 827h8M1070 827h4M1060 829h16M1078 829h2M1060 831h14M1078 831h2M1058 833h18M1058 835h20M1056 837h22M1058 839h20M1058 841h20M1060 843h20M1060 845h22M1058 847h22M1058 849h20M1062 851h16M1062 853h16M1064 855h10M1064 857h12M1068 859h10M1068 861h4M548 1125h4M542 1127h20M542 1129h20M542 1131h20M542 1133h22M542 1135h24M542 1137h24M530 1139h4M542 1139h24M528 1141h8M546 1141h14M530 1143h6M548 1143h10M524 1145h4M532 1145h6M544 1145h2M550 1145h8M532 1147h4M544 1147h4M550 1147h4M530 1149h8M542 1149h4M530 1151h8M542 1151h4M522 1153h2M528 1153h2M536 1153h2M542 1153h4M528 1155h2M536 1155h8M538 1157h2M544 1157h4M662 995h2M658 997h8M658 999h8M658 1001h8"/>
<path stroke="#c4c430" d="M868 795h2M872 795h2M866 797h10M866 799h10M866 801h12M866 803h10M872 805h2M864 815h14M864 817h18M862 819h20M862 821h20M862 823h20M860 825h22M926 825h2M864 827h16M918 827h14M866 829h14M914 829h22M866 831h12M914 831h24M868 833h6M876 833h2M916 833h22M868 835h4M916 835h26M870 837h2M916 837h28M920 839h22M924 841h18M932 843h8M936 845h2M1060 825h6M1060 827h8M1060 829h14M1060 831h14M1060 833h16M1058 835h20M1058 837h20M1060 839h18M1060 841h18M1060 843h20M1060 845h20M1058 847h22M1060 849h18M1062 851h16M1062 853h16M1064 855h10M1064 857h10M1068 859h4M544 1127h12M558 1127h2M544 1129h18M544 1131h18M542 1133h22M542 1135h24M542 1137h24M530 1139h4M544 1139h20M530 1141h6M546 1141h14M530 1143h2M534 1143h2M548 1143h10M534 1145h2M550 1145h6M532 1147h4M544 1147h2M550 1147h2M532 1149h4M532 1151h4M522 1153h2M542 1153h2M538 1155h4M658 997h8M658 999h8M658 1001h8"/>
<path stroke="#d0a828" d="M868 795h2M872 795h2M866 797h8M866 799h10M866 801h12M866 803h10M872 805h2M866 815h10M864 817h18M862 819h20M862 821h18M862 823h20M860 825h22M864 827h16M918 827h14M866 829h12M916 829h18M868 831h8M914 831h24M868 833h4M916 833h22M916 835h26M916 837h26M920 839h20M924 841h18M932 843h8M1060 825h6M1060 827h8M1060 829h10M1072 829h2M1060 831h14M1060 833h14M1060 835h18M1060 837h18M1060 839h16M1060 841h18M1060 843h18M1060 845h20M1060 847h18M1060 849h18M1062 851h16M1062 853h14M1064 855h10M1066 857h6M1068 859h4M546 1127h8M544 1129h16M544 1131h18M542 1133h20M542 1135h22M544 1137h22M544 1139h18M530 1141h2M546 1141h12M548 1143h10M550 1145h4M532 1149h4M660 997h4M658 999h8M658 1001h8"/>
<path stroke="#d89820" d="M868 797h6M866 799h8M866 801h10M868 803h8M866 815h10M864 817h16M862 819h20M862 821h18M862 823h18M860 825h22M864 827h16M922 827h8M866 829h12M918 829h16M868 831h8M914 831h24M870 833h2M916 833h22M918 835h22M918 837h22M920 839h20M924 841h16M934 843h4M1062 825h4M1062 827h6M1062 829h6M1062 831h12M1060 833h14M1060 835h16M1060 837h16M1060 839h16M1060 841h16M1060 843h18M1060 845h20M1060 847h18M1060 849h18M1064 851h14M1062 853h12M1064 855h8M1066 857h6M1068 859h2M548 1127h2M544 1129h16M544 1131h18M542 1133h20M544 1135h18M544 1137h20M546 1139h16M548 1141h10M550 1143h6M550 1145h4M534 1149h2M660 997h4M658 999h8M660 1001h4"/>
<path stroke="#e08018" d="M868 797h6M868 799h6M866 801h10M872 803h4M866 815h6M864 817h16M862 819h18M862 821h18M862 823h18M862 825h18M864 827h16M922 827h8M866 829h12M918 829h14M868 831h8M916 831h20M918 833h20M918 835h22M920 837h20M922 839h18M924 841h4M930 841h10M934 843h4M1062 827h4M1062 829h6M1062 831h10M1060 833h14M1060 835h14M1062 837h14M1062 839h14M1060 841h16M1060 843h18M1060 845h18M1060 847h18M1060 849h16M1064 851h12M1064 853h8M1064 855h8M1066 857h6M546 1129h6M546 1131h14M544 1133h18M544 1135h18M546 1137h16M548 1139h10M548 1141h8M550 1143h2M660 997h4M660 999h6M660 1001h4"/>
<path stroke="#e81030" d="M868 799h4M866 801h4M872 801h4M872 803h2M868 815h2M864 817h14M862 819h18M864 821h16M862 823h18M862 825h18M866 827h14M924 827h4M868 829h10M920 829h12M868 831h6M916 831h20M918 833h20M920 835h18M920 837h20M922 839h18M924 841h4M930 841h8M1064 829h4M1062 831h10M1060 833h14M1060 835h14M1062 837h12M1062 839h12M1060 841h16M1060 843h18M1062 845h16M1060 847h16M1060 849h16M1064 851h10M1064 853h8M1064 855h4M1070 855h2M1066 857h4M546 1129h6M546 1131h6M554 1131h6M544 1133h18M544 1135h16M546 1137h12M548 1139h8M548 1141h4M660 999h4"/>
<path stroke="#c80020" d="M868 799h4M866 801h4M872 803h2M868 815h2M866 817h12M864 819h16M864 821h16M864 823h16M862 825h18M866 827h12M868 829h8M920 829h2M924 829h6M870 831h4M918 831h18M918 833h20M920 835h18M920 837h20M922 839h18M930 841h6M1064 829h4M1062 831h8M1060 833h14M1060 835h14M1062 837h12M1062 839h12M1062 841h12M1062 843h14M1062 845h16M1060 847h14M1064 849h12M1066 851h6M1064 853h8M548 1129h2M548 1131h4M556 1131h2M546 1133h16M546 1135h14M546 1137h12M548 1139h8M548 1141h4M660 999h4"/>
<path stroke="#c00018" d="M868 799h2M868 801h2M866 817h12M864 819h16M864 821h16M864 823h14M864 825h14M866 827h12M868 829h8M926 829h4M870 831h2M918 831h16M918 833h18M920 835h18M922 837h16M924 839h14M932 841h4M1064 829h4M1062 831h8M1060 833h12M1060 835h14M1062 837h10M1062 839h10M1062 841h12M1062 843h12M1062 845h12M1064 847h10M1066 849h8M1068 851h4M1064 853h4M548 1131h4M546 1133h6M554 1133h6M546 1135h4M556 1135h2M548 1137h4M554 1137h2M550 1139h4M548 1141h4"/>
<path stroke="#b0000c" d="M866 817h10M864 819h16M866 821h12M864 823h14M864 825h14M868 827h10M870 829h6M920 831h2M924 831h10M920 833h16M922 835h16M922 837h16M924 839h14M932 841h2M1064 829h4M1062 831h8M1060 833h10M1060 835h14M1062 837h8M1062 839h10M1062 841h10M1064 843h8M1062 845h10M1064 847h6M1072 847h2M1066 849h4M1068 851h2M1064 853h2M548 1131h2M548 1133h2M554 1133h6M546 1135h4M548 1137h2M550 1139h2"/>
<path stroke="#960000" d="M866 817h10M864 819h14M866 821h10M866 823h12M864 825h14M868 827h8M870 829h4M920 831h2M924 831h10M920 833h14M922 835h16M922 837h16M924 839h14M932 841h2M1064 829h4M1064 831h6M1060 833h10M1060 835h12M1062 837h8M1062 839h10M1062 841h10M1064 843h8M1064 845h8M1064 847h4M548 1133h2"/>
<path stroke="#c00060" d="M868 817h2M872 817h2M870 819h8M870 821h6M866 823h10M866 825h10M868 827h8M870 829h4M926 831h2M930 831h2M920 833h12M922 835h10M934 835h2M922 837h16M926 839h2M930 839h4M1064 829h4M1064 831h6M1060 833h10M1060 835h12M1062 837h8M1062 839h8M1064 841h8M1064 843h8M1064 845h8M1066 847h2"/>
<path stroke="#d80098" d="M872 819h4M870 821h6M866 823h10M866 825h10M870 827h4M872 829h2M926 831h2M920 833h2M924 833h8M922 835h10M924 837h10M930 839h4M1064 831h6M1064 833h6M1062 835h8M1062 837h8M1062 839h8M1064 841h6M1066 843h6M1066 845h4M1066 847h2"/>
<path stroke="#e800e8" d="M872 819h2M870 821h4M866 823h2M872 823h4M866 825h2M870 825h6M870 827h4M926 833h2M928 835h4M926 837h6M1066 831h4M1064 833h6M1064 835h4M1064 837h4M1064 839h6M1066 841h2M1068 843h2"/>
<path stroke="#cc00cc" d="M872 819h2M870 821h4M866 823h2M872 823h2M872 825h2M870 827h4M928 835h2M928 837h2M1066 833h2M1066 835h2M1064 837h4M1064 839h4"/>
<path stroke="#b000b0" d="M872 821h2M872 823h2M1066 837h2M1064 839h4"/>
<path stroke="#960096" d="M872 821h2"/>
<path stroke="#ffffff" d="M872 821h2"/>
<path stroke="#def4ea" d="M872 821h2"/>
</g>
<g fill="none" stroke-width="3.15" shape-rendering="crispEdges">
<path stroke="#3e70a0" d="M738 481.5h6M675 484.5h21M738 484.5h6M675 487.5h21M735 487.5h12M669 490.5h30M738 490.5h3M663 493.5h36M663 496.5h36M660 499.5h39M660 502.5h39M657 505.5h45M657 508.5h48M657 511.5h51M657 514.5h51M657 517.5h51M654 520.5h54M654 523.5h54M651 526.5h57M648 529.5h60M648 532.5h60M648 535.5h60M657 538.5h51M657 541.5h48M657 544.5h48M717 544.5h6M657 547.5h45M714 547.5h12M657 550.5h45M711 550.5h15M660 553.5h42M711 553.5h18M675 556.5h27M714 556.5h12M678 559.5h21M693 562.5h3M687 568.5h6M684 571.5h9M687 574.5h6M747 616.5h6M744 619.5h9M702 622.5h3M744 622.5h9M699 625.5h9M741 625.5h12M696 628.5h18M741 628.5h12M696 631.5h18M741 631.5h9M693 634.5h24M738 634.5h12M693 637.5h24M741 637.5h6M693 640.5h24M738 640.5h9M696 643.5h21M738 643.5h6M648 646.5h9M699 646.5h9M645 649.5h15M645 652.5h15M648 655.5h12M651 658.5h6M489 739.5h12M486 742.5h18M486 745.5h18M486 748.5h18M1173 679.5h15M1170 682.5h21M1167 685.5h36M1164 688.5h39M1164 691.5h42M1167 694.5h39M1167 697.5h39M1167 700.5h33M1167 703.5h33M1170 706.5h30M1170 709.5h21M1173 712.5h3M1188 715.5h15M1185 718.5h24M1185 721.5h24M1185 724.5h24M1185 727.5h27M1182 730.5h30M1185 733.5h24M1188 736.5h18M1188 739.5h15M1194 742.5h6M1188 748.5h3M1185 751.5h12M1182 754.5h18M1179 757.5h21M1179 760.5h21M1182 763.5h15M1182 766.5h18M1182 769.5h15M1185 772.5h12M1257 877.5h9M1257 880.5h12M1257 883.5h12M1254 886.5h18M1254 889.5h18M1257 892.5h12M1248 1024.5h51M1224 1027.5h147M1212 1030.5h171M1209 1033.5h186M1209 1036.5h195M1203 1039.5h207M1200 1042.5h207M1194 1045.5h210M1188 1048.5h213M1191 1051.5h207M1197 1054.5h204M1200 1057.5h201M1209 1060.5h192M1218 1063.5h174M1224 1066.5h150M1233 1069.5h132M1242 1072.5h111M1251 1075.5h78M1257 1078.5h54M1269 1081.5h24M1272 1084.5h27M1272 1087.5h27M1272 1090.5h30M1272 1093.5h33M1269 1096.5h33M1272 1099.5h27M1272 1102.5h24M1284 1105.5h6M351 970.5h9M345 973.5h18M342 976.5h21M372 976.5h9M339 979.5h24M369 979.5h12M336 982.5h48M336 985.5h48M336 988.5h48M336 991.5h48M333 994.5h51M333 997.5h48M333 1000.5h36M375 1000.5h6M333 1003.5h36M336 1006.5h30M336 1009.5h30M339 1012.5h27M351 1015.5h15M351 1018.5h9M237 1033.5h9M231 1036.5h15M231 1039.5h18M228 1042.5h21M231 1045.5h18M231 1048.5h36M231 1051.5h39M234 1054.5h39M237 1057.5h36M246 1060.5h24M252 1063.5h9M243 1069.5h3M252 1069.5h18M237 1072.5h12M252 1072.5h21M234 1075.5h42M234 1078.5h42M234 1081.5h39M234 1084.5h33M246 1087.5h3M258 1087.5h9M564 1351.5h12M567 1354.5h15M573 1357.5h15M576 1360.5h18M579 1363.5h18M585 1366.5h15M594 1369.5h6M612 1441.5h3M603 1444.5h15M603 1447.5h18M612 1450.5h9"/>
<path stroke="#3878a8" d="M738 481.5h6M675 484.5h21M738 484.5h6M675 487.5h21M735 487.5h12M669 490.5h30M738 490.5h3M663 493.5h36M663 496.5h36M660 499.5h39M660 502.5h39M657 505.5h45M657 508.5h48M657 511.5h51M657 514.5h51M657 517.5h51M654 520.5h54M654 523.5h54M654 526.5h54M648 529.5h60M648 532.5h60M648 535.5h60M657 538.5h51M657 541.5h48M657 544.5h48M717 544.5h6M657 547.5h45M714 547.5h12M657 550.5h45M714 550.5h12M660 553.5h42M714 553.5h15M675 556.5h27M678 559.5h21M693 562.5h3M687 568.5h6M684 571.5h9M687 574.5h6M747 619.5h6M702 622.5h3M744 622.5h9M699 625.5h9M741 625.5h9M696 628.5h18M744 628.5h6M696 631.5h18M741 631.5h9M693 634.5h24M738 634.5h12M693 637.5h24M741 637.5h6M693 640.5h24M738 640.5h9M696 643.5h21M738 643.5h6M648 646.5h9M699 646.5h9M645 649.5h15M645 652.5h15M648 655.5h12M651 658.5h6M492 739.5h3M498 739.5h3M492 742.5h9M486 745.5h15M486 748.5h18M1173 679.5h15M1170 682.5h21M1167 685.5h36M1164 688.5h39M1164 691.5h42M1167 694.5h39M1167 697.5h39M1167 700.5h33M1167 703.5h33M1170 706.5h30M1170 709.5h21M1173 712.5h3M1188 715.5h15M1185 718.5h24M1185 721.5h24M1185 724.5h24M1185 727.5h27M1182 730.5h30M1185 733.5h24M1188 736.5h18M1188 739.5h15M1194 742.5h6M1188 748.5h3M1185 751.5h3M1194 751.5h3M1182 754.5h9M1194 754.5h6M1182 757.5h18M1185 760.5h15M1185 763.5h12M1185 766.5h12M1185 769.5h12M1185 772.5h12M1260 877.5h6M1257 880.5h12M1257 883.5h12M1257 886.5h6M1266 886.5h6M1254 889.5h9M1266 889.5h3M1257 892.5h6M1203 994.5h12M1203 997.5h15M1197 1000.5h24M1197 1003.5h24M1197 1006.5h24M1200 1009.5h21M1200 1012.5h18M1248 1024.5h51M1224 1027.5h12M1239 1027.5h57M1299 1027.5h21M1323 1027.5h6M1332 1027.5h9M1344 1027.5h27M1212 1030.5h24M1239 1030.5h144M1209 1033.5h186M1209 1036.5h147M1359 1036.5h42M1203 1039.5h207M1200 1042.5h204M1194 1045.5h210M1188 1048.5h213M1191 1051.5h207M1197 1054.5h195M1395 1054.5h6M1200 1057.5h201M1209 1060.5h192M1218 1063.5h147M1368 1063.5h24M1224 1066.5h138M1368 1066.5h6M1233 1069.5h6M1242 1069.5h123M1242 1072.5h111M1251 1075.5h78M1257 1078.5h54M1269 1081.5h24M1272 1084.5h27M1272 1087.5h27M1272 1090.5h30M1272 1093.5h33M1269 1096.5h33M1272 1099.5h27M1272 1102.5h24M1284 1105.5h6M351 970.5h9M345 973.5h18M342 976.5h21M372 976.5h9M339 979.5h24M369 979.5h12M339 982.5h45M336 985.5h48M336 988.5h48M336 991.5h48M333 994.5h51M333 997.5h48M333 1000.5h36M375 1000.5h6M333 1003.5h36M336 1006.5h30M336 1009.5h30M345 1012.5h21M351 1015.5h12M351 1018.5h9M237 1033.5h9M231 1036.5h15M231 1039.5h18M228 1042.5h21M231 1045.5h18M231 1048.5h36M231 1051.5h39M234 1054.5h39M237 1057.5h36M246 1060.5h24M252 1063.5h9M243 1069.5h3M252 1069.5h18M240 1072.5h9M252 1072.5h21M234 1075.5h42M234 1078.5h42M234 1081.5h39M234 1084.5h12M249 1084.5h18M258 1087.5h9M567 1351.5h9M567 1354.5h12M573 1357.5h12M576 1360.5h12M579 1363.5h18M585 1366.5h12M594 1369.5h6M612 1441.5h3M603 1444.5h15M603 1447.5h18M615 1450.5h6M672 1366.5h6M669 1369.5h18M666 1372.5h27M666 1375.5h27M663 1378.5h30M666 1381.5h27M666 1384.5h24M669 1387.5h12M675 1390.5h3"/>
<path stroke="#3084b8" d="M687 484.5h6M741 484.5h3M675 487.5h21M741 487.5h6M669 490.5h30M663 493.5h33M663 496.5h36M660 499.5h39M660 502.5h39M657 505.5h45M657 508.5h42M702 508.5h3M657 511.5h51M657 514.5h51M657 517.5h51M657 520.5h51M657 523.5h51M654 526.5h54M654 529.5h54M654 532.5h54M654 535.5h51M657 538.5h48M657 541.5h48M657 544.5h48M717 544.5h3M657 547.5h45M720 547.5h6M657 550.5h45M723 550.5h3M660 553.5h30M693 553.5h9M717 553.5h3M675 556.5h3M684 556.5h18M687 559.5h12M693 562.5h3M690 571.5h3M687 574.5h6M702 622.5h3M744 622.5h6M699 625.5h9M744 625.5h3M699 628.5h15M696 631.5h15M744 631.5h6M693 634.5h21M744 634.5h6M693 637.5h24M741 637.5h3M696 640.5h18M741 640.5h3M699 643.5h15M741 643.5h3M648 646.5h9M699 646.5h6M645 649.5h15M645 652.5h15M648 655.5h12M651 658.5h6M492 742.5h6M492 745.5h6M492 748.5h3M1173 679.5h15M1170 682.5h21M1167 685.5h36M1167 688.5h36M1167 691.5h39M1167 694.5h36M1167 697.5h36M1167 700.5h27M1167 703.5h27M1170 706.5h21M1170 709.5h18M1188 715.5h15M1185 718.5h24M1185 721.5h24M1185 724.5h24M1185 727.5h24M1185 730.5h24M1185 733.5h24M1188 736.5h18M1188 739.5h15M1194 742.5h6M1182 754.5h6M1188 757.5h9M1188 760.5h6M1188 763.5h6M1185 766.5h9M1188 769.5h6M1188 772.5h6M1260 877.5h6M1263 880.5h6M1263 883.5h6M1257 886.5h6M1257 889.5h6M1257 892.5h6M1203 994.5h3M1209 994.5h3M1203 997.5h15M1200 1000.5h18M1197 1003.5h24M1197 1006.5h24M1200 1009.5h18M1200 1012.5h18M1248 1024.5h3M1254 1024.5h9M1269 1024.5h3M1275 1024.5h6M1284 1024.5h9M1230 1027.5h3M1242 1027.5h9M1254 1027.5h39M1302 1027.5h6M1314 1027.5h3M1335 1027.5h3M1347 1027.5h12M1368 1027.5h3M1212 1030.5h12M1230 1030.5h3M1239 1030.5h72M1314 1030.5h45M1362 1030.5h9M1374 1030.5h9M1212 1033.5h141M1359 1033.5h27M1389 1033.5h6M1215 1036.5h135M1359 1036.5h18M1383 1036.5h6M1392 1036.5h6M1203 1039.5h171M1380 1039.5h9M1392 1039.5h6M1200 1042.5h171M1377 1042.5h24M1197 1045.5h177M1377 1045.5h24M1194 1048.5h177M1377 1048.5h12M1392 1048.5h6M1194 1051.5h177M1374 1051.5h15M1197 1054.5h192M1200 1057.5h177M1380 1057.5h9M1209 1060.5h114M1326 1060.5h18M1347 1060.5h15M1368 1060.5h12M1389 1060.5h3M1395 1060.5h6M1224 1063.5h6M1239 1063.5h105M1350 1063.5h12M1368 1063.5h6M1377 1063.5h3M1386 1063.5h3M1224 1066.5h6M1248 1066.5h12M1263 1066.5h93M1371 1066.5h3M1233 1069.5h6M1251 1069.5h6M1260 1069.5h81M1344 1069.5h12M1245 1072.5h3M1257 1072.5h63M1326 1072.5h15M1344 1072.5h6M1251 1075.5h3M1257 1075.5h9M1269 1075.5h18M1290 1075.5h3M1299 1075.5h3M1305 1075.5h15M1326 1075.5h3M1266 1078.5h12M1302 1078.5h9M1269 1081.5h21M1272 1084.5h21M1272 1087.5h24M1275 1090.5h21M1272 1093.5h33M1272 1096.5h30M1272 1099.5h27M1272 1102.5h24M1284 1105.5h6M354 970.5h6M345 973.5h3M351 973.5h9M348 976.5h12M372 976.5h6M342 979.5h21M369 979.5h12M342 982.5h21M369 982.5h15M339 985.5h24M366 985.5h18M336 988.5h48M336 991.5h48M333 994.5h51M333 997.5h48M333 1000.5h36M375 1000.5h6M339 1003.5h30M339 1006.5h27M336 1009.5h30M351 1012.5h12M351 1015.5h9M243 1033.5h3M234 1036.5h12M231 1039.5h18M228 1042.5h21M231 1045.5h18M231 1048.5h30M234 1051.5h12M252 1051.5h15M234 1054.5h9M249 1054.5h24M237 1057.5h6M249 1057.5h21M252 1060.5h18M258 1063.5h3M243 1069.5h3M261 1069.5h9M240 1072.5h9M252 1072.5h12M267 1072.5h3M240 1075.5h36M234 1078.5h15M255 1078.5h21M234 1081.5h15M258 1081.5h12M234 1084.5h12M258 1084.5h9M261 1087.5h6M567 1354.5h3M576 1357.5h6M579 1360.5h6M582 1363.5h12M588 1366.5h9M594 1369.5h3M606 1444.5h12M609 1447.5h3M672 1366.5h3M669 1369.5h18M666 1372.5h27M669 1375.5h24M666 1378.5h27M666 1381.5h27M666 1384.5h24M672 1387.5h6"/>
<path stroke="#2c94c4" d="M690 484.5h3M675 487.5h12M669 490.5h24M663 493.5h30M663 496.5h33M660 499.5h36M660 502.5h36M657 505.5h39M657 508.5h42M660 511.5h39M657 514.5h45M705 514.5h3M657 517.5h51M657 520.5h48M657 523.5h48M657 526.5h51M657 529.5h51M657 532.5h48M657 535.5h48M657 538.5h48M657 541.5h45M657 544.5h39M660 547.5h42M723 547.5h3M660 550.5h42M660 553.5h30M696 553.5h6M696 556.5h6M696 559.5h3M699 625.5h6M699 628.5h9M696 631.5h12M693 634.5h6M702 634.5h9M699 637.5h15M699 640.5h15M699 643.5h6M708 643.5h3M651 646.5h6M645 649.5h12M645 652.5h12M648 655.5h9M651 658.5h3M1182 679.5h6M1170 682.5h9M1182 682.5h9M1167 685.5h27M1167 688.5h30M1167 691.5h36M1167 694.5h36M1167 697.5h30M1167 700.5h27M1173 703.5h18M1170 706.5h18M1173 709.5h9M1194 715.5h6M1185 718.5h18M1185 721.5h21M1185 724.5h21M1188 727.5h18M1185 730.5h21M1185 733.5h21M1191 736.5h12M1194 739.5h3M1188 760.5h3M1188 763.5h6M1188 766.5h6M1257 889.5h3M1203 997.5h3M1206 1000.5h9M1200 1003.5h18M1200 1006.5h3M1206 1006.5h15M1209 1009.5h9M1257 1024.5h3M1287 1027.5h6M1347 1027.5h3M1254 1030.5h39M1305 1030.5h3M1335 1030.5h6M1347 1030.5h3M1227 1033.5h84M1320 1033.5h15M1338 1033.5h12M1362 1033.5h3M1218 1036.5h93M1314 1036.5h18M1338 1036.5h12M1362 1036.5h3M1371 1036.5h3M1203 1039.5h135M1341 1039.5h3M1383 1039.5h3M1200 1042.5h150M1359 1042.5h9M1197 1045.5h153M1353 1045.5h18M1395 1045.5h3M1194 1048.5h156M1353 1048.5h9M1365 1048.5h3M1380 1048.5h3M1395 1048.5h3M1194 1051.5h165M1365 1051.5h3M1377 1051.5h3M1197 1054.5h159M1359 1054.5h6M1368 1054.5h6M1200 1057.5h138M1344 1057.5h21M1209 1060.5h111M1329 1060.5h9M1350 1060.5h3M1356 1060.5h6M1248 1063.5h69M1326 1063.5h3M1335 1063.5h6M1350 1063.5h6M1251 1066.5h6M1272 1066.5h3M1284 1066.5h3M1290 1066.5h36M1338 1066.5h6M1350 1066.5h3M1233 1069.5h3M1278 1069.5h9M1290 1069.5h15M1308 1069.5h12M1350 1069.5h3M1260 1072.5h6M1269 1072.5h6M1278 1072.5h9M1308 1072.5h6M1335 1072.5h3M1260 1075.5h3M1272 1075.5h6M1275 1081.5h3M1281 1081.5h6M1272 1084.5h18M1272 1087.5h21M1278 1090.5h15M1278 1093.5h15M1272 1096.5h21M1275 1099.5h18M1275 1102.5h3M1281 1102.5h9M351 976.5h6M348 979.5h15M372 979.5h9M345 982.5h18M369 982.5h12M345 985.5h18M369 985.5h15M339 988.5h6M348 988.5h15M366 988.5h18M339 991.5h27M372 991.5h12M336 994.5h3M342 994.5h18M363 994.5h18M336 997.5h3M342 997.5h18M366 997.5h3M372 997.5h6M336 1000.5h24M366 1000.5h3M339 1003.5h24M339 1006.5h24M345 1009.5h3M354 1009.5h3M363 1009.5h3M354 1012.5h6M354 1015.5h3M243 1036.5h3M234 1039.5h9M237 1042.5h9M237 1045.5h9M234 1048.5h9M255 1048.5h3M234 1051.5h6M255 1051.5h6M237 1054.5h3M252 1054.5h9M264 1054.5h6M252 1057.5h6M267 1057.5h3M255 1060.5h3M252 1072.5h6M243 1075.5h3M252 1075.5h9M234 1078.5h3M240 1078.5h6M240 1081.5h6M264 1081.5h3M264 1084.5h3M582 1363.5h3M672 1366.5h3M672 1369.5h6M666 1372.5h21M669 1375.5h21M666 1378.5h24M666 1381.5h6M675 1381.5h18M675 1384.5h3"/>
<path stroke="#28a0d4" d="M675 487.5h12M669 490.5h24M663 493.5h30M663 496.5h33M663 499.5h33M660 502.5h36M657 505.5h39M660 508.5h36M660 511.5h39M660 514.5h42M705 514.5h3M660 517.5h42M660 520.5h45M657 523.5h48M657 526.5h48M657 529.5h48M657 532.5h48M657 535.5h48M657 538.5h48M657 541.5h45M657 544.5h36M660 547.5h33M696 547.5h3M666 550.5h24M696 550.5h6M669 553.5h18M699 553.5h3M696 556.5h3M702 628.5h3M702 631.5h6M702 634.5h6M699 637.5h12M705 640.5h6M648 652.5h3M648 655.5h6M651 658.5h3M1185 679.5h3M1170 682.5h3M1176 682.5h3M1185 682.5h3M1167 685.5h27M1167 688.5h30M1167 691.5h30M1167 694.5h33M1170 697.5h27M1179 700.5h15M1176 706.5h3M1194 715.5h6M1191 718.5h12M1188 721.5h15M1188 724.5h18M1188 727.5h15M1188 730.5h15M1191 733.5h12M1194 736.5h3M1209 1000.5h3M1206 1003.5h9M1209 1006.5h9M1209 1009.5h6M1257 1030.5h3M1263 1030.5h30M1227 1033.5h69M1218 1036.5h84M1341 1036.5h3M1203 1039.5h114M1326 1039.5h6M1200 1042.5h120M1326 1042.5h6M1197 1045.5h129M1338 1045.5h3M1194 1048.5h132M1329 1048.5h3M1353 1048.5h6M1194 1051.5h132M1332 1051.5h9M1197 1054.5h129M1332 1054.5h6M1344 1054.5h3M1200 1057.5h114M1317 1057.5h6M1329 1057.5h9M1209 1060.5h105M1257 1063.5h9M1269 1063.5h39M1311 1063.5h3M1293 1066.5h3M1302 1066.5h3M1314 1066.5h3M1293 1069.5h3M1281 1072.5h3M1275 1081.5h3M1272 1084.5h12M1272 1087.5h9M1287 1087.5h3M1281 1090.5h9M1281 1093.5h9M1278 1096.5h12M1281 1099.5h9M1281 1102.5h6M354 979.5h9M375 979.5h3M351 982.5h12M372 982.5h9M348 985.5h15M369 985.5h15M348 988.5h15M372 988.5h12M348 991.5h12M372 991.5h12M345 994.5h12M372 994.5h9M345 997.5h12M342 1000.5h12M342 1003.5h12M357 1003.5h3M345 1006.5h3M354 1012.5h3M237 1048.5h3M666 1372.5h18M669 1375.5h18M669 1378.5h12"/>
<path stroke="#2cb0e0" d="M675 487.5h9M669 490.5h15M663 493.5h24M690 493.5h3M663 496.5h30M663 499.5h33M660 502.5h36M657 505.5h39M660 508.5h36M663 511.5h36M660 514.5h42M660 517.5h42M660 520.5h45M657 523.5h48M657 526.5h48M657 529.5h48M657 532.5h48M657 535.5h45M657 538.5h45M657 541.5h39M657 544.5h33M660 547.5h30M666 550.5h21M669 553.5h18M702 628.5h3M702 631.5h6M702 634.5h6M699 637.5h12M708 640.5h3M648 652.5h3M648 655.5h3M1170 682.5h3M1185 682.5h3M1167 685.5h18M1167 688.5h30M1167 691.5h30M1167 694.5h30M1170 697.5h9M1182 697.5h15M1182 700.5h9M1176 706.5h3M1194 715.5h6M1191 718.5h9M1191 721.5h12M1188 724.5h15M1188 727.5h15M1188 730.5h15M1191 733.5h12M1194 736.5h3M1209 1000.5h3M1209 1003.5h3M1209 1006.5h9M1209 1009.5h3M1266 1030.5h15M1287 1030.5h3M1227 1033.5h69M1218 1036.5h84M1203 1039.5h114M1203 1042.5h117M1197 1045.5h129M1197 1048.5h129M1194 1051.5h129M1197 1054.5h123M1323 1054.5h3M1332 1054.5h6M1200 1057.5h111M1332 1057.5h3M1209 1060.5h105M1257 1063.5h3M1269 1063.5h18M1290 1063.5h18M1275 1081.5h3M1272 1084.5h9M1272 1087.5h9M1281 1090.5h9M1281 1093.5h9M1278 1096.5h12M1281 1099.5h6M1281 1102.5h6M354 979.5h9M351 982.5h12M375 982.5h6M351 985.5h12M372 985.5h12M348 988.5h15M372 988.5h12M348 991.5h12M372 991.5h12M345 994.5h12M378 994.5h3M345 997.5h12M342 1000.5h12M342 1003.5h12M354 1012.5h3M666 1372.5h15M669 1375.5h18M669 1378.5h12"/>
<path stroke="#50f038" d="M675 487.5h9M672 490.5h12M663 493.5h21M663 496.5h30M666 499.5h27M660 502.5h33M657 505.5h39M660 508.5h36M663 511.5h36M660 514.5h39M660 517.5h39M660 520.5h36M699 520.5h6M660 523.5h45M657 526.5h45M660 529.5h45M657 532.5h45M663 535.5h39M657 538.5h45M657 541.5h39M657 544.5h33M660 547.5h27M666 550.5h21M669 553.5h12M702 631.5h6M702 634.5h6M702 637.5h6M1170 682.5h3M1167 685.5h15M1167 688.5h27M1170 691.5h27M1170 694.5h27M1170 697.5h9M1185 697.5h12M1182 700.5h3M1197 715.5h3M1191 718.5h9M1191 721.5h9M1188 724.5h15M1188 727.5h15M1191 730.5h12M1191 733.5h12M1209 1000.5h3M1209 1003.5h3M1209 1006.5h9M1287 1030.5h3M1227 1033.5h60M1290 1033.5h6M1218 1036.5h69M1290 1036.5h12M1203 1039.5h105M1311 1039.5h6M1203 1042.5h114M1200 1045.5h126M1197 1048.5h129M1197 1051.5h126M1197 1054.5h120M1200 1057.5h102M1212 1060.5h3M1218 1060.5h84M1311 1060.5h3M1269 1063.5h3M1290 1063.5h6M1299 1063.5h9M1272 1084.5h6M1272 1087.5h3M1278 1087.5h3M1281 1090.5h3M1281 1093.5h9M1281 1096.5h3M1281 1099.5h6M1281 1102.5h6M354 979.5h9M354 982.5h9M375 982.5h6M351 985.5h12M372 985.5h9M351 988.5h12M372 988.5h12M348 991.5h9M372 991.5h9M345 994.5h9M378 994.5h3M345 997.5h12M342 1000.5h12M345 1003.5h6M669 1372.5h12M669 1375.5h15M669 1378.5h9"/>
<path stroke="#48e034" d="M678 487.5h3M675 490.5h9M672 493.5h12M669 496.5h24M669 499.5h24M660 502.5h30M657 505.5h36M660 508.5h36M663 511.5h33M663 514.5h36M660 517.5h39M660 520.5h33M660 523.5h39M660 526.5h42M660 529.5h42M663 532.5h39M663 535.5h36M657 538.5h42M657 541.5h36M660 544.5h30M663 547.5h24M666 550.5h18M669 553.5h12M705 634.5h3M702 637.5h6M1167 685.5h15M1170 688.5h24M1170 691.5h27M1170 694.5h27M1170 697.5h9M1185 697.5h9M1194 718.5h6M1191 721.5h9M1188 724.5h15M1191 727.5h12M1191 730.5h9M1191 733.5h9M1209 1000.5h3M1209 1003.5h3M1209 1006.5h3M1227 1033.5h33M1266 1033.5h18M1290 1033.5h6M1218 1036.5h69M1290 1036.5h12M1206 1039.5h99M1203 1042.5h111M1200 1045.5h114M1320 1045.5h3M1197 1048.5h126M1197 1051.5h123M1197 1054.5h108M1200 1057.5h93M1296 1057.5h3M1221 1060.5h45M1272 1060.5h15M1290 1060.5h6M1302 1063.5h6M1272 1084.5h3M1284 1093.5h6M1281 1096.5h3M1281 1099.5h3M354 979.5h6M354 982.5h9M375 982.5h6M354 985.5h9M372 985.5h9M354 988.5h9M372 988.5h9M348 991.5h6M375 991.5h6M348 994.5h6M345 997.5h9M345 1000.5h9M672 1372.5h9M672 1375.5h12M669 1378.5h6"/>
<path stroke="#44c830" d="M678 490.5h3M678 493.5h3M669 496.5h21M672 499.5h21M660 502.5h27M657 505.5h36M660 508.5h33M663 511.5h33M666 514.5h33M660 517.5h3M666 517.5h30M660 520.5h33M660 523.5h39M660 526.5h42M663 529.5h39M663 532.5h36M666 535.5h30M663 538.5h6M675 538.5h12M690 538.5h6M660 541.5h30M663 544.5h24M663 547.5h21M666 550.5h18M669 553.5h12M1170 685.5h3M1176 685.5h6M1170 688.5h21M1170 691.5h27M1170 694.5h9M1185 694.5h12M1176 697.5h3M1185 697.5h3M1191 697.5h3M1191 721.5h9M1191 724.5h9M1191 727.5h12M1194 730.5h6M1191 733.5h9M1209 1003.5h3M1227 1033.5h33M1275 1033.5h9M1290 1033.5h3M1218 1036.5h69M1293 1036.5h3M1206 1039.5h96M1203 1042.5h96M1305 1042.5h6M1200 1045.5h102M1305 1045.5h9M1197 1048.5h114M1197 1051.5h111M1314 1051.5h3M1197 1054.5h99M1200 1057.5h93M1224 1060.5h42M1272 1060.5h6M1281 1060.5h3M1302 1063.5h3M1272 1084.5h3M354 979.5h6M354 982.5h9M375 982.5h3M354 985.5h9M372 985.5h6M354 988.5h6M375 988.5h6M375 991.5h6M348 997.5h3M345 1000.5h6M675 1372.5h3M672 1375.5h9"/>
<path stroke="#40b82c" d="M672 496.5h15M672 499.5h3M678 499.5h12M660 502.5h27M657 505.5h33M660 508.5h33M663 511.5h24M666 514.5h21M693 514.5h6M666 517.5h27M663 520.5h30M663 523.5h30M663 526.5h36M663 529.5h39M663 532.5h33M666 535.5h21M690 535.5h6M678 538.5h6M693 538.5h3M666 541.5h21M663 544.5h24M663 547.5h21M666 550.5h18M669 553.5h12M1170 685.5h3M1170 688.5h18M1170 691.5h24M1173 694.5h6M1185 694.5h9M1191 721.5h9M1191 724.5h9M1194 727.5h6M1194 730.5h6M1194 733.5h6M1227 1033.5h30M1278 1033.5h3M1218 1036.5h66M1206 1039.5h81M1290 1039.5h12M1203 1042.5h96M1200 1045.5h99M1308 1045.5h3M1197 1048.5h108M1197 1051.5h108M1197 1054.5h96M1200 1057.5h69M1272 1057.5h6M1281 1057.5h6M1224 1060.5h39M354 982.5h9M375 982.5h3M354 985.5h6M375 985.5h3M357 988.5h3M375 988.5h3M348 997.5h3M348 1000.5h3M675 1372.5h3M672 1375.5h9"/>
<path stroke="#38a828" d="M681 496.5h3M672 499.5h3M681 499.5h6M660 502.5h27M657 505.5h30M660 508.5h33M663 511.5h24M666 514.5h21M666 517.5h3M672 517.5h18M663 520.5h30M663 523.5h30M663 526.5h33M663 529.5h27M693 529.5h3M666 532.5h24M693 532.5h3M666 535.5h3M672 535.5h15M690 535.5h6M678 538.5h6M666 541.5h21M663 544.5h24M663 547.5h21M666 550.5h18M669 553.5h12M1170 688.5h15M1170 691.5h12M1185 691.5h6M1173 694.5h6M1185 694.5h9M1194 721.5h3M1191 724.5h9M1194 727.5h6M1194 730.5h6M1194 733.5h3M1227 1033.5h30M1218 1036.5h42M1263 1036.5h9M1275 1036.5h6M1206 1039.5h66M1275 1039.5h12M1296 1039.5h3M1203 1042.5h75M1284 1042.5h12M1200 1045.5h75M1284 1045.5h6M1296 1045.5h3M1197 1048.5h93M1293 1048.5h9M1197 1051.5h90M1290 1051.5h6M1302 1051.5h3M1197 1054.5h78M1281 1054.5h3M1200 1057.5h69M1281 1057.5h3M1224 1060.5h36M357 982.5h3M357 985.5h3M348 1000.5h3M672 1375.5h6"/>
<path stroke="#2e9822" d="M672 499.5h3M660 502.5h24M657 505.5h30M660 508.5h27M663 511.5h21M666 514.5h18M672 517.5h15M663 520.5h30M663 523.5h30M663 526.5h33M663 529.5h27M666 532.5h24M672 535.5h15M672 541.5h12M663 544.5h24M663 547.5h21M666 550.5h18M669 553.5h12M1176 688.5h6M1173 691.5h6M1185 691.5h3M1191 724.5h9M1194 727.5h6M1194 730.5h6M1194 733.5h3M1233 1033.5h24M1218 1036.5h42M1266 1036.5h3M1275 1036.5h6M1206 1039.5h63M1278 1039.5h3M1203 1042.5h72M1284 1042.5h6M1200 1045.5h75M1284 1045.5h6M1197 1048.5h78M1281 1048.5h6M1197 1051.5h78M1281 1051.5h3M1197 1054.5h78M1281 1054.5h3M1206 1057.5h63M1224 1060.5h36M357 982.5h3M357 985.5h3M672 1375.5h6"/>
<path stroke="#2a8a22" d="M672 499.5h3M660 502.5h24M657 505.5h30M660 508.5h24M663 511.5h21M666 514.5h12M672 517.5h15M663 520.5h30M663 523.5h30M663 526.5h30M666 529.5h24M666 532.5h24M672 535.5h15M672 541.5h12M663 544.5h24M663 547.5h21M666 550.5h18M669 553.5h12M1176 688.5h6M1176 691.5h3M1185 691.5h3M1194 724.5h3M1194 730.5h3M1236 1033.5h12M1251 1033.5h6M1221 1036.5h27M1251 1036.5h9M1275 1036.5h3M1206 1039.5h51M1266 1039.5h3M1206 1042.5h60M1200 1045.5h75M1284 1045.5h6M1197 1048.5h78M1197 1051.5h78M1197 1054.5h78M1206 1057.5h63M1239 1060.5h15M357 985.5h3M672 1375.5h6"/>
<path stroke="#1e6e1e" d="M663 502.5h21M657 505.5h30M663 508.5h18M666 511.5h15M666 514.5h3M672 514.5h6M672 517.5h15M663 520.5h27M663 523.5h30M663 526.5h30M666 529.5h24M666 532.5h21M672 535.5h15M672 541.5h3M669 544.5h18M669 547.5h15M666 550.5h18M669 553.5h9M1239 1033.5h6M1251 1033.5h6M1221 1036.5h27M1251 1036.5h6M1206 1039.5h51M1206 1042.5h51M1260 1042.5h6M1200 1045.5h69M1200 1048.5h75M1197 1051.5h9M1209 1051.5h66M1206 1054.5h69M1206 1057.5h3M1215 1057.5h54M1239 1060.5h15M675 1375.5h3"/>
<path stroke="#f0ee3c" d="M666 502.5h12M657 505.5h27M663 508.5h18M666 511.5h15M666 514.5h3M675 514.5h3M675 517.5h12M663 520.5h27M663 523.5h30M663 526.5h27M666 529.5h24M666 532.5h21M672 535.5h15M672 544.5h12M669 547.5h15M669 550.5h12M669 553.5h6M1254 1033.5h3M1224 1036.5h6M1233 1036.5h15M1254 1036.5h3M1206 1039.5h42M1251 1039.5h3M1209 1042.5h45M1206 1045.5h63M1206 1048.5h69M1200 1051.5h3M1215 1051.5h60M1209 1054.5h66M1215 1057.5h54M1248 1060.5h6M675 1375.5h3"/>
<path stroke="#e4e438" d="M666 502.5h9M660 505.5h24M666 508.5h15M666 511.5h12M675 517.5h12M663 520.5h27M663 523.5h30M663 526.5h27M666 529.5h24M666 532.5h21M675 535.5h12M672 544.5h12M672 547.5h3M669 550.5h9M672 553.5h3M1224 1036.5h3M1236 1036.5h12M1212 1039.5h18M1233 1039.5h15M1251 1039.5h3M1212 1042.5h36M1215 1045.5h39M1257 1045.5h9M1209 1048.5h3M1215 1048.5h60M1218 1051.5h57M1215 1054.5h60M1227 1057.5h6M1236 1057.5h33"/>
<path stroke="#d8d838" d="M669 502.5h6M660 505.5h24M666 508.5h12M669 511.5h9M675 517.5h9M666 520.5h24M663 523.5h30M663 526.5h27M666 529.5h24M666 532.5h21M675 535.5h12M672 544.5h3M672 547.5h3M672 550.5h3M1236 1036.5h12M1221 1039.5h6M1233 1039.5h15M1212 1042.5h33M1215 1045.5h36M1257 1045.5h9M1215 1048.5h60M1218 1051.5h57M1215 1054.5h57M1227 1057.5h3M1239 1057.5h30"/>
<path stroke="#ccd030" d="M672 502.5h3M666 505.5h15M666 508.5h12M669 511.5h6M675 517.5h9M666 520.5h21M663 523.5h27M663 526.5h27M666 529.5h24M669 532.5h18M675 535.5h9M1236 1036.5h12M1224 1039.5h3M1233 1039.5h15M1215 1042.5h12M1233 1042.5h12M1218 1045.5h30M1260 1045.5h6M1218 1048.5h48M1269 1048.5h6M1221 1051.5h54M1218 1054.5h3M1227 1054.5h24M1254 1054.5h18M1242 1057.5h27"/>
<path stroke="#c4c430" d="M666 505.5h12M669 508.5h6M675 517.5h6M666 520.5h21M663 523.5h27M663 526.5h27M666 529.5h21M669 532.5h18M675 535.5h3M1242 1036.5h6M1236 1039.5h12M1221 1042.5h3M1236 1042.5h9M1218 1045.5h6M1227 1045.5h3M1236 1045.5h9M1260 1045.5h3M1218 1048.5h24M1245 1048.5h6M1257 1048.5h9M1269 1048.5h3M1221 1051.5h24M1254 1051.5h21M1230 1054.5h15M1254 1054.5h15M1242 1057.5h3M1254 1057.5h12"/>
<path stroke="#d0a828" d="M666 505.5h9M669 508.5h3M675 517.5h3M669 520.5h18M666 523.5h24M666 526.5h24M669 529.5h18M672 532.5h15M1242 1036.5h6M1236 1039.5h12M1221 1042.5h3M1236 1042.5h6M1218 1045.5h6M1236 1045.5h6M1221 1048.5h12M1245 1048.5h6M1260 1048.5h3M1224 1051.5h18M1254 1051.5h18M1236 1054.5h9M1254 1054.5h15M1257 1057.5h6"/>
<path stroke="#d89820" d="M669 505.5h3M669 508.5h3M675 517.5h3M669 520.5h15M666 523.5h24M666 526.5h24M669 529.5h18M672 532.5h12M1242 1036.5h6M1236 1039.5h3M1242 1039.5h6M1221 1042.5h3M1239 1042.5h3M1218 1045.5h6M1239 1045.5h3M1221 1048.5h9M1245 1048.5h3M1260 1048.5h3M1239 1051.5h3M1257 1051.5h15M1239 1054.5h3M1254 1054.5h15M1260 1057.5h3"/>
<path stroke="#e08018" d="M669 505.5h3M669 520.5h15M666 523.5h24M666 526.5h24M669 529.5h18M672 532.5h12M1242 1036.5h3M1221 1042.5h3M1221 1045.5h3M1239 1051.5h3M1257 1051.5h6M1257 1054.5h6"/>
<path stroke="#e81030" d="M669 520.5h3M675 520.5h9M666 523.5h21M666 526.5h21M669 529.5h18M672 532.5h12M1221 1045.5h3M1257 1054.5h3"/>
<path stroke="#c80020" d="M675 520.5h9M669 523.5h18M669 526.5h18M672 529.5h12M675 532.5h9M1257 1054.5h3"/>
<path stroke="#c00018" d="M678 520.5h6M669 523.5h15M669 526.5h18M672 529.5h12M675 532.5h6"/>
<path stroke="#b0000c" d="M669 523.5h15M669 526.5h15M672 529.5h12M675 532.5h3"/>
<path stroke="#960000" d="M669 523.5h15M672 526.5h12M672 529.5h9M675 532.5h3"/>
<path stroke="#c00060" d="M669 523.5h15M672 526.5h9M672 529.5h9"/>
<path stroke="#d80098" d="M672 523.5h3M678 523.5h3M672 526.5h9M675 529.5h6"/>
<path stroke="#e800e8" d="M675 526.5h6M675 529.5h3"/>
</g>
<g fill="none" stroke-width="4.15" shape-rendering="crispEdges">
<path stroke="#3e70a0" d="M1492 806h16M1488 810h20M1488 814h24M1484 818h28M1484 822h32M1484 826h32M1424 830h44M1484 830h36M1416 834h60M1480 834h40M1412 838h108M1404 842h112M1384 846h132M1380 850h132M1380 854h132M1376 858h136M1376 862h140M1372 866h144M1368 870h148M1372 874h144M1372 878h140M1372 882h132M1356 886h12M1372 886h128M1352 890h20M1376 890h124M1352 894h140M1352 898h132M1356 902h12M1372 902h104M1376 906h60M1384 910h12M200 1130h8M188 1134h24M180 1138h36M176 1142h48M176 1146h56M172 1150h64M172 1154h68M172 1158h72M176 1162h68M176 1166h64M176 1170h60M172 1174h64M176 1178h64M176 1182h60M180 1186h40M184 1190h16M208 1190h8"/>
<path stroke="#3878a8" d="M876 290h4M864 294h32M864 298h36M860 302h40M856 306h44M852 310h48M856 314h44M848 318h52M844 322h56M832 326h4M844 326h52M824 330h72M820 334h76M820 338h76M820 342h72M820 346h40M868 346h20M820 350h40M820 354h40M824 358h32M828 362h28M828 366h24M832 370h16M836 374h8M744 334h24M740 338h32M732 342h44M732 346h44M732 350h48M732 354h44M736 358h40M948 382h4M944 386h16M940 390h28M936 394h40M936 398h44M940 402h40M944 406h36M952 410h8M968 410h8M976 414h8M976 418h12M976 422h8M1252 438h4M1248 442h20M1248 446h24M1248 450h24M1252 454h20M1256 458h8M480 422h20M480 426h20M476 430h24M484 434h12M1492 806h16M1488 810h20M1488 814h24M1484 818h28M1484 822h32M1484 826h32M1424 830h44M1484 830h36M1416 834h60M1480 834h40M1412 838h108M1404 842h112M1384 846h132M1380 850h132M1380 854h132M1376 858h136M1376 862h140M1372 866h144M1368 870h148M1372 874h144M1372 878h140M1372 882h132M1356 886h12M1372 886h128M1352 890h20M1376 890h124M1352 894h140M1352 898h132M1356 902h12M1372 902h84M1460 902h16M1376 906h60M1384 910h12M1448 950h12M1448 954h20M1448 958h16M1488 1082h12M1480 1086h20M1472 1090h28M1468 1094h28M1472 1098h28M1488 1102h12M200 1130h8M188 1134h24M180 1138h36M176 1142h48M176 1146h56M172 1150h64M172 1154h68M172 1158h68M176 1162h68M176 1166h64M176 1170h60M172 1174h64M176 1178h64M176 1182h60M180 1186h40M184 1190h16M208 1190h8M560 1554h16M560 1558h16M564 1562h16M544 1618h24M548 1622h32M556 1626h28M564 1630h24M572 1634h16"/>
<path stroke="#3084b8" d="M876 290h4M864 294h28M864 298h28M860 302h40M856 306h44M852 310h48M856 314h44M848 318h52M844 322h56M832 326h4M844 326h52M824 330h72M820 334h76M820 338h76M820 342h72M820 346h36M868 346h16M820 350h40M820 354h40M824 358h32M832 362h24M828 366h24M832 370h12M836 374h8M744 334h24M744 338h28M732 342h44M732 346h44M732 350h48M732 354h44M736 358h12M752 358h20M944 386h16M940 390h28M936 394h40M936 398h44M940 402h40M944 406h36M952 410h8M968 410h8M980 414h4M976 418h12M976 422h8M1252 438h4M1248 442h20M1248 446h20M1252 450h20M1252 454h16M1256 458h8M488 422h8M484 426h16M476 430h4M484 430h16M484 434h12M1492 806h16M1488 810h20M1488 814h20M1484 818h28M1484 822h32M1484 826h32M1428 830h4M1440 830h28M1484 830h36M1424 834h8M1444 834h32M1480 834h40M1416 838h4M1424 838h96M1412 842h104M1384 846h24M1412 846h104M1380 850h132M1380 854h132M1376 858h136M1376 862h140M1372 866h144M1368 870h148M1372 874h140M1372 878h140M1372 882h132M1356 886h12M1372 886h128M1352 890h20M1376 890h124M1352 894h140M1352 898h96M1460 898h24M1356 902h12M1372 902h64M1440 902h8M1468 902h8M1376 906h60M1384 910h12M1448 950h12M1448 954h16M1452 958h4M1488 1082h12M1484 1086h16M1472 1090h28M1468 1094h28M1476 1098h24M1488 1102h12M188 1134h12M180 1138h36M176 1142h44M176 1146h56M172 1150h56M172 1154h56M232 1154h4M176 1158h64M176 1162h64M176 1166h64M176 1170h60M176 1174h60M180 1178h40M224 1178h12M176 1182h44M228 1182h8M180 1186h28M212 1186h8M184 1190h8M196 1190h4M212 1190h4M564 1554h12M564 1558h12M572 1562h4M588 1566h20M588 1570h24M596 1574h12M544 1618h4M552 1618h16M548 1622h32M556 1626h28M564 1630h24M572 1634h16"/>
<path stroke="#2c94c4" d="M868 294h16M864 298h24M860 302h28M860 306h36M860 310h36M856 314h40M848 318h52M844 322h56M832 326h4M844 326h52M828 330h12M844 330h52M824 334h68M820 338h68M820 342h60M820 346h36M872 346h8M820 350h36M824 354h32M824 358h32M832 362h24M836 366h12M756 334h12M744 338h28M744 342h28M740 346h32M732 350h40M732 354h36M740 358h8M756 358h12M940 390h28M936 394h40M940 398h36M944 402h32M944 406h32M980 418h4M1252 438h4M1248 442h16M1252 446h16M1252 450h16M1256 454h8M1256 458h8M488 426h8M488 430h4M1492 810h16M1492 814h16M1484 818h28M1484 822h28M1488 826h24M1452 830h4M1464 830h4M1488 830h28M1452 834h4M1464 834h4M1480 834h36M1448 838h8M1460 838h16M1480 838h36M1436 842h8M1448 842h4M1464 842h4M1472 842h32M1384 846h20M1428 846h4M1436 846h68M1508 846h4M1380 850h28M1416 850h8M1428 850h84M1380 854h132M1376 858h136M1376 862h136M1372 866h140M1368 870h148M1372 874h140M1372 878h136M1372 882h132M1372 886h128M1352 890h20M1376 890h124M1356 894h16M1376 894h68M1452 894h40M1356 898h12M1380 898h52M1440 898h4M1460 898h24M1380 902h40M1468 902h8M1380 906h28M1384 910h12M1452 950h4M1452 954h12M1496 1082h4M1488 1086h12M1472 1090h16M1492 1090h4M1472 1094h24M1476 1098h24M1488 1102h12M188 1134h8M184 1138h28M184 1142h36M184 1146h40M180 1150h44M180 1154h44M180 1158h56M180 1162h52M180 1166h52M180 1170h48M184 1174h48M184 1178h36M228 1178h8M180 1182h36M192 1186h12M568 1554h4M568 1558h8M592 1566h12M592 1570h16M556 1618h4M552 1622h24M564 1626h16M576 1630h8M576 1634h8"/>
<path stroke="#28a0d4" d="M868 294h16M864 298h24M860 302h28M860 306h32M860 310h32M860 314h36M848 318h52M844 322h56M844 326h52M844 330h48M824 334h12M844 334h48M824 338h64M824 342h56M824 346h32M824 350h32M824 354h32M824 358h28M832 362h20M840 366h8M764 334h4M748 338h4M760 338h12M744 342h8M756 342h16M744 346h12M760 346h12M732 350h24M764 350h8M736 354h24M740 358h4M944 390h24M940 394h32M940 398h36M944 402h32M944 406h28M1252 438h4M1248 442h16M1256 446h8M1256 450h8M1256 454h8M1492 810h16M1492 814h16M1488 818h24M1488 822h24M1488 826h24M1488 830h24M1492 834h20M1480 838h16M1472 842h28M1384 846h20M1444 846h16M1464 846h40M1380 850h28M1432 850h80M1380 854h32M1428 854h84M1376 858h136M1376 862h136M1372 866h140M1368 870h148M1372 874h140M1372 878h136M1372 882h132M1372 886h60M1436 886h60M1376 890h56M1440 890h60M1360 894h4M1376 894h56M1436 894h4M1456 894h36M1360 898h8M1380 898h44M1460 898h24M1380 902h36M1468 902h8M1380 906h28M1384 910h12M1456 954h4M1476 1090h12M1476 1094h20M1484 1098h16M1488 1102h12M188 1134h8M184 1138h24M184 1142h36M184 1146h40M180 1150h40M180 1154h44M180 1158h48M180 1162h48M180 1166h48M180 1170h44M184 1174h40M184 1178h36M184 1182h24M192 1186h12M564 1622h4M572 1626h4M576 1630h4M576 1634h4"/>
<path stroke="#2cb0e0" d="M868 294h4M876 294h8M864 298h20M860 302h28M860 306h32M860 310h32M860 314h32M848 318h52M844 322h56M844 326h52M844 330h48M844 334h44M824 338h8M836 338h52M824 342h56M824 346h32M824 350h32M824 354h32M824 358h28M836 362h16M840 366h4M764 334h4M760 338h12M744 342h8M756 342h16M744 346h8M764 346h8M736 350h20M764 350h4M736 354h12M944 390h24M940 394h32M940 398h36M944 402h32M952 406h20M1252 438h4M1248 442h12M1256 446h4M1492 810h16M1492 814h16M1492 818h20M1488 822h24M1488 826h24M1488 830h24M1492 834h12M1480 838h8M1472 842h20M1384 846h4M1400 846h4M1444 846h12M1464 846h40M1380 850h28M1432 850h4M1440 850h72M1380 854h32M1428 854h84M1376 858h136M1376 862h136M1372 866h56M1432 866h80M1368 870h144M1372 874h140M1372 878h136M1372 882h124M1372 886h60M1436 886h4M1444 886h52M1376 890h56M1444 890h52M1376 894h56M1456 894h4M1464 894h28M1380 898h32M1416 898h8M1464 898h20M1380 902h32M1472 902h4M1380 906h16M1404 906h4M1384 910h12M1480 1090h4M1480 1094h4M1488 1094h8M1484 1098h16M1488 1102h12M188 1134h8M184 1138h20M184 1142h32M184 1146h36M180 1150h40M180 1154h44M180 1158h48M180 1162h48M180 1166h48M180 1170h44M184 1174h40M184 1178h24M212 1178h8M188 1182h20M200 1186h4"/>
<path stroke="#50f038" d="M880 294h4M864 298h4M872 298h12M860 302h28M860 306h32M864 310h28M864 314h28M848 318h48M844 322h52M844 326h52M844 330h48M844 334h44M828 338h4M836 338h52M824 342h56M824 346h32M824 350h28M824 354h32M832 358h20M836 362h16M840 366h4M760 338h4M768 338h4M760 342h12M748 346h4M764 346h8M736 350h20M764 350h4M736 354h12M948 390h20M940 394h32M940 398h36M944 402h32M952 406h20M1252 438h4M1248 442h12M1492 810h12M1492 814h16M1492 818h20M1492 822h20M1488 826h24M1488 830h24M1492 834h12M1480 838h4M1476 842h12M1384 846h4M1468 846h24M1496 846h4M1380 850h24M1432 850h4M1440 850h12M1464 850h48M1380 854h28M1428 854h8M1440 854h72M1376 858h48M1428 858h80M1376 862h52M1432 862h20M1456 862h56M1372 866h56M1436 866h72M1372 870h136M1376 874h136M1372 878h120M1496 878h8M1376 882h68M1448 882h48M1376 886h56M1436 886h4M1448 886h48M1376 890h56M1448 890h12M1468 890h28M1376 894h56M1464 894h24M1380 898h32M1416 898h4M1464 898h20M1380 902h32M1472 902h4M1380 906h16M1404 906h4M1388 910h4M1488 1094h8M1484 1098h16M1492 1102h8M188 1138h16M188 1142h28M184 1146h32M184 1150h32M184 1154h40M184 1158h40M180 1162h48M180 1166h48M180 1170h44M188 1174h36M184 1178h24M188 1182h20M200 1186h4"/>
<path stroke="#48e034" d="M880 294h4M876 298h8M864 302h20M860 306h28M864 310h28M864 314h28M848 318h44M844 322h52M844 326h52M844 330h48M844 334h44M840 338h44M824 342h56M824 346h32M824 350h28M824 354h28M832 358h20M836 362h12M768 338h4M764 342h4M748 346h4M764 346h4M740 350h8M736 354h12M948 390h16M940 394h32M940 398h36M944 402h28M956 406h16M1248 442h12M1500 810h4M1492 814h8M1492 818h8M1504 818h4M1492 822h20M1492 826h20M1492 830h20M1496 834h8M1380 850h8M1444 850h4M1464 850h48M1384 854h20M1428 854h4M1444 854h68M1380 858h24M1412 858h8M1428 858h24M1456 858h52M1380 862h28M1412 862h16M1432 862h16M1456 862h52M1372 866h52M1436 866h72M1380 870h44M1432 870h76M1376 874h40M1420 874h20M1444 874h68M1376 878h64M1444 878h48M1376 882h64M1452 882h40M1376 886h56M1448 886h16M1468 886h28M1376 890h56M1468 890h24M1376 894h28M1408 894h24M1468 894h20M1380 898h32M1468 898h16M1384 902h28M1388 906h8M1404 906h4M1488 1094h4M1488 1098h12M1496 1102h4M188 1138h16M188 1142h28M188 1146h28M184 1150h32M184 1154h36M184 1158h40M184 1162h40M184 1166h36M184 1170h40M188 1174h36M184 1178h20M188 1182h4M196 1182h12"/>
<path stroke="#44c830" d="M876 298h8M868 302h16M868 306h20M868 310h24M868 314h20M848 318h40M844 322h48M844 326h52M844 330h44M844 334h44M844 338h36M832 342h44M824 346h32M824 350h28M828 354h24M836 358h16M836 362h12M736 354h8M956 390h8M940 394h32M944 398h28M944 402h24M956 406h12M1500 810h4M1492 814h8M1492 818h8M1492 822h20M1492 826h20M1492 830h16M1500 834h4M1384 850h4M1468 850h28M1444 854h8M1456 854h44M1504 854h4M1384 858h20M1440 858h8M1456 858h48M1380 862h24M1412 862h12M1436 862h12M1456 862h48M1380 866h44M1440 866h64M1380 870h40M1440 870h64M1376 874h40M1420 874h8M1444 874h56M1376 878h56M1448 878h44M1376 882h60M1452 882h12M1468 882h24M1376 886h56M1452 886h8M1468 886h24M1376 890h28M1412 890h20M1468 890h20M1376 894h8M1388 894h16M1412 894h20M1468 894h20M1380 898h28M1476 898h8M1388 902h8M1404 902h4M1388 906h8M1496 1098h4M1496 1102h4M192 1138h12M188 1142h24M188 1146h28M184 1150h32M184 1154h32M184 1158h36M184 1162h36M184 1166h36M188 1170h32M188 1174h32M188 1178h16M200 1182h4"/>
<path stroke="#40b82c" d="M868 302h16M868 306h16M868 310h20M868 314h20M848 318h40M844 322h40M844 326h48M844 330h44M844 334h44M852 338h28M832 342h40M824 346h28M824 350h24M828 354h24M836 358h4M844 358h4M840 362h8M940 394h24M944 398h28M948 402h16M960 406h4M1496 818h4M1496 822h4M1504 822h4M1496 826h12M1492 830h12M1476 850h20M1460 854h40M1384 858h20M1456 858h48M1384 862h20M1456 862h48M1380 866h20M1412 866h8M1448 866h4M1456 866h48M1380 870h40M1448 870h8M1460 870h44M1376 874h40M1420 874h8M1448 874h8M1460 874h40M1376 878h56M1452 878h12M1468 878h12M1380 882h56M1452 882h12M1476 882h12M1380 886h24M1412 886h20M1452 886h8M1472 886h16M1384 890h20M1412 890h20M1472 890h12M1388 894h12M1416 894h16M1472 894h16M1388 898h12M1476 898h8M1388 902h8M1404 902h4M192 1138h12M192 1142h20M188 1146h24M188 1150h24M188 1154h28M184 1158h36M184 1162h36M184 1166h36M188 1170h32M188 1174h32M188 1178h16"/>
<path stroke="#38a828" d="M872 302h12M868 306h16M872 310h12M868 314h20M848 318h36M844 322h40M844 326h44M848 330h40M844 334h40M852 338h24M832 342h20M856 342h4M864 342h8M832 346h16M828 350h20M832 354h16M944 394h20M944 398h20M948 402h16M1504 822h4M1476 850h20M1460 854h40M1384 858h12M1456 858h48M1384 862h12M1456 862h48M1380 866h20M1460 866h44M1380 870h24M1408 870h8M1460 870h40M1376 874h36M1420 874h8M1448 874h4M1460 874h12M1476 874h20M1376 878h32M1412 878h20M1456 878h8M1380 882h24M1408 882h28M1456 882h4M1480 882h4M1380 886h24M1412 886h20M1472 886h12M1384 890h20M1412 890h20M1472 890h12M1388 894h12M1416 894h16M1476 894h12M1388 898h8M1476 898h8M1392 902h4M192 1138h8M192 1142h16M188 1146h24M188 1150h24M188 1154h28M188 1158h28M188 1162h32M188 1166h32M188 1170h32M188 1174h8M204 1174h16"/>
<path stroke="#2e9822" d="M872 306h8M872 310h12M872 314h12M848 318h32M848 322h36M844 326h44M848 330h40M848 334h36M852 338h24M836 342h12M836 346h8M832 350h16M832 354h4M944 394h16M944 398h20M948 402h12M1480 850h16M1460 854h40M1384 858h12M1460 858h44M1384 862h12M1460 862h44M1380 866h20M1460 866h44M1380 870h20M1408 870h8M1460 870h40M1376 874h28M1408 874h4M1420 874h8M1476 874h20M1376 878h32M1412 878h20M1456 878h4M1380 882h24M1408 882h28M1456 882h4M1380 886h24M1412 886h20M1384 890h16M1412 890h20M1472 890h12M1392 894h4M1416 894h16M1476 894h12M1476 898h8M196 1138h4M192 1142h16M188 1146h24M192 1150h20M192 1154h20M188 1158h28M188 1162h32M188 1166h32M192 1170h28M192 1174h4M208 1174h12"/>
<path stroke="#2a8a22" d="M872 306h4M872 310h8M872 314h4M880 314h4M848 318h32M848 322h36M848 326h40M848 330h36M848 334h36M852 338h24M836 342h8M840 346h4M836 350h8M944 394h16M944 398h16M952 402h8M1484 850h4M1464 854h32M1384 858h8M1460 858h44M1384 862h12M1460 862h44M1380 866h20M1460 866h44M1380 870h20M1460 870h40M1376 874h24M1420 874h8M1476 874h8M1488 874h8M1376 878h24M1416 878h16M1380 882h20M1408 882h28M1380 886h20M1412 886h20M1384 890h12M1412 890h20M1472 890h12M1392 894h4M1420 894h12M1476 894h12M1476 898h8M196 1138h4M192 1142h16M192 1146h20M192 1150h20M192 1154h20M192 1158h24M192 1162h28M188 1166h28M192 1170h28M208 1174h12"/>
<path stroke="#1e6e1e" d="M872 306h4M852 318h24M848 322h32M848 326h40M848 330h36M848 334h36M856 338h20M836 342h8M944 394h4M952 394h8M948 398h12M952 402h8M1472 854h20M1384 858h8M1464 858h36M1384 862h12M1460 862h40M1380 866h16M1460 866h44M1380 870h20M1460 870h12M1476 870h24M1376 874h24M1420 874h8M1376 878h24M1416 878h16M1380 882h20M1412 882h24M1380 886h20M1412 886h20M1388 890h4M1412 890h20M1476 890h8M1424 894h8M1476 894h12M1476 898h8M192 1142h12M192 1146h16M192 1150h20M196 1154h16M192 1158h24M192 1162h24M192 1166h24M196 1170h24M208 1174h8"/>
<path stroke="#f0ee3c" d="M852 318h24M852 322h28M848 326h36M848 330h36M852 334h32M856 338h16M836 342h8M956 394h4M948 398h12M952 402h8M1476 854h4M1484 854h8M1384 858h4M1468 858h28M1384 862h8M1460 862h40M1380 866h16M1460 866h40M1380 870h16M1464 870h4M1476 870h20M1380 874h20M1424 874h4M1376 878h24M1420 878h12M1380 882h20M1412 882h20M1380 886h16M1412 886h20M1388 890h4M1412 890h20M1476 890h8M1424 894h4M1476 894h8M196 1142h8M192 1146h16M192 1150h16M196 1154h16M196 1158h20M192 1162h24M196 1166h16M196 1170h20"/>
<path stroke="#e4e438" d="M856 318h4M852 322h28M848 326h36M852 330h32M852 334h28M856 338h16M840 342h4M948 398h8M1484 854h4M1468 858h28M1384 862h8M1468 862h28M1380 866h16M1476 866h16M1380 870h16M1464 870h4M1480 870h8M1380 874h16M1424 874h4M1380 878h20M1420 878h12M1380 882h16M1412 882h20M1384 886h12M1412 886h20M1416 890h16M1476 890h8M1424 894h4M1476 894h8M196 1142h4M192 1146h16M192 1150h16M200 1154h8M196 1158h16M192 1162h24M196 1166h16M200 1170h16"/>
<path stroke="#d8d838" d="M852 322h28M852 326h32M852 330h32M852 334h28M856 338h16M1472 858h20M1384 862h4M1472 862h20M1380 866h16M1476 866h12M1380 870h16M1480 870h4M1380 874h16M1380 878h20M1420 878h8M1380 882h16M1412 882h20M1384 886h12M1416 886h16M1416 890h4M1424 890h8M1476 890h4M1424 894h4M1476 894h8M196 1142h4M192 1146h16M192 1150h8M200 1158h12M196 1162h16M200 1166h8M208 1170h4"/>
<path stroke="#ccd030" d="M852 322h28M852 326h32M852 330h28M852 334h20M860 338h12M1472 858h20M1384 862h4M1472 862h20M1380 866h16M1480 866h8M1380 870h16M1380 874h16M1380 878h16M1424 878h4M1384 882h12M1420 882h12M1384 886h8M1420 886h8M1424 890h4M196 1146h8M196 1150h4M200 1158h8M200 1162h8M200 1166h4"/>
<path stroke="#c4c430" d="M856 322h20M852 326h32M852 330h28M856 334h16M1472 858h16M1384 862h4M1472 862h20M1384 866h8M1480 866h4M1380 870h16M1380 874h16M1380 878h16M1424 878h4M1384 882h12M1420 882h12M1384 886h4M1420 886h8M1424 890h4M200 1162h4M200 1166h4"/>
<path stroke="#d0a828" d="M856 322h20M852 326h28M852 330h28M856 334h16M1472 858h8M1384 862h4M1472 862h16M1384 866h8M1384 870h12M1380 874h16M1380 878h16M1424 878h4M1384 882h12M1420 882h8M1424 886h4"/>
<path stroke="#d89820" d="M856 322h20M856 326h24M856 330h24M856 334h16M1476 862h8M1384 866h8M1384 870h12M1384 874h12M1380 878h16M1384 882h8M1424 882h4M1424 886h4"/>
<path stroke="#e08018" d="M856 322h4M868 322h8M856 326h24M856 330h24M860 334h8M1384 866h4M1384 870h12M1384 874h12M1384 878h12M1424 882h4"/>
<path stroke="#e81030" d="M856 326h20M856 330h12M872 330h8M860 334h8M1384 866h4M1388 870h4M1388 874h4M1384 878h12"/>
<path stroke="#c80020" d="M860 326h16M860 330h8M872 330h4M860 334h8M1388 870h4M1388 878h4"/>
<path stroke="#c00018" d="M860 326h16M860 330h8M1388 878h4"/>
<path stroke="#b0000c" d="M860 330h4"/>
</g>
<g fill="none" stroke="#808080" stroke-width="2.9" stroke-linejoin="round" stroke-linecap="round">
<path d="M20,229 34,220 M193,220 246,257 M246,257 246,231 317,230 317,220 M246,257 248,295 249,363 M248,295 366,296 366,287 376,293 387,287 409,294 424,302 426,312 424,320 430,331 447,339 463,346 474,347 490,351 M249,363 148,365 150,502 M136,504 203,502 203,493 261,493 261,497 281,497 282,555 332,556 354,555 370,568 M136,504 137,570 M225,648 163,711 155,707 146,709 146,720 M20,717 69,716 71,722 84,723 84,738 M79,739 146,738 M174,700 163,711 M146,708 147,814 153,823 174,825 180,836 196,847 210,858 211,872 217,880 206,893 204,907 M79,739 80,750 125,793 82,838 52,869 46,865 34,880 38,883 20,900 M80,750 41,791 41,779 26,779 26,795 20,796 M82,838 105,861 112,866 117,883 125,881 143,897 177,927 172,940 165,944 M143,897 101,941 83,925 69,938 20,940 M331,880 349,903 341,904 341,915 319,918 294,923 294,940 283,948 262,957 245,955 240,989 M236,923 234,940 247,942 248,955 M195,1009 218,997 236,990 245,987 257,997 259,1026 275,1023 289,1030 290,1039 300,1041 302,1049 324,1049 323,1073 342,1072 345,1087 350,1106 M341,915 354,926 379,930 400,918 436,915 460,921 479,927 493,947 485,959 463,975 460,986 441,1000 420,1008 392,1021 376,1035 350,1051 365,1065 390,1064 414,1057 434,1061 414,1077 417,1087 430,1090 436,1107 447,1106 460,1100 467,1122 M390,1064 398,1072 392,1087 381,1088 350,1106 327,1117 311,1120 300,1113 278,1117 253,1128 237,1144 221,1155 207,1163 193,1179 163,1188 136,1194 133,1207 117,1198 M311,1120 342,1163 331,1171 347,1193 321,1220 314,1226 M520,1109 504,1115 467,1122 439,1130 420,1149 381,1177 347,1193 M478,927.6 493,917.6 516.7,915 520.4,898.8 503,898.8 501,890 M493,946.4 510.4,952.7 535.4,945 M185,1220 196,1207 204,1220 M520,948 536,945 538,972 551,974 553,981 569,985 570,998 580,1000 591,986 610,972 624,953 628,923 M668,938 678,948 667,959 643,975 621,994 596,1015 572,1035 550,1060 536,1081 520,1102 504,1115 M762,970 746,983 727,997 713,1011 708,1024 692,1036 689,1051 673,1068 656,1081 640,1095 632,1117 621,1141 625,1160 626,1177 615,1198 607,1220 599,1232 569,1247 549,1262 555,1270 553,1279 540,1288 537,1291 M520,1121 555,1167 543,1175 564,1207 550,1220 537,1238 M980,1040 983,1046 1002,1050 1010,1062 1032,1065 1040,1073 1051,1088 1074,1086 1088,1107 1085,1127 1102,1107 M980,1040 975,1060 967,1079 953,1077 946,1096 920,1079 910,1098 860,1068 856,1090 839,1119 820,1141 806,1163 798,1182 781,1201 760,1220 745,1232 681,1291 654,1311 622,1317 562,1323 540,1332 513,1344 463,1360 440,1364 411,1363 390,1376 367,1382 352,1404 343,1420 326,1439 305,1436 293,1441 282,1461 264,1479 246,1493 232,1511 223,1529 208,1549 205,1564 191,1584 185,1608 173,1625 M781,1201 806,1209 839,1208 855,1209 855,1219 874,1222 885,1235 892,1237 895,1253 886,1262 883,1270 874,1285 871,1300 851,1310 847,1323 848,1338 855,1347 845,1358 835,1370 841,1382 836,1399 842,1417 848,1435 851,1449 857,1461 864,1464 866,1476 873,1483 866,1496 871,1498 M1471,496 1490,489 1510,497 1532,487 1538,493 1539,483 1568,490 M1454,595 1476,613 1493,607 1515,616 1538,619 1568,613 M1422,667 1436,700 1461,769 1450,775 1446,761 1435,765 1440,798 1432,800 1419,782 1394,776 1392,796 1385,805 1367,816 1357,803 1327,800 1312,799 1303,788 1304,779 1296,775 M1568,674 1544,687 1535,694 1529,700 1500,725 1505,734 1493,742 1493,754 1477,761 1461,769 M1477,761 1498,813 1512,816 1515,830 1504,853 1507,870 1555,864 1558,875 1566,892 1568,915 M1327,800 1329,841 1337,853 1378,908 1408,914 1413,898 1408,870 1447,857 1445,839 1473,839 1481,847 1477,858 1484,875 1507,870 M1317,841 1316,875 1295,887 1272,898 1271,921 1249,918 1224,912 1207,902 1205,884 1187,875 M1271,921 1201,963 1200,956 1180,967 1184,976 1156,993 M1111,932 1108,940 1118,949 1115,969 1111,974 1133,983 1149,983 1156,993 1169,997 1167,1017 1204,1021 1203,1037 1196,1039 1162,1100 1179,1102 1186,1133 1181,1150 1176,1157 M1167,1017 1152,1021 1150,1034 1136,1030 1121,1014 1116,1030 1099,1037 M1249,936 1266,940 1272,955 1288,957 1278,972 1303,991 1304,1020 1297,1021 1296,1030 1266,1031 1255,1047 1203,1039 M1303,991 1331,993 1341,1006 1348,1022 1360,1039 M1378,908 1379,935 1394,955 1399,977 1395,994 M1248,1048 1258,1090 M126,1200 135,1203 133,1216 155,1228 182,1219 197,1207 214,1244 217,1256 232,1263 229,1275 241,1291 232,1320 M343,1200 314,1226 293,1238 270,1259 261,1278 241,1291 M314,1226 351,1276 293,1326 296,1344 282,1364 290,1388 305,1388 317,1376 352,1404 M232,1320 191,1341 176,1355 164,1376 147,1405 M106,1391 131,1395 132,1402 147,1405 176,1411 235,1449 264,1479 M173,1625 191,1630 186,1653 183,1680 M173,1625 160,1647 147,1653 120,1680 90,1700 60,1730 30,1745 20,1750 M79,1493 85,1499 101,1486 109,1493 138,1496 141,1489 164,1490 210,1505 194,1526 186,1542 189,1552 205,1549 M264,1479 282,1483 287,1496 305,1508 314,1523 329,1530 337,1543 355,1551 370,1567 378,1584 390,1602 411,1615 425,1622 446,1628 461,1643 478,1649 484,1666 487,1681 499,1699 510,1710 528,1716 543,1707 560,1710 575,1722 590,1718 M560,1279 537,1291 549,1303 560,1320 562,1323 M560,1238 551,1259 556,1270 551,1282 537,1291 M616,1200 613,1215 599,1232 M540,1294 549,1300 562,1323 M681,1291 694,1314 697,1338 694,1364 695,1388 687,1411 672,1435 651,1458 634,1474 619,1482 607,1499 593,1520 584,1534 583,1552 574,1573 587,1587 588,1611 596,1617 591,1631 596,1649 590,1663 584,1684 583,1696 568,1702 569,1710 563,1728 540,1737 545,1760 M593,1523 603,1524 619,1540 631,1540 660,1546 707,1546 716,1549 739,1539 761,1530 772,1533 786,1530 791,1552 789,1567 792,1573 789,1590 792,1608 786,1614 788,1624 794,1630 M883,1270 901,1265 921,1270 933,1285 937,1300 935,1320 939,1331 913,1355 923,1358 924,1373 946,1386 958,1385"/>
</g>
<g fill="none" stroke="#c8c8c8" stroke-width="4" stroke-linejoin="round" stroke-linecap="round">
<path d="M1501,221 1490,237 1486,254 1493,274 1490,296 1490,305"/>
</g>
<path fill="none" stroke="#fff" stroke-width="6.4" stroke-linejoin="round" stroke-linecap="round" d="M20,556 21.2,557.4 22.5,556.7 24.4,555.9 26.8,553.8 30,552.7 33.5,554.6 37.4,555.9 42.3,556.5 46.1,559.2 50.7,560.7 55.5,558.4 60.6,556.9 65.3,555.7 68.2,551.6 71.3,549.4 74.5,547.9 77.9,547.6 79.9,546 82,545.1 84,545.6 85.9,546.4 87.2,548.4 87.6,551.3 90.1,553.3 93.2,555.4 96.7,557.4 98.8,561.4 103.3,563.4 108,564.8 111.7,568.9 117,569.5 122.8,568.4 127.5,569.7 131.8,570.2 136,570.1 138.2,573.5 140.4,576.7 143,579.7 146.2,582.5 148.2,587 150.1,590.7 154.5,592 156.8,594.3 158.7,596.3 159.9,598.8 162.1,600 164.8,599.9 166.8,600.3 169.1,601.7 170.6,604.1 170.6,607.6 172.9,610 175.6,612.2 179,613.5 181.7,616.3 186.1,616.2 190,616.5 193.6,617.5 195.6,621 197.8,622.9 200,625.3 203,627.6 203,632.3 204.7,636.6 208.3,639.4 210.1,641.4 211,643.3 212.5,643.7 214.3,644.4 216.4,644.8 218.7,643.5 221,642.5 223.5,643.9 225.1,646.2 225.4,649.5 227.3,652.6 230.2,655.6 232.8,658.4 235.1,661.7 240,661.8 243.9,663.7 246.9,667.6 251.2,669.4 255.6,671 258.5,674.2 260.8,676.9 263.5,679.2 266.2,682.3 266.6,685.8 268.7,688.9 271.8,691.6 275.8,693.6 278.2,698.1 281.6,701.1 286.5,702.6 289.1,706.8 292.3,710 297,710.8 299.5,714.1 302.3,717.3 305.2,719 308.2,720 309.7,722.2 310.8,724.2 311.9,726.9 314.4,728.7 318.5,729.2 321.9,730.7 324,732.8 325,734.8 325.7,735.5 M543,223 544.1,223.4 546,225.4 549.6,226.2 554.3,227.1 557.6,230.8 561.6,232.7 566,234.2 568.5,238.4 569.9,242.6 571.1,246.6 571.6,251.1 569.5,255.8 568.6,259.6 569.9,263.5 568.5,266.1 567.2,268.2 566,270.3 565.5,272.9 567.5,275.8 568.2,278.8 567.5,282.1 564.9,284.6 563.1,286.7 561.7,289.5 559.5,291.9 557.4,294.2 554.7,296.3 554.9,299.9 554,302.1 552.3,303.5 549.7,303.9 547.4,302 545.9,300.4 543.7,300.9 541.7,302.9 539.7,305.5 538.3,307.9 535.9,309.5 535,311.9 535.8,314.3 535.8,315.6 535.3,316.6 534.4,318.5 532.2,320 529.4,319.2 527.1,318.7 525,317.9 522.8,316.4 520.6,317.4 519,318.3 515.8,318.8 512,321.2 510.4,324.5 509.5,327.5 507.9,329 507.3,330.7 507.6,332.3 508.6,334.5 511.1,335.9 515.2,335.5 517.1,337.9 517.3,341.2 514.3,344.1 511.7,348 508.3,350.5 504.3,351.5 500.2,351.2 496.4,352.9 493.6,354.5 492.5,355.8 491.7,356.8 492.2,359.3 494.2,361.6 495.7,364 497.7,366.4 497.4,370.1 497.2,372.9 497.1,375.4 496.8,377.9 496,381.2 492.8,382.6 490.4,384.6 487.7,386.3 484.8,389.5 482,389.7 479.7,390.4 478.2,391.6 477.1,393.2 477.3,395.2 479.2,396.9 480.8,398.7 482.2,401.5 483.2,403.7 482.9,405.5 483,406.8 483.6,409.1 482.7,411.6 480.6,413.8 477.6,415.5 474.5,417.7 473.1,420.6 471.4,422.1 470.4,423.4 470.1,424.2 469.7,425.6 470.1,428.1 472.7,429.7 476.2,430.8 479,432 480.5,434.2 480.4,436.9 480.9,438.7 480.9,440.8 479.1,443.4 475.7,445.9 470,445.4 465.7,447.2 462.3,450.1 458,450.9 455.1,453.9 453.1,458.7 447.8,461.2 444.8,462.4 442,464.2 439.1,466.8 435.1,467 431.5,467.4 428.4,468.8 426.5,471.6 423.7,472.9 418.6,474.6 415.4,478.4 412.3,481.3 408.5,483.2 405,485.4 403.3,489 401.8,492.2 399.6,494.3 397.8,496.4 398.2,498.9 399.2,501.2 400.8,503.5 403.1,505.4 403.6,508.8 404.3,511.4 404.7,513.8 404.2,516.1 403.3,518.9 400.8,520.4 397.3,520.7 394.4,521.9 391.5,524 389.7,527.2 387.3,528.6 386,531 385.3,533.8 385.9,536.4 387.9,538.5 388.4,540.4 388.8,542.6 388.9,545.4 387.6,548.1 387.9,551.1 386.8,554.8 384.8,557.5 381.8,559 380.1,561.3 377.8,563.9 375.7,565.9 373.7,567.5 371.1,568.9 370.8,572 370.9,574.7 371.5,577.3 371.8,580 371.8,583.9 374.1,585.9 376.3,587.7 378.8,588.7 380.9,589.4 381.5,591.3 381.3,593 380.9,594.1 380.4,595.8 379,597.1 377.1,598.6 374.6,600.5 370.9,599.1 368.8,599 367.6,600.5 367.6,603.1 370,605.5 371.8,607.6 371.2,610.5 370.5,613 369.2,615.4 369.9,618.6 372.3,620.9 373.1,623.3 374.6,625.7 375.2,629.4 377.7,632.3 378.2,636.3 377.4,640.7 376.3,644.2 377.6,646.8 377.6,648.9 376.7,650.2 376.6,651.6 377.1,652.9 377.3,654.6 378.2,656.9 378.3,657.6 377,659.3 373.2,660.3 367.9,659 363.8,658.2 360.7,659.1 358.8,660.2 358.3,661.6 358.2,663 357.4,664.8 357,667.5 358.8,670.2 360.3,672.9 362.8,676 361.9,679.9 361.6,684 361.7,687.4 362.8,690.3 361.5,692.6 360.1,694.2 359.2,695.5 358.4,696.5 357.5,697.2 356.8,697.6 356,699.2 356.3,701.8 356.2,704.4 354.8,707 352.7,709.5 349.7,711.3 347,715.1 342.1,716.1 337.7,715.8 335.3,718.1 334.5,720.5 334.2,722.4 334.6,724.1 335.6,725.7 336.4,727.7 338,730 340,730.6 341.7,731.6 342.4,733 342.6,734.9 341.4,737.2 338.8,738.2 335.3,737.1 331.6,737.7 328.4,738.4 325.9,740 323,740 320.3,741.1 318,743.4 315,747.6 312.2,748.7 309.2,749.4 306,751 303.3,753.6 297.6,755.3 293.2,756.5 290.8,758.7 290.6,761.5 290.4,763.4 290.4,765.9 291.4,768.8 293.1,772.1 295.5,773.9 295.4,776.9 292.7,779.2 288.2,779.9 285.4,781.5 284.9,784.8 284.3,788 283.9,792.2 283.1,795.3 284.2,797.5 284,799 283,800 281.2,800.8 278.9,800.7 276.9,798.4 274.1,796.6 271.6,796.2 269.9,796 269.2,796.6 269.3,797.5 269.1,798.6 267.1,801.3 267.4,805.3 269.4,809.9 268.5,813.7 265.3,816.1 261.3,818.8 258.3,821.1 254.9,820.3 249.2,820.2 245.4,823.3 241.8,824.5 239.2,826.6 236.8,828.9 237.3,832.7 237.8,836 237.9,839.1 238.1,842.4 241.1,845.4 244.8,848.5 248,854.1 252.2,856.6 255.5,859.1 256.9,862.2 256.8,865.2 258.3,868.1 259.1,872 257.9,876.3 254.9,880.8 253.1,885.3 249.8,889 246,892.3 243.7,897.5 238.8,900.1 233.8,901.9 229.3,905.3 223.1,904.5 218,905 213.9,907.5 210.1,908.6 206.6,908.5 204.2,912 201.8,915.2 198.3,918.1 194.8,922 192.4,926.3 189,929.3 186.2,932.3 184.7,935.8 183.6,939.7 180.3,941.6 178.1,944.2 176.2,947.1 175.8,950.4 173.7,952.9 171.8,955.7 171.4,959.1 172.5,962.2 174.5,965.1 174.2,968.2 175.3,971 175.4,973.9 177,976.9 176.7,980.5 174.4,984 172.6,987 173.9,990.3 176.3,993 178.6,996.2 180.1,999.8 183.6,1001.6 186.7,1003.5 189.2,1006 189.6,1010 191.5,1013.2 193.2,1016.8 193.9,1020.9 192.5,1025.7 194.1,1030.2 196.1,1035.1 195.4,1040.8 196.8,1046.1 195.5,1051.3 193.3,1056 193,1060.9 190.9,1065.2 189,1069.4 189.2,1074.1 188.3,1078.5 186.8,1082.7 186.6,1087.7 186.7,1093.4 186.2,1096.6 185.4,1099.9 188.1,1105.1 188.6,1109.7 186.7,1113.4 187.2,1116.7 186.5,1120.1 185.3,1123.7 181.4,1126.2 180,1130.1 179.2,1133.9 178.1,1137.1 176.1,1139.8 176.6,1142.8 176.1,1146.5 173.9,1151.5 171,1153.5 168.6,1155.9 166.7,1159.6 163,1161.8 159.8,1163.5 156.8,1165.3 153.8,1170.7 149.1,1172.3 144.9,1172.6 141.1,1174.9 137,1174.1 133.1,1171.6 129.2,1170.7 125.4,1171.1 122.3,1171.9 119.1,1172.5 116.6,1174.8 116.1,1178.5 115.7,1181.6 115.1,1184.6 113,1187.8 112.9,1191.1 112.1,1194.3 111.5,1197.4 108.1,1199.2 106.8,1202.3 106.8,1205.8 108.7,1209.2 109.4,1212.7 109.5,1216.6 110.3,1220.9 112.1,1225.4 110.1,1230.5 109.7,1235.1 112.7,1238.3 113.6,1241.6 115.6,1244 116.3,1247 118.9,1249.6 119.6,1253.8 118.4,1258.3 116.8,1262.2 117.4,1266 116.8,1269.1 115.9,1271.9 114.7,1275 117,1277.9 119.9,1280.4 123.2,1282.7 123.8,1286.8 125.6,1289.6 126.4,1292.8 127.1,1296.2 124.4,1299.2 122.2,1301.9 120.6,1304.9 119.7,1308.7 116.8,1311.5 115,1314.9 114.3,1319.1 114.8,1323.6 112.3,1326.9 110.8,1330.1 110.8,1333.5 111.7,1336.5 111.1,1339.6 111.6,1342.9 112.8,1346.4 117.1,1348.1 118.6,1351.7 118.1,1356 117.1,1360.6 115.3,1365.9 111,1369.7 109.4,1374.3 108.1,1378.7 105.4,1382.1 103.7,1385.7 102.7,1389.5 101.7,1393.3 98.1,1395 96.3,1398.3 95.8,1402.8 95.2,1408 94.5,1411.1 94.8,1414.1 97.6,1419.6 96.2,1424.9 94.7,1429.8 94.6,1434.7 91.4,1438.4 87.9,1441.6 87.7,1446.2 85.4,1449.8 83.2,1452.8 82.3,1456.3 83.4,1459.8 83.5,1462.5 83.6,1465.2 82.4,1468 83.1,1470.7 85,1472.6 85.3,1475.1 84.9,1478 81.6,1480.1 79.5,1483.6 77.7,1487.8 75,1491.1 71.2,1493.6 68.2,1496.8 65,1499.9 59.8,1499.9 55.7,1501 51.9,1504.1 47.8,1504.7 44.4,1506.6 42.4,1509.9 41.6,1513.5 38.5,1516.2 34.8,1518.8 33.8,1523.5 31.1,1527.4 27.7,1530.8 27.4,1535.2 26.7,1538.9 25.4,1542.2 23.2,1543.8 22,1545 21.7,1545.8 M253,888 254.4,888.1 256.6,886.4 259.3,883.1 264.8,882.7 269.7,881.6 273.8,878.7 278.8,878.3 283.3,877.1 286.8,873.6 291.4,872.9 296.1,873.9 301,872.2 305.6,873 310.4,875.7 315.1,874.4 319.9,873.7 324.9,874.8 329.8,872.1 334.9,870.4 340.9,870.4 346.1,868.6 351.8,869.8 357,869.3 362.1,866.6 367.4,867.8 372.8,868.1 378.3,867.9 383.7,870.5 389.2,869.7 394.8,869.8 400.2,870.6 405.7,867.9 411.2,868.5 416.8,869.3 422.2,868.8 427.8,870.9 433.6,869.4 436.7,868.2 439.8,868.6 442.9,870.1 446.1,869.7 449.6,869.6 453,869.6 456,872.3 459.1,873.2 462,873.9 465.5,872.9 468.3,874.2 471.1,875.5 476.9,876.7 482.2,877.7 486,881.1 489.6,883.5 493.3,884.7 496.7,887.2 500.7,889.9 506.4,888.3 512,888.8 516.6,890.5 520.7,889.5 524,889.2 526.9,890.1 529.6,891.7 532.2,891.5 534.9,892.2 538.3,892.8 540.7,896.2 545,898.1 550.3,899.6 553.7,905.1 558.4,908.7 563.6,911.7 566,913.7 568.5,915.3 572,915.4 575.5,915.5 578,917.1 580.7,918.5 583.6,920 587,919.2 590,920 593.1,921.2 596.5,922.9 599.9,922 603.3,920.8 606.8,920.3 610.4,921.2 613.9,919.9 617.4,918.5 621,917.9 625.1,919.8 628.9,919.1 632.1,918.8 635.4,917.8 640.9,920.2 646,919.9 650.8,920.5 654.1,924 658.2,926.3 662.9,927.5 666.1,931.6 670,934.3 675.2,934.1 679,936.5 682.8,938.9 687.8,938.2 691.8,940.2 695.8,943.4 700.9,943 705.6,943.3 710.4,944.9 715.1,942.4 719.6,940.4 724.6,941.7 729.3,940.3 734,939 739.2,940.8 743.6,938.9 747.1,935.1 751.3,933.7 754.7,930.4 757.3,926.7 761.1,925 765.1,924.5 768.6,924.3 771.2,922.2 774.2,921.6 777.1,922.5 779.8,923.1 782.4,924.3 786.6,923.6 789.9,926.1 792.7,930 796.7,932.5 800.2,935.6 803,940.2 807.7,942.5 812.3,944 815.6,946.6 819.2,947.7 822.9,947.3 825.4,946.3 827.2,945.7 829.8,945 830.9,941.8 832,939.5 832.8,937.1 834.6,935.2 837.5,935.3 840.3,934.5 843.1,933.2 845.9,930.6 849.5,929.7 853,929.9 856.6,929.7 859.4,927.8 862.3,926.4 865.7,927.1 868.6,928.1 871.5,929 875.5,928.7 878.6,930.7 881.2,933.3 883.8,935.8 887.2,937.2 889.5,940.8 889.9,945.9 892.9,949.7 895.9,954.4 896.6,959.5 900.3,962.4 903.5,964.8 905,967.4 906,971 908.7,973.3 912.1,975.1 914.9,977.9 917.7,980.8 921.4,981.8 925.4,980.6 928.8,980.8 932,981.1 935,980.7 937.5,978.8 939.2,976.3 942,975.3 944.1,973.3 946.2,970.6 945.2,966.9 945.2,963.8 946.5,960.8 948.7,958.3 950.2,955.3 950.7,951.2 952.7,947.7 956.7,945 957.9,940.3 959.3,936.1 962,932.5 961.9,928.1 960.7,924 960.5,920.1 963.8,917.6 966,914.7 969.3,912.1 973.1,910.5 977.7,910.1 981.6,908.2 984.7,904.5 989.4,903 993.4,900.1 996.3,895.3 1001.6,893.2 1006,890.5 1010,887.7 1014.6,886.4 1018.4,884.4 1021.8,881.6 1025.8,880.7 1030,882.6 1034.2,882 1038.1,883 1041.5,885.6 1044.6,888.1 1048.5,889 1052.8,889.1 1056.7,891.6 1061.5,891.1 1066.6,889.5 1070.9,892.4 1074.6,893.8 1078,894.5 1081.1,895.4 1083.2,898.6 1086.2,900.8 1090.3,902 1094.5,904 1097.4,907.4 1100.4,910.9 1104.2,913.6 1106.1,918.1 1108.2,922.2 1112.9,923.2 1116.4,924.8 1119.6,927.3 1123.1,927.5 1126.1,925.9 1128.5,924.5 1131.5,923.4 1135.4,922.2 1137.8,918.6 1139.8,914.4 1144.2,911.3 1146.2,906.7 1148.2,902 1153.4,900.5 1157.6,898.5 1161,894.9 1165.9,893.8 1169.7,891.1 1170.9,885.7 1174,882.5 1176.7,879 1176.3,874 1178.1,870.1 1180.1,866.6 1180.4,862.9 1178,859.9 1176.1,857 1175,853.8 1174.3,850.5 1171.4,848 1169.7,844.5 1170,841.1 1173.1,839 1175.1,836.7 1178.6,834.9 1181.2,832.4 1185.2,830.6 1186.2,825.9 1184.9,820.3 1187.6,817 1190,814.6 1193.3,813.5 1197.8,812.2 1201.9,814.7 1206.1,815.9 1210.4,814.1 1214.6,814.3 1218.2,813 1220.7,810.7 1219.5,806.3 1219.1,802.5 1220.3,798.2 1221.6,794.2 1222.1,790.2 1224.4,786.6 1228.6,784.2 1229.9,779.6 1232.7,775.3 1237.9,773.3 1241.5,769.4 1246,767.1 1251.4,768.1 1256,766.9 1260.5,765 1265.2,765 1269.4,762.9 1272.9,759.3 1277.8,760.4 1281.7,761.8 1285.9,762.1 1289.1,765.6 1292.6,768.3 1297,768.7 1301.4,767.1 1305.5,766.4 1309.4,766.5 1311.9,763.4 1314.3,761.6 1316.4,759.8 1319,758.2 1319.8,754.9 1317.8,751.3 1315.4,747.7 1316.1,743.7 1316.1,739.8 1316.7,735 1320.8,731.2 1325,727.5 1328.4,722.9 1334.5,721 1336.8,719.1 1338.5,716.2 1343.2,713 1348.3,711.4 1352.6,708.3 1357.9,709.1 1362.6,709.7 1366.2,707 1369.5,705.1 1372.6,703.1 1375.7,700.3 1375.2,694.6 1375.7,691.8 1377.1,689 1378.9,685.6 1378.1,681.9 1378.8,678.9 1379.6,676 1383.3,672.2 1384.7,668.5 1387.7,665.2 1391.9,665.4 1395,664.2 1398,663.6 1400.9,662.6 1403.6,663.4 1405.5,666.1 1407.4,667.7 1409,669.5 1412,669.7 1414.2,667.2 1417,665.2 1419.6,661.2 1420.6,656.9 1421.3,653.1 1423.5,650.7 1425.2,648.2 1426.1,645.3 1424.3,642.2 1424,638.7 1423.1,634.8 1423.4,631.5 1421.3,628.2 1422,624.5 1424.5,620.9 1427.4,617.8 1429.4,613.7 1433,610.6 1437.9,608.3 1440.4,604.1 1443,600 1446.5,597.1 1448.4,592.8 1449.4,588.5 1453.2,585.8 1455,581.9 1454.4,577.3 1456.8,573.4 1458.5,569.6 1458.9,565.4 1459.9,561 1462.3,557.8 1465,554.9 1465.2,551 1467.3,548.2 1468.5,545.6 1469.5,542.7 1468.1,539.5 1464.4,537.8 1462.7,535.4 1461.6,533.1 1462.5,530.6 1463.6,528.6 1463.7,525.5 1465.8,522.5 1469.3,520.1 1474.6,518.9 1477.1,516.1 1478.2,513.6 1478.2,511.7 1477.9,510 1477.3,507.4 1474.7,505.7 1471.5,503.9 1467.2,502.5 1466,498.5 1464.7,495.7 1464.1,492.9 1463,490.1 1463.9,487.2 1466.6,484.7 1468.8,482.3 1470.3,479 1470.5,475.3 1471.8,472.7 1471.8,469.9 1471.6,467 1468.9,464.4 1467.6,461 1467.1,456.7 1466.8,451.9 1464.6,448.5 1464.3,445 1465.4,442 1467,439.6 1467,436.8 1468.9,434.5 1471.6,432.6 1475.8,433.6 1478.8,433.1 1481,431.5 1482.7,430.1 1483.4,428.1 1484.6,426.3 1486.4,423.8 1485.5,420.5 1483.6,417 1481.4,413.7 1483.3,409.7 1484.3,405.6 1485,400.6 1488.3,397.2 1490.9,393.7 1492,390.1 1491.6,386.1 1492.6,382.8 1492.2,379 1489.7,375.8 1486.1,373 1484.3,369.4 1483.8,364.9 1480.8,362.1 1479.4,358.3 1478.8,354.4 1477.9,350.5 1474.9,347.8 1472.3,344.6 1472.3,340.9 1471.9,337.6 1470.9,334.5 1470.8,331.3 1472,328.6 1475.1,327.8 1477.6,327.7 1480,327.4 1482.7,326.7 1485.3,324.9 1488.2,324.9 1491.3,324.5 1493.1,322.1 1493.5,319.1 1491.1,315.8 1491.4,311.5 1491.4,308.3 1492.4,306.5 1493.2,306.3 1495.1,305.7 1497.4,306.1 1499.7,307.7 1502.3,308.8 1505.2,310.1 1508.3,309.2 1511.4,308.3 1514.2,308.8 1516.9,309 1519.6,311.2 1523.5,311.6 1526.9,314.4 1529,319.6 1532.2,322.7 1535,325.5 1537.3,328.5 1537.6,332.1 1539.3,333.3 1540.9,332.8 1540.9,330.6 1539.9,327.1 1541.2,323.8 1544.3,322 1546.2,320 1549,318.4 1550.7,315.7 1553.7,314.3 1556.2,311.9 1557.3,308.4 1557.7,305.6 1558.9,303.3 1561.7,303.2 1564.3,304.7 1566.2,305.2 1567.4,305.8 1568,306.1 M746,938 746.7,938.4 748.1,939.3 750.1,940.6 752.9,942.4 755.1,944.4 756.9,946.6 758.1,949.1 758.9,951.9 760.1,954.6 761.9,957.4 764.1,960.1 766.9,962.9 769.6,965.6 772.4,968.4 775.1,971.1 777.9,973.9 780.8,976.1 783.8,977.9 786.9,979.1 790.1,979.9 793.4,980 796.8,979.5 800.2,978.4 803.8,976.6 807.2,975.8 810.6,975.8 813.9,976.6 817.1,978.4 820.4,979.5 823.8,980 827.2,979.9 830.8,979.1 833.9,978.1 836.8,976.7 839.4,975 841.6,973 843.2,970.8 844.2,968.4 844.6,965.9 844.4,963.1 843.5,960.7 842,958.6 839.9,956.8 837.1,955.2 834.9,953.6 833.3,951.9 832.2,950 831.8,948 831.4,946.5 831.1,945.5 831,945 M833,956 832.5,956.9 831.5,958.6 830,961.2 828,964.8 825.5,967.5 822.5,969.5 819,970.8 815,971.2 812,971.6 810,971.9 809,972 M1040,888 1039.8,888.9 1039.2,890.6 1038.5,893.2 1037.5,896.8 1036.9,900.2 1036.8,903.6 1037.1,906.9 1037.9,910.1 1038.1,913.2 1037.7,916.2 1036.8,919.1 1035.2,921.9 1034.6,924.6 1034.7,927.4 1035.6,930.1 1037.4,932.9 1038.7,935.7 1039.6,938.6 1040,941.5 1040,944.5 1041.1,947.6 1043.2,950.9 1046.4,954.2 1050.6,957.8 1056.6,965.7 1064.2,978.1 1073.5,994.9 1084.5,1016.1 1092.6,1033.3 1097.7,1046.4 1099.9,1055.5 1099.1,1060.5 1098.8,1065.3 1098.8,1069.9 1099.1,1074.4 1099.9,1078.6 1100.6,1082.9 1101.4,1087.1 1102.1,1091.4 1102.9,1095.6 1104.6,1100.4 1107.2,1105.6 1110.8,1111.4 1115.2,1117.6 1118.7,1123.2 1121.1,1128.1 1122.4,1132.2 1122.6,1135.8 1123.8,1138.9 1125.9,1141.8 1129,1144.4 1133,1146.6 1137.2,1149.3 1141.6,1152.4 1146.1,1156 1150.9,1160 1155,1162.8 1158.5,1164.4 1161.4,1164.9 1163.6,1164.1 1165.3,1163.6 1166.4,1163.2 1167,1163 M1568,923 1567.5,923.7 1567.3,925.4 1567.6,928.3 1565,930.9 1562.6,933.2 1560,935.1 1558.8,937.5 1557.9,940.2 1555.9,940.7 1554.2,939.9 1552.9,938.4 1551.9,935.3 1548.4,933.7 1545.6,931.8 1543.3,929.5 1541.9,926.3 1539.3,924.7 1536.4,924.8 1533.9,924.6 1531.2,925.2 1527.9,924.6 1525.1,926 1523.3,929 1521.6,931.8 1520.7,934.5 1518.7,936.4 1518.9,939.1 1520.5,941.7 1520.5,944.5 1519,947.6 1514.4,947.9 1510.1,948.9 1506.6,950.7 1504,952.6 1501.5,952.4 1499.7,952.9 1498.8,952.5 1497.5,951.3 1494.6,949.7 1491.7,946.3 1490.5,943.1 1489,940.7 1486.8,939.6 1484.4,940.7 1482.5,941.8 1479.8,942.9 1476.7,945.5 1475.6,950.4 1474.5,954.8 1472.8,958.4 1470.4,961.3 1470.3,965.1 1468.5,966.9 1465.7,966.9 1463.4,964.4 1463.4,959.4 1460.6,957.4 1458.5,955.8 1456.4,955.7 1454.7,956.5 1453.1,957.4 1451.3,959.2 1451.8,962.6 1453.2,966.4 1454.4,969.7 1452.6,972.6 1450.6,974.5 1449.1,976.3 1446.9,977.7 1444.6,980.1 1440.4,979.9 1436.1,980.1 1432.6,980.8 1429.5,982.4 1426.8,981 1424.8,978.8 1423.3,976.5 1421.8,974 1419.2,971.7 1419.3,968.1 1419,965.6 1418.2,963.8 1416.3,962.4 1413.5,963.6 1412.1,966.4 1410.3,968.9 1408.6,972.3 1406.3,976.3 1407,980.7 1406.3,983.9 1405,986.4 1402.8,987.9 1401.4,989.4 1400.2,991.5 1397.9,993 1395.3,994.5 1392.1,994.9 1389.2,996.2 1387.8,999.2 1386.6,1002.2 1386.6,1005.7 1384.4,1008.4 1384.2,1012 1384.8,1016 1385,1019.9 1382.2,1023.1 1380.5,1026.1 1379.3,1029 1378.9,1032.6 1376.1,1034.8 1373.7,1037.4 1371.6,1040 1370.2,1043.9 1366.6,1045.2 1362.8,1046 1359,1046.4 1355.9,1048.3 1352.2,1047.6 1349,1045.9 1345.7,1044.5 1341.8,1045.6 1338.8,1046.1 1336,1046.6 1333,1046.1 1331.7,1047.8 1332.5,1049.8 1333.9,1051.7 1336.7,1054.1 1337.2,1058.6 1339.4,1061.3 1341.6,1063.9 1344.4,1066.2 1343.7,1068.9 1342.5,1070.2 1341.3,1071.4 1338.5,1072.3 1335.7,1073.9 1332.5,1073.7 1329.9,1071.2 1327.2,1069.6 1324.4,1069.1 1321.8,1071.9 1318.5,1074 1314.9,1077.8 1313,1080.5 1310.6,1082.6 1307.1,1080.6 1304.6,1076.1 1301.4,1074.4 1298.4,1074.7 1296,1074.6 1292.8,1075.6 1289.2,1076.5 1287.7,1079.8 1285.6,1082.4 1283.7,1084.9 1280,1086 1277.7,1089.4 1274.4,1092.4 1269.5,1093.3 1265.3,1094.1 1261.8,1095.7 1259,1097.6 1255.9,1097.1 1253,1097.9 1251.2,1100.7 1250.5,1104.2 1251.1,1108.3 1248.2,1110.8 1246,1113 1243.1,1114.4 1240.3,1116.8 1237.9,1117.5 1235.8,1118.9 1234.8,1121.8 1235.3,1125.5 1237.2,1128.2 1236.5,1131.2 1235.1,1134.1 1232.4,1136.5 1231.5,1139.7 1230.2,1142.4 1227.8,1143.9 1225.5,1144.9 1222.7,1145.1 1220.4,1146.5 1219.3,1149.3 1217.5,1151.5 1215.7,1152.8 1213.6,1152.5 1211.8,1150.3 1209.3,1149.4 1206.2,1149.5 1204.2,1150.9 1202.6,1152.8 1199.2,1154.3 1197.3,1157.3 1195.2,1159.7 1193.3,1162.1 1190.1,1162.4 1187.3,1163.4 1185.6,1166.1 1184.7,1169.1 1185.3,1172.8 1183.3,1174.6 1181.3,1174.8 1179.2,1174.6 1176.9,1173.1 1174.1,1172.3 1171.5,1170.8 1171.1,1167.6 1171.1,1164.8 1170.7,1162.9 1169.6,1161.6 1167.5,1161.5 1165.8,1163.5 1165.1,1166 1163.7,1167.8 1162.3,1170.3 1160.9,1173.2 1159.9,1175.9 1159.9,1179.6 1157.4,1182.3 1153.8,1184.1 1150.1,1185.7 1147.3,1188.9 1143.6,1191.1 1138.5,1191.4 1135.6,1194.9 1132.6,1197.9 1128.8,1198.9 1125.2,1200 1122.6,1202.1 1120.7,1204.4 1119.2,1205.9 1117,1206.5 1115.5,1207.8 1115.5,1209.8 1116.3,1211.7 1118.1,1213.5 1121,1214.2 1123.6,1216 1126.5,1218.6 1130.7,1220 1135.8,1219.7 1139,1223.2 1141.9,1226.9 1146.4,1228.7 1147.7,1233.1 1147.1,1237.3 1147.2,1241.4 1146.5,1246.7 1143.8,1250.9 1143.1,1255.3 1142,1259 1140.1,1262 1137.5,1263.1 1135.9,1262.8 1135.9,1262.3 1135.3,1261.7 1134,1260.1 1132.8,1258.2 1131.2,1256 1131.4,1252.8 1129.7,1250.1 1126.4,1248.9 1122.7,1248.3 1119.3,1247 1115.7,1244.6 1111.7,1243.4 1107,1243.2 1103.1,1240.1 1098.8,1239.4 1094.7,1241.8 1091.2,1242 1088,1242.8 1085.1,1243.9 1083.8,1246.9 1082.8,1249.7 1080.8,1252.2 1078.7,1255.5 1079.1,1259.6 1080.4,1263.8 1081.1,1268.3 1080.2,1272.1 1080.9,1276 1078.2,1279.6 1072.9,1280.3 1068.8,1282.8 1064.6,1285 1059.4,1284.7 1054.8,1287 1051.5,1290.3 1048.2,1291.7 1045.3,1292.9 1043.8,1295.2 1042.4,1297.5 1042,1300.5 1039.6,1302.4 1037.1,1304.5 1036.3,1307.5 1037.4,1310.6 1040.9,1312.5 1043.2,1315.6 1045.2,1318.1 1046,1320.4 1047.4,1322.4 1047.9,1325.2 1045.5,1327.6 1042.2,1329.3 1037.8,1329.7 1034,1332.8 1029.2,1334.3 1024.2,1335.9 1021.7,1341 1018.3,1345.1 1014.2,1348.9 1012.8,1351.5 1011.3,1354.2 1008.6,1356 1005.4,1357.7 1004.1,1360.9 1003,1364.3 999.4,1368.9 997.1,1373.4 996,1377.9 993.5,1380.2 989.6,1381.1 985.8,1382 982.3,1384.3 977.7,1383.4 973.3,1383.8 969.6,1386.3 966.6,1389.5 963.4,1391.3 960,1393.6 960.1,1398.8 958.1,1403.8 956.2,1407 956.8,1410.2 957.8,1416.1 955.8,1421 956.1,1425.8 955.1,1430.1 951.6,1433 947.7,1435.1 944,1437.7 939.7,1439.7 935.2,1441 932.1,1444.6 930.4,1448.8 927,1450.7 925.1,1453.7 924.9,1457.2 925.7,1460.6 924.8,1464.6 924.1,1468.4 925.3,1472.2 924.9,1476.4 923,1480.5 920.8,1484.4 917.3,1488.3 911,1488.6 907.8,1489.1 904.8,1490.8 901.8,1491.5 898.8,1491.9 893.5,1493.3 889.8,1496.9 886.1,1499 882,1499.6 879,1501.5 876.2,1503.3 873.3,1504.1 869.9,1504 867.5,1506.7 866,1510.1 866,1514.7 863.1,1518 861,1521.6 860,1526.3 855.8,1529.1 852.3,1532 851.6,1536.4 850.7,1540.7 850,1545.2 850,1549.5 851.2,1553.9 850,1557.9 846.7,1561.2 846.1,1565.7 843.5,1570 838.7,1573.5 837.3,1579.4 834.9,1583.8 830.9,1586.1 828.1,1588.7 824.6,1590.7 821.4,1590.6 818.2,1591.4 816,1593.8 814.9,1597.3 814.4,1600.4 812.5,1602.7 812,1605.2 812.1,1607.6 811.9,1609.7 812.4,1612.5 811,1615.1 807.9,1616.5 805.4,1618.2 803,1619.8 802.4,1622.8 800.7,1625 797.7,1626.8 793.9,1628.3 791.5,1632.4 787.8,1636 783,1638.3 780.7,1643.1 777.4,1646.5 772.3,1648.5 770,1652.5 767.5,1656.3 763.2,1658.1 760.8,1661.7 759.2,1665.6 758.4,1668.9 755.9,1671.6 755.8,1675.4 755.4,1678.9 753.8,1682 749.8,1683.4 746.4,1685.2 744.4,1690.1 740.4,1692.8 736.6,1696.2 734.5,1701.7 729.1,1704.7 725.8,1705.8 724.5,1708.9 722.5,1711.5 720,1713.7 716.8,1715.1 714.7,1718 711,1723.1 705.5,1724.1 701.8,1726.1 698.2,1727 694.3,1727.6 689.6,1726.6 685,1728.7 680.1,1731 675,1731.5 670.9,1734.4 666.6,1736.9 661.7,1739.5 659.3,1744.1 656.5,1747.5 654.3,1750.9 653,1754.7 653.7,1758.1 653,1759.8 652.3,1760.6 M20,1126 29.8,1125.9 49.2,1125.6 78.5,1125.2 117.5,1124.8 146.8,1124.8 166.4,1125.2 176.4,1126.2 176.6,1127.8 176.4,1129.1 175.6,1130.2 174.4,1131.1 172.6,1131.9 171.4,1132.9 170.8,1134.3 170.8,1136 171.2,1138 171.9,1139.6 172.8,1140.9 173.9,1141.8 175.1,1142.2 176.1,1142.6 176.7,1142.9 177,1143"/>
<path fill="none" stroke="#fff" stroke-width="10.5" stroke-linejoin="round" stroke-linecap="round" d="M335,875 335.9,874.7 337.8,874.1 340.6,873.1 344.4,871.9 348.1,870.7 351.9,869.6 355.6,868.5 359.4,867.5 363.9,866.8 369.3,866.4 375.5,866.4 382.5,866.6 388.8,867.1 394.4,867.7 399.4,868.5 403.6,869.5 406.8,870.2 408.9,870.8 410,871 M452,868 452.9,868.1 454.6,868.2 457.2,868.4 460.8,868.6 464.2,869.1 467.8,869.9 471.2,870.9 474.8,872.1 478,873.7 481,875.6 483.8,877.8 486.2,880.2 489.1,882.6 492.2,884.7 495.6,886.6 499.4,888.4 503.4,889.7 507.8,890.5 512.5,890.8 517.5,890.7 521.2,890.6 523.8,890.5 525,890.5 M551,903 552.1,903.7 554.2,905.1 557.4,907.1 561.6,909.9 565.9,912.6 570.1,915.2 574.4,917.8 578.6,920.2 582.8,922.3 586.8,923.8 590.6,924.9 594.4,925.6 598.3,925.8 602.4,925.7 606.8,925.2 611.2,924.3 614.6,923.7 616.9,923.2 618,923 M757,945 757.2,945.7 757.6,947.1 758.1,949.1 758.9,951.9 760.1,954.6 761.9,957.4 764.1,960.1 766.9,962.9 769.6,965.6 772.4,968.4 775.1,971.1 777.9,973.9 780.8,976.1 783.8,977.9 786.9,979.1 790.1,979.9 793.4,980.1 796.8,979.7 800.2,978.8 803.8,977.2 807.2,976.5 810.6,976.5 813.9,977.2 817.1,978.8 820.4,979.7 823.8,980.1 827.2,979.9 830.8,979.1 833.9,978.1 836.8,976.7 839.4,975 841.6,973 843.2,970.8 844.2,968.4 844.6,965.9 844.4,963.1 843.7,960.7 842.6,958.6 841,956.8 839,955.2 837.5,954.1 836.5,953.4 836,953"/>
<circle cx="794" cy="989" r="744" fill="none" stroke="#fff" stroke-width="2.8"/>
<g fill="#fff">
<circle cx="95" cy="349" r="7.1"/>
<circle cx="699.5" cy="305.4" r="7.1"/>
<circle cx="914" cy="357.5" r="7.1"/>
<circle cx="674.5" cy="425.5" r="7.1"/>
<circle cx="481" cy="441" r="7.1"/>
<circle cx="389" cy="499" r="7.1"/>
<circle cx="1305.3" cy="429" r="7.1"/>
<circle cx="1498" cy="307.5" r="7.1"/>
<circle cx="709.6" cy="575.4" r="7.1"/>
<circle cx="1482.7" cy="578" r="7.1"/>
<circle cx="1281.3" cy="618" r="7.1"/>
<circle cx="702.5" cy="665.3" r="7.1"/>
<circle cx="738.2" cy="739.5" r="7.1"/>
<circle cx="356.3" cy="773" r="7.1"/>
<circle cx="461.2" cy="826.1" r="7.1"/>
<circle cx="1195.6" cy="865.5" r="7.1"/>
<circle cx="1083.8" cy="903.7" r="7.1"/>
<circle cx="186" cy="941" r="7.1"/>
<circle cx="841" cy="968" r="7.1"/>
<circle cx="1326.3" cy="945.3" r="7.1"/>
<circle cx="203.2" cy="1107.8" r="7.1"/>
<circle cx="1125.4" cy="1091.8" r="7.1"/>
<circle cx="1313" cy="1083.3" r="7.1"/>
<circle cx="1518.6" cy="1080" r="7.1"/>
<circle cx="477.3" cy="1254.6" r="7.1"/>
<circle cx="694.6" cy="1304.4" r="7.1"/>
<circle cx="1035.7" cy="1309.4" r="7.1"/>
<circle cx="230.3" cy="1320.6" r="7.1"/>
<circle cx="423.3" cy="1526.5" r="7.1"/>
</g>
<g class="m" font-size="30.66" fill="#fff" stroke="#fff" stroke-width="0.15" filter="url(#nf)">
<text transform="translate(104.5,339.3) scale(1,1.07)" xml:space="preserve">PIRANE</text>
<text transform="translate(709,295.7) scale(1,1.07)" xml:space="preserve">PARAGUARÍ</text>
<text transform="translate(923.5,347.8) scale(1,1.07)" xml:space="preserve">VILLARRICA</text>
<text transform="translate(684,415.8) scale(1,1.07)" xml:space="preserve">QUIINDY</text>
<text transform="translate(491.3,431.3) scale(1,1.07)" xml:space="preserve">VA. OLIVA</text>
<text transform="translate(398.5,489.3) scale(1,1.07)" xml:space="preserve">FORMOSA</text>
<text transform="translate(1314.8,419.3) scale(1,1.07)" xml:space="preserve">NARANJAL</text>
<text transform="translate(1507.5,297.8) scale(1,1.07)" xml:space="preserve">PUERTO IGUAZÚ</text>
<text transform="translate(719.1,565.7) scale(1,1.07)" xml:space="preserve">VA. FLORIDA</text>
<text transform="translate(1492.2,568.3) scale(1,1.07)" xml:space="preserve">ELDORADO</text>
<text transform="translate(1290.8,608.3) scale(1,1.07)" xml:space="preserve">MARÍA AUXILIADORA</text>
<text transform="translate(712,655.6) scale(1,1.07)" xml:space="preserve">SAN JUAN BAUTISTA</text>
<text transform="translate(747.7,729.8) scale(1,1.07)" xml:space="preserve">SAN IGNACIO</text>
<text transform="translate(365.8,763.3) scale(1,1.07)" xml:space="preserve">ISLA UMBÚ</text>
<text transform="translate(470.7,816.4) scale(1,1.07)" xml:space="preserve">VILLALBÍN</text>
<text transform="translate(1205.1,855.8) scale(1,1.07)" xml:space="preserve">SAN IGNACIO</text>
<text transform="translate(1093.3,894) scale(1,1.07)" xml:space="preserve">POSADAS</text>
<text transform="translate(195.5,931.3) scale(1,1.07)" xml:space="preserve">CORRIENTES</text>
<text transform="translate(850.5,958.3) scale(1,1.07)" xml:space="preserve">ITUZAINGÓ</text>
<text transform="translate(1335.8,935.6) scale(1,1.07)" xml:space="preserve">OBERÁ</text>
<text transform="translate(212.7,1098.1) scale(1,1.07)" xml:space="preserve">EMPEDRADO</text>
<text transform="translate(1134.9,1082.1) scale(1,1.07)" xml:space="preserve">APÓSTOLES</text>
<text transform="translate(1322.5,1073.6) scale(1,1.07)" xml:space="preserve">SAN JAVIER</text>
<text transform="translate(1528.1,1070.3) scale(1,1.07)" xml:space="preserve">SAN VICENTE</text>
<text transform="translate(486.8,1244.9) scale(1,1.07)" xml:space="preserve">CONCEPCIÓN</text>
<text transform="translate(704.1,1294.7) scale(1,1.07)" xml:space="preserve">COL. C. PELLEGRINI</text>
<text transform="translate(1045.2,1299.7) scale(1,1.07)" xml:space="preserve">SANTO TOMÉ</text>
<text transform="translate(239.8,1310.9) scale(1,1.07)" xml:space="preserve">SAN ROQUE</text>
<text transform="translate(432.8,1516.8) scale(1,1.07)" xml:space="preserve">MERCEDES</text>
</g>
</g>
<rect x="26.5" y="1653" width="332" height="101.5" fill="#808080" fill-opacity="0.62"/>
<rect x="40" y="1667.8" width="303" height="72" fill="none" stroke="#ffa500" stroke-width="5.5"/>
<g class="m" font-size="22.3" fill="#fff" stroke="#fff" stroke-width="0.3" filter="url(#nf)"><text transform="translate(51.5,1697.5) scale(1,1.08)">Avisos Meteorológicos</text><text transform="translate(51.5,1724.8) scale(1,1.08)">a Muy Corto Plazo</text></g>
<g shape-rendering="crispEdges">
<rect x="1721" y="1639.7" width="37" height="120.9" fill="#3e406e"/>
<rect x="1721" y="1567.5" width="37" height="72.8" fill="#3e4c7a"/>
<rect x="1721" y="1495.3" width="37" height="72.8" fill="#3e5888"/>
<rect x="1721" y="1423.1" width="37" height="72.8" fill="#3e6496"/>
<rect x="1721" y="1350.9" width="37" height="72.8" fill="#3e70a0"/>
<rect x="1721" y="1302.8" width="37" height="48.7" fill="#3878a8"/>
<rect x="1721" y="1254.7" width="37" height="48.7" fill="#3084b8"/>
<rect x="1721" y="1206.6" width="37" height="48.7" fill="#2c94c4"/>
<rect x="1721" y="1182.5" width="37" height="24.7" fill="#28a0d4"/>
<rect x="1721" y="1158.4" width="37" height="24.7" fill="#2cb0e0"/>
<rect x="1721" y="1134.4" width="37" height="24.7" fill="#50f038"/>
<rect x="1721" y="1110.3" width="37" height="24.7" fill="#48e034"/>
<rect x="1721" y="1086.2" width="37" height="24.7" fill="#44c830"/>
<rect x="1721" y="1062.2" width="37" height="24.7" fill="#40b82c"/>
<rect x="1721" y="1038.1" width="37" height="24.7" fill="#38a828"/>
<rect x="1721" y="1014.1" width="37" height="24.7" fill="#2e9822"/>
<rect x="1721" y="990.0" width="37" height="24.7" fill="#2a8a22"/>
<rect x="1721" y="965.9" width="37" height="24.7" fill="#1e6e1e"/>
<rect x="1721" y="941.9" width="37" height="24.7" fill="#f0ee3c"/>
<rect x="1721" y="917.8" width="37" height="24.7" fill="#e4e438"/>
<rect x="1721" y="893.8" width="37" height="24.7" fill="#d8d838"/>
<rect x="1721" y="869.7" width="37" height="24.7" fill="#ccd030"/>
<rect x="1721" y="845.6" width="37" height="24.7" fill="#c4c430"/>
<rect x="1721" y="821.6" width="37" height="24.7" fill="#d0a828"/>
<rect x="1721" y="797.5" width="37" height="24.7" fill="#d89820"/>
<rect x="1721" y="773.4" width="37" height="24.7" fill="#e08018"/>
<rect x="1721" y="749.4" width="37" height="24.7" fill="#e81030"/>
<rect x="1721" y="725.3" width="37" height="24.7" fill="#c80020"/>
<rect x="1721" y="701.2" width="37" height="24.7" fill="#c00018"/>
<rect x="1721" y="677.2" width="37" height="24.7" fill="#b0000c"/>
<rect x="1721" y="653.1" width="37" height="24.7" fill="#960000"/>
<rect x="1721" y="629.1" width="37" height="24.7" fill="#c00060"/>
<rect x="1721" y="605.0" width="37" height="24.7" fill="#d80098"/>
<rect x="1721" y="580.9" width="37" height="24.7" fill="#e800e8"/>
<rect x="1721" y="556.9" width="37" height="24.7" fill="#cc00cc"/>
<rect x="1721" y="532.8" width="37" height="24.7" fill="#b000b0"/>
<rect x="1721" y="508.8" width="37" height="24.7" fill="#960096"/>
<rect x="1721" y="484.7" width="37" height="24.7" fill="#ffffff"/>
<rect x="1721" y="460.6" width="37" height="24.7" fill="#def4ea"/>
<rect x="1721" y="436.6" width="37" height="24.7" fill="#c8eedc"/>
<rect x="1721" y="412.5" width="37" height="24.7" fill="#b8ead4"/>
<rect x="1721" y="388.4" width="37" height="24.7" fill="#aae6cc"/>
<rect x="1721" y="340.3" width="37" height="48.7" fill="#9ae0c4"/>
<rect x="1721" y="220.0" width="37" height="120.9" fill="#8edcbc"/>
</g>
<rect x="1720.5" y="219.5" width="37" height="1540.5" fill="none" stroke="#000" stroke-width="2.2"/>
<rect x="1780" y="1686.6" width="18.5" height="2.4" fill="#000"/>
<text filter="url(#nf)" class="s" font-size="28.6" fill="#000" stroke="#000" stroke-width="0.3" transform="translate(1802.5,1698.2) scale(1.03,1)">15</text>
<rect x="1780" y="1606.4" width="18.5" height="2.4" fill="#000"/>
<text filter="url(#nf)" class="s" font-size="28.6" fill="#000" stroke="#000" stroke-width="0.3" transform="translate(1802.5,1618.0) scale(1.03,1)">10</text>
<rect x="1780" y="1526.2" width="18.5" height="2.4" fill="#000"/>
<text filter="url(#nf)" class="s" font-size="28.6" fill="#000" stroke="#000" stroke-width="0.3" transform="translate(1802.5,1537.8) scale(1.03,1)">5</text>
<text filter="url(#nf)" class="s" font-size="28.6" fill="#000" stroke="#000" stroke-width="0.3" transform="translate(1778.5,1457.6) scale(1.03,1)">0</text>
<text filter="url(#nf)" class="s" font-size="28.6" fill="#000" stroke="#000" stroke-width="0.3" transform="translate(1778.5,1377.4) scale(1.03,1)">5</text>
<text filter="url(#nf)" class="s" font-size="28.6" fill="#000" stroke="#000" stroke-width="0.3" transform="translate(1778.5,1297.2) scale(1.03,1)">10</text>
<text filter="url(#nf)" class="s" font-size="28.6" fill="#000" stroke="#000" stroke-width="0.3" transform="translate(1778.5,1217.0) scale(1.03,1)">15</text>
<text filter="url(#nf)" class="s" font-size="28.6" fill="#000" stroke="#000" stroke-width="0.3" transform="translate(1778.5,1136.8) scale(1.03,1)">20</text>
<text filter="url(#nf)" class="s" font-size="28.6" fill="#000" stroke="#000" stroke-width="0.3" transform="translate(1778.5,1056.5) scale(1.03,1)">25</text>
<text filter="url(#nf)" class="s" font-size="28.6" fill="#000" stroke="#000" stroke-width="0.3" transform="translate(1778.5,976.3) scale(1.03,1)">30</text>
<text filter="url(#nf)" class="s" font-size="28.6" fill="#000" stroke="#000" stroke-width="0.3" transform="translate(1778.5,896.1) scale(1.03,1)">35</text>
<text filter="url(#nf)" class="s" font-size="28.6" fill="#000" stroke="#000" stroke-width="0.3" transform="translate(1778.5,815.9) scale(1.03,1)">40</text>
<text filter="url(#nf)" class="s" font-size="28.6" fill="#000" stroke="#000" stroke-width="0.3" transform="translate(1778.5,735.7) scale(1.03,1)">45</text>
<text filter="url(#nf)" class="s" font-size="28.6" fill="#000" stroke="#000" stroke-width="0.3" transform="translate(1778.5,655.5) scale(1.03,1)">50</text>
<text filter="url(#nf)" class="s" font-size="28.6" fill="#000" stroke="#000" stroke-width="0.3" transform="translate(1778.5,575.3) scale(1.03,1)">55</text>
<text filter="url(#nf)" class="s" font-size="28.6" fill="#000" stroke="#000" stroke-width="0.3" transform="translate(1778.5,495.1) scale(1.03,1)">60</text>
<text filter="url(#nf)" class="s" font-size="28.6" fill="#000" stroke="#000" stroke-width="0.3" transform="translate(1778.5,414.9) scale(1.03,1)">65</text>
<text filter="url(#nf)" class="s" font-size="28.6" fill="#000" stroke="#000" stroke-width="0.3" transform="translate(1778.5,334.7) scale(1.03,1)">70</text>
<text filter="url(#nf)" class="s" font-size="28.6" fill="#000" stroke="#000" stroke-width="0.3" transform="translate(1778.5,254.5) scale(1.03,1)">75</text>
<path d="M1758,1687.8h10M1758,1607.6h10M1758,1527.4h10M1758,1447.2h10M1758,1367.0h10M1758,1286.8h10M1758,1206.6h10M1758,1126.4h10M1758,1046.1h10M1758,965.9h10M1758,885.7h10M1758,805.5h10M1758,725.3h10M1758,645.1h10M1758,564.9h10M1758,484.7h10M1758,404.5h10M1758,324.3h10M1758,244.1h10" stroke="#000" stroke-width="2.2"/>
<path d="M140.2,1816.4A38.2,38.2 0 1 0 139.3,1852.8" fill="none" stroke="#fdb400" stroke-width="19"/>
<path d="M99,1819.5C115.875,1809.5 129.375,1823.5 146.25,1819.5S162.5,1813.5 166.5,1811.5L166.5,1825C162.5,1828 156.375,1833 146.25,1833S115.875,1822 99,1832Z" fill="#0a94dc"/>
<path d="M99,1840.5C115.875,1830.5 129.375,1844.5 146.25,1840.5S162.5,1834.5 166.5,1832.5L166.5,1846C162.5,1849 156.375,1854 146.25,1854S115.875,1843 99,1853Z" fill="#0a94dc"/>
<g class="s" fill="#231f20" filter="url(#idf)">
<text x="179" y="1807" font-size="27.5" textLength="113" lengthAdjust="spacingAndGlyphs">Servicio</text>
<text x="179" y="1833.7" font-size="27.5" textLength="201" lengthAdjust="spacingAndGlyphs">Meteorológico</text>
<text x="179" y="1860.4" font-size="27.5" textLength="119" lengthAdjust="spacingAndGlyphs">Nacional</text>
<text x="180" y="1880.6" font-size="16.6" font-weight="bold" textLength="93" lengthAdjust="spacingAndGlyphs" fill="#231f20">Argentina</text>
</g>
<g fill="none" stroke="#56607f" stroke-linecap="round" opacity="0.95">
<path d="M524.1,1800.9L510.0,1805.8M523.8,1799.6L513.0,1801.6M523.6,1798.2L508.6,1798.7M523.7,1796.9L512.8,1795.5M524.0,1795.5L509.6,1791.5M524.5,1794.3L514.6,1789.7M525.2,1793.1L512.9,1784.9M526.1,1792.0L518.3,1784.8M527.2,1791.1L518.3,1779.7M528.4,1790.4L523.4,1781.1M529.8,1789.9L525.1,1776.4M531.2,1789.6L529.4,1779.2M532.6,1789.5L532.6,1775.2M534.0,1789.6L535.8,1779.2M535.4,1789.9L540.1,1776.4M536.8,1790.4L541.8,1781.1M538.0,1791.1L546.9,1779.7M539.1,1792.0L546.9,1784.8M540.0,1793.1L552.3,1784.9M540.7,1794.3L550.6,1789.7M541.2,1795.5L555.6,1791.5M541.5,1796.9L552.4,1795.5M541.6,1798.2L556.6,1798.7M541.4,1799.6L552.2,1801.6M541.1,1800.9L555.2,1805.8" stroke-width="1.3"/>
<path d="M523.6,1799a9,8.5 0 0 1 18,0" stroke-width="1.4" fill="#e6e6e6"/>
<path d="M527.6,1795.5h3.4M534.2,1795.5h3.4" stroke-width="1.6"/>
<ellipse cx="532.6" cy="1843" rx="34" ry="41.5" stroke-width="4.4" stroke-dasharray="2.4 2.2" stroke-linecap="butt"/>
<ellipse cx="532.6" cy="1843" rx="34" ry="41.5" stroke-width="1"/>
<ellipse cx="532.6" cy="1843" rx="27.5" ry="35" stroke-width="1.6" fill="#e6e6e6"/>
<path d="M520.7,1812.1H544.5M515.9,1816.2H549.3M512.7,1820.3H552.5M510.3,1824.4H554.9M508.6,1828.5H556.6M507.3,1832.6H557.9M506.5,1836.7H558.7M506.2,1840.8H559.0" stroke-width="0.9"/>
<path d="M523.6,1830q-2,-13 8,-15q12,0 11,12q-1,4 -5,3l-9,0.5q-2,3 -5,-0.5z" stroke-width="1.3" fill="#e6e6e6"/>
<path d="M532.6,1831V1872" stroke-width="1.7"/>
<path d="M506.6,1849q13,-1 20,3q6,4 12,0q8,-4 20,-3M508.6,1863q10,-6 18,-10M556.6,1863q-10,-6 -18,-10M524.6,1852q8,8 16,0" stroke-width="1.2"/>
<path d="M526.6,1883h12v6h-12zM526.6,1888l-7,8M538.6,1888l7,8M530.6,1889l-5,7M534.6,1889l5,7" stroke-width="1.8" fill="#56607f"/>
</g>
<g class="f" fill="#3a4468" filter="url(#idf)">
<text x="583.4" y="1827.5" font-size="27.6" font-weight="bold" textLength="131.5" lengthAdjust="spacingAndGlyphs">Ministerio</text>
<text x="583.4" y="1853" font-size="27.6" font-weight="bold" textLength="133" lengthAdjust="spacingAndGlyphs">de Defensa</text>
<text x="583.4" y="1873" font-size="15.4" textLength="150" lengthAdjust="spacingAndGlyphs" fill="#4a5478">República Argentina</text>
</g>
<g fill="none" stroke="#2a3155" stroke-linecap="round" opacity="1">
<path d="M885.2,1800.9L871.1,1805.8M884.9,1799.6L874.1,1801.6M884.7,1798.2L869.7,1798.7M884.8,1796.9L873.9,1795.5M885.1,1795.5L870.7,1791.5M885.6,1794.3L875.7,1789.7M886.3,1793.1L874.0,1784.9M887.2,1792.0L879.4,1784.8M888.3,1791.1L879.4,1779.7M889.5,1790.4L884.5,1781.1M890.9,1789.9L886.2,1776.4M892.3,1789.6L890.5,1779.2M893.7,1789.5L893.7,1775.2M895.1,1789.6L896.9,1779.2M896.5,1789.9L901.2,1776.4M897.9,1790.4L902.9,1781.1M899.1,1791.1L908.0,1779.7M900.2,1792.0L908.0,1784.8M901.1,1793.1L913.4,1784.9M901.8,1794.3L911.7,1789.7M902.3,1795.5L916.7,1791.5M902.6,1796.9L913.5,1795.5M902.7,1798.2L917.7,1798.7M902.5,1799.6L913.3,1801.6M902.2,1800.9L916.3,1805.8" stroke-width="1.3"/>
<path d="M884.7,1799a9,8.5 0 0 1 18,0" stroke-width="1.4" fill="#e6e6e6"/>
<path d="M888.7,1795.5h3.4M895.3000000000001,1795.5h3.4" stroke-width="1.6"/>
<ellipse cx="893.7" cy="1843" rx="34" ry="41.5" stroke-width="4.4" stroke-dasharray="2.4 2.2" stroke-linecap="butt"/>
<ellipse cx="893.7" cy="1843" rx="34" ry="41.5" stroke-width="1"/>
<ellipse cx="893.7" cy="1843" rx="27.5" ry="35" stroke-width="1.6" fill="#e6e6e6"/>
<path d="M881.8,1812.1H905.6M877.0,1816.2H910.4M873.8,1820.3H913.6M871.4,1824.4H916.0M869.7,1828.5H917.7M868.4,1832.6H919.0M867.6,1836.7H919.8M867.3,1840.8H920.1" stroke-width="0.9"/>
<path d="M884.7,1830q-2,-13 8,-15q12,0 11,12q-1,4 -5,3l-9,0.5q-2,3 -5,-0.5z" stroke-width="1.3" fill="#e6e6e6"/>
<path d="M893.7,1831V1872" stroke-width="1.7"/>
<path d="M867.7,1849q13,-1 20,3q6,4 12,0q8,-4 20,-3M869.7,1863q10,-6 18,-10M917.7,1863q-10,-6 -18,-10M885.7,1852q8,8 16,0" stroke-width="1.2"/>
<path d="M887.7,1883h12v6h-12zM887.7,1888l-7,8M899.7,1888l7,8M891.7,1889l-5,7M895.7,1889l5,7" stroke-width="1.8" fill="#2a3155"/>
</g>
<g class="f" fill="#232a4e" filter="url(#idf)">
<text x="946.7" y="1827.5" font-size="27.6" font-weight="bold" textLength="134" lengthAdjust="spacingAndGlyphs">Ministerio</text>
<text x="946.7" y="1853" font-size="27.6" font-weight="bold" textLength="161.5" lengthAdjust="spacingAndGlyphs">de Economía</text>
<text x="946.7" y="1873" font-size="15.4" textLength="152" lengthAdjust="spacingAndGlyphs">República Argentina</text>
</g>
</svg></body></html>
